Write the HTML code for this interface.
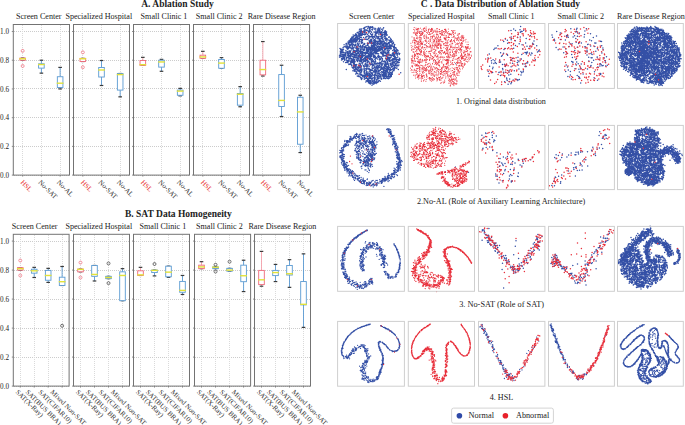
<!DOCTYPE html><html><head><meta charset="utf-8"><style>html,body{margin:0;padding:0;background:#fff;width:685px;height:425px;overflow:hidden}svg{display:block}text{font-family:"Liberation Serif",serif}</style></head><body>
<svg width="685" height="425" viewBox="0 0 685 425">
<rect width="685" height="425" fill="#fff"/>
<text x="141.20" y="7.00" font-size="9.5" font-weight="bold" fill="#222" text-anchor="start" >A. Ablation Study</text>
<text x="125.00" y="217.40" font-size="9.5" font-weight="bold" fill="#222" text-anchor="start" >B. SAT Data Homogeneity</text>
<text x="420.80" y="7.20" font-size="9.5" font-weight="bold" fill="#222" text-anchor="start" >C . Data Distribution of Ablation Study</text>
<text x="15.90" y="19.00" font-size="8.1" fill="#222" text-anchor="start" >Screen Center</text>
<text x="65.40" y="19.00" font-size="8.1" fill="#222" text-anchor="start" >Specialized Hospital</text>
<text x="140.60" y="19.00" font-size="8.1" fill="#222" text-anchor="start" >Small Clinic 1</text>
<text x="195.80" y="19.00" font-size="8.1" fill="#222" text-anchor="start" >Small Clinic 2</text>
<text x="247.70" y="19.00" font-size="8.1" fill="#222" text-anchor="start" >Rare Disease Region</text>
<text x="11.80" y="228.80" font-size="8.1" fill="#222" text-anchor="start" >Screen Center</text>
<text x="65.40" y="228.80" font-size="8.1" fill="#222" text-anchor="start" >Specialized Hospital</text>
<text x="139.50" y="228.80" font-size="8.1" fill="#222" text-anchor="start" >Small Clinic 1</text>
<text x="196.00" y="228.80" font-size="8.1" fill="#222" text-anchor="start" >Small Clinic 2</text>
<text x="248.40" y="228.80" font-size="8.1" fill="#222" text-anchor="start" >Rare Disease Region</text>
<line x1="14" y1="175.50" x2="69.50" y2="175.50" stroke="#cccccc" stroke-width="1" stroke-dasharray="1,1"/>
<line x1="14" y1="146.50" x2="69.50" y2="146.50" stroke="#cccccc" stroke-width="1" stroke-dasharray="1,1"/>
<line x1="14" y1="117.50" x2="69.50" y2="117.50" stroke="#cccccc" stroke-width="1" stroke-dasharray="1,1"/>
<line x1="14" y1="88.50" x2="69.50" y2="88.50" stroke="#cccccc" stroke-width="1" stroke-dasharray="1,1"/>
<line x1="14" y1="60.50" x2="69.50" y2="60.50" stroke="#cccccc" stroke-width="1" stroke-dasharray="1,1"/>
<line x1="14" y1="31.50" x2="69.50" y2="31.50" stroke="#cccccc" stroke-width="1" stroke-dasharray="1,1"/>
<line x1="22.50" y1="25" x2="22.50" y2="175.10" stroke="#dadada" stroke-width="1" stroke-dasharray="1,1"/>
<line x1="41.50" y1="25" x2="41.50" y2="175.10" stroke="#dadada" stroke-width="1" stroke-dasharray="1,1"/>
<line x1="60.50" y1="25" x2="60.50" y2="175.10" stroke="#dadada" stroke-width="1" stroke-dasharray="1,1"/>
<line x1="22.67" y1="58.07" x2="22.67" y2="58.07" stroke="#f4a0aa" stroke-width="0.9"/>
<line x1="22.67" y1="60.22" x2="22.67" y2="60.22" stroke="#f4a0aa" stroke-width="0.9"/>
<line x1="20.87" y1="58.07" x2="24.47" y2="58.07" stroke="#3a3a3a" stroke-width="1.2"/>
<line x1="20.87" y1="60.22" x2="24.47" y2="60.22" stroke="#3a3a3a" stroke-width="1.2"/>
<rect x="19.87" y="58.07" width="5.60" height="2.15" fill="#fff" stroke="#f06878" stroke-width="0.9"/>
<line x1="19.27" y1="58.78" x2="26.07" y2="58.78" stroke="#e2e23a" stroke-width="1.4"/>
<circle cx="22.67" cy="50.89" r="1.5" fill="none" stroke="#f06878" stroke-width="0.7"/>
<circle cx="22.67" cy="65.96" r="1.5" fill="none" stroke="#f06878" stroke-width="0.7"/>
<line x1="41.40" y1="60.22" x2="41.40" y2="63.81" stroke="#5a9ad2" stroke-width="0.9"/>
<line x1="41.40" y1="68.12" x2="41.40" y2="73.14" stroke="#5a9ad2" stroke-width="0.9"/>
<line x1="39.60" y1="60.22" x2="43.20" y2="60.22" stroke="#3a3a3a" stroke-width="1.2"/>
<line x1="39.60" y1="73.14" x2="43.20" y2="73.14" stroke="#3a3a3a" stroke-width="1.2"/>
<rect x="38.60" y="63.81" width="5.60" height="4.31" fill="#fff" stroke="#5a9ad2" stroke-width="0.9"/>
<line x1="38.00" y1="64.53" x2="44.80" y2="64.53" stroke="#e2e23a" stroke-width="1.4"/>
<line x1="60.13" y1="67.40" x2="60.13" y2="76.73" stroke="#5a9ad2" stroke-width="0.9"/>
<line x1="60.13" y1="87.50" x2="60.13" y2="88.94" stroke="#5a9ad2" stroke-width="0.9"/>
<line x1="58.33" y1="67.40" x2="61.93" y2="67.40" stroke="#3a3a3a" stroke-width="1.2"/>
<line x1="58.33" y1="88.94" x2="61.93" y2="88.94" stroke="#3a3a3a" stroke-width="1.2"/>
<rect x="57.33" y="76.73" width="5.60" height="10.77" fill="#fff" stroke="#5a9ad2" stroke-width="0.9"/>
<line x1="56.73" y1="83.20" x2="63.53" y2="83.20" stroke="#e2e23a" stroke-width="1.4"/>
<rect x="13.30" y="24.50" width="56.20" height="150.60" fill="none" stroke="#737373" stroke-width="1"/>
<line x1="11.80" y1="175.10" x2="13.30" y2="175.10" stroke="#737373" stroke-width="0.8"/>
<line x1="11.80" y1="146.38" x2="13.30" y2="146.38" stroke="#737373" stroke-width="0.8"/>
<line x1="11.80" y1="117.66" x2="13.30" y2="117.66" stroke="#737373" stroke-width="0.8"/>
<line x1="11.80" y1="88.94" x2="13.30" y2="88.94" stroke="#737373" stroke-width="0.8"/>
<line x1="11.80" y1="60.22" x2="13.30" y2="60.22" stroke="#737373" stroke-width="0.8"/>
<line x1="11.80" y1="31.50" x2="13.30" y2="31.50" stroke="#737373" stroke-width="0.8"/>
<line x1="22.67" y1="175.10" x2="22.67" y2="176.60" stroke="#737373" stroke-width="0.8"/>
<text transform="translate(20.27,182.70) rotate(45)" font-size="7.0" fill="#e82a2a">HSL</text>
<line x1="41.40" y1="175.10" x2="41.40" y2="176.60" stroke="#737373" stroke-width="0.8"/>
<text transform="translate(38.00,182.70) rotate(45)" font-size="7.0" fill="#333">No-SAT</text>
<line x1="60.13" y1="175.10" x2="60.13" y2="176.60" stroke="#737373" stroke-width="0.8"/>
<text transform="translate(56.53,182.70) rotate(45)" font-size="7.0" fill="#333">No-AL</text>
<text x="9.10" y="177.70" font-size="7.2" fill="#222" text-anchor="end" >0.0</text>
<text x="9.10" y="148.98" font-size="7.2" fill="#222" text-anchor="end" >0.2</text>
<text x="9.10" y="120.26" font-size="7.2" fill="#222" text-anchor="end" >0.4</text>
<text x="9.10" y="91.54" font-size="7.2" fill="#222" text-anchor="end" >0.6</text>
<text x="9.10" y="62.82" font-size="7.2" fill="#222" text-anchor="end" >0.8</text>
<text x="9.10" y="34.10" font-size="7.2" fill="#222" text-anchor="end" >1.0</text>
<line x1="74" y1="175.50" x2="129.50" y2="175.50" stroke="#cccccc" stroke-width="1" stroke-dasharray="1,1"/>
<line x1="74" y1="146.50" x2="129.50" y2="146.50" stroke="#cccccc" stroke-width="1" stroke-dasharray="1,1"/>
<line x1="74" y1="117.50" x2="129.50" y2="117.50" stroke="#cccccc" stroke-width="1" stroke-dasharray="1,1"/>
<line x1="74" y1="88.50" x2="129.50" y2="88.50" stroke="#cccccc" stroke-width="1" stroke-dasharray="1,1"/>
<line x1="74" y1="60.50" x2="129.50" y2="60.50" stroke="#cccccc" stroke-width="1" stroke-dasharray="1,1"/>
<line x1="74" y1="31.50" x2="129.50" y2="31.50" stroke="#cccccc" stroke-width="1" stroke-dasharray="1,1"/>
<line x1="82.50" y1="25" x2="82.50" y2="175.10" stroke="#dadada" stroke-width="1" stroke-dasharray="1,1"/>
<line x1="101.50" y1="25" x2="101.50" y2="175.10" stroke="#dadada" stroke-width="1" stroke-dasharray="1,1"/>
<line x1="120.50" y1="25" x2="120.50" y2="175.10" stroke="#dadada" stroke-width="1" stroke-dasharray="1,1"/>
<line x1="82.83" y1="58.35" x2="82.83" y2="58.35" stroke="#f4a0aa" stroke-width="0.9"/>
<line x1="82.83" y1="61.51" x2="82.83" y2="61.51" stroke="#f4a0aa" stroke-width="0.9"/>
<line x1="81.03" y1="58.35" x2="84.63" y2="58.35" stroke="#3a3a3a" stroke-width="1.2"/>
<line x1="81.03" y1="61.51" x2="84.63" y2="61.51" stroke="#3a3a3a" stroke-width="1.2"/>
<rect x="80.03" y="58.35" width="5.60" height="3.16" fill="#fff" stroke="#f06878" stroke-width="0.9"/>
<line x1="79.43" y1="58.78" x2="86.23" y2="58.78" stroke="#e2e23a" stroke-width="1.4"/>
<circle cx="82.83" cy="52.32" r="1.5" fill="none" stroke="#f06878" stroke-width="0.7"/>
<circle cx="82.83" cy="67.26" r="1.5" fill="none" stroke="#f06878" stroke-width="0.7"/>
<line x1="101.50" y1="60.51" x2="101.50" y2="67.54" stroke="#5a9ad2" stroke-width="0.9"/>
<line x1="101.50" y1="77.02" x2="101.50" y2="85.49" stroke="#5a9ad2" stroke-width="0.9"/>
<line x1="99.70" y1="60.51" x2="103.30" y2="60.51" stroke="#3a3a3a" stroke-width="1.2"/>
<line x1="99.70" y1="85.49" x2="103.30" y2="85.49" stroke="#3a3a3a" stroke-width="1.2"/>
<rect x="98.70" y="67.54" width="5.60" height="9.48" fill="#fff" stroke="#5a9ad2" stroke-width="0.9"/>
<line x1="98.10" y1="69.98" x2="104.90" y2="69.98" stroke="#e2e23a" stroke-width="1.4"/>
<line x1="120.17" y1="73.50" x2="120.17" y2="73.50" stroke="#5a9ad2" stroke-width="0.9"/>
<line x1="120.17" y1="90.09" x2="120.17" y2="96.84" stroke="#5a9ad2" stroke-width="0.9"/>
<line x1="118.37" y1="73.50" x2="121.97" y2="73.50" stroke="#3a3a3a" stroke-width="1.2"/>
<line x1="118.37" y1="96.84" x2="121.97" y2="96.84" stroke="#3a3a3a" stroke-width="1.2"/>
<rect x="117.37" y="73.50" width="5.60" height="16.59" fill="#fff" stroke="#5a9ad2" stroke-width="0.9"/>
<line x1="116.77" y1="74.58" x2="123.57" y2="74.58" stroke="#e2e23a" stroke-width="1.4"/>
<rect x="73.50" y="24.50" width="56.00" height="150.60" fill="none" stroke="#737373" stroke-width="1"/>
<line x1="72.00" y1="175.10" x2="73.50" y2="175.10" stroke="#737373" stroke-width="0.8"/>
<line x1="72.00" y1="146.38" x2="73.50" y2="146.38" stroke="#737373" stroke-width="0.8"/>
<line x1="72.00" y1="117.66" x2="73.50" y2="117.66" stroke="#737373" stroke-width="0.8"/>
<line x1="72.00" y1="88.94" x2="73.50" y2="88.94" stroke="#737373" stroke-width="0.8"/>
<line x1="72.00" y1="60.22" x2="73.50" y2="60.22" stroke="#737373" stroke-width="0.8"/>
<line x1="72.00" y1="31.50" x2="73.50" y2="31.50" stroke="#737373" stroke-width="0.8"/>
<line x1="82.83" y1="175.10" x2="82.83" y2="176.60" stroke="#737373" stroke-width="0.8"/>
<text transform="translate(80.43,182.70) rotate(45)" font-size="7.0" fill="#e82a2a">HSL</text>
<line x1="101.50" y1="175.10" x2="101.50" y2="176.60" stroke="#737373" stroke-width="0.8"/>
<text transform="translate(98.10,182.70) rotate(45)" font-size="7.0" fill="#333">No-SAT</text>
<line x1="120.17" y1="175.10" x2="120.17" y2="176.60" stroke="#737373" stroke-width="0.8"/>
<text transform="translate(116.57,182.70) rotate(45)" font-size="7.0" fill="#333">No-AL</text>
<line x1="134" y1="175.50" x2="189.50" y2="175.50" stroke="#cccccc" stroke-width="1" stroke-dasharray="1,1"/>
<line x1="134" y1="146.50" x2="189.50" y2="146.50" stroke="#cccccc" stroke-width="1" stroke-dasharray="1,1"/>
<line x1="134" y1="117.50" x2="189.50" y2="117.50" stroke="#cccccc" stroke-width="1" stroke-dasharray="1,1"/>
<line x1="134" y1="88.50" x2="189.50" y2="88.50" stroke="#cccccc" stroke-width="1" stroke-dasharray="1,1"/>
<line x1="134" y1="60.50" x2="189.50" y2="60.50" stroke="#cccccc" stroke-width="1" stroke-dasharray="1,1"/>
<line x1="134" y1="31.50" x2="189.50" y2="31.50" stroke="#cccccc" stroke-width="1" stroke-dasharray="1,1"/>
<line x1="142.50" y1="25" x2="142.50" y2="175.10" stroke="#dadada" stroke-width="1" stroke-dasharray="1,1"/>
<line x1="161.50" y1="25" x2="161.50" y2="175.10" stroke="#dadada" stroke-width="1" stroke-dasharray="1,1"/>
<line x1="180.50" y1="25" x2="180.50" y2="175.10" stroke="#dadada" stroke-width="1" stroke-dasharray="1,1"/>
<line x1="142.83" y1="57.35" x2="142.83" y2="60.51" stroke="#f4a0aa" stroke-width="0.9"/>
<line x1="142.83" y1="65.39" x2="142.83" y2="65.39" stroke="#f4a0aa" stroke-width="0.9"/>
<line x1="141.03" y1="57.35" x2="144.63" y2="57.35" stroke="#3a3a3a" stroke-width="1.2"/>
<line x1="141.03" y1="65.39" x2="144.63" y2="65.39" stroke="#3a3a3a" stroke-width="1.2"/>
<rect x="140.03" y="60.51" width="5.60" height="4.88" fill="#fff" stroke="#f06878" stroke-width="0.9"/>
<line x1="139.43" y1="64.67" x2="146.23" y2="64.67" stroke="#e2e23a" stroke-width="1.4"/>
<line x1="161.50" y1="59.36" x2="161.50" y2="60.22" stroke="#5a9ad2" stroke-width="0.9"/>
<line x1="161.50" y1="67.11" x2="161.50" y2="71.28" stroke="#5a9ad2" stroke-width="0.9"/>
<line x1="159.70" y1="59.36" x2="163.30" y2="59.36" stroke="#3a3a3a" stroke-width="1.2"/>
<line x1="159.70" y1="71.28" x2="163.30" y2="71.28" stroke="#3a3a3a" stroke-width="1.2"/>
<rect x="158.70" y="60.22" width="5.60" height="6.89" fill="#fff" stroke="#5a9ad2" stroke-width="0.9"/>
<line x1="158.10" y1="61.94" x2="164.90" y2="61.94" stroke="#e2e23a" stroke-width="1.4"/>
<line x1="180.17" y1="88.37" x2="180.17" y2="90.09" stroke="#5a9ad2" stroke-width="0.9"/>
<line x1="180.17" y1="95.26" x2="180.17" y2="95.83" stroke="#5a9ad2" stroke-width="0.9"/>
<line x1="178.37" y1="88.37" x2="181.97" y2="88.37" stroke="#3a3a3a" stroke-width="1.2"/>
<line x1="178.37" y1="95.83" x2="181.97" y2="95.83" stroke="#3a3a3a" stroke-width="1.2"/>
<rect x="177.37" y="90.09" width="5.60" height="5.17" fill="#fff" stroke="#5a9ad2" stroke-width="0.9"/>
<line x1="176.77" y1="91.09" x2="183.57" y2="91.09" stroke="#e2e23a" stroke-width="1.4"/>
<rect x="133.50" y="24.50" width="56.00" height="150.60" fill="none" stroke="#737373" stroke-width="1"/>
<line x1="132.00" y1="175.10" x2="133.50" y2="175.10" stroke="#737373" stroke-width="0.8"/>
<line x1="132.00" y1="146.38" x2="133.50" y2="146.38" stroke="#737373" stroke-width="0.8"/>
<line x1="132.00" y1="117.66" x2="133.50" y2="117.66" stroke="#737373" stroke-width="0.8"/>
<line x1="132.00" y1="88.94" x2="133.50" y2="88.94" stroke="#737373" stroke-width="0.8"/>
<line x1="132.00" y1="60.22" x2="133.50" y2="60.22" stroke="#737373" stroke-width="0.8"/>
<line x1="132.00" y1="31.50" x2="133.50" y2="31.50" stroke="#737373" stroke-width="0.8"/>
<line x1="142.83" y1="175.10" x2="142.83" y2="176.60" stroke="#737373" stroke-width="0.8"/>
<text transform="translate(140.43,182.70) rotate(45)" font-size="7.0" fill="#e82a2a">HSL</text>
<line x1="161.50" y1="175.10" x2="161.50" y2="176.60" stroke="#737373" stroke-width="0.8"/>
<text transform="translate(158.10,182.70) rotate(45)" font-size="7.0" fill="#333">No-SAT</text>
<line x1="180.17" y1="175.10" x2="180.17" y2="176.60" stroke="#737373" stroke-width="0.8"/>
<text transform="translate(176.57,182.70) rotate(45)" font-size="7.0" fill="#333">No-AL</text>
<line x1="194" y1="175.50" x2="249.50" y2="175.50" stroke="#cccccc" stroke-width="1" stroke-dasharray="1,1"/>
<line x1="194" y1="146.50" x2="249.50" y2="146.50" stroke="#cccccc" stroke-width="1" stroke-dasharray="1,1"/>
<line x1="194" y1="117.50" x2="249.50" y2="117.50" stroke="#cccccc" stroke-width="1" stroke-dasharray="1,1"/>
<line x1="194" y1="88.50" x2="249.50" y2="88.50" stroke="#cccccc" stroke-width="1" stroke-dasharray="1,1"/>
<line x1="194" y1="60.50" x2="249.50" y2="60.50" stroke="#cccccc" stroke-width="1" stroke-dasharray="1,1"/>
<line x1="194" y1="31.50" x2="249.50" y2="31.50" stroke="#cccccc" stroke-width="1" stroke-dasharray="1,1"/>
<line x1="202.50" y1="25" x2="202.50" y2="175.10" stroke="#dadada" stroke-width="1" stroke-dasharray="1,1"/>
<line x1="221.50" y1="25" x2="221.50" y2="175.10" stroke="#dadada" stroke-width="1" stroke-dasharray="1,1"/>
<line x1="240.50" y1="25" x2="240.50" y2="175.10" stroke="#dadada" stroke-width="1" stroke-dasharray="1,1"/>
<line x1="202.83" y1="51.32" x2="202.83" y2="55.19" stroke="#f4a0aa" stroke-width="0.9"/>
<line x1="202.83" y1="58.35" x2="202.83" y2="58.35" stroke="#f4a0aa" stroke-width="0.9"/>
<line x1="201.03" y1="51.32" x2="204.63" y2="51.32" stroke="#3a3a3a" stroke-width="1.2"/>
<line x1="201.03" y1="58.35" x2="204.63" y2="58.35" stroke="#3a3a3a" stroke-width="1.2"/>
<rect x="200.03" y="55.19" width="5.60" height="3.16" fill="#fff" stroke="#f06878" stroke-width="0.9"/>
<line x1="199.43" y1="56.92" x2="206.23" y2="56.92" stroke="#e2e23a" stroke-width="1.4"/>
<line x1="221.50" y1="57.64" x2="221.50" y2="59.50" stroke="#5a9ad2" stroke-width="0.9"/>
<line x1="221.50" y1="68.26" x2="221.50" y2="68.26" stroke="#5a9ad2" stroke-width="0.9"/>
<line x1="219.70" y1="57.64" x2="223.30" y2="57.64" stroke="#3a3a3a" stroke-width="1.2"/>
<line x1="219.70" y1="68.26" x2="223.30" y2="68.26" stroke="#3a3a3a" stroke-width="1.2"/>
<rect x="218.70" y="59.50" width="5.60" height="8.76" fill="#fff" stroke="#5a9ad2" stroke-width="0.9"/>
<line x1="218.10" y1="63.09" x2="224.90" y2="63.09" stroke="#e2e23a" stroke-width="1.4"/>
<line x1="240.17" y1="86.64" x2="240.17" y2="93.54" stroke="#5a9ad2" stroke-width="0.9"/>
<line x1="240.17" y1="105.17" x2="240.17" y2="106.75" stroke="#5a9ad2" stroke-width="0.9"/>
<line x1="238.37" y1="86.64" x2="241.97" y2="86.64" stroke="#3a3a3a" stroke-width="1.2"/>
<line x1="238.37" y1="106.75" x2="241.97" y2="106.75" stroke="#3a3a3a" stroke-width="1.2"/>
<rect x="237.37" y="93.54" width="5.60" height="11.63" fill="#fff" stroke="#5a9ad2" stroke-width="0.9"/>
<line x1="236.77" y1="94.25" x2="243.57" y2="94.25" stroke="#e2e23a" stroke-width="1.4"/>
<rect x="193.50" y="24.50" width="56.00" height="150.60" fill="none" stroke="#737373" stroke-width="1"/>
<line x1="192.00" y1="175.10" x2="193.50" y2="175.10" stroke="#737373" stroke-width="0.8"/>
<line x1="192.00" y1="146.38" x2="193.50" y2="146.38" stroke="#737373" stroke-width="0.8"/>
<line x1="192.00" y1="117.66" x2="193.50" y2="117.66" stroke="#737373" stroke-width="0.8"/>
<line x1="192.00" y1="88.94" x2="193.50" y2="88.94" stroke="#737373" stroke-width="0.8"/>
<line x1="192.00" y1="60.22" x2="193.50" y2="60.22" stroke="#737373" stroke-width="0.8"/>
<line x1="192.00" y1="31.50" x2="193.50" y2="31.50" stroke="#737373" stroke-width="0.8"/>
<line x1="202.83" y1="175.10" x2="202.83" y2="176.60" stroke="#737373" stroke-width="0.8"/>
<text transform="translate(200.43,182.70) rotate(45)" font-size="7.0" fill="#e82a2a">HSL</text>
<line x1="221.50" y1="175.10" x2="221.50" y2="176.60" stroke="#737373" stroke-width="0.8"/>
<text transform="translate(218.10,182.70) rotate(45)" font-size="7.0" fill="#333">No-SAT</text>
<line x1="240.17" y1="175.10" x2="240.17" y2="176.60" stroke="#737373" stroke-width="0.8"/>
<text transform="translate(236.57,182.70) rotate(45)" font-size="7.0" fill="#333">No-AL</text>
<line x1="254" y1="175.50" x2="309.60" y2="175.50" stroke="#cccccc" stroke-width="1" stroke-dasharray="1,1"/>
<line x1="254" y1="146.50" x2="309.60" y2="146.50" stroke="#cccccc" stroke-width="1" stroke-dasharray="1,1"/>
<line x1="254" y1="117.50" x2="309.60" y2="117.50" stroke="#cccccc" stroke-width="1" stroke-dasharray="1,1"/>
<line x1="254" y1="88.50" x2="309.60" y2="88.50" stroke="#cccccc" stroke-width="1" stroke-dasharray="1,1"/>
<line x1="254" y1="60.50" x2="309.60" y2="60.50" stroke="#cccccc" stroke-width="1" stroke-dasharray="1,1"/>
<line x1="254" y1="31.50" x2="309.60" y2="31.50" stroke="#cccccc" stroke-width="1" stroke-dasharray="1,1"/>
<line x1="262.50" y1="25" x2="262.50" y2="175.10" stroke="#dadada" stroke-width="1" stroke-dasharray="1,1"/>
<line x1="281.50" y1="25" x2="281.50" y2="175.10" stroke="#dadada" stroke-width="1" stroke-dasharray="1,1"/>
<line x1="300.50" y1="25" x2="300.50" y2="175.10" stroke="#dadada" stroke-width="1" stroke-dasharray="1,1"/>
<line x1="262.85" y1="41.55" x2="262.85" y2="60.22" stroke="#f4a0aa" stroke-width="0.9"/>
<line x1="262.85" y1="74.87" x2="262.85" y2="76.02" stroke="#f4a0aa" stroke-width="0.9"/>
<line x1="261.05" y1="41.55" x2="264.65" y2="41.55" stroke="#3a3a3a" stroke-width="1.2"/>
<line x1="261.05" y1="76.02" x2="264.65" y2="76.02" stroke="#3a3a3a" stroke-width="1.2"/>
<rect x="260.05" y="60.22" width="5.60" height="14.65" fill="#fff" stroke="#f06878" stroke-width="0.9"/>
<line x1="259.45" y1="69.55" x2="266.25" y2="69.55" stroke="#e2e23a" stroke-width="1.4"/>
<line x1="281.55" y1="65.25" x2="281.55" y2="74.58" stroke="#5a9ad2" stroke-width="0.9"/>
<line x1="281.55" y1="106.46" x2="281.55" y2="116.51" stroke="#5a9ad2" stroke-width="0.9"/>
<line x1="279.75" y1="65.25" x2="283.35" y2="65.25" stroke="#3a3a3a" stroke-width="1.2"/>
<line x1="279.75" y1="116.51" x2="283.35" y2="116.51" stroke="#3a3a3a" stroke-width="1.2"/>
<rect x="278.75" y="74.58" width="5.60" height="31.88" fill="#fff" stroke="#5a9ad2" stroke-width="0.9"/>
<line x1="278.15" y1="100.43" x2="284.95" y2="100.43" stroke="#e2e23a" stroke-width="1.4"/>
<line x1="300.25" y1="95.26" x2="300.25" y2="97.27" stroke="#5a9ad2" stroke-width="0.9"/>
<line x1="300.25" y1="144.23" x2="300.25" y2="152.55" stroke="#5a9ad2" stroke-width="0.9"/>
<line x1="298.45" y1="95.26" x2="302.05" y2="95.26" stroke="#3a3a3a" stroke-width="1.2"/>
<line x1="298.45" y1="152.55" x2="302.05" y2="152.55" stroke="#3a3a3a" stroke-width="1.2"/>
<rect x="297.45" y="97.27" width="5.60" height="46.96" fill="#fff" stroke="#5a9ad2" stroke-width="0.9"/>
<line x1="296.85" y1="111.92" x2="303.65" y2="111.92" stroke="#e2e23a" stroke-width="1.4"/>
<rect x="253.50" y="24.50" width="56.10" height="150.60" fill="none" stroke="#737373" stroke-width="1"/>
<line x1="252.00" y1="175.10" x2="253.50" y2="175.10" stroke="#737373" stroke-width="0.8"/>
<line x1="252.00" y1="146.38" x2="253.50" y2="146.38" stroke="#737373" stroke-width="0.8"/>
<line x1="252.00" y1="117.66" x2="253.50" y2="117.66" stroke="#737373" stroke-width="0.8"/>
<line x1="252.00" y1="88.94" x2="253.50" y2="88.94" stroke="#737373" stroke-width="0.8"/>
<line x1="252.00" y1="60.22" x2="253.50" y2="60.22" stroke="#737373" stroke-width="0.8"/>
<line x1="252.00" y1="31.50" x2="253.50" y2="31.50" stroke="#737373" stroke-width="0.8"/>
<line x1="262.85" y1="175.10" x2="262.85" y2="176.60" stroke="#737373" stroke-width="0.8"/>
<text transform="translate(260.45,182.70) rotate(45)" font-size="7.0" fill="#e82a2a">HSL</text>
<line x1="281.55" y1="175.10" x2="281.55" y2="176.60" stroke="#737373" stroke-width="0.8"/>
<text transform="translate(278.15,182.70) rotate(45)" font-size="7.0" fill="#333">No-SAT</text>
<line x1="300.25" y1="175.10" x2="300.25" y2="176.60" stroke="#737373" stroke-width="0.8"/>
<text transform="translate(296.65,182.70) rotate(45)" font-size="7.0" fill="#333">No-AL</text>
<line x1="14" y1="386.50" x2="69.10" y2="386.50" stroke="#cccccc" stroke-width="1" stroke-dasharray="1,1"/>
<line x1="14" y1="357.50" x2="69.10" y2="357.50" stroke="#cccccc" stroke-width="1" stroke-dasharray="1,1"/>
<line x1="14" y1="328.50" x2="69.10" y2="328.50" stroke="#cccccc" stroke-width="1" stroke-dasharray="1,1"/>
<line x1="14" y1="299.50" x2="69.10" y2="299.50" stroke="#cccccc" stroke-width="1" stroke-dasharray="1,1"/>
<line x1="14" y1="270.50" x2="69.10" y2="270.50" stroke="#cccccc" stroke-width="1" stroke-dasharray="1,1"/>
<line x1="14" y1="241.50" x2="69.10" y2="241.50" stroke="#cccccc" stroke-width="1" stroke-dasharray="1,1"/>
<line x1="20.50" y1="235" x2="20.50" y2="386.10" stroke="#dadada" stroke-width="1" stroke-dasharray="1,1"/>
<line x1="34.50" y1="235" x2="34.50" y2="386.10" stroke="#dadada" stroke-width="1" stroke-dasharray="1,1"/>
<line x1="48.50" y1="235" x2="48.50" y2="386.10" stroke="#dadada" stroke-width="1" stroke-dasharray="1,1"/>
<line x1="62.50" y1="235" x2="62.50" y2="386.10" stroke="#dadada" stroke-width="1" stroke-dasharray="1,1"/>
<line x1="20.27" y1="267.63" x2="20.27" y2="267.63" stroke="#f4a0aa" stroke-width="0.9"/>
<line x1="20.27" y1="270.10" x2="20.27" y2="270.10" stroke="#f4a0aa" stroke-width="0.9"/>
<line x1="18.47" y1="267.63" x2="22.07" y2="267.63" stroke="#3a3a3a" stroke-width="1.2"/>
<line x1="18.47" y1="270.10" x2="22.07" y2="270.10" stroke="#3a3a3a" stroke-width="1.2"/>
<rect x="17.47" y="267.63" width="5.60" height="2.47" fill="#fff" stroke="#f06878" stroke-width="0.9"/>
<line x1="16.87" y1="268.65" x2="23.68" y2="268.65" stroke="#e2e23a" stroke-width="1.4"/>
<circle cx="20.27" cy="260.53" r="1.5" fill="none" stroke="#f06878" stroke-width="0.7"/>
<circle cx="20.27" cy="275.47" r="1.5" fill="none" stroke="#f06878" stroke-width="0.7"/>
<line x1="34.22" y1="267.35" x2="34.22" y2="269.23" stroke="#5a9ad2" stroke-width="0.9"/>
<line x1="34.22" y1="273.14" x2="34.22" y2="277.50" stroke="#5a9ad2" stroke-width="0.9"/>
<line x1="32.42" y1="267.35" x2="36.02" y2="267.35" stroke="#3a3a3a" stroke-width="1.2"/>
<line x1="32.42" y1="277.50" x2="36.02" y2="277.50" stroke="#3a3a3a" stroke-width="1.2"/>
<rect x="31.42" y="269.23" width="5.60" height="3.91" fill="#fff" stroke="#5a9ad2" stroke-width="0.9"/>
<line x1="30.82" y1="270.82" x2="37.62" y2="270.82" stroke="#e2e23a" stroke-width="1.4"/>
<line x1="48.17" y1="268.36" x2="48.17" y2="270.39" stroke="#5a9ad2" stroke-width="0.9"/>
<line x1="48.17" y1="280.25" x2="48.17" y2="282.43" stroke="#5a9ad2" stroke-width="0.9"/>
<line x1="46.38" y1="268.36" x2="49.97" y2="268.36" stroke="#3a3a3a" stroke-width="1.2"/>
<line x1="46.38" y1="282.43" x2="49.97" y2="282.43" stroke="#3a3a3a" stroke-width="1.2"/>
<rect x="45.38" y="270.39" width="5.60" height="9.86" fill="#fff" stroke="#5a9ad2" stroke-width="0.9"/>
<line x1="44.77" y1="275.47" x2="51.57" y2="275.47" stroke="#e2e23a" stroke-width="1.4"/>
<line x1="62.12" y1="266.48" x2="62.12" y2="277.20" stroke="#5a9ad2" stroke-width="0.9"/>
<line x1="62.12" y1="285.47" x2="62.12" y2="285.47" stroke="#5a9ad2" stroke-width="0.9"/>
<line x1="60.33" y1="266.48" x2="63.92" y2="266.48" stroke="#3a3a3a" stroke-width="1.2"/>
<line x1="60.33" y1="285.47" x2="63.92" y2="285.47" stroke="#3a3a3a" stroke-width="1.2"/>
<rect x="59.33" y="277.20" width="5.60" height="8.27" fill="#fff" stroke="#5a9ad2" stroke-width="0.9"/>
<line x1="58.73" y1="281.70" x2="65.52" y2="281.70" stroke="#e2e23a" stroke-width="1.4"/>
<circle cx="62.12" cy="325.78" r="1.5" fill="none" stroke="#3a3a3a" stroke-width="0.7"/>
<rect x="13.30" y="234.30" width="55.80" height="151.80" fill="none" stroke="#737373" stroke-width="1"/>
<line x1="11.80" y1="386.10" x2="13.30" y2="386.10" stroke="#737373" stroke-width="0.8"/>
<line x1="11.80" y1="357.10" x2="13.30" y2="357.10" stroke="#737373" stroke-width="0.8"/>
<line x1="11.80" y1="328.10" x2="13.30" y2="328.10" stroke="#737373" stroke-width="0.8"/>
<line x1="11.80" y1="299.10" x2="13.30" y2="299.10" stroke="#737373" stroke-width="0.8"/>
<line x1="11.80" y1="270.10" x2="13.30" y2="270.10" stroke="#737373" stroke-width="0.8"/>
<line x1="11.80" y1="241.10" x2="13.30" y2="241.10" stroke="#737373" stroke-width="0.8"/>
<line x1="20.27" y1="386.10" x2="20.27" y2="387.60" stroke="#737373" stroke-width="0.8"/>
<text transform="translate(15.27,392.40) rotate(45)" font-size="7.0" fill="#333">SAT(X-Ray)</text>
<line x1="34.22" y1="386.10" x2="34.22" y2="387.60" stroke="#737373" stroke-width="0.8"/>
<text transform="translate(25.32,392.40) rotate(45)" font-size="7.0" fill="#333">SAT(BUS BRA)</text>
<line x1="48.17" y1="386.10" x2="48.17" y2="387.60" stroke="#737373" stroke-width="0.8"/>
<text transform="translate(37.98,392.40) rotate(45)" font-size="7.0" fill="#333">SAT(CIFAR10)</text>
<line x1="62.12" y1="386.10" x2="62.12" y2="387.60" stroke="#737373" stroke-width="0.8"/>
<text transform="translate(50.12,392.40) rotate(45)" font-size="7.0" fill="#333">Mixed Non-SAT</text>
<text x="9.10" y="388.70" font-size="7.2" fill="#222" text-anchor="end" >0.0</text>
<text x="9.10" y="359.70" font-size="7.2" fill="#222" text-anchor="end" >0.2</text>
<text x="9.10" y="330.70" font-size="7.2" fill="#222" text-anchor="end" >0.4</text>
<text x="9.10" y="301.70" font-size="7.2" fill="#222" text-anchor="end" >0.6</text>
<text x="9.10" y="272.70" font-size="7.2" fill="#222" text-anchor="end" >0.8</text>
<text x="9.10" y="243.70" font-size="7.2" fill="#222" text-anchor="end" >1.0</text>
<line x1="74" y1="386.50" x2="129.50" y2="386.50" stroke="#cccccc" stroke-width="1" stroke-dasharray="1,1"/>
<line x1="74" y1="357.50" x2="129.50" y2="357.50" stroke="#cccccc" stroke-width="1" stroke-dasharray="1,1"/>
<line x1="74" y1="328.50" x2="129.50" y2="328.50" stroke="#cccccc" stroke-width="1" stroke-dasharray="1,1"/>
<line x1="74" y1="299.50" x2="129.50" y2="299.50" stroke="#cccccc" stroke-width="1" stroke-dasharray="1,1"/>
<line x1="74" y1="270.50" x2="129.50" y2="270.50" stroke="#cccccc" stroke-width="1" stroke-dasharray="1,1"/>
<line x1="74" y1="241.50" x2="129.50" y2="241.50" stroke="#cccccc" stroke-width="1" stroke-dasharray="1,1"/>
<line x1="80.50" y1="235" x2="80.50" y2="386.10" stroke="#dadada" stroke-width="1" stroke-dasharray="1,1"/>
<line x1="94.50" y1="235" x2="94.50" y2="386.10" stroke="#dadada" stroke-width="1" stroke-dasharray="1,1"/>
<line x1="108.50" y1="235" x2="108.50" y2="386.10" stroke="#dadada" stroke-width="1" stroke-dasharray="1,1"/>
<line x1="122.50" y1="235" x2="122.50" y2="386.10" stroke="#dadada" stroke-width="1" stroke-dasharray="1,1"/>
<line x1="80.50" y1="269.08" x2="80.50" y2="269.08" stroke="#f4a0aa" stroke-width="0.9"/>
<line x1="80.50" y1="271.84" x2="80.50" y2="271.84" stroke="#f4a0aa" stroke-width="0.9"/>
<line x1="78.70" y1="269.08" x2="82.30" y2="269.08" stroke="#3a3a3a" stroke-width="1.2"/>
<line x1="78.70" y1="271.84" x2="82.30" y2="271.84" stroke="#3a3a3a" stroke-width="1.2"/>
<rect x="77.70" y="269.08" width="5.60" height="2.75" fill="#fff" stroke="#f06878" stroke-width="0.9"/>
<line x1="77.10" y1="269.38" x2="83.90" y2="269.38" stroke="#e2e23a" stroke-width="1.4"/>
<circle cx="80.50" cy="262.56" r="1.5" fill="none" stroke="#f06878" stroke-width="0.7"/>
<circle cx="80.50" cy="277.50" r="1.5" fill="none" stroke="#f06878" stroke-width="0.7"/>
<line x1="94.50" y1="265.46" x2="94.50" y2="265.46" stroke="#5a9ad2" stroke-width="0.9"/>
<line x1="94.50" y1="276.33" x2="94.50" y2="280.98" stroke="#5a9ad2" stroke-width="0.9"/>
<line x1="92.70" y1="265.46" x2="96.30" y2="265.46" stroke="#3a3a3a" stroke-width="1.2"/>
<line x1="92.70" y1="280.98" x2="96.30" y2="280.98" stroke="#3a3a3a" stroke-width="1.2"/>
<rect x="91.70" y="265.46" width="5.60" height="10.87" fill="#fff" stroke="#5a9ad2" stroke-width="0.9"/>
<line x1="91.10" y1="274.45" x2="97.90" y2="274.45" stroke="#e2e23a" stroke-width="1.4"/>
<line x1="108.50" y1="276.33" x2="108.50" y2="276.33" stroke="#5a9ad2" stroke-width="0.9"/>
<line x1="108.50" y1="278.65" x2="108.50" y2="278.65" stroke="#5a9ad2" stroke-width="0.9"/>
<line x1="106.70" y1="276.33" x2="110.30" y2="276.33" stroke="#3a3a3a" stroke-width="1.2"/>
<line x1="106.70" y1="278.65" x2="110.30" y2="278.65" stroke="#3a3a3a" stroke-width="1.2"/>
<rect x="105.70" y="276.33" width="5.60" height="2.32" fill="#fff" stroke="#5a9ad2" stroke-width="0.9"/>
<line x1="105.10" y1="277.50" x2="111.90" y2="277.50" stroke="#e2e23a" stroke-width="1.4"/>
<circle cx="108.50" cy="263.43" r="1.5" fill="none" stroke="#3a3a3a" stroke-width="0.7"/>
<circle cx="108.50" cy="283.15" r="1.5" fill="none" stroke="#3a3a3a" stroke-width="0.7"/>
<line x1="122.50" y1="268.65" x2="122.50" y2="271.84" stroke="#5a9ad2" stroke-width="0.9"/>
<line x1="122.50" y1="300.69" x2="122.50" y2="300.69" stroke="#5a9ad2" stroke-width="0.9"/>
<line x1="120.70" y1="268.65" x2="124.30" y2="268.65" stroke="#3a3a3a" stroke-width="1.2"/>
<line x1="120.70" y1="300.69" x2="124.30" y2="300.69" stroke="#3a3a3a" stroke-width="1.2"/>
<rect x="119.70" y="271.84" width="5.60" height="28.86" fill="#fff" stroke="#5a9ad2" stroke-width="0.9"/>
<line x1="119.10" y1="275.47" x2="125.90" y2="275.47" stroke="#e2e23a" stroke-width="1.4"/>
<rect x="73.50" y="234.30" width="56.00" height="151.80" fill="none" stroke="#737373" stroke-width="1"/>
<line x1="72.00" y1="386.10" x2="73.50" y2="386.10" stroke="#737373" stroke-width="0.8"/>
<line x1="72.00" y1="357.10" x2="73.50" y2="357.10" stroke="#737373" stroke-width="0.8"/>
<line x1="72.00" y1="328.10" x2="73.50" y2="328.10" stroke="#737373" stroke-width="0.8"/>
<line x1="72.00" y1="299.10" x2="73.50" y2="299.10" stroke="#737373" stroke-width="0.8"/>
<line x1="72.00" y1="270.10" x2="73.50" y2="270.10" stroke="#737373" stroke-width="0.8"/>
<line x1="72.00" y1="241.10" x2="73.50" y2="241.10" stroke="#737373" stroke-width="0.8"/>
<line x1="80.50" y1="386.10" x2="80.50" y2="387.60" stroke="#737373" stroke-width="0.8"/>
<text transform="translate(75.50,392.40) rotate(45)" font-size="7.0" fill="#333">SAT(X-Ray)</text>
<line x1="94.50" y1="386.10" x2="94.50" y2="387.60" stroke="#737373" stroke-width="0.8"/>
<text transform="translate(85.60,392.40) rotate(45)" font-size="7.0" fill="#333">SAT(BUS BRA)</text>
<line x1="108.50" y1="386.10" x2="108.50" y2="387.60" stroke="#737373" stroke-width="0.8"/>
<text transform="translate(98.30,392.40) rotate(45)" font-size="7.0" fill="#333">SAT(CIFAR10)</text>
<line x1="122.50" y1="386.10" x2="122.50" y2="387.60" stroke="#737373" stroke-width="0.8"/>
<text transform="translate(110.50,392.40) rotate(45)" font-size="7.0" fill="#333">Mixed Non-SAT</text>
<line x1="134" y1="386.50" x2="189.50" y2="386.50" stroke="#cccccc" stroke-width="1" stroke-dasharray="1,1"/>
<line x1="134" y1="357.50" x2="189.50" y2="357.50" stroke="#cccccc" stroke-width="1" stroke-dasharray="1,1"/>
<line x1="134" y1="328.50" x2="189.50" y2="328.50" stroke="#cccccc" stroke-width="1" stroke-dasharray="1,1"/>
<line x1="134" y1="299.50" x2="189.50" y2="299.50" stroke="#cccccc" stroke-width="1" stroke-dasharray="1,1"/>
<line x1="134" y1="270.50" x2="189.50" y2="270.50" stroke="#cccccc" stroke-width="1" stroke-dasharray="1,1"/>
<line x1="134" y1="241.50" x2="189.50" y2="241.50" stroke="#cccccc" stroke-width="1" stroke-dasharray="1,1"/>
<line x1="140.50" y1="235" x2="140.50" y2="386.10" stroke="#dadada" stroke-width="1" stroke-dasharray="1,1"/>
<line x1="154.50" y1="235" x2="154.50" y2="386.10" stroke="#dadada" stroke-width="1" stroke-dasharray="1,1"/>
<line x1="168.50" y1="235" x2="168.50" y2="386.10" stroke="#dadada" stroke-width="1" stroke-dasharray="1,1"/>
<line x1="182.50" y1="235" x2="182.50" y2="386.10" stroke="#dadada" stroke-width="1" stroke-dasharray="1,1"/>
<line x1="140.50" y1="267.35" x2="140.50" y2="270.82" stroke="#f4a0aa" stroke-width="0.9"/>
<line x1="140.50" y1="275.47" x2="140.50" y2="275.47" stroke="#f4a0aa" stroke-width="0.9"/>
<line x1="138.70" y1="267.35" x2="142.30" y2="267.35" stroke="#3a3a3a" stroke-width="1.2"/>
<line x1="138.70" y1="275.47" x2="142.30" y2="275.47" stroke="#3a3a3a" stroke-width="1.2"/>
<rect x="137.70" y="270.82" width="5.60" height="4.64" fill="#fff" stroke="#f06878" stroke-width="0.9"/>
<line x1="137.10" y1="274.88" x2="143.90" y2="274.88" stroke="#e2e23a" stroke-width="1.4"/>
<line x1="154.50" y1="270.10" x2="154.50" y2="270.10" stroke="#5a9ad2" stroke-width="0.9"/>
<line x1="154.50" y1="272.56" x2="154.50" y2="275.90" stroke="#5a9ad2" stroke-width="0.9"/>
<line x1="152.70" y1="270.10" x2="156.30" y2="270.10" stroke="#3a3a3a" stroke-width="1.2"/>
<line x1="152.70" y1="275.90" x2="156.30" y2="275.90" stroke="#3a3a3a" stroke-width="1.2"/>
<rect x="151.70" y="270.10" width="5.60" height="2.46" fill="#fff" stroke="#5a9ad2" stroke-width="0.9"/>
<line x1="151.10" y1="270.39" x2="157.90" y2="270.39" stroke="#e2e23a" stroke-width="1.4"/>
<circle cx="154.50" cy="264.01" r="1.5" fill="none" stroke="#3a3a3a" stroke-width="0.7"/>
<line x1="168.50" y1="266.19" x2="168.50" y2="266.19" stroke="#5a9ad2" stroke-width="0.9"/>
<line x1="168.50" y1="276.77" x2="168.50" y2="277.35" stroke="#5a9ad2" stroke-width="0.9"/>
<line x1="166.70" y1="266.19" x2="170.30" y2="266.19" stroke="#3a3a3a" stroke-width="1.2"/>
<line x1="166.70" y1="277.35" x2="170.30" y2="277.35" stroke="#3a3a3a" stroke-width="1.2"/>
<rect x="165.70" y="266.19" width="5.60" height="10.58" fill="#fff" stroke="#5a9ad2" stroke-width="0.9"/>
<line x1="165.10" y1="272.13" x2="171.90" y2="272.13" stroke="#e2e23a" stroke-width="1.4"/>
<line x1="182.50" y1="275.47" x2="182.50" y2="281.41" stroke="#5a9ad2" stroke-width="0.9"/>
<line x1="182.50" y1="292.28" x2="182.50" y2="294.46" stroke="#5a9ad2" stroke-width="0.9"/>
<line x1="180.70" y1="275.47" x2="184.30" y2="275.47" stroke="#3a3a3a" stroke-width="1.2"/>
<line x1="180.70" y1="294.46" x2="184.30" y2="294.46" stroke="#3a3a3a" stroke-width="1.2"/>
<rect x="179.70" y="281.41" width="5.60" height="10.87" fill="#fff" stroke="#5a9ad2" stroke-width="0.9"/>
<line x1="179.10" y1="290.40" x2="185.90" y2="290.40" stroke="#e2e23a" stroke-width="1.4"/>
<rect x="133.50" y="234.30" width="56.00" height="151.80" fill="none" stroke="#737373" stroke-width="1"/>
<line x1="132.00" y1="386.10" x2="133.50" y2="386.10" stroke="#737373" stroke-width="0.8"/>
<line x1="132.00" y1="357.10" x2="133.50" y2="357.10" stroke="#737373" stroke-width="0.8"/>
<line x1="132.00" y1="328.10" x2="133.50" y2="328.10" stroke="#737373" stroke-width="0.8"/>
<line x1="132.00" y1="299.10" x2="133.50" y2="299.10" stroke="#737373" stroke-width="0.8"/>
<line x1="132.00" y1="270.10" x2="133.50" y2="270.10" stroke="#737373" stroke-width="0.8"/>
<line x1="132.00" y1="241.10" x2="133.50" y2="241.10" stroke="#737373" stroke-width="0.8"/>
<line x1="140.50" y1="386.10" x2="140.50" y2="387.60" stroke="#737373" stroke-width="0.8"/>
<text transform="translate(135.50,392.40) rotate(45)" font-size="7.0" fill="#333">SAT(X-Ray)</text>
<line x1="154.50" y1="386.10" x2="154.50" y2="387.60" stroke="#737373" stroke-width="0.8"/>
<text transform="translate(145.60,392.40) rotate(45)" font-size="7.0" fill="#333">SAT(BUS BRA)</text>
<line x1="168.50" y1="386.10" x2="168.50" y2="387.60" stroke="#737373" stroke-width="0.8"/>
<text transform="translate(158.30,392.40) rotate(45)" font-size="7.0" fill="#333">SAT(CIFAR10)</text>
<line x1="182.50" y1="386.10" x2="182.50" y2="387.60" stroke="#737373" stroke-width="0.8"/>
<text transform="translate(170.50,392.40) rotate(45)" font-size="7.0" fill="#333">Mixed Non-SAT</text>
<line x1="195" y1="386.50" x2="250.60" y2="386.50" stroke="#cccccc" stroke-width="1" stroke-dasharray="1,1"/>
<line x1="195" y1="357.50" x2="250.60" y2="357.50" stroke="#cccccc" stroke-width="1" stroke-dasharray="1,1"/>
<line x1="195" y1="328.50" x2="250.60" y2="328.50" stroke="#cccccc" stroke-width="1" stroke-dasharray="1,1"/>
<line x1="195" y1="299.50" x2="250.60" y2="299.50" stroke="#cccccc" stroke-width="1" stroke-dasharray="1,1"/>
<line x1="195" y1="270.50" x2="250.60" y2="270.50" stroke="#cccccc" stroke-width="1" stroke-dasharray="1,1"/>
<line x1="195" y1="241.50" x2="250.60" y2="241.50" stroke="#cccccc" stroke-width="1" stroke-dasharray="1,1"/>
<line x1="201.50" y1="235" x2="201.50" y2="386.10" stroke="#dadada" stroke-width="1" stroke-dasharray="1,1"/>
<line x1="215.50" y1="235" x2="215.50" y2="386.10" stroke="#dadada" stroke-width="1" stroke-dasharray="1,1"/>
<line x1="229.50" y1="235" x2="229.50" y2="386.10" stroke="#dadada" stroke-width="1" stroke-dasharray="1,1"/>
<line x1="243.50" y1="235" x2="243.50" y2="386.10" stroke="#dadada" stroke-width="1" stroke-dasharray="1,1"/>
<line x1="201.51" y1="261.69" x2="201.51" y2="265.17" stroke="#f4a0aa" stroke-width="0.9"/>
<line x1="201.51" y1="268.65" x2="201.51" y2="268.65" stroke="#f4a0aa" stroke-width="0.9"/>
<line x1="199.71" y1="261.69" x2="203.31" y2="261.69" stroke="#3a3a3a" stroke-width="1.2"/>
<line x1="199.71" y1="268.65" x2="203.31" y2="268.65" stroke="#3a3a3a" stroke-width="1.2"/>
<rect x="198.71" y="265.17" width="5.60" height="3.48" fill="#fff" stroke="#f06878" stroke-width="0.9"/>
<line x1="198.11" y1="266.91" x2="204.91" y2="266.91" stroke="#e2e23a" stroke-width="1.4"/>
<line x1="215.54" y1="266.91" x2="215.54" y2="266.91" stroke="#5a9ad2" stroke-width="0.9"/>
<line x1="215.54" y1="268.65" x2="215.54" y2="268.65" stroke="#5a9ad2" stroke-width="0.9"/>
<line x1="213.74" y1="266.91" x2="217.34" y2="266.91" stroke="#3a3a3a" stroke-width="1.2"/>
<line x1="213.74" y1="268.65" x2="217.34" y2="268.65" stroke="#3a3a3a" stroke-width="1.2"/>
<rect x="212.74" y="266.91" width="5.60" height="1.74" fill="#fff" stroke="#5a9ad2" stroke-width="0.9"/>
<line x1="212.14" y1="267.20" x2="218.94" y2="267.20" stroke="#e2e23a" stroke-width="1.4"/>
<circle cx="215.54" cy="264.74" r="1.5" fill="none" stroke="#3a3a3a" stroke-width="0.7"/>
<circle cx="215.54" cy="271.55" r="1.5" fill="none" stroke="#3a3a3a" stroke-width="0.7"/>
<line x1="229.56" y1="268.36" x2="229.56" y2="268.36" stroke="#5a9ad2" stroke-width="0.9"/>
<line x1="229.56" y1="271.12" x2="229.56" y2="271.12" stroke="#5a9ad2" stroke-width="0.9"/>
<line x1="227.76" y1="268.36" x2="231.36" y2="268.36" stroke="#3a3a3a" stroke-width="1.2"/>
<line x1="227.76" y1="271.12" x2="231.36" y2="271.12" stroke="#3a3a3a" stroke-width="1.2"/>
<rect x="226.76" y="268.36" width="5.60" height="2.75" fill="#fff" stroke="#5a9ad2" stroke-width="0.9"/>
<line x1="226.16" y1="270.10" x2="232.96" y2="270.10" stroke="#e2e23a" stroke-width="1.4"/>
<circle cx="229.56" cy="261.69" r="1.5" fill="none" stroke="#3a3a3a" stroke-width="0.7"/>
<line x1="243.59" y1="260.24" x2="243.59" y2="265.17" stroke="#5a9ad2" stroke-width="0.9"/>
<line x1="243.59" y1="281.70" x2="243.59" y2="291.56" stroke="#5a9ad2" stroke-width="0.9"/>
<line x1="241.79" y1="260.24" x2="245.39" y2="260.24" stroke="#3a3a3a" stroke-width="1.2"/>
<line x1="241.79" y1="291.56" x2="245.39" y2="291.56" stroke="#3a3a3a" stroke-width="1.2"/>
<rect x="240.79" y="265.17" width="5.60" height="16.53" fill="#fff" stroke="#5a9ad2" stroke-width="0.9"/>
<line x1="240.19" y1="275.75" x2="246.99" y2="275.75" stroke="#e2e23a" stroke-width="1.4"/>
<rect x="194.50" y="234.30" width="56.10" height="151.80" fill="none" stroke="#737373" stroke-width="1"/>
<line x1="193.00" y1="386.10" x2="194.50" y2="386.10" stroke="#737373" stroke-width="0.8"/>
<line x1="193.00" y1="357.10" x2="194.50" y2="357.10" stroke="#737373" stroke-width="0.8"/>
<line x1="193.00" y1="328.10" x2="194.50" y2="328.10" stroke="#737373" stroke-width="0.8"/>
<line x1="193.00" y1="299.10" x2="194.50" y2="299.10" stroke="#737373" stroke-width="0.8"/>
<line x1="193.00" y1="270.10" x2="194.50" y2="270.10" stroke="#737373" stroke-width="0.8"/>
<line x1="193.00" y1="241.10" x2="194.50" y2="241.10" stroke="#737373" stroke-width="0.8"/>
<line x1="201.51" y1="386.10" x2="201.51" y2="387.60" stroke="#737373" stroke-width="0.8"/>
<text transform="translate(196.51,392.40) rotate(45)" font-size="7.0" fill="#333">SAT(X-Ray)</text>
<line x1="215.54" y1="386.10" x2="215.54" y2="387.60" stroke="#737373" stroke-width="0.8"/>
<text transform="translate(206.64,392.40) rotate(45)" font-size="7.0" fill="#333">SAT(BUS BRA)</text>
<line x1="229.56" y1="386.10" x2="229.56" y2="387.60" stroke="#737373" stroke-width="0.8"/>
<text transform="translate(219.36,392.40) rotate(45)" font-size="7.0" fill="#333">SAT(CIFAR10)</text>
<line x1="243.59" y1="386.10" x2="243.59" y2="387.60" stroke="#737373" stroke-width="0.8"/>
<text transform="translate(231.59,392.40) rotate(45)" font-size="7.0" fill="#333">Mixed Non-SAT</text>
<line x1="255" y1="386.50" x2="310.50" y2="386.50" stroke="#cccccc" stroke-width="1" stroke-dasharray="1,1"/>
<line x1="255" y1="357.50" x2="310.50" y2="357.50" stroke="#cccccc" stroke-width="1" stroke-dasharray="1,1"/>
<line x1="255" y1="328.50" x2="310.50" y2="328.50" stroke="#cccccc" stroke-width="1" stroke-dasharray="1,1"/>
<line x1="255" y1="299.50" x2="310.50" y2="299.50" stroke="#cccccc" stroke-width="1" stroke-dasharray="1,1"/>
<line x1="255" y1="270.50" x2="310.50" y2="270.50" stroke="#cccccc" stroke-width="1" stroke-dasharray="1,1"/>
<line x1="255" y1="241.50" x2="310.50" y2="241.50" stroke="#cccccc" stroke-width="1" stroke-dasharray="1,1"/>
<line x1="261.50" y1="235" x2="261.50" y2="386.10" stroke="#dadada" stroke-width="1" stroke-dasharray="1,1"/>
<line x1="275.50" y1="235" x2="275.50" y2="386.10" stroke="#dadada" stroke-width="1" stroke-dasharray="1,1"/>
<line x1="289.50" y1="235" x2="289.50" y2="386.10" stroke="#dadada" stroke-width="1" stroke-dasharray="1,1"/>
<line x1="303.50" y1="235" x2="303.50" y2="386.10" stroke="#dadada" stroke-width="1" stroke-dasharray="1,1"/>
<line x1="261.50" y1="251.39" x2="261.50" y2="270.39" stroke="#f4a0aa" stroke-width="0.9"/>
<line x1="261.50" y1="284.60" x2="261.50" y2="286.19" stroke="#f4a0aa" stroke-width="0.9"/>
<line x1="259.70" y1="251.39" x2="263.30" y2="251.39" stroke="#3a3a3a" stroke-width="1.2"/>
<line x1="259.70" y1="286.19" x2="263.30" y2="286.19" stroke="#3a3a3a" stroke-width="1.2"/>
<rect x="258.70" y="270.39" width="5.60" height="14.21" fill="#fff" stroke="#f06878" stroke-width="0.9"/>
<line x1="258.10" y1="279.81" x2="264.90" y2="279.81" stroke="#e2e23a" stroke-width="1.4"/>
<line x1="275.50" y1="264.44" x2="275.50" y2="270.39" stroke="#5a9ad2" stroke-width="0.9"/>
<line x1="275.50" y1="275.61" x2="275.50" y2="281.56" stroke="#5a9ad2" stroke-width="0.9"/>
<line x1="273.70" y1="264.44" x2="277.30" y2="264.44" stroke="#3a3a3a" stroke-width="1.2"/>
<line x1="273.70" y1="281.56" x2="277.30" y2="281.56" stroke="#3a3a3a" stroke-width="1.2"/>
<rect x="272.70" y="270.39" width="5.60" height="5.22" fill="#fff" stroke="#5a9ad2" stroke-width="0.9"/>
<line x1="272.10" y1="272.56" x2="278.90" y2="272.56" stroke="#e2e23a" stroke-width="1.4"/>
<line x1="289.50" y1="259.66" x2="289.50" y2="265.46" stroke="#5a9ad2" stroke-width="0.9"/>
<line x1="289.50" y1="275.03" x2="289.50" y2="287.36" stroke="#5a9ad2" stroke-width="0.9"/>
<line x1="287.70" y1="259.66" x2="291.30" y2="259.66" stroke="#3a3a3a" stroke-width="1.2"/>
<line x1="287.70" y1="287.36" x2="291.30" y2="287.36" stroke="#3a3a3a" stroke-width="1.2"/>
<rect x="286.70" y="265.46" width="5.60" height="9.57" fill="#fff" stroke="#5a9ad2" stroke-width="0.9"/>
<line x1="286.10" y1="273.73" x2="292.90" y2="273.73" stroke="#e2e23a" stroke-width="1.4"/>
<line x1="303.50" y1="253.86" x2="303.50" y2="281.56" stroke="#5a9ad2" stroke-width="0.9"/>
<line x1="303.50" y1="304.90" x2="303.50" y2="327.38" stroke="#5a9ad2" stroke-width="0.9"/>
<line x1="301.70" y1="253.86" x2="305.30" y2="253.86" stroke="#3a3a3a" stroke-width="1.2"/>
<line x1="301.70" y1="327.38" x2="305.30" y2="327.38" stroke="#3a3a3a" stroke-width="1.2"/>
<rect x="300.70" y="281.56" width="5.60" height="23.34" fill="#fff" stroke="#5a9ad2" stroke-width="0.9"/>
<line x1="300.10" y1="304.32" x2="306.90" y2="304.32" stroke="#e2e23a" stroke-width="1.4"/>
<rect x="254.50" y="234.30" width="56.00" height="151.80" fill="none" stroke="#737373" stroke-width="1"/>
<line x1="253.00" y1="386.10" x2="254.50" y2="386.10" stroke="#737373" stroke-width="0.8"/>
<line x1="253.00" y1="357.10" x2="254.50" y2="357.10" stroke="#737373" stroke-width="0.8"/>
<line x1="253.00" y1="328.10" x2="254.50" y2="328.10" stroke="#737373" stroke-width="0.8"/>
<line x1="253.00" y1="299.10" x2="254.50" y2="299.10" stroke="#737373" stroke-width="0.8"/>
<line x1="253.00" y1="270.10" x2="254.50" y2="270.10" stroke="#737373" stroke-width="0.8"/>
<line x1="253.00" y1="241.10" x2="254.50" y2="241.10" stroke="#737373" stroke-width="0.8"/>
<line x1="261.50" y1="386.10" x2="261.50" y2="387.60" stroke="#737373" stroke-width="0.8"/>
<text transform="translate(256.50,392.40) rotate(45)" font-size="7.0" fill="#333">SAT(X-Ray)</text>
<line x1="275.50" y1="386.10" x2="275.50" y2="387.60" stroke="#737373" stroke-width="0.8"/>
<text transform="translate(266.60,392.40) rotate(45)" font-size="7.0" fill="#333">SAT(BUS BRA)</text>
<line x1="289.50" y1="386.10" x2="289.50" y2="387.60" stroke="#737373" stroke-width="0.8"/>
<text transform="translate(279.30,392.40) rotate(45)" font-size="7.0" fill="#333">SAT(CIFAR10)</text>
<line x1="303.50" y1="386.10" x2="303.50" y2="387.60" stroke="#737373" stroke-width="0.8"/>
<text transform="translate(291.50,392.40) rotate(45)" font-size="7.0" fill="#333">Mixed Non-SAT</text>
<text x="348.90" y="19.00" font-size="8.1" fill="#222" text-anchor="start" >Screen Center</text>
<text x="408.00" y="19.00" font-size="8.1" fill="#222" text-anchor="start" >Specialized Hospital</text>
<text x="487.90" y="19.00" font-size="8.1" fill="#222" text-anchor="start" >Small Clinic 1</text>
<text x="557.40" y="19.00" font-size="8.1" fill="#222" text-anchor="start" >Small Clinic 2</text>
<text x="617.00" y="19.00" font-size="8.1" fill="#222" text-anchor="start" >Rare Disease Region</text>
<path d="M392.1 43.5h0M359.0 75.1h0M378.5 48.2h0M381.0 52.1h0M367.7 43.2h0M353.9 60.1h0M384.4 43.2h0M381.6 61.2h0M389.2 43.5h0M373.7 77.7h0M356.3 51.5h0M350.8 40.4h0M376.2 41.7h0M371.2 62.6h0M364.3 50.2h0M360.9 29.2h0M363.0 32.2h0M368.4 55.0h0M371.9 34.8h0M372.5 83.7h0M356.3 48.6h0M372.1 72.7h0M391.9 73.3h0M353.7 56.9h0M353.5 39.9h0M378.1 79.1h0M385.8 55.2h0M384.1 36.4h0M360.6 52.8h0M371.4 27.3h0M359.0 56.6h0M368.7 81.1h0M365.0 55.0h0M349.4 51.7h0M351.9 44.9h0M374.0 52.3h0M355.5 34.3h0M390.2 42.3h0M374.7 67.8h0M382.7 51.8h0M355.9 33.7h0M370.3 36.7h0M388.7 51.8h0M363.3 55.0h0M356.3 36.2h0M392.6 66.3h0M398.9 59.8h0M358.0 39.6h0M384.7 64.5h0M393.9 62.5h0M347.6 57.2h0M381.4 67.4h0M348.8 48.1h0M387.7 70.5h0M369.2 48.9h0M349.0 40.8h0M371.1 53.8h0M341.7 52.3h0M367.5 43.1h0M353.2 61.1h0M390.2 55.8h0M370.0 27.6h0M367.6 44.4h0M396.4 68.2h0M361.9 51.7h0M354.9 41.9h0M368.4 47.2h0M367.3 34.6h0M360.8 31.9h0M364.8 57.5h0M356.1 41.2h0M390.3 76.9h0M372.3 66.3h0M378.6 71.7h0M379.3 44.4h0M378.7 67.7h0M359.0 53.3h0M380.4 81.2h0M360.4 50.8h0M387.9 70.0h0M389.8 40.6h0M349.2 50.7h0M379.9 48.9h0M357.2 46.9h0M342.3 55.0h0M351.9 47.7h0M361.2 42.1h0M355.8 69.0h0M376.6 46.0h0M341.5 60.1h0M345.8 55.2h0M385.2 76.2h0M384.7 38.3h0M373.9 46.4h0M371.0 39.2h0M369.3 73.9h0M399.3 60.6h0M392.4 53.6h0M376.2 63.4h0M363.8 58.6h0M358.7 60.1h0M368.5 35.8h0M379.3 80.5h0M362.7 56.4h0M372.0 81.4h0M369.7 29.1h0M394.8 62.7h0M386.8 39.8h0M342.6 59.4h0M376.0 58.5h0M364.9 61.0h0M367.7 52.2h0M348.3 52.0h0M370.8 48.5h0M384.8 75.7h0M370.1 82.8h0M344.1 46.7h0M346.8 57.3h0M378.2 49.2h0M388.8 40.1h0M376.3 51.7h0M355.4 35.3h0M392.4 72.8h0M373.8 46.5h0M351.5 62.2h0M389.1 36.8h0M388.3 68.6h0M385.1 53.2h0M360.1 69.8h0M355.8 39.0h0M385.5 45.2h0M377.5 66.1h0M368.2 75.1h0M353.8 63.6h0M361.1 34.5h0M381.7 63.0h0M343.5 61.8h0M378.4 43.3h0M385.6 38.7h0M356.9 68.9h0M341.2 50.9h0M339.5 55.3h0M350.7 56.2h0M381.9 72.5h0M364.5 49.4h0M353.0 41.4h0M372.2 70.2h0M380.3 70.6h0M387.2 60.9h0M351.4 43.2h0M354.8 45.5h0M360.7 37.2h0M347.1 48.8h0M384.6 52.6h0M348.0 62.4h0M394.3 51.3h0M387.3 67.1h0M378.6 53.7h0M377.7 41.2h0M377.2 49.5h0M370.3 84.1h0M389.2 57.7h0M352.2 67.2h0M361.5 29.9h0M340.3 51.3h0M388.4 63.9h0M368.1 43.5h0M390.7 46.9h0M356.9 41.2h0M379.9 41.1h0M376.4 71.6h0M387.9 76.6h0M371.3 70.5h0M373.7 42.1h0M371.0 54.8h0M383.0 64.0h0M361.4 54.2h0M379.4 73.5h0M357.6 60.3h0M394.0 58.6h0M395.3 61.6h0M394.6 62.0h0M373.9 41.9h0M389.5 60.0h0M340.0 48.5h0M399.2 54.5h0M379.1 38.8h0M383.2 76.7h0M377.0 68.5h0M367.1 67.0h0M364.2 72.5h0M375.5 43.9h0M382.3 75.8h0M375.5 44.9h0M389.2 42.9h0M391.1 73.1h0M360.3 30.9h0M376.4 66.4h0M385.9 39.5h0M361.6 60.0h0M387.3 35.1h0M372.9 27.6h0M392.1 54.8h0M387.9 51.1h0M372.7 78.1h0M356.4 46.4h0M386.8 67.2h0M380.3 43.4h0M349.4 53.3h0M390.6 63.6h0M356.4 50.9h0M391.1 46.4h0M380.1 38.7h0M354.7 39.2h0M384.1 43.5h0M390.6 57.8h0M374.9 35.0h0M377.3 67.6h0M384.3 50.2h0M389.6 45.2h0M370.3 26.7h0M339.9 57.2h0M389.1 78.2h0M364.0 71.1h0M397.2 55.4h0M372.9 27.3h0M382.9 37.8h0M374.9 57.0h0M392.8 68.8h0M369.9 56.1h0M349.0 59.8h0M387.1 46.6h0M389.9 76.6h0M354.9 50.8h0M397.0 62.8h0M378.7 41.6h0M372.6 80.8h0M371.9 51.7h0M359.0 65.0h0M397.8 57.1h0M367.5 58.3h0M363.7 60.9h0M373.4 56.6h0M393.2 52.4h0M377.6 76.1h0M387.7 68.1h0M374.8 50.0h0M376.3 48.8h0M383.3 43.9h0M363.5 44.3h0M370.4 52.8h0M348.7 60.2h0M391.3 75.8h0M374.9 55.3h0M371.2 56.4h0M372.3 74.9h0M371.6 32.2h0M377.3 63.1h0M377.8 29.0h0M359.0 67.1h0M390.8 60.7h0M370.1 59.6h0M375.0 50.7h0M386.2 32.6h0M386.5 44.9h0M351.2 42.5h0M374.8 47.0h0M374.7 83.3h0M388.4 43.4h0M370.1 83.0h0M383.2 40.1h0M369.4 73.5h0M365.1 30.6h0M380.6 47.0h0M360.6 69.8h0M370.4 39.7h0M383.3 41.2h0M360.0 65.8h0M361.9 56.0h0M348.8 42.7h0M379.6 47.3h0M384.6 68.5h0M358.8 48.8h0M379.0 36.3h0M382.7 41.5h0M392.0 62.3h0M385.2 30.8h0M397.9 51.0h0M384.4 75.0h0M358.7 33.5h0M354.0 40.4h0M348.2 60.3h0M373.6 71.9h0M376.3 52.6h0M346.8 43.5h0M399.7 59.9h0M394.9 63.6h0M379.5 41.3h0M389.6 45.6h0M362.4 75.6h0M370.2 56.1h0M370.9 51.5h0M357.6 52.3h0M360.7 53.3h0M398.3 62.8h0M380.8 62.9h0M397.4 54.3h0M361.1 78.7h0M381.7 53.0h0M374.4 49.8h0M394.6 59.3h0M354.2 60.5h0M375.5 31.0h0M352.8 43.4h0M394.2 62.6h0M360.4 70.7h0M381.1 41.7h0M351.1 59.7h0M363.5 34.3h0M381.8 74.1h0M380.9 49.5h0M375.9 29.1h0M380.5 42.8h0M354.8 59.7h0M374.5 71.3h0M378.1 64.1h0M388.8 77.7h0M378.0 46.8h0M343.1 47.4h0M369.2 48.3h0M367.1 52.4h0M360.8 72.5h0M344.5 54.7h0M379.1 36.6h0M393.3 64.0h0M360.0 55.3h0M368.6 26.6h0M377.1 69.3h0M388.7 51.1h0M373.3 64.9h0M386.0 31.5h0M343.5 55.8h0M378.7 46.1h0M353.6 41.6h0M353.7 60.7h0M392.6 41.1h0M356.2 45.9h0M375.3 52.6h0M380.8 32.3h0M383.5 78.5h0M347.7 55.4h0M395.9 48.0h0M393.4 69.8h0M342.2 56.6h0M381.1 64.7h0M392.6 69.0h0M363.3 49.1h0M376.8 81.8h0M391.1 72.6h0M381.7 44.9h0M390.4 55.6h0M354.2 63.0h0M382.5 49.4h0M380.6 44.8h0M353.5 63.5h0M368.2 68.9h0M395.5 57.4h0M389.6 41.0h0M363.2 75.3h0M349.7 41.3h0M385.7 34.6h0M371.3 40.5h0M352.5 60.1h0M387.9 62.9h0M366.7 47.5h0M364.9 64.2h0M363.6 60.3h0M385.2 48.5h0M368.3 53.1h0M370.6 74.4h0M364.1 28.0h0M386.8 72.1h0M386.3 59.9h0M383.7 55.0h0M361.7 56.9h0M391.9 41.5h0M372.0 48.4h0M375.5 47.5h0M396.0 59.3h0M371.9 50.2h0M387.5 61.6h0M367.4 78.4h0M376.6 36.5h0M388.1 55.1h0M357.5 39.7h0M363.3 28.5h0M384.0 51.4h0M396.7 57.8h0M368.9 77.1h0M391.3 39.5h0M355.4 70.9h0M376.6 53.6h0M347.8 60.8h0M380.7 36.8h0M370.5 58.3h0M349.6 57.9h0M371.5 79.1h0M369.0 72.8h0M354.2 71.0h0M374.4 39.5h0M355.1 61.7h0M396.7 50.7h0M354.8 69.4h0M361.0 34.7h0M369.3 54.6h0M385.7 64.5h0M385.7 33.2h0M376.1 51.2h0M393.3 43.7h0M364.0 72.0h0M364.1 30.5h0M340.6 55.2h0M388.8 50.7h0M359.8 39.5h0M351.6 42.1h0M346.6 58.5h0M394.7 66.0h0M360.7 34.0h0M348.7 60.9h0M382.9 67.4h0M375.0 74.7h0M348.7 56.6h0M384.6 36.4h0M351.7 44.4h0M364.3 48.9h0M373.9 65.6h0M384.9 66.8h0M346.1 43.4h0M378.5 66.7h0M360.9 49.0h0M371.7 56.2h0M364.3 61.1h0M376.5 75.4h0M391.4 45.4h0M374.5 74.3h0M377.8 46.8h0M389.7 58.2h0M341.7 56.2h0M377.7 68.9h0M371.2 62.0h0M382.7 53.4h0M364.7 43.6h0M371.5 52.8h0M384.0 69.0h0M369.0 75.1h0M374.2 56.6h0M384.7 48.1h0M353.0 60.9h0M390.1 72.8h0M377.2 78.8h0M352.9 40.3h0M367.2 60.3h0M366.6 30.0h0M368.2 49.2h0M354.4 64.2h0M378.6 70.2h0M386.6 32.1h0M373.0 74.9h0M376.1 73.7h0M390.0 74.4h0M384.3 76.4h0M385.1 73.0h0M380.4 77.0h0M366.8 68.5h0M385.6 42.9h0M360.1 70.9h0M371.1 64.4h0M364.3 79.2h0M350.5 51.5h0M385.2 71.2h0M353.4 41.4h0M375.2 64.7h0M362.3 34.9h0M358.2 49.9h0M390.7 38.9h0M380.9 42.6h0M379.5 60.1h0M355.1 47.8h0M357.4 48.4h0M351.5 39.4h0M380.2 75.9h0M365.9 33.2h0M369.1 36.9h0M395.9 53.3h0M367.7 45.6h0M362.4 33.2h0M380.1 56.8h0M377.2 65.4h0M374.8 82.3h0M353.0 54.4h0M377.8 38.7h0M359.2 50.9h0M355.0 52.8h0M371.8 60.5h0M364.3 78.1h0M398.0 50.6h0M366.0 56.9h0M379.8 56.8h0M374.4 36.5h0M353.7 47.8h0M377.4 53.4h0M340.4 53.7h0M353.3 42.0h0M396.6 60.9h0M386.0 75.2h0M376.2 37.9h0M384.0 42.3h0M356.2 68.3h0M360.1 57.6h0M377.7 68.3h0M383.8 46.4h0M388.8 74.1h0M388.7 73.3h0M375.1 32.3h0M355.0 51.1h0M353.0 42.8h0M386.4 74.1h0M368.4 38.2h0M371.5 47.1h0M369.1 40.8h0M359.1 53.7h0M347.6 53.5h0M387.1 52.3h0M350.1 57.4h0M356.6 69.5h0M368.4 82.7h0M392.1 45.9h0M391.3 75.2h0M362.6 47.2h0M365.5 63.4h0M384.2 70.6h0M379.9 48.5h0M372.8 45.7h0M372.8 53.9h0M387.4 78.2h0M359.2 63.3h0M374.0 31.9h0M370.6 55.3h0M380.0 38.8h0M366.0 68.8h0M366.0 47.7h0M395.1 57.9h0M371.4 78.8h0M377.7 74.1h0M355.3 42.8h0M368.8 31.6h0M383.4 70.9h0M352.2 60.1h0M383.0 69.2h0M388.6 66.8h0M369.2 82.3h0M364.1 47.3h0M382.4 50.1h0M391.0 69.9h0M373.5 64.3h0M373.4 50.2h0M368.4 56.3h0M361.8 57.4h0M372.2 43.2h0M374.3 81.4h0M366.3 36.6h0M363.9 31.1h0M383.1 63.7h0M350.5 61.2h0M366.2 72.8h0M393.1 62.2h0M364.1 67.2h0M377.0 45.1h0M388.4 74.8h0M359.3 71.7h0M369.8 42.4h0M374.3 79.7h0M357.2 32.5h0M345.9 55.1h0M378.9 43.4h0M366.2 59.3h0M366.7 78.1h0M368.7 32.9h0M381.7 29.2h0M384.5 33.5h0M342.9 55.0h0M368.0 53.2h0M351.2 56.0h0M396.3 53.9h0M388.7 66.3h0M369.1 74.7h0M373.7 50.4h0M368.5 55.8h0M373.3 71.2h0M394.9 47.6h0M349.0 60.6h0M373.5 44.8h0M373.3 38.3h0M371.7 45.2h0M382.9 28.9h0M356.0 35.4h0M355.7 34.7h0M375.9 74.1h0M390.3 40.7h0M380.0 75.8h0M364.6 44.3h0M343.5 56.4h0M384.7 68.7h0M353.6 50.0h0M345.8 56.0h0M380.4 66.9h0M374.9 69.6h0M392.9 64.7h0M361.9 78.0h0M393.0 60.9h0M368.9 46.5h0M375.5 39.9h0M370.4 50.7h0M387.3 57.9h0M352.7 53.3h0M361.8 70.6h0M379.2 65.7h0M356.2 54.1h0M366.1 52.3h0M366.0 37.1h0M366.4 49.5h0M378.5 37.4h0M377.3 44.4h0M375.4 60.3h0M354.7 61.1h0M388.1 75.0h0M343.5 49.3h0M386.6 76.0h0M354.4 71.3h0M362.0 51.8h0M370.3 56.1h0M371.8 46.3h0M361.0 50.8h0M367.1 51.0h0M367.2 76.1h0M397.9 66.1h0M368.9 38.4h0M376.7 36.3h0M372.7 34.1h0M377.1 72.3h0M366.1 75.1h0M362.9 52.6h0M379.4 32.3h0M384.2 41.8h0M366.5 74.9h0M388.9 42.4h0M385.2 40.2h0M382.5 53.2h0M382.1 49.9h0M371.7 56.0h0M384.9 78.4h0M372.2 35.0h0M371.0 73.6h0M378.1 55.2h0M354.1 52.1h0M373.3 61.7h0M380.4 74.8h0M345.9 50.6h0M351.1 54.2h0M371.6 75.9h0M386.1 59.9h0M387.2 44.0h0M381.1 35.0h0M369.5 41.5h0M359.7 31.8h0M370.3 52.6h0M390.5 54.8h0M393.6 49.8h0M368.0 60.8h0M378.3 63.2h0M360.3 33.4h0M387.0 44.0h0M378.5 76.0h0M357.4 32.7h0M366.7 71.7h0M372.4 51.0h0M366.7 81.1h0M348.0 54.2h0M355.4 40.3h0M385.4 31.7h0M369.8 37.3h0M375.4 44.5h0M370.5 40.1h0M377.7 38.2h0M350.5 41.3h0M346.0 53.8h0M365.5 47.6h0M378.9 49.8h0M387.5 54.7h0M388.7 75.6h0M367.3 48.7h0M375.3 56.4h0M349.4 58.6h0M374.3 71.9h0M374.7 45.3h0M346.0 44.9h0M379.8 65.1h0M346.9 62.6h0M381.6 79.3h0M371.4 45.5h0M366.8 73.0h0M345.2 53.0h0M365.2 76.0h0M378.8 56.7h0M390.6 60.9h0M372.4 48.4h0M385.8 63.2h0M396.7 59.5h0M367.7 57.7h0M379.3 74.1h0M370.8 49.7h0M350.8 58.2h0M370.3 82.5h0M364.2 58.6h0M360.3 35.6h0M383.0 61.2h0M374.3 43.1h0M346.7 46.6h0M382.5 72.5h0M347.7 49.3h0M391.8 64.1h0M370.7 72.2h0M379.6 44.3h0M367.9 53.4h0M396.1 63.8h0M390.7 75.4h0M368.7 51.3h0M384.6 31.3h0M343.8 56.7h0M361.8 51.9h0M375.5 58.5h0M357.9 55.8h0M377.6 42.8h0M374.7 37.3h0M341.4 51.9h0M383.6 44.7h0M357.7 69.7h0M373.1 48.8h0M373.2 71.0h0M386.7 39.1h0M366.7 69.3h0M372.4 61.3h0M359.2 46.7h0M384.5 61.1h0M355.2 57.7h0M385.1 67.3h0M358.6 38.3h0M374.8 53.1h0M386.3 70.0h0M387.5 59.5h0M377.7 31.5h0M354.7 57.5h0M378.0 77.5h0M386.7 53.9h0M373.7 82.6h0M386.7 70.5h0M387.1 69.7h0M358.8 58.6h0M395.2 51.7h0M394.1 65.5h0M391.6 69.8h0M370.2 55.7h0M367.0 64.1h0M371.3 56.5h0M358.9 33.5h0M383.9 71.9h0M351.9 58.6h0M350.6 45.8h0M383.3 69.7h0M371.9 59.2h0M365.9 59.8h0M366.1 48.1h0M363.6 52.5h0M357.3 53.9h0M354.4 40.4h0M368.6 49.9h0M347.7 61.3h0M381.1 53.5h0M376.9 31.8h0M384.3 33.8h0M373.9 45.7h0M376.2 33.0h0M378.9 46.5h0M394.5 57.3h0M360.2 49.1h0M368.9 48.7h0M365.8 82.1h0M383.4 52.0h0M373.3 45.9h0M361.1 28.8h0M379.8 47.0h0M378.9 67.0h0M360.2 37.6h0M354.6 35.4h0M371.1 36.6h0M350.1 40.4h0M381.4 31.8h0M364.0 34.0h0M373.5 49.9h0M371.4 70.1h0M382.5 49.5h0M373.5 48.6h0M388.5 57.3h0M381.0 63.5h0M350.2 57.0h0M363.9 55.7h0M387.1 67.2h0M373.1 83.2h0M360.7 68.1h0M344.6 60.3h0M367.9 30.3h0M347.9 47.0h0M376.1 43.2h0M382.9 54.2h0M361.9 62.2h0M360.5 45.3h0M376.2 75.4h0M373.0 47.0h0M341.5 50.7h0M379.7 31.7h0M382.3 46.9h0M368.9 73.1h0M384.5 65.5h0M374.1 77.4h0M396.0 52.6h0M376.0 51.6h0M383.1 34.8h0M385.6 61.7h0M382.1 33.0h0M359.4 54.7h0M382.5 45.1h0M368.1 81.1h0M381.0 48.6h0M377.1 51.7h0M359.4 38.8h0M355.5 67.1h0M352.6 46.6h0M358.6 53.7h0M396.4 65.9h0M342.9 51.8h0M378.6 37.7h0M377.5 59.1h0M370.1 28.9h0M372.0 27.6h0M389.0 72.8h0M390.6 75.3h0M385.5 73.0h0M385.2 39.9h0M358.7 75.9h0M364.9 59.9h0M359.6 33.6h0M390.1 63.5h0M378.5 81.8h0M368.6 79.8h0M375.4 72.8h0M353.6 65.3h0M355.6 41.0h0M362.7 45.5h0M385.0 55.4h0M394.7 54.1h0M377.0 65.6h0M388.8 76.3h0M363.2 31.8h0M371.8 76.5h0M372.4 36.4h0M345.3 46.5h0M366.4 57.0h0M353.0 68.3h0M384.5 69.0h0M396.8 52.7h0M368.4 57.9h0M369.6 30.7h0M360.7 55.7h0M373.8 84.2h0M358.6 70.2h0M352.2 48.3h0M362.6 42.3h0M394.1 46.8h0M393.9 54.8h0M383.1 55.7h0M350.4 40.8h0M375.0 53.5h0M371.1 83.2h0M345.6 53.1h0M351.4 42.7h0M377.0 31.3h0M371.8 58.5h0M386.8 54.2h0M347.3 61.7h0M394.2 59.5h0M379.8 31.0h0M387.5 59.5h0M374.4 39.9h0M361.1 51.3h0M378.3 36.7h0M369.2 68.5h0M359.3 61.2h0M378.1 43.8h0M362.1 40.3h0M380.5 46.4h0M375.5 32.6h0M373.7 80.7h0M342.6 52.4h0M395.1 59.1h0M379.5 74.3h0M389.6 47.1h0M344.6 59.0h0M374.8 37.1h0M367.7 28.3h0M372.7 81.7h0M394.3 56.0h0M356.2 72.1h0M369.5 77.6h0M381.9 63.1h0M371.5 36.7h0M358.3 76.5h0M356.8 73.4h0M385.8 76.5h0M369.8 58.4h0M370.4 82.5h0M377.5 56.7h0M387.0 64.4h0M362.4 54.1h0M377.8 29.5h0M378.3 66.2h0M359.8 76.7h0M362.1 48.7h0M349.1 55.7h0M373.2 46.8h0M381.3 47.6h0M380.4 50.2h0M380.4 46.2h0M375.3 40.4h0M365.7 61.8h0M346.1 47.6h0M378.8 30.4h0M382.7 56.0h0M365.4 34.6h0M374.6 78.7h0M344.1 54.9h0M352.1 37.9h0M354.3 63.8h0M383.3 56.0h0M396.5 49.2h0M380.3 62.5h0M372.2 26.7h0M377.8 68.3h0M382.0 49.2h0M360.1 74.1h0M385.1 66.7h0M367.9 50.4h0M385.9 58.5h0M346.4 57.5h0M389.0 54.4h0M360.3 56.1h0M382.5 47.1h0M357.8 58.4h0M351.0 44.0h0M354.6 62.0h0M385.6 62.3h0M383.1 74.4h0M357.6 53.4h0M362.1 54.1h0M386.1 35.6h0M386.6 60.0h0M382.0 49.6h0M348.6 43.9h0M368.9 54.2h0M370.6 41.3h0M352.9 39.6h0M393.2 70.4h0M377.7 32.7h0M381.2 42.9h0M393.3 43.3h0M390.9 40.2h0M368.7 78.3h0M363.9 55.7h0M391.0 67.0h0M388.3 78.7h0M363.1 52.7h0M381.6 32.7h0M381.0 37.1h0M372.3 29.9h0M359.5 70.0h0M394.0 68.3h0M376.3 72.1h0M343.8 55.1h0M363.5 53.0h0M357.4 37.6h0M388.5 75.9h0M392.5 63.0h0M386.7 56.4h0M385.6 58.3h0M389.2 45.8h0M352.5 46.8h0M385.5 78.6h0M382.8 34.7h0M342.7 59.0h0M388.1 43.0h0M348.7 48.5h0M383.8 55.9h0M357.4 38.1h0M342.4 54.6h0M383.6 66.9h0M379.6 67.4h0M393.6 47.5h0M395.2 64.6h0M369.2 27.9h0M384.9 72.7h0M397.9 61.9h0M379.5 70.7h0M375.3 61.8h0M382.5 68.9h0M353.1 49.9h0M373.2 83.0h0M358.1 57.3h0M364.1 31.6h0M373.4 82.9h0M373.4 47.3h0M363.4 59.9h0M370.9 70.2h0M363.3 69.0h0M344.6 56.7h0M357.4 36.2h0M393.8 59.0h0M370.0 71.1h0M382.4 59.1h0M360.6 58.5h0M361.0 75.6h0M369.9 55.6h0M365.2 56.0h0M352.0 54.4h0M355.6 74.0h0M386.9 53.8h0M352.8 41.8h0M391.4 65.7h0M376.2 83.6h0M397.1 65.2h0M385.2 61.7h0M385.4 53.3h0M356.6 41.2h0M384.8 74.8h0M358.1 68.4h0M383.6 44.3h0M371.7 39.6h0M378.8 56.1h0M378.4 81.0h0M384.9 49.2h0M342.9 57.8h0M360.7 61.7h0M369.3 76.3h0M364.5 65.9h0M370.4 69.5h0M375.9 53.4h0M360.7 65.2h0M386.0 63.4h0M369.7 71.0h0M353.3 36.4h0M380.9 78.7h0M347.2 44.9h0M365.9 64.8h0M394.6 67.3h0M384.6 73.3h0M365.6 53.1h0M399.7 53.6h0M366.4 73.6h0M383.7 74.7h0M372.8 49.2h0M361.5 72.0h0M369.1 59.0h0M368.8 54.1h0M362.5 47.2h0M342.3 58.4h0M394.7 60.1h0M386.2 48.4h0M393.7 56.6h0M394.3 49.0h0M383.7 75.9h0M361.5 46.9h0M387.6 59.0h0M385.9 78.4h0M353.7 40.5h0M367.1 64.2h0M361.9 60.8h0M359.7 41.3h0M384.9 70.7h0M374.5 80.0h0M378.2 49.8h0M377.0 50.2h0M356.5 57.4h0M381.7 35.7h0M385.1 63.7h0M379.0 56.1h0M357.8 49.1h0M357.3 60.2h0M369.1 36.7h0M353.3 40.2h0M359.0 55.3h0M371.0 72.9h0M370.4 47.8h0M367.4 73.8h0M392.2 45.0h0M367.1 73.9h0M354.8 55.9h0M384.1 69.3h0M350.0 64.0h0M372.7 53.2h0M372.1 41.2h0M394.1 45.9h0M366.7 56.1h0M382.2 52.1h0M387.5 62.3h0M381.8 69.3h0M381.7 71.5h0M344.9 59.0h0M384.6 52.0h0M377.1 77.0h0M378.7 75.7h0M380.7 32.3h0M355.8 54.9h0M379.1 32.7h0M368.1 57.8h0M390.6 63.2h0M368.9 56.6h0M367.4 43.5h0M385.9 38.0h0M359.3 56.5h0M374.8 29.2h0M373.9 61.8h0M351.3 53.4h0M381.0 53.3h0M345.6 62.4h0M383.7 51.4h0M382.4 58.4h0M355.0 66.7h0M398.8 60.5h0M386.7 48.3h0M389.0 50.6h0M371.7 35.1h0M388.2 58.3h0M385.9 43.1h0M393.5 65.7h0M363.0 49.7h0M383.3 78.2h0M389.3 50.2h0M354.4 51.0h0M363.3 59.6h0M393.2 61.2h0M358.7 66.7h0M349.4 45.5h0M368.8 73.3h0M359.9 67.6h0M356.1 68.1h0M365.2 29.7h0M352.9 70.8h0M365.2 58.1h0M349.1 61.0h0M378.1 30.9h0M374.8 63.6h0M380.7 33.3h0M368.6 47.5h0M380.8 36.5h0M395.9 47.7h0M361.4 58.5h0M389.7 59.6h0M389.5 61.6h0M341.4 50.5h0M359.2 54.1h0M357.1 69.6h0M381.3 57.9h0M384.5 32.6h0M383.4 47.9h0M366.5 53.6h0M394.4 45.7h0M384.7 67.0h0M396.3 49.3h0M349.0 55.4h0M357.3 76.1h0M356.3 50.5h0M381.2 41.7h0M372.5 79.1h0M366.4 39.3h0M360.9 51.4h0M385.3 56.1h0M376.4 50.5h0M374.9 59.6h0M386.8 40.9h0M371.5 41.2h0M385.2 36.8h0M379.1 39.9h0M399.4 58.3h0M376.9 47.8h0M382.2 38.8h0M351.4 40.6h0M355.1 69.7h0M364.7 68.8h0M373.0 47.7h0M377.3 51.5h0M385.8 52.1h0M362.2 59.8h0M353.2 35.1h0M382.1 75.7h0M393.4 42.5h0M365.5 75.9h0M356.1 64.4h0M356.3 39.8h0M361.4 61.4h0M374.7 43.9h0M364.5 34.7h0M371.3 82.3h0M365.9 57.9h0M372.2 47.3h0M393.2 42.5h0M355.8 44.6h0M382.4 48.2h0M360.5 58.8h0M353.8 51.1h0M376.3 82.8h0M353.1 48.8h0M395.3 51.9h0M381.3 43.3h0M355.6 37.3h0M371.6 61.4h0M377.4 82.6h0M360.5 64.0h0M373.4 36.6h0M363.1 50.8h0M372.5 49.6h0M365.8 60.7h0M380.8 33.2h0M359.4 31.2h0M375.7 49.9h0M380.7 52.4h0M367.3 81.2h0M373.8 44.6h0M365.8 52.3h0M352.4 41.0h0M380.3 50.2h0M370.6 80.5h0M363.7 31.9h0M394.2 68.2h0M365.0 54.9h0M397.0 68.1h0M380.0 30.1h0M366.1 39.4h0M348.9 64.5h0M370.1 65.1h0M357.2 47.2h0M370.3 70.0h0M352.3 54.4h0M353.8 54.7h0M354.6 69.7h0M374.5 57.6h0M384.2 72.3h0M358.5 70.9h0M375.6 70.7h0M381.6 53.3h0M357.6 43.5h0M370.4 48.9h0M366.5 49.7h0M354.1 65.5h0M371.8 46.8h0M393.6 53.3h0M382.2 44.9h0M367.9 50.0h0M387.2 50.3h0M362.0 57.8h0M361.7 69.0h0M350.0 56.7h0M369.1 66.5h0M374.1 67.7h0M361.0 39.6h0M356.7 59.7h0M391.3 57.1h0M387.3 39.1h0M368.2 45.1h0M356.9 37.0h0M345.2 55.8h0M378.6 73.2h0M358.2 52.3h0M363.5 65.7h0M362.7 63.9h0M360.7 61.0h0M352.9 59.5h0M398.5 53.0h0M384.9 45.1h0M365.2 66.1h0M366.1 60.8h0M370.9 69.9h0M346.2 59.9h0M397.6 62.3h0M374.6 78.1h0M352.5 62.2h0M354.8 41.7h0M366.0 48.0h0M382.8 40.9h0M361.4 41.2h0M378.9 34.5h0M395.2 67.5h0M386.5 59.1h0M368.0 74.8h0M391.1 64.6h0M366.5 36.7h0M361.5 56.1h0M372.1 36.9h0M382.3 34.5h0M343.9 52.5h0M376.8 70.7h0M355.3 67.9h0M387.2 46.4h0M379.5 63.6h0M394.6 67.6h0M379.1 78.2h0M383.2 76.6h0M392.7 50.4h0M383.7 61.8h0M356.3 48.8h0M352.2 46.2h0M375.2 42.2h0M381.4 41.3h0M363.6 37.6h0M361.1 30.2h0M356.9 72.9h0M372.5 37.4h0M376.5 64.0h0M375.4 33.8h0M361.6 74.2h0M380.9 68.4h0M352.8 52.1h0M379.1 74.1h0M372.2 35.9h0M390.8 41.5h0M351.8 61.3h0M362.6 46.1h0M360.5 35.5h0M353.5 57.8h0M370.8 42.1h0M372.2 74.1h0M369.7 52.3h0M386.5 46.6h0M386.7 67.8h0M370.5 75.0h0M379.1 36.5h0M363.9 66.8h0M360.6 32.1h0M386.6 38.5h0M371.7 42.7h0M370.8 50.0h0M365.1 74.3h0M356.4 40.4h0M379.2 50.1h0M377.8 68.9h0M366.7 50.6h0M374.8 76.4h0M385.7 58.2h0M359.0 51.5h0M366.5 30.4h0M363.3 52.9h0M395.1 58.3h0M352.6 40.5h0M353.8 51.6h0M343.6 54.2h0M359.9 32.0h0M381.9 48.1h0M368.8 76.1h0M354.9 61.4h0M382.9 39.4h0M377.3 78.4h0M395.7 59.2h0M372.5 73.3h0M361.4 66.0h0M354.6 54.7h0M375.7 72.3h0M375.1 62.8h0M380.8 77.2h0M356.7 60.2h0M379.3 29.1h0M350.9 50.6h0M364.5 66.3h0M361.5 75.0h0M359.5 29.2h0M346.1 52.1h0M389.2 37.3h0M351.6 65.7h0M369.4 58.3h0M361.3 30.3h0M379.1 65.6h0M341.7 51.8h0M375.1 82.5h0M377.1 79.2h0M346.8 47.9h0M396.3 51.4h0M383.6 73.1h0M365.0 39.0h0M375.1 50.0h0M357.0 51.3h0M368.7 26.9h0M370.2 54.4h0M360.2 47.1h0M353.4 57.6h0M394.1 47.1h0M350.3 55.6h0M366.4 33.0h0M391.4 42.3h0M375.2 67.8h0M373.9 63.9h0M394.7 44.6h0M379.3 59.1h0M374.7 63.1h0M351.6 56.1h0M347.1 48.3h0M354.6 46.0h0M392.8 68.9h0M381.3 36.3h0M364.8 70.3h0M370.2 30.8h0M371.1 80.2h0M372.6 38.1h0M371.8 46.9h0M377.3 46.3h0M386.8 73.7h0M382.4 54.6h0M383.2 72.1h0M386.0 65.6h0M376.4 67.2h0M394.4 46.5h0M377.3 32.3h0M369.6 58.1h0M366.8 74.5h0M388.6 48.4h0M347.2 46.4h0M360.4 74.2h0M364.2 30.3h0M376.6 33.8h0M390.5 38.2h0M353.5 40.6h0M360.7 53.6h0M396.0 59.7h0M341.1 52.5h0M346.9 61.0h0M357.5 58.1h0M367.1 68.5h0M360.8 65.2h0M362.3 42.7h0M372.2 63.2h0M379.6 46.7h0M392.9 55.4h0M376.3 41.2h0M371.8 43.8h0M374.8 47.8h0M340.2 55.9h0M382.0 38.1h0M362.7 49.3h0M383.2 53.9h0M364.6 70.0h0M356.6 34.6h0M347.7 48.7h0M373.3 43.4h0M384.5 77.3h0M353.6 55.0h0M388.5 60.0h0M386.5 59.0h0M373.3 55.1h0M370.7 55.9h0M377.9 38.4h0M372.5 78.6h0M382.0 43.6h0M379.0 57.2h0M393.4 70.3h0M390.4 68.7h0M386.1 71.3h0M353.8 53.1h0M390.2 70.8h0M391.2 74.2h0M354.5 70.0h0M396.5 51.9h0M358.4 48.3h0M392.9 64.0h0M365.8 37.4h0M359.6 40.6h0M353.1 68.4h0M377.3 30.9h0M372.3 74.3h0M364.1 50.0h0M349.2 41.8h0M377.9 71.0h0M356.5 54.8h0M388.9 60.4h0M367.6 57.1h0M366.2 68.5h0M377.8 36.9h0M342.8 50.6h0M355.3 51.4h0M375.5 48.8h0M367.6 34.5h0M353.1 50.0h0M375.8 41.7h0M351.0 38.4h0M369.5 80.6h0M344.1 55.3h0M358.7 44.4h0M350.8 62.9h0M368.6 50.0h0M353.6 66.2h0M389.1 47.4h0M365.1 27.3h0M369.9 53.6h0M359.3 33.9h0M372.3 68.8h0M392.2 54.6h0M381.5 34.4h0M373.3 61.9h0M362.8 39.4h0M381.7 65.1h0M374.8 75.2h0M349.9 47.2h0M378.3 33.0h0M380.8 40.3h0M369.5 69.4h0M387.5 71.4h0M387.4 52.4h0M353.4 40.4h0M382.0 46.2h0M382.1 47.9h0M351.7 64.9h0M355.8 55.1h0M379.6 41.9h0M348.0 42.0h0M354.8 56.3h0M379.2 29.8h0M366.6 56.9h0M384.7 49.1h0M365.3 58.3h0M381.3 66.3h0M395.3 56.7h0M380.5 50.0h0M351.1 64.5h0M341.7 51.7h0M361.4 56.8h0M349.4 45.6h0M372.7 46.2h0M357.8 52.0h0M391.4 48.3h0M355.0 41.2h0M371.6 54.7h0M389.8 45.5h0M377.6 76.5h0M360.0 65.0h0M356.6 57.6h0M392.5 60.8h0M348.1 48.1h0M362.1 63.1h0M369.3 32.1h0M358.1 68.1h0M380.6 41.9h0M369.9 78.5h0M346.7 60.2h0M356.4 64.9h0M347.8 54.5h0M375.2 82.6h0M354.9 39.9h0M380.9 68.9h0M389.8 77.8h0M390.1 76.3h0M348.8 53.4h0M357.4 58.2h0M342.7 54.3h0M364.2 71.0h0M389.8 48.6h0M369.5 49.7h0M349.9 58.6h0M353.9 67.8h0M359.6 40.4h0M373.5 43.3h0M361.7 71.0h0M377.4 43.4h0M361.4 37.2h0M355.9 55.0h0M364.2 60.9h0M366.0 45.4h0M348.2 61.4h0M366.3 80.8h0M383.1 68.3h0M389.8 58.3h0M370.8 27.4h0M371.8 41.6h0M371.8 60.5h0M370.9 52.6h0M382.3 35.6h0M371.1 31.8h0M377.2 50.3h0M382.0 68.3h0M352.0 37.1h0M357.1 49.6h0M365.0 31.3h0M351.6 49.0h0M357.4 40.0h0M352.4 48.5h0M383.1 75.5h0M369.9 75.5h0M371.5 76.1h0M371.8 48.9h0M351.0 41.5h0M380.7 41.1h0M389.8 60.4h0M365.1 53.5h0M389.4 73.2h0M389.7 73.8h0M366.2 70.2h0M356.1 56.2h0M365.2 31.7h0M360.6 55.7h0M358.8 34.6h0M364.7 72.0h0M373.0 52.9h0M381.6 38.4h0M359.9 73.4h0M351.9 53.9h0M397.9 61.6h0M379.6 62.2h0M377.1 80.9h0M369.3 62.2h0M370.6 57.3h0M364.5 47.7h0M386.7 53.4h0M358.4 56.2h0M347.6 52.8h0M359.8 34.4h0M389.1 55.1h0M364.7 52.5h0M380.4 62.7h0M349.7 42.5h0M393.6 49.8h0M359.1 43.3h0M368.8 47.7h0M370.9 43.6h0M367.9 26.4h0M356.7 41.6h0M383.2 51.1h0M389.1 69.3h0M361.5 32.7h0M350.7 47.9h0M371.7 64.3h0M377.2 51.4h0M390.2 57.7h0M381.5 79.0h0M393.7 54.7h0M354.6 35.8h0M374.9 28.2h0M385.6 66.0h0M358.8 56.1h0M358.2 56.8h0M387.7 57.0h0M375.8 70.9h0M386.7 77.2h0M357.2 43.0h0M378.3 48.1h0M368.8 68.3h0M367.3 34.2h0M377.6 47.2h0M397.8 65.3h0M374.5 70.1h0M378.8 29.9h0M362.5 59.5h0M361.6 57.0h0M357.6 39.9h0M374.8 45.1h0M397.2 61.5h0M369.3 81.0h0M347.5 51.6h0M343.6 58.3h0M386.2 43.1h0M388.2 52.4h0M386.2 75.1h0M369.0 56.5h0M363.2 62.0h0M387.2 70.4h0M385.1 46.6h0M378.2 50.9h0M359.1 33.4h0M387.3 63.2h0M355.4 37.9h0M389.9 40.8h0M376.1 33.0h0M388.7 37.3h0M351.7 38.0h0M362.0 78.5h0M377.6 37.0h0M374.6 62.1h0M375.8 35.3h0M359.7 71.3h0M362.4 52.0h0M342.7 58.2h0M358.6 34.8h0M361.9 70.1h0M374.3 46.4h0M353.6 36.9h0M387.9 48.6h0M377.6 42.0h0M379.4 67.1h0M350.7 54.5h0M382.1 65.2h0M349.0 54.7h0M373.3 55.6h0M389.4 57.6h0M386.8 56.2h0M382.1 36.6h0M365.4 56.7h0M370.3 49.0h0M366.5 57.4h0M375.7 57.7h0M390.9 48.9h0M368.1 50.7h0M361.8 39.2h0M387.1 47.3h0M371.2 52.6h0M387.5 67.0h0M384.8 68.2h0M392.9 58.5h0M356.7 38.0h0M360.4 49.4h0M383.7 73.4h0M365.1 53.8h0M358.6 38.4h0M385.2 70.6h0M358.3 45.8h0M373.8 65.8h0M359.8 60.8h0M373.9 57.8h0M359.9 63.6h0M389.5 46.5h0M397.2 53.4h0M358.5 33.1h0M370.8 78.3h0M385.5 68.7h0M389.4 59.4h0M387.8 72.3h0M378.4 57.3h0M364.9 77.1h0M348.2 42.8h0M340.5 52.5h0M356.3 39.5h0M360.7 46.1h0M368.3 65.1h0M375.3 77.7h0M382.3 42.2h0M387.0 40.1h0M377.8 73.5h0M382.2 47.1h0M353.1 67.2h0M343.5 55.1h0M366.4 48.1h0M384.6 43.3h0M360.3 45.8h0M367.1 59.6h0M376.2 36.2h0M353.7 51.2h0M375.6 35.3h0M379.3 31.6h0M357.8 32.4h0M353.3 65.2h0M364.9 59.6h0M361.7 35.2h0M353.7 61.3h0M384.9 34.6h0M386.9 63.1h0M373.5 40.2h0M356.0 54.3h0M393.8 70.7h0M357.3 66.9h0M371.9 29.5h0M374.9 71.9h0M364.8 32.8h0M382.6 53.7h0M364.1 61.6h0M369.9 75.8h0M386.1 44.4h0M387.6 61.4h0M349.1 46.5h0M369.5 80.8h0M351.1 48.2h0M389.3 45.3h0M353.6 44.8h0M347.1 52.0h0M384.4 42.5h0M374.8 49.0h0M385.4 74.8h0M354.4 54.7h0M389.0 53.0h0M360.8 32.7h0M371.0 54.2h0M386.3 68.9h0M383.1 67.0h0M367.5 51.7h0M390.8 45.9h0M384.9 52.4h0M395.6 65.3h0M373.1 68.6h0M383.2 32.4h0M381.3 78.3h0M360.2 51.9h0M370.6 33.4h0M351.6 38.3h0M365.7 56.2h0M375.9 70.6h0M372.8 27.7h0M396.1 48.8h0M384.5 34.9h0M399.9 59.1h0M387.5 69.2h0M378.5 75.8h0M353.8 55.0h0M398.9 64.9h0M356.8 64.7h0M374.9 51.6h0M385.1 32.3h0M388.4 72.9h0M372.3 46.0h0M392.6 69.0h0M350.3 53.0h0M371.5 53.6h0M363.3 44.1h0M349.6 55.2h0M354.1 69.8h0M358.3 50.3h0M372.7 65.1h0M356.0 50.7h0M374.1 52.1h0M380.3 28.0h0M367.2 75.2h0M361.3 47.3h0M369.3 63.3h0M386.2 59.7h0M366.3 50.8h0M379.9 58.6h0M353.9 50.5h0M354.1 38.4h0M389.7 58.7h0M362.8 52.9h0M356.6 34.7h0M366.3 26.7h0M388.2 67.6h0M378.3 46.6h0M356.6 58.0h0M366.1 60.6h0M359.5 71.4h0M371.0 60.0h0M371.0 47.0h0M382.2 45.6h0M369.6 29.5h0M359.1 67.4h0M357.4 39.9h0M368.4 79.8h0M350.6 52.7h0M357.6 39.2h0M370.3 83.2h0M386.5 60.3h0M365.1 31.7h0M353.3 57.0h0M389.8 44.7h0M341.4 56.4h0M369.4 36.2h0M341.4 54.0h0M357.3 67.2h0M384.5 67.4h0M380.2 33.2h0M342.5 49.2h0M376.1 40.9h0M369.4 83.3h0M382.8 75.1h0M355.7 53.3h0M359.5 56.2h0M359.4 37.0h0M379.1 51.0h0M393.1 46.6h0M387.6 63.9h0M390.6 64.9h0M356.2 57.7h0M367.0 73.9h0M389.3 69.5h0M367.6 61.0h0M392.5 59.3h0M360.7 57.3h0M361.2 49.2h0M393.5 43.0h0M372.6 64.8h0M367.0 65.4h0M390.5 40.8h0M359.6 60.2h0M388.5 65.2h0M394.4 50.1h0M361.2 61.7h0M384.5 50.1h0M388.0 49.2h0M392.5 64.1h0M343.8 55.0h0M363.2 55.9h0M355.8 65.0h0M360.0 56.6h0M378.8 56.2h0M371.7 47.6h0M396.9 62.4h0M364.3 73.7h0M370.5 77.6h0M369.7 47.5h0M347.8 61.9h0M358.5 48.4h0M359.1 36.3h0M374.0 55.5h0M355.9 68.7h0M395.6 50.4h0M367.5 62.3h0M344.5 55.3h0M391.5 40.9h0M360.5 69.6h0M356.2 39.7h0M361.3 43.3h0M358.9 41.8h0M391.4 60.1h0M392.3 74.2h0M383.4 45.2h0M369.3 56.4h0M341.6 58.4h0M393.4 59.7h0M367.5 55.9h0M375.6 69.0h0M370.4 80.9h0M389.4 59.0h0M370.4 47.5h0M353.0 38.9h0M361.3 30.8h0M369.9 41.0h0M361.7 58.0h0M362.4 40.5h0M354.7 65.8h0M394.8 56.1h0M365.7 78.6h0M385.8 72.1h0M356.0 57.5h0M359.0 34.9h0M353.9 39.1h0M364.8 27.4h0M389.5 71.2h0M387.8 66.9h0M392.1 67.0h0M377.7 29.3h0M366.1 78.0h0M355.4 64.7h0M363.3 65.7h0M367.6 79.6h0M362.4 57.6h0M370.0 63.8h0M351.1 60.2h0M353.2 41.2h0M352.8 56.5h0M358.6 36.0h0M344.1 59.0h0M356.0 66.3h0M360.0 66.7h0M372.6 59.5h0M363.9 55.4h0M368.5 49.6h0M375.7 81.7h0M362.7 55.1h0M365.8 46.6h0M356.6 47.6h0M357.7 68.9h0M372.5 47.4h0M352.9 62.5h0M350.0 41.9h0M367.5 45.5h0M362.2 34.9h0M353.3 52.8h0M362.2 33.9h0M343.9 58.0h0M352.6 37.5h0M348.9 63.9h0M364.9 74.2h0M376.1 49.4h0M367.0 71.8h0M367.5 80.4h0M386.4 33.4h0M374.6 62.3h0M373.1 28.8h0M394.3 47.6h0M373.4 60.7h0M389.6 59.1h0M368.5 79.9h0M372.5 81.6h0M356.8 40.3h0M367.0 56.0h0M359.1 31.3h0M374.8 66.8h0M366.6 76.9h0M390.2 69.9h0M382.0 74.4h0M356.7 53.4h0M381.5 56.9h0M378.5 28.0h0M396.5 60.8h0M357.2 51.1h0M378.2 33.0h0M386.7 55.8h0M380.9 75.9h0M372.0 85.3h0M372.1 67.7h0M374.6 42.7h0M385.9 45.7h0M387.7 44.9h0M361.1 53.0h0M353.8 63.2h0M357.9 73.8h0M365.3 47.5h0M396.8 67.9h0M345.7 54.6h0M390.2 65.0h0M376.8 68.7h0M364.6 71.1h0M386.4 34.0h0M388.3 46.7h0M395.0 51.6h0M367.2 62.5h0M374.7 52.7h0M396.7 63.7h0M364.8 58.7h0M392.4 71.7h0M348.5 58.0h0M354.9 45.0h0M341.5 49.2h0M372.3 81.8h0M387.0 48.2h0M369.5 59.4h0M396.0 48.6h0M390.6 48.0h0M350.6 62.7h0M381.8 64.8h0M364.7 47.0h0M372.6 49.5h0M371.0 34.6h0M339.5 56.9h0M353.8 61.8h0M362.0 63.2h0M362.6 76.4h0M386.0 48.0h0M340.1 56.1h0M379.4 76.7h0M388.2 58.3h0M370.4 76.5h0M366.3 66.5h0M394.6 68.4h0M373.5 57.2h0M361.3 67.1h0M349.8 52.0h0M349.3 58.6h0M374.4 41.6h0M399.2 62.6h0M367.6 56.4h0M368.2 31.5h0M382.4 59.9h0M386.8 66.8h0M365.4 54.2h0M361.9 31.3h0M377.5 46.6h0M353.4 56.9h0M391.8 66.5h0M385.7 49.8h0M377.1 77.5h0M394.7 54.8h0M380.6 59.6h0M362.4 55.4h0M360.5 59.6h0M384.0 61.4h0M374.7 48.1h0M359.4 57.0h0M394.4 69.8h0M364.1 53.0h0M359.1 68.1h0M361.5 79.4h0M391.2 45.1h0M397.8 59.6h0M374.5 80.7h0M349.3 55.3h0M356.6 37.4h0M374.1 49.2h0M372.2 42.8h0M348.4 55.4h0M384.2 74.1h0M349.2 44.0h0M389.4 74.4h0M348.8 44.0h0M361.8 53.8h0M366.0 78.5h0M376.2 80.1h0M359.9 66.2h0M384.0 43.0h0M363.7 76.7h0M371.5 78.3h0M375.7 38.2h0M342.8 57.0h0M393.9 48.2h0M386.6 66.7h0M358.4 36.1h0M368.1 47.6h0M357.5 60.1h0M356.8 56.1h0M387.6 69.1h0M375.6 61.4h0M391.7 55.4h0M357.4 61.4h0M376.5 33.6h0M373.3 53.8h0M362.0 33.3h0M350.3 39.6h0M380.1 72.8h0M364.6 29.0h0M357.1 71.1h0M364.2 75.8h0M367.3 49.8h0M368.7 61.4h0M357.9 58.3h0M367.5 62.6h0M371.5 49.2h0M369.2 71.3h0M386.1 46.2h0M367.4 66.3h0M386.8 70.3h0M379.4 70.9h0M361.6 34.8h0M378.1 75.2h0M389.9 45.5h0M360.4 50.8h0M393.6 68.1h0M376.9 32.5h0M344.6 58.0h0M387.9 52.9h0M385.2 73.8h0M354.3 40.2h0M340.7 49.5h0M386.0 48.1h0M381.3 67.3h0M383.5 53.1h0M350.1 64.2h0M360.7 77.5h0M351.5 62.8h0M389.6 67.4h0M378.9 48.7h0M359.1 36.7h0M375.1 78.7h0M356.0 56.3h0M392.6 55.4h0M385.7 34.7h0M370.4 82.8h0M367.6 73.2h0M380.0 40.0h0M387.8 67.5h0M391.5 45.9h0M373.5 42.6h0M357.5 45.0h0M364.9 75.2h0M356.4 56.0h0M361.3 54.9h0M373.2 48.7h0M353.0 45.1h0M362.1 40.0h0M350.3 44.7h0M374.3 75.4h0M363.9 46.2h0M387.0 72.0h0M367.1 36.4h0M344.1 44.8h0M373.4 43.8h0M369.0 43.3h0M374.6 82.0h0M383.8 73.2h0M386.6 46.8h0M345.2 53.4h0M353.0 48.2h0M375.9 47.9h0M380.3 69.5h0M389.7 61.1h0M374.1 44.8h0M395.1 50.5h0M361.1 47.6h0M355.3 45.4h0M372.5 65.4h0M367.7 39.4h0M381.2 32.7h0M364.9 73.7h0M384.9 63.1h0M352.0 54.8h0M360.4 72.8h0M382.5 30.8h0M381.1 66.7h0M357.0 35.6h0M376.4 46.1h0M376.5 57.7h0M397.3 49.9h0M368.2 81.2h0M385.8 43.8h0M383.8 46.0h0M373.1 43.7h0M353.7 58.9h0M400.7 72.7h0M398.3 69.6h0M391.3 76.6h0M346.3 69.6h0M383.6 27.7h0M377.4 30.8h0" stroke="#3450a6" stroke-width="1.5" stroke-linecap="round" fill="none"/><path d="M362.6 32.0h0M366.5 32.6h0M380.5 34.6h0M364.2 39.3h0M371.5 42.9h0M368.1 43.2h0M357.2 47.1h0M384.4 47.8h0M354.1 51.7h0M394.5 52.8h0M388.2 54.8h0M360.3 56.4h0M386.7 55.9h0M386.4 58.4h0M367.3 59.0h0M369.9 63.7h0M353.8 65.7h0M358.7 65.2h0M360.3 66.5h0M367.3 76.6h0M399.1 74.2h0" stroke="#e8303c" stroke-width="1.5" stroke-linecap="round" fill="none"/>
<rect x="337.60" y="23.50" width="66.80" height="64.90" fill="none" stroke="#cfcfcf" stroke-width="1"/>
<path d="M421.2 31.5h0M424.3 44.7h0M439.8 51.0h0M435.2 61.0h0M447.6 59.5h0M455.4 63.7h0" stroke="#3450a6" stroke-width="1.0" stroke-linecap="round" fill="none"/><path d="M419.3 68.2h0M449.1 53.9h0M423.2 75.5h0M410.9 43.3h0M433.9 35.9h0M414.1 63.8h0M430.5 67.2h0M465.9 61.0h0M469.0 57.1h0M446.6 68.9h0M433.6 79.0h0M416.5 65.3h0M462.3 56.6h0M444.6 57.3h0M441.9 68.3h0M411.7 47.7h0M434.3 75.2h0M434.0 34.8h0M423.3 71.6h0M457.8 47.5h0M424.4 51.0h0M447.0 43.9h0M416.7 58.3h0M442.0 68.1h0M434.5 59.6h0M461.9 39.0h0M437.1 31.2h0M440.5 36.6h0M437.4 34.7h0M453.9 54.8h0M424.4 38.5h0M454.9 68.0h0M434.9 53.2h0M456.7 55.6h0M425.0 56.4h0M412.6 61.9h0M422.6 43.5h0M461.2 55.6h0M458.8 43.7h0M462.1 46.1h0M463.3 66.2h0M460.3 62.7h0M441.1 57.2h0M415.2 70.4h0M418.1 75.8h0M459.5 57.8h0M437.4 47.6h0M456.8 40.5h0M461.6 47.0h0M435.1 62.6h0M419.3 62.1h0M440.6 76.5h0M417.5 61.4h0M431.8 28.4h0M451.4 47.0h0M454.7 62.4h0M432.4 45.9h0M455.1 47.7h0M434.8 51.6h0M425.2 45.1h0M416.5 29.4h0M460.3 60.9h0M454.0 54.1h0M418.7 46.2h0M464.2 60.5h0M469.2 59.5h0M452.3 84.2h0M461.8 58.7h0M440.4 33.6h0M470.5 57.7h0M424.4 56.1h0M450.2 34.2h0M431.8 67.3h0M453.2 32.5h0M437.2 63.5h0M448.2 65.0h0M440.0 37.5h0M432.3 47.8h0M420.1 67.8h0M412.6 41.0h0M444.3 43.4h0M458.0 69.8h0M462.6 43.1h0M448.8 55.4h0M445.5 70.6h0M438.0 54.9h0M454.9 38.1h0M416.5 72.5h0M450.0 41.3h0M418.0 28.5h0M454.7 69.3h0M429.6 77.5h0M414.7 56.9h0M455.2 83.6h0M419.6 33.5h0M450.4 46.4h0M426.5 67.5h0M414.8 54.8h0M435.1 68.2h0M447.9 51.7h0M454.0 36.8h0M440.6 69.6h0M414.5 47.0h0M453.9 78.3h0M448.0 62.9h0M459.6 62.9h0M424.1 68.7h0M452.7 60.5h0M426.4 60.0h0M435.8 72.2h0M462.0 66.0h0M442.2 57.4h0M424.2 70.5h0M440.4 48.7h0M448.8 33.5h0M444.1 38.2h0M431.1 50.1h0M421.0 54.4h0M440.1 52.5h0M443.5 64.9h0M441.0 50.5h0M461.0 37.4h0M443.1 66.8h0M444.8 81.7h0M422.6 34.6h0M432.3 56.7h0M426.6 79.6h0M452.6 51.9h0M443.8 64.4h0M422.4 33.1h0M440.3 59.2h0M431.2 33.7h0M446.0 53.2h0M416.5 38.2h0M417.6 76.2h0M437.1 46.1h0M446.0 72.8h0M436.9 34.5h0M436.9 42.5h0M432.2 73.3h0M430.2 39.1h0M466.0 39.4h0M420.7 43.3h0M438.5 44.1h0M441.1 45.7h0M445.2 32.4h0M450.1 49.1h0M447.4 62.7h0M414.2 27.5h0M418.4 75.7h0M459.4 65.7h0M466.4 57.6h0M437.1 38.6h0M421.9 42.2h0M464.8 56.3h0M449.3 81.4h0M449.7 44.7h0M460.3 56.6h0M429.8 34.4h0M412.5 66.2h0M418.9 41.7h0M430.0 79.4h0M456.3 77.6h0M462.3 57.5h0M411.3 58.7h0M454.2 56.8h0M419.6 63.6h0M431.4 81.2h0M444.7 39.0h0M453.4 72.3h0M441.5 70.8h0M429.9 78.5h0M452.2 81.2h0M450.7 73.4h0M429.8 43.0h0M462.8 41.0h0M439.2 29.4h0M466.9 48.9h0M457.9 38.4h0M432.6 56.7h0M419.9 42.3h0M415.2 76.0h0M428.1 78.2h0M461.7 65.3h0M429.7 70.9h0M465.5 59.4h0M421.6 50.6h0M451.0 47.2h0M466.3 51.6h0M415.6 45.3h0M438.9 39.1h0M436.7 77.4h0M418.4 79.0h0M445.7 38.1h0M414.7 42.6h0M416.5 47.6h0M425.3 31.2h0M461.8 51.9h0M417.7 68.5h0M453.8 47.3h0M439.9 31.7h0M435.3 44.0h0M414.6 31.0h0M411.9 63.1h0M428.3 31.7h0M439.2 77.9h0M428.3 37.8h0M455.0 33.4h0M436.1 39.8h0M467.5 53.3h0M446.1 67.6h0M466.9 51.3h0M458.8 52.7h0M438.7 52.2h0M450.4 80.2h0M430.9 51.2h0M445.7 78.1h0M449.9 34.7h0M434.3 46.0h0M411.7 69.5h0M428.9 29.5h0M449.2 52.7h0M422.4 59.9h0M453.9 56.4h0M437.1 56.7h0M439.3 62.2h0M417.8 42.0h0M413.9 52.3h0M446.4 50.7h0M441.1 45.4h0M432.0 42.8h0M414.6 54.0h0M430.2 45.9h0M411.2 45.7h0M422.0 34.5h0M454.9 47.9h0M461.8 59.3h0M440.9 56.7h0M454.0 71.4h0M426.7 68.2h0M447.5 45.3h0M448.9 76.3h0M437.3 69.0h0M420.0 37.5h0M412.7 67.0h0M414.3 56.4h0M438.1 37.4h0M441.1 50.8h0M414.4 59.2h0M437.0 34.0h0M467.3 51.1h0M444.3 71.2h0M443.4 43.6h0M461.3 58.5h0M443.5 75.3h0M448.7 56.6h0M453.1 49.6h0M435.0 30.2h0M461.0 66.1h0M432.6 63.6h0M450.7 41.5h0M464.6 65.2h0M420.7 59.5h0M411.9 60.0h0M463.1 41.6h0M442.8 60.0h0M420.0 37.0h0M428.4 55.8h0M437.7 45.1h0M432.3 79.9h0M426.1 70.0h0M453.5 76.0h0M443.6 32.0h0M430.3 72.1h0M418.0 65.5h0M417.2 77.7h0M436.3 34.2h0M427.8 46.5h0M454.6 41.5h0M421.9 29.8h0M426.6 45.5h0M452.7 43.6h0M450.4 55.1h0M422.1 69.4h0M432.9 32.2h0M416.5 50.8h0M446.4 63.9h0M429.4 78.9h0M427.9 32.3h0M446.7 73.1h0M452.4 51.0h0M420.6 33.2h0M441.8 35.1h0M447.8 54.1h0M460.9 39.6h0M433.0 69.8h0M427.9 66.6h0M424.5 31.5h0M446.2 68.3h0M422.3 72.9h0M443.3 31.5h0M444.6 33.7h0M418.8 48.3h0M438.8 61.6h0M444.8 31.6h0M426.6 30.4h0M439.3 69.9h0M443.4 83.0h0M458.3 71.9h0M415.6 51.4h0M422.9 71.2h0M430.8 46.4h0M456.5 52.6h0M426.4 46.8h0M437.5 55.8h0M433.1 41.0h0M425.9 81.4h0M456.3 38.8h0M456.8 83.5h0M459.4 68.5h0M417.2 56.7h0M445.1 68.0h0M438.2 75.0h0M432.5 33.3h0M430.7 45.2h0M462.7 63.5h0M448.0 50.5h0M456.7 84.2h0M432.5 69.3h0M465.8 51.4h0M443.1 82.0h0M450.6 40.9h0M424.6 47.6h0M415.3 55.6h0M424.9 65.8h0M412.6 65.9h0M455.8 44.4h0M415.2 61.4h0M444.1 73.4h0M411.5 62.0h0M442.0 33.9h0M443.1 35.4h0M438.9 72.4h0M448.5 80.3h0M445.2 29.1h0M417.5 32.0h0M440.9 77.6h0M443.6 53.0h0M444.5 52.2h0M454.7 80.1h0M412.9 70.2h0M447.0 42.8h0M427.8 56.8h0M464.0 60.3h0M452.2 62.7h0M432.7 74.2h0M467.2 59.4h0M429.4 57.9h0M442.1 34.3h0M415.7 40.5h0M442.5 50.6h0M461.6 53.5h0M445.9 45.4h0M427.1 76.4h0M442.2 42.0h0M422.6 68.0h0M419.3 49.6h0M437.3 56.4h0M421.2 44.1h0M424.4 54.7h0M448.8 59.9h0M442.3 34.3h0M446.6 31.1h0M458.1 62.6h0M450.4 54.7h0M428.4 43.5h0M440.6 57.3h0M427.7 64.2h0M426.4 74.0h0M419.2 74.8h0M429.0 72.8h0M461.2 50.7h0M421.0 43.0h0M416.6 40.9h0M433.4 57.5h0M425.5 49.3h0M461.2 36.7h0M433.0 80.6h0M466.0 56.2h0M421.0 78.1h0M453.7 64.5h0M436.8 37.3h0M432.9 58.5h0M447.8 56.0h0M444.7 52.6h0M441.4 78.7h0M438.1 39.8h0M447.2 52.1h0M431.1 75.1h0M434.4 40.7h0M449.6 37.5h0M420.7 40.6h0M440.8 47.1h0M437.0 41.6h0M415.7 64.2h0M445.9 60.5h0M434.1 41.6h0M417.5 77.3h0M453.3 34.6h0M463.9 37.6h0M450.5 52.7h0M459.7 60.0h0M419.3 59.7h0M414.4 60.9h0M455.4 79.8h0M418.7 53.8h0M420.5 41.5h0M411.1 70.6h0M425.5 40.3h0M464.5 55.4h0M436.2 72.9h0M437.9 63.4h0M418.5 57.4h0M419.4 35.9h0M463.8 47.0h0M438.3 71.6h0M462.6 37.3h0M425.9 53.8h0M431.6 69.1h0M417.7 38.8h0M453.9 79.3h0M441.9 51.1h0M421.4 43.2h0M414.9 40.1h0M458.0 71.8h0M430.6 29.7h0M438.2 40.8h0M417.7 54.1h0M456.9 73.0h0M429.9 59.7h0M442.8 74.8h0M439.0 44.0h0M415.1 75.1h0M458.0 58.7h0M436.5 46.2h0M452.8 30.7h0M458.8 37.7h0M433.4 49.3h0M429.4 51.4h0M460.5 52.0h0M420.1 31.6h0M414.3 40.7h0M429.1 51.7h0M449.0 69.4h0M465.7 58.3h0M435.4 60.8h0M414.7 45.1h0M434.2 31.2h0M460.9 45.5h0M465.8 46.7h0M455.4 51.3h0M426.1 60.7h0M434.2 76.4h0M445.1 39.3h0M445.8 60.5h0M446.2 64.6h0M418.2 61.6h0M430.8 31.2h0M451.0 57.3h0M423.7 67.7h0M436.6 36.1h0M447.9 60.4h0M435.0 69.1h0M447.9 61.0h0M419.0 75.3h0M464.1 64.2h0M445.2 31.1h0M418.8 47.1h0M422.3 60.0h0M418.4 44.0h0M422.4 65.9h0M439.7 53.6h0M465.0 52.1h0M440.1 79.1h0M423.2 41.9h0M453.0 81.7h0M438.1 57.0h0M432.2 70.7h0M431.1 56.0h0M457.2 37.7h0M423.8 80.3h0M423.8 49.2h0M425.4 64.3h0M470.2 52.0h0M438.3 47.6h0M423.9 37.8h0M428.9 71.1h0M465.9 42.0h0M447.2 40.7h0M461.8 56.9h0M454.5 72.0h0M445.9 45.8h0M428.9 47.3h0M457.4 51.0h0M448.2 59.8h0M447.9 49.9h0M424.1 28.3h0M433.9 78.5h0M412.1 58.7h0M446.4 49.2h0M468.0 46.7h0M450.2 68.8h0M446.7 56.6h0M413.8 51.9h0M418.0 62.8h0M456.8 81.8h0M428.3 51.7h0M448.0 42.7h0M437.8 43.4h0M453.8 49.4h0M435.8 31.1h0M458.9 75.4h0M451.2 76.2h0M442.9 72.4h0M424.9 36.9h0M434.4 39.9h0M422.2 61.0h0M450.5 81.8h0M421.4 74.7h0M458.0 48.1h0M426.0 29.7h0M447.6 75.3h0M422.0 32.1h0M428.7 41.2h0M451.0 34.5h0M421.9 33.9h0M424.9 52.4h0M438.2 35.1h0M430.5 54.8h0M446.4 60.7h0M425.2 57.4h0M447.9 60.9h0M463.7 36.0h0M468.0 42.1h0M454.1 40.4h0M469.4 54.7h0M434.7 55.9h0M432.5 30.1h0M452.2 74.5h0M450.7 47.5h0M435.4 55.6h0M441.5 82.8h0M453.8 36.7h0M422.8 55.6h0M446.4 59.6h0M434.3 79.6h0M453.5 40.7h0M444.2 45.6h0M460.0 71.3h0M437.0 64.7h0M444.2 37.4h0M414.9 65.3h0M449.7 49.3h0M434.3 53.2h0M418.6 77.2h0M438.6 45.4h0M434.9 52.0h0M450.2 76.4h0M443.9 53.2h0M449.4 49.3h0M426.0 59.6h0M424.6 59.8h0M421.6 48.8h0M456.7 80.2h0M417.8 59.1h0M440.9 80.4h0M445.8 45.3h0M456.6 53.8h0M458.2 40.6h0M439.7 79.2h0M432.6 37.5h0M454.9 71.3h0M456.6 69.2h0M460.1 47.9h0M461.4 47.2h0M420.8 60.2h0M447.2 41.8h0M421.8 33.8h0M447.7 47.5h0M436.0 50.2h0M447.0 73.6h0M443.8 65.8h0M468.1 54.7h0M425.6 55.5h0M457.3 68.2h0M456.3 64.3h0M453.8 74.5h0M438.7 69.3h0M421.0 41.2h0M461.8 49.7h0M421.9 76.5h0M457.2 39.5h0M420.1 44.8h0M420.1 53.6h0M460.5 40.1h0M427.1 55.8h0M439.0 65.5h0M422.8 78.5h0M445.5 42.4h0M443.0 41.6h0M423.1 73.8h0M415.0 56.0h0M412.8 42.6h0M453.0 81.5h0M449.0 56.5h0M420.0 51.0h0M425.3 70.7h0M420.6 52.0h0M455.2 46.0h0M415.2 43.1h0M428.0 66.2h0M470.3 51.6h0M458.6 49.5h0M422.5 32.3h0M451.3 79.8h0M419.3 50.5h0M434.7 76.1h0M436.6 70.9h0M438.7 41.8h0M413.9 40.6h0M431.9 48.9h0M464.9 54.1h0M441.8 30.5h0M423.7 69.7h0M418.2 68.3h0M456.7 47.5h0M459.3 33.7h0M416.1 32.8h0M447.2 63.8h0M417.0 51.0h0M435.6 45.8h0M453.1 84.2h0M418.5 65.4h0M416.0 28.2h0M423.0 68.1h0M438.7 60.0h0M440.9 31.4h0M438.5 36.4h0M437.8 70.8h0M468.5 44.6h0M426.4 41.2h0M453.4 34.2h0M471.2 55.2h0M457.9 59.0h0M414.5 37.9h0M440.5 47.7h0M418.5 53.4h0M458.9 62.8h0M442.0 63.2h0M418.3 76.6h0M423.5 81.0h0M421.9 43.6h0M463.1 37.3h0M444.1 59.8h0M458.3 57.8h0M417.7 44.2h0M419.0 44.7h0M440.9 39.9h0M441.6 48.7h0M420.9 52.2h0M462.6 68.8h0M417.3 58.4h0M462.9 58.6h0M456.8 65.3h0M446.3 60.2h0M422.1 77.7h0M441.4 68.8h0M447.4 74.2h0M460.2 69.2h0M445.5 66.6h0M430.0 57.4h0M457.2 69.1h0M422.0 33.5h0M465.7 54.8h0M443.3 65.0h0M450.5 85.0h0M430.8 37.8h0M460.7 48.4h0M424.9 47.5h0M461.3 65.5h0M461.3 64.4h0M417.3 43.6h0M424.1 30.5h0M451.3 82.4h0M432.3 29.3h0M420.5 46.0h0M447.5 71.3h0M449.4 78.9h0M446.6 47.7h0M419.8 78.1h0M445.1 35.3h0M433.2 39.5h0M446.8 68.2h0M461.5 40.3h0M460.5 60.8h0M436.6 40.0h0M447.2 57.1h0M445.0 59.6h0M446.2 63.8h0M458.8 66.1h0M443.2 57.9h0M429.9 63.3h0M417.2 68.9h0M435.2 44.3h0M432.1 58.3h0M466.7 49.1h0M457.7 73.8h0M451.0 75.4h0M414.4 58.4h0M466.9 47.8h0M461.1 63.5h0M444.4 38.5h0M439.6 40.6h0M437.0 68.2h0M439.1 44.9h0M422.5 76.3h0M461.6 42.5h0M431.0 78.4h0M457.9 60.9h0M445.8 39.7h0M447.8 37.3h0M428.6 29.6h0M447.0 53.6h0M453.7 79.5h0M417.8 29.3h0M429.1 28.8h0M455.0 53.3h0M440.7 39.3h0M415.2 41.2h0M443.3 71.7h0M453.0 64.7h0M453.4 53.7h0M466.0 46.9h0M417.0 64.9h0M432.0 75.2h0M451.5 30.6h0M464.1 52.3h0M452.6 43.7h0M427.9 56.2h0M434.6 47.2h0M415.7 61.1h0M412.0 36.9h0M418.5 62.4h0M433.8 73.9h0M450.8 34.5h0M452.4 56.2h0M438.9 39.7h0M426.6 51.4h0M411.8 50.3h0M415.6 34.5h0M436.9 80.9h0M451.8 78.3h0M456.0 78.6h0M416.8 34.1h0M438.2 62.4h0M433.4 32.2h0M463.1 67.5h0M415.4 48.0h0M438.1 44.7h0M464.6 63.2h0M454.2 82.8h0M421.5 35.4h0M413.0 51.9h0M467.0 57.1h0M425.8 65.6h0M459.4 72.0h0M414.7 58.3h0M421.0 71.1h0M439.7 33.2h0M426.3 56.9h0M446.6 35.7h0M460.5 44.2h0M415.4 78.1h0M419.1 31.3h0M421.3 47.4h0M420.9 55.0h0M415.4 66.0h0M441.7 67.8h0M438.7 65.1h0M428.1 37.8h0M446.7 49.9h0M441.8 41.5h0M428.1 38.6h0M462.6 43.9h0M429.0 41.1h0M456.2 67.7h0M431.6 29.4h0M432.4 59.0h0M421.0 62.2h0M431.3 31.6h0M456.1 51.4h0M414.9 29.8h0M431.5 28.6h0M451.9 46.1h0M417.5 53.5h0M455.0 42.5h0M453.3 83.4h0M447.4 53.3h0M418.0 32.1h0M436.2 32.1h0M449.0 57.7h0M420.4 62.0h0M465.5 54.6h0M431.1 36.6h0M459.0 65.6h0M420.0 73.4h0M446.2 66.7h0M419.4 33.0h0M439.5 31.5h0M455.8 51.0h0M417.0 44.4h0M422.6 76.4h0M433.3 31.0h0M426.5 70.3h0M431.0 55.4h0M430.7 58.0h0M446.6 71.5h0M435.1 38.7h0M430.6 68.8h0M429.6 66.4h0M461.5 57.6h0M459.8 65.3h0M416.5 70.3h0M448.3 31.6h0M419.4 67.7h0M452.2 41.9h0M440.9 47.3h0M447.1 59.8h0M418.6 66.1h0M429.8 66.0h0M461.3 57.8h0M421.2 44.0h0M424.1 75.6h0M412.8 55.3h0M439.8 66.8h0M435.2 54.8h0M417.9 30.3h0M460.1 48.9h0M446.7 63.6h0M454.0 73.6h0M452.7 62.9h0M422.0 44.6h0M471.1 51.8h0M466.8 47.5h0M443.9 35.1h0M455.4 38.0h0M438.9 51.6h0M451.6 39.5h0M464.4 59.2h0M450.4 41.1h0M442.1 69.9h0M423.4 36.1h0M466.1 49.2h0M446.8 53.2h0M433.8 41.2h0M416.5 64.9h0M457.3 58.6h0M464.0 50.9h0M454.0 47.8h0M430.2 69.7h0M446.5 45.7h0M458.2 43.8h0M439.5 77.5h0M434.9 64.4h0M445.9 43.1h0M448.9 60.4h0M436.4 62.1h0M419.1 46.3h0M448.5 37.1h0M439.2 57.3h0M467.7 50.5h0M437.1 64.0h0M423.3 51.6h0M461.6 43.6h0M440.1 40.0h0M427.0 47.8h0M449.4 34.8h0M412.1 72.5h0M463.9 58.8h0M420.5 41.5h0M445.7 39.9h0M454.2 72.2h0M447.4 67.4h0M447.2 33.7h0M433.5 66.8h0M469.1 54.8h0M410.4 68.2h0M445.5 54.0h0M416.5 53.2h0M431.0 31.0h0M414.1 33.0h0M418.0 47.7h0M461.8 58.1h0M430.4 64.8h0M469.5 49.0h0M457.3 35.4h0M463.7 40.6h0M429.6 59.6h0M455.6 52.7h0M444.3 71.6h0M419.4 62.6h0M458.9 37.3h0M423.8 76.0h0M431.9 79.4h0M426.8 37.0h0M436.5 64.8h0M426.2 36.3h0M417.7 54.6h0M435.2 60.4h0M430.7 40.3h0M459.5 33.9h0M413.7 38.0h0M418.8 43.2h0M445.3 38.4h0M433.4 60.2h0M432.2 79.0h0M468.8 48.3h0M448.7 35.0h0M435.9 37.4h0M418.0 29.1h0M436.3 53.7h0M417.2 36.0h0M445.5 48.7h0M447.5 60.8h0M457.6 43.2h0M465.0 54.3h0M417.3 71.4h0M420.0 31.6h0M417.0 41.9h0M439.0 52.4h0M446.7 37.8h0M421.6 51.3h0M452.8 54.7h0M419.2 70.7h0M438.3 69.6h0M440.6 83.2h0M417.0 73.7h0M430.1 34.6h0M441.1 54.7h0M448.3 62.9h0M426.3 35.0h0M419.8 62.2h0M431.5 51.0h0M432.7 29.0h0M424.1 72.5h0M469.0 53.4h0M458.4 58.1h0M440.2 33.9h0M412.8 49.1h0M418.4 75.3h0M417.2 64.4h0M415.0 47.7h0M462.6 64.0h0M416.8 38.4h0M414.2 32.9h0M452.3 56.2h0M418.7 60.1h0M445.7 71.3h0M441.9 34.1h0M431.6 30.3h0M437.0 45.7h0M413.1 61.3h0M448.3 29.1h0M438.7 62.1h0M419.6 54.3h0M458.9 40.9h0M467.7 55.1h0M426.2 38.2h0M414.6 55.8h0M427.5 59.6h0M451.5 35.0h0M421.3 51.7h0M444.5 29.5h0M441.5 62.0h0M443.0 52.4h0M424.4 77.2h0M421.3 81.4h0M422.0 43.2h0M430.0 51.5h0M457.7 63.3h0M455.1 59.2h0M432.1 50.0h0M427.1 64.5h0M447.2 43.1h0M434.2 49.0h0M460.4 49.5h0M433.1 52.4h0M422.4 72.3h0M433.6 60.3h0M450.8 41.9h0M449.0 71.5h0M469.0 54.4h0M442.6 67.2h0M415.7 55.1h0M433.8 53.7h0M433.3 61.9h0M414.7 69.3h0M419.7 61.0h0M428.6 67.4h0M426.1 40.0h0M461.8 43.1h0M428.9 73.1h0M450.2 51.8h0M411.7 49.8h0M432.4 77.4h0M424.4 54.1h0M448.6 39.8h0M436.4 44.0h0M467.6 47.5h0M434.5 36.8h0M460.7 45.4h0M432.5 69.0h0M452.4 31.9h0M435.4 63.1h0M431.7 66.2h0M429.1 53.3h0M444.7 69.9h0M445.5 30.1h0M439.5 29.6h0M454.9 54.2h0M419.8 67.1h0M463.6 53.1h0M422.0 62.0h0M430.1 46.5h0M417.7 31.8h0M467.5 62.0h0M427.8 46.3h0M454.7 69.5h0M451.4 40.2h0M418.2 49.3h0M440.5 37.6h0M455.0 55.4h0M420.3 39.2h0M417.1 29.5h0M439.1 43.2h0M461.0 55.6h0M465.0 40.2h0M453.8 84.2h0M426.0 68.7h0M468.9 55.7h0M422.6 46.6h0M437.0 75.7h0M453.0 31.7h0M459.2 73.0h0M431.7 59.1h0M468.1 47.8h0M416.1 65.1h0M462.2 35.4h0M429.2 73.3h0M412.8 46.3h0M416.9 29.9h0M421.6 52.1h0M461.9 47.0h0M440.3 44.1h0M441.1 73.3h0M420.4 34.6h0M452.7 72.8h0M416.7 41.8h0M424.5 60.1h0M453.8 37.1h0M420.5 35.5h0M452.5 79.9h0M418.9 61.7h0M423.7 29.6h0M413.1 60.6h0M452.2 67.9h0M426.4 56.5h0M416.7 68.6h0M414.0 39.7h0M446.0 39.8h0M424.7 67.6h0M417.4 66.0h0M418.1 41.4h0M436.5 57.0h0M425.6 68.7h0M452.9 60.1h0M436.5 28.8h0M456.5 73.9h0M445.0 38.5h0M413.7 49.2h0M450.0 80.6h0M429.2 73.8h0M433.5 75.1h0M417.1 37.5h0M429.3 32.5h0M413.0 57.7h0M448.3 70.0h0M441.6 71.4h0M439.1 51.9h0M426.1 71.2h0M461.4 63.1h0M450.3 85.9h0M450.9 61.0h0M440.1 73.7h0M424.9 55.1h0M448.3 61.8h0M451.1 70.9h0M439.7 79.7h0M430.2 78.3h0M463.3 56.7h0M431.0 47.5h0M428.6 30.6h0M424.9 79.7h0M432.5 45.8h0M423.5 33.0h0M426.4 43.2h0M458.9 46.9h0M435.0 49.5h0M464.8 51.1h0M444.4 82.6h0M428.7 71.0h0M429.5 47.0h0M426.4 77.0h0M447.1 57.7h0M417.4 74.0h0M451.4 40.8h0M421.5 76.6h0M419.1 32.5h0M465.5 64.0h0M420.4 28.2h0M433.3 36.1h0M432.4 36.2h0M431.0 78.1h0M421.6 75.3h0M448.9 75.0h0M420.6 59.1h0M425.8 69.6h0M463.5 38.3h0M461.6 49.9h0M416.7 49.6h0M434.8 67.3h0M466.1 48.3h0M470.4 48.0h0M454.6 75.2h0M431.6 71.6h0M439.4 41.8h0M444.7 80.2h0M462.7 66.3h0M448.1 46.8h0M435.4 63.4h0M438.6 73.9h0M429.9 44.8h0M450.4 62.2h0M458.7 34.1h0M416.5 65.8h0M417.0 53.4h0M419.2 40.3h0M413.7 29.4h0M443.8 47.7h0M416.8 33.6h0M466.8 61.5h0M435.3 38.4h0M442.5 78.0h0M422.2 76.3h0M426.0 28.4h0M441.0 44.3h0M456.6 62.7h0M432.4 36.6h0M430.2 80.6h0M411.7 60.3h0M420.0 75.5h0M457.9 39.2h0M445.8 29.8h0M420.4 49.4h0M436.0 42.1h0M415.5 33.3h0M436.3 67.5h0M426.1 74.3h0M452.1 37.4h0M453.2 58.5h0M462.5 58.1h0M446.5 68.7h0M470.2 58.2h0M426.4 37.8h0M457.4 44.3h0M417.7 47.6h0M416.1 71.1h0M456.5 43.9h0M467.2 48.4h0M451.8 80.2h0M450.9 77.5h0M441.8 68.8h0M422.5 47.9h0M456.3 67.4h0M459.4 39.0h0M446.2 68.2h0M438.0 79.1h0M446.1 31.4h0M428.9 71.0h0M426.9 55.8h0M429.7 33.1h0M447.8 76.1h0M468.8 58.3h0M428.7 34.5h0M437.7 68.9h0M462.7 46.2h0M436.3 47.3h0M444.9 51.9h0M456.0 75.0h0M413.5 75.2h0M454.6 74.4h0M415.1 72.3h0M438.1 40.2h0M453.7 57.0h0M421.8 78.0h0M454.7 83.2h0M455.2 84.1h0M458.1 70.7h0M464.6 64.8h0M457.8 63.2h0M443.8 67.2h0M418.9 28.9h0M419.8 54.3h0M429.6 60.5h0M430.8 45.7h0M457.1 81.0h0M438.9 64.1h0M412.4 56.7h0M442.0 31.3h0M425.4 62.3h0M436.9 74.3h0M447.8 68.0h0M442.4 32.7h0M419.8 39.3h0M430.4 41.4h0M459.9 50.5h0M440.8 71.3h0M450.8 45.1h0M425.1 70.4h0M425.0 40.7h0M443.0 77.2h0M433.4 45.8h0M465.6 47.4h0M437.1 45.8h0M412.4 60.5h0M443.8 44.5h0M468.8 61.0h0M434.5 40.7h0M444.9 66.5h0M467.1 44.5h0M445.7 30.2h0M441.8 74.2h0M457.3 67.5h0M414.8 39.0h0M431.7 73.3h0M420.2 37.8h0M454.1 35.8h0M430.7 31.3h0M422.3 32.8h0M450.2 85.8h0M437.3 32.1h0M449.0 65.8h0M440.4 73.4h0M452.0 55.7h0M426.1 27.0h0M446.1 36.9h0M458.4 36.1h0M435.5 61.0h0M416.3 74.7h0M441.3 53.4h0M418.8 48.3h0M446.1 32.6h0M430.1 39.6h0M418.9 76.4h0M436.4 78.8h0M421.2 37.8h0M454.1 55.3h0M435.4 50.6h0M445.0 29.5h0M422.7 44.6h0M429.4 77.6h0M438.5 48.3h0M433.9 43.0h0M440.4 45.6h0M448.8 54.7h0M427.1 42.2h0M462.3 58.1h0M436.5 62.8h0M426.8 75.1h0M413.3 63.1h0M447.4 48.5h0M449.8 33.5h0M414.7 42.7h0M459.7 42.8h0M447.3 66.4h0M411.9 56.2h0M433.8 57.2h0M453.8 82.2h0M433.9 42.0h0M413.7 72.2h0M439.4 65.4h0M451.4 75.6h0M429.9 34.1h0M417.8 49.1h0M457.9 60.9h0M414.3 70.2h0M445.9 76.8h0M437.1 48.7h0M421.3 80.0h0M457.0 38.7h0M451.0 50.0h0M417.8 46.9h0M452.9 60.1h0M426.8 69.8h0M439.9 62.0h0M449.7 57.7h0M440.3 74.6h0M463.3 58.2h0M457.3 62.0h0M458.8 57.4h0M419.4 71.6h0M448.5 37.2h0M452.1 79.3h0M438.2 31.8h0M435.8 74.9h0M438.4 77.3h0M424.6 28.2h0M422.9 47.4h0M463.3 56.3h0M447.9 62.9h0M437.3 79.0h0M442.0 35.0h0M457.9 34.2h0M419.4 66.1h0M471.5 56.1h0M450.1 76.6h0M438.3 41.5h0M448.6 68.0h0M425.1 60.8h0M437.1 31.1h0M454.4 40.0h0M425.8 59.9h0M447.8 49.4h0M452.0 64.2h0M438.0 62.2h0M447.0 62.1h0M436.4 41.4h0M431.4 29.2h0M461.0 43.6h0M425.2 44.4h0M432.7 44.2h0M426.6 32.4h0M461.5 44.9h0M448.2 77.9h0M430.3 70.6h0M422.3 68.8h0M461.2 61.7h0M434.5 71.7h0M456.2 59.3h0M435.3 31.9h0M436.1 56.4h0M463.5 38.9h0M437.1 59.6h0M418.7 48.8h0M449.8 33.9h0M426.2 58.4h0M424.3 28.2h0M411.8 60.0h0M411.4 66.1h0M461.9 54.9h0M440.5 52.8h0M424.1 54.6h0M458.0 70.1h0M415.9 54.3h0M415.7 35.0h0M430.9 36.4h0M418.9 42.4h0M437.6 28.7h0M428.0 56.6h0M452.1 33.5h0M421.8 68.2h0M458.3 70.3h0M417.6 33.5h0M431.0 73.9h0M416.3 46.6h0M456.5 51.0h0M423.5 53.8h0M440.2 46.1h0M461.6 54.4h0M440.3 33.6h0M449.9 75.8h0M459.9 48.9h0M445.1 73.9h0M447.9 72.4h0M462.1 37.7h0M452.5 70.5h0M459.1 67.1h0M457.1 62.6h0M462.3 36.7h0M434.6 44.9h0M452.5 47.8h0M448.4 37.3h0M437.7 38.2h0M449.6 79.7h0M426.4 62.3h0M426.4 75.6h0M453.8 30.6h0M462.3 56.1h0M439.5 60.5h0M438.0 58.4h0M414.8 43.2h0M423.1 60.8h0M438.3 44.4h0M413.3 32.8h0M447.6 32.7h0M456.3 49.2h0M448.2 45.6h0M461.2 55.2h0M444.6 52.1h0M441.9 61.9h0M441.7 72.7h0M453.6 68.7h0M461.8 35.8h0M467.9 46.4h0M416.2 32.3h0M419.6 69.3h0M423.7 52.7h0M461.0 40.5h0M423.1 66.2h0M424.0 31.0h0M420.8 65.2h0M465.4 46.8h0M454.3 51.6h0M424.8 35.1h0M437.4 80.0h0M424.7 69.0h0M459.0 49.6h0M439.4 80.2h0M448.8 83.2h0M440.0 39.3h0M421.3 65.5h0M427.6 33.3h0M421.0 52.8h0M418.1 56.2h0M431.0 48.1h0M456.9 49.5h0M414.5 54.3h0M461.9 38.5h0M423.3 28.6h0M454.9 30.7h0M455.0 56.2h0M428.5 63.7h0M414.1 49.3h0M421.6 39.0h0M470.3 58.0h0M435.4 45.6h0M451.2 43.8h0M452.7 52.5h0M445.4 54.0h0M451.3 83.7h0M453.2 32.6h0M455.3 32.9h0M451.9 63.8h0M455.6 76.2h0M463.9 52.5h0M450.4 64.7h0M432.1 38.6h0M427.8 69.9h0M442.9 56.8h0M442.6 30.4h0M442.0 50.7h0M419.0 37.8h0M434.1 72.1h0M435.9 68.6h0M440.9 41.3h0M425.7 41.4h0M450.0 83.2h0M448.2 57.8h0M441.6 32.7h0M460.2 49.6h0M440.6 71.5h0M418.2 28.4h0M416.4 35.6h0M420.1 51.2h0M445.0 75.1h0M453.9 85.6h0M444.6 52.1h0M458.8 45.9h0M439.2 43.8h0M437.5 78.5h0M430.5 53.6h0M415.3 40.4h0M457.5 75.3h0M451.9 79.7h0M428.4 56.6h0M419.9 69.4h0M424.2 53.1h0M443.5 71.5h0M424.3 35.9h0M432.5 63.9h0" stroke="#e8303c" stroke-width="1.0" stroke-linecap="round" fill="none"/>
<rect x="408.30" y="23.50" width="66.20" height="64.90" fill="none" stroke="#cfcfcf" stroke-width="1"/>
<path d="M517.3 62.6h0M525.0 52.4h0M513.2 80.0h0M507.6 55.2h0M521.1 31.4h0M488.5 58.6h0M499.6 62.3h0M508.1 84.2h0M492.6 72.5h0M530.8 55.0h0M527.2 52.8h0M496.2 48.0h0M523.7 30.3h0M521.4 59.0h0M506.8 79.1h0M526.7 62.9h0M518.9 61.7h0M520.3 37.0h0M498.9 72.5h0M500.6 52.8h0M510.8 60.6h0M526.2 38.4h0M525.6 42.9h0M522.6 49.0h0M493.0 67.2h0M504.0 49.6h0M535.3 59.8h0M511.1 66.8h0M527.0 46.2h0M513.7 29.1h0M512.5 63.2h0M488.6 76.3h0M532.6 43.2h0M529.5 52.9h0M494.9 48.3h0M502.2 55.6h0M522.1 31.5h0M500.5 62.1h0M496.3 63.4h0M522.1 44.8h0M489.6 66.3h0M506.6 64.8h0M516.2 79.2h0M539.4 50.1h0M521.6 72.7h0M517.6 37.6h0M523.0 71.9h0M521.8 54.6h0M489.3 53.9h0M493.9 63.5h0M505.3 66.5h0M499.2 72.3h0M510.8 74.2h0M512.5 58.4h0M525.1 66.5h0M505.3 72.3h0M494.8 60.7h0M526.2 66.6h0M526.1 52.5h0M509.1 70.8h0M500.5 75.5h0M509.3 81.8h0M521.0 75.0h0M523.4 71.0h0M527.3 52.0h0M527.7 62.8h0M505.2 48.6h0M503.6 53.2h0M517.8 80.6h0M519.3 79.6h0M531.7 53.1h0M520.3 32.2h0M518.9 69.0h0M515.5 45.5h0M492.6 68.8h0M522.9 64.0h0M536.7 45.8h0M518.2 34.6h0M504.5 64.3h0M511.5 82.4h0M511.2 37.0h0M525.0 64.0h0M530.4 35.6h0M502.5 64.5h0M506.6 77.9h0M538.6 50.9h0M517.9 60.5h0M511.3 38.8h0M510.9 83.8h0M520.9 71.4h0M519.2 43.7h0M537.5 52.0h0M529.8 46.8h0M515.5 30.5h0M505.4 39.0h0M518.1 65.2h0M507.7 43.2h0M502.9 69.7h0M534.0 40.9h0M511.5 59.9h0M501.5 56.2h0M509.6 78.9h0M493.1 59.8h0M511.2 39.8h0M508.9 72.1h0M499.6 60.2h0M508.8 75.0h0M502.6 68.4h0M532.0 53.5h0M507.2 54.6h0M514.3 70.8h0M507.2 80.5h0M488.2 71.5h0M511.0 30.6h0M495.3 62.4h0M503.4 72.3h0M493.9 49.6h0M518.0 57.3h0M520.6 26.5h0M488.0 58.1h0M504.6 81.7h0M491.4 60.8h0M507.4 40.2h0M521.5 31.4h0M517.7 79.7h0M497.9 45.7h0M513.7 48.3h0M503.7 41.5h0M533.6 44.2h0M520.0 29.8h0M491.6 63.1h0M515.3 40.7h0M526.4 54.1h0" stroke="#3450a6" stroke-width="1.5" stroke-linecap="round" fill="none"/><path d="M512.4 49.1h0M507.6 70.4h0M523.2 69.1h0M501.9 75.1h0M518.0 32.6h0M490.7 58.0h0M513.0 80.7h0M523.5 60.7h0M504.6 76.7h0M530.1 45.7h0M511.3 45.7h0M508.6 47.7h0M523.3 35.8h0M496.3 81.9h0M517.9 34.6h0M528.8 48.5h0M535.1 55.4h0M515.1 36.1h0M529.8 39.3h0M511.0 59.4h0M511.3 81.6h0M534.7 58.1h0M525.8 31.5h0M514.0 64.0h0M513.1 57.9h0M506.0 72.4h0M505.8 70.0h0M506.5 64.0h0M513.3 38.3h0M530.5 30.7h0M520.1 39.3h0M503.6 73.2h0M502.9 40.3h0M504.8 75.8h0M509.9 37.4h0M495.7 59.1h0M522.2 33.8h0M485.6 58.9h0M503.6 75.3h0M496.0 71.8h0M516.2 79.8h0M525.4 49.2h0M514.6 80.9h0M517.5 37.2h0M518.6 74.6h0M488.6 58.4h0M511.6 33.8h0M487.4 70.1h0M524.5 46.9h0M487.9 59.8h0M503.0 54.2h0M516.6 71.0h0M509.1 81.6h0M501.6 84.5h0M515.8 66.0h0M534.6 37.9h0M512.0 70.1h0M525.9 30.6h0M529.8 36.2h0M513.3 52.1h0M507.5 73.2h0M523.4 45.1h0M498.1 74.6h0M490.6 71.3h0M513.7 43.6h0M499.9 49.0h0M500.7 40.1h0M518.4 34.0h0M529.9 48.7h0M531.2 47.1h0M511.8 48.5h0M520.4 41.1h0M489.2 73.4h0M531.6 33.7h0M508.8 42.4h0M511.5 42.4h0M517.5 64.2h0M528.3 55.7h0M489.1 70.1h0M520.2 58.9h0M497.6 79.4h0M531.8 36.8h0M528.3 34.8h0M511.4 38.6h0M523.3 33.9h0M527.6 61.6h0M540.0 51.5h0M536.8 49.8h0M508.7 30.7h0M505.2 82.4h0M514.1 65.4h0M507.6 48.8h0M534.7 33.5h0M513.4 44.8h0M505.4 38.4h0M539.7 54.7h0M523.0 49.1h0M498.2 48.8h0M522.6 63.7h0M533.5 31.9h0M514.1 58.6h0M525.3 29.0h0M523.7 29.1h0M511.4 71.2h0M532.6 44.3h0M487.6 61.1h0M512.9 60.9h0M504.7 48.4h0M517.9 53.2h0M491.3 72.8h0M520.1 41.6h0M525.2 28.9h0M511.0 60.2h0M516.9 70.0h0M529.4 39.6h0M530.6 32.8h0M490.5 80.0h0M532.0 45.9h0M532.8 60.0h0M514.7 61.3h0M510.3 57.4h0M510.2 69.8h0M533.9 60.7h0M520.1 60.5h0M508.1 65.7h0M513.6 36.6h0M512.3 65.9h0M531.8 62.0h0M505.1 65.1h0M504.2 59.8h0M510.2 63.0h0M514.7 40.4h0M529.6 65.0h0M517.3 46.6h0M510.2 48.9h0M499.1 67.1h0M499.7 60.1h0M525.5 63.4h0M508.9 72.2h0M511.0 57.8h0M533.4 34.0h0M534.4 65.2h0M506.1 65.5h0M491.8 71.7h0M523.1 53.2h0M534.7 47.9h0M535.1 60.7h0M537.0 39.6h0M501.0 71.4h0M487.6 55.0h0M516.1 57.7h0M535.2 33.4h0M494.7 83.6h0M499.2 62.1h0M538.1 57.2h0M487.6 62.1h0M501.4 48.5h0M529.4 54.0h0M515.1 78.9h0M501.0 72.6h0M506.5 54.0h0M534.3 36.6h0M509.7 42.8h0M501.6 81.9h0M523.4 69.6h0M525.7 65.9h0M504.9 65.9h0M481.1 66.5h0M481.4 68.3h0M481.9 69.6h0M482.7 64.9h0" stroke="#e8303c" stroke-width="1.5" stroke-linecap="round" fill="none"/>
<rect x="478.50" y="23.50" width="66.40" height="64.90" fill="none" stroke="#cfcfcf" stroke-width="1"/>
<path d="M600.2 74.4h0M576.5 29.3h0M560.4 39.4h0M574.7 50.5h0M577.0 28.2h0M601.9 52.9h0M577.2 75.5h0M590.5 33.7h0M563.1 46.9h0M578.9 69.3h0M576.3 65.1h0M572.9 62.8h0M567.5 67.1h0M566.5 53.0h0M579.6 52.6h0M568.3 37.3h0M587.0 51.8h0M552.5 37.3h0M570.8 28.7h0M606.5 56.8h0M593.6 60.3h0M563.7 52.8h0M573.1 37.0h0M587.1 51.7h0M571.4 79.1h0M604.3 58.0h0M565.4 40.1h0M591.8 62.5h0M580.6 68.1h0M566.8 36.6h0M560.3 32.9h0M595.8 51.3h0M602.9 47.9h0M581.2 64.1h0M584.5 34.5h0M578.2 63.8h0M578.7 43.4h0M578.7 76.6h0M571.7 61.5h0M592.1 54.4h0M579.8 78.5h0M575.9 31.9h0M591.0 53.4h0M565.9 49.1h0M570.4 71.5h0M554.6 40.7h0M567.7 35.5h0M589.7 40.1h0M579.3 71.9h0M597.8 67.0h0M594.8 46.6h0M584.9 46.8h0M587.5 69.1h0M579.5 77.4h0M580.7 82.9h0M566.2 64.9h0M593.3 37.6h0M575.8 38.6h0M583.1 74.0h0M588.7 57.2h0M599.9 66.1h0M594.8 43.0h0M597.2 57.1h0M558.2 49.8h0M587.0 50.2h0M585.5 47.0h0M569.1 46.6h0M567.4 34.9h0M605.6 66.1h0M596.5 35.9h0M565.7 71.5h0M590.7 46.0h0M571.7 54.4h0M600.7 73.4h0M577.4 36.2h0M605.4 60.7h0M586.4 28.8h0M575.8 59.6h0M581.1 68.7h0M588.8 60.9h0M552.0 35.1h0M601.7 45.7h0M588.1 44.2h0M602.0 65.7h0M572.1 43.7h0M568.3 69.9h0M575.0 68.8h0M603.1 65.5h0M601.5 41.5h0M600.3 63.8h0M597.4 48.7h0M587.7 44.4h0M570.1 43.7h0M595.9 43.0h0M576.2 42.3h0M607.3 65.2h0M592.1 57.8h0M591.0 65.4h0M597.2 57.3h0M590.7 66.3h0M579.4 33.0h0M594.1 77.8h0M556.7 31.6h0M594.5 71.8h0M591.1 57.8h0M603.1 49.8h0M577.3 47.3h0M600.7 74.3h0M577.6 33.0h0M601.1 64.6h0M572.9 62.1h0M556.1 47.5h0M599.1 59.5h0M587.0 55.1h0M576.5 31.3h0M584.2 37.0h0M554.4 39.3h0M591.5 40.8h0M605.3 62.2h0M576.7 62.0h0M584.9 30.9h0M566.6 35.8h0M600.5 41.2h0M597.5 80.3h0M574.6 35.8h0M572.4 57.5h0M570.3 75.1h0M567.9 76.6h0M581.4 43.1h0" stroke="#3450a6" stroke-width="1.5" stroke-linecap="round" fill="none"/><path d="M585.3 51.2h0M582.6 47.0h0M602.8 62.0h0M591.6 52.2h0M588.6 28.7h0M573.0 79.8h0M580.8 73.7h0M585.2 48.0h0M576.0 41.4h0M561.6 33.3h0M590.5 73.9h0M573.1 51.8h0M571.8 45.3h0M587.0 48.5h0M566.4 56.7h0M586.9 29.9h0M579.2 36.5h0M578.2 51.9h0M594.9 78.5h0M590.7 80.2h0M588.1 66.0h0M565.0 31.8h0M588.7 77.1h0M566.6 52.2h0M593.1 68.0h0M570.9 44.3h0M564.8 69.9h0M582.9 72.4h0M584.7 77.3h0M560.5 34.6h0M586.9 47.6h0M600.3 46.1h0M585.8 83.1h0M574.4 29.2h0M561.0 49.3h0M598.8 79.1h0M585.0 50.8h0M575.1 31.6h0M569.2 42.2h0M583.9 27.6h0M589.1 53.8h0M564.7 47.0h0M593.8 46.0h0M561.2 39.4h0M576.5 58.6h0M559.3 48.9h0M579.8 46.1h0M599.2 73.5h0M589.0 61.4h0M563.8 43.5h0M569.6 77.1h0M578.9 78.2h0M572.0 66.2h0M574.6 54.2h0M579.6 65.7h0M574.4 70.6h0M575.9 68.7h0M564.8 36.2h0M587.6 66.0h0M584.0 69.7h0M561.6 36.5h0M600.0 58.0h0M597.0 75.7h0M589.3 67.6h0M579.4 42.6h0M584.3 62.8h0M577.8 47.3h0M575.1 48.6h0M580.3 67.0h0M599.6 63.9h0M571.6 76.4h0M599.1 40.9h0M576.8 56.7h0M605.7 62.8h0M593.6 80.0h0M567.6 35.1h0M594.4 74.1h0M603.1 50.1h0M571.1 32.2h0M565.8 48.5h0M597.6 47.2h0M555.7 43.0h0M599.2 75.3h0M568.0 66.0h0M604.7 60.5h0M568.7 46.8h0M584.4 64.2h0M599.0 59.6h0M581.6 80.4h0M589.5 73.2h0M588.9 76.8h0M603.9 76.8h0M566.8 37.4h0M574.3 47.0h0M586.5 77.2h0M559.8 34.9h0M599.8 55.4h0M580.8 69.1h0M580.5 29.1h0M577.5 32.0h0M608.6 64.2h0M553.6 39.7h0M565.3 29.4h0M604.4 54.0h0M586.3 78.0h0M582.3 61.6h0M573.0 64.6h0M575.3 79.5h0M606.1 66.7h0M571.9 46.0h0M564.5 57.2h0M586.9 51.9h0M573.6 33.8h0M553.3 40.3h0M577.5 39.8h0M585.5 68.2h0M603.2 59.1h0M604.6 54.7h0M590.8 67.3h0M559.8 43.1h0M588.2 82.2h0M565.6 62.4h0M565.8 51.5h0M602.2 75.9h0M581.0 35.7h0M566.0 54.6h0M598.3 67.4h0M579.1 33.7h0M597.6 64.3h0M609.3 59.3h0M594.4 80.4h0M577.6 53.5h0M575.6 52.7h0M572.7 77.5h0M598.4 50.0h0M575.6 64.1h0M566.0 44.1h0M567.5 53.5h0M597.5 69.7h0M601.6 51.7h0M577.9 56.1h0M603.3 57.8h0M587.9 33.2h0M599.9 60.0h0M579.7 41.7h0M559.4 43.6h0M586.2 73.9h0M593.9 54.0h0M558.6 37.8h0M590.1 44.7h0M590.4 49.8h0M595.4 70.0h0M582.6 69.8h0M603.2 73.2h0M586.1 41.8h0M587.8 79.8h0M596.0 59.4h0M578.0 50.9h0M578.7 42.4h0M574.2 52.0h0M596.8 75.6h0M597.8 59.1h0M600.4 47.3h0M571.5 51.5h0M574.8 57.0h0M564.8 66.3h0M593.7 51.8h0M566.2 30.7h0M579.9 52.0h0M596.9 67.7h0M585.5 53.3h0" stroke="#e8303c" stroke-width="1.5" stroke-linecap="round" fill="none"/>
<rect x="548.50" y="23.50" width="65.90" height="64.90" fill="none" stroke="#cfcfcf" stroke-width="1"/>
<path d="M650.2 64.3h0M650.2 43.1h0M637.4 30.2h0M672.8 49.1h0M676.0 54.3h0M627.1 41.5h0M667.5 37.0h0M626.9 52.1h0M638.4 79.3h0M673.7 65.8h0M632.8 41.3h0M632.1 35.1h0M634.8 36.1h0M634.2 69.5h0M653.3 76.3h0M662.0 61.2h0M663.6 83.3h0M624.2 57.1h0M642.4 66.0h0M645.8 72.3h0M664.0 48.6h0M621.0 62.1h0M661.0 54.8h0M638.2 67.0h0M639.9 66.6h0M672.8 49.0h0M636.0 37.0h0M639.8 75.8h0M662.4 61.5h0M647.7 27.8h0M657.3 52.1h0M620.2 54.0h0M677.2 69.7h0M657.1 80.7h0M674.2 73.1h0M659.2 37.5h0M659.2 70.4h0M672.6 47.7h0M653.1 71.8h0M667.8 38.2h0M627.0 35.5h0M671.8 66.9h0M632.9 58.9h0M639.7 47.8h0M678.3 57.3h0M652.2 56.2h0M677.7 57.9h0M653.9 55.3h0M654.3 50.6h0M636.7 55.1h0M642.4 63.9h0M627.2 57.2h0M651.5 53.0h0M659.3 57.0h0M674.1 47.0h0M670.6 51.1h0M661.7 80.0h0M653.0 56.8h0M632.2 36.8h0M647.5 72.3h0M651.0 51.9h0M662.8 77.0h0M665.0 51.0h0M662.1 76.6h0M657.7 56.2h0M665.4 71.6h0M662.2 70.9h0M663.3 31.8h0M658.9 65.2h0M653.3 49.7h0M657.2 70.8h0M642.6 34.3h0M657.9 71.7h0M629.9 55.2h0M657.7 30.0h0M637.8 27.9h0M655.9 33.0h0M650.8 34.6h0M669.1 57.9h0M665.7 41.9h0M667.2 63.9h0M660.6 59.3h0M632.5 45.5h0M669.1 62.8h0M645.9 41.3h0M659.1 85.5h0M647.1 49.4h0M653.9 54.6h0M633.3 65.9h0M663.8 67.9h0M664.6 59.2h0M675.6 51.9h0M634.4 48.6h0M644.2 50.5h0M620.1 56.7h0M653.3 73.1h0M665.6 80.0h0M631.8 71.4h0M644.9 46.4h0M649.6 57.1h0M668.3 51.7h0M624.2 45.7h0M667.8 37.7h0M656.2 40.6h0M650.9 40.4h0M667.7 49.2h0M660.7 40.8h0M629.0 36.6h0M671.1 55.2h0M671.9 75.2h0M662.5 32.7h0M669.2 38.8h0M624.2 50.4h0M671.1 65.1h0M668.0 38.5h0M642.4 59.1h0M665.3 45.8h0M661.4 69.0h0M671.2 61.8h0M629.0 34.3h0M674.7 51.8h0M666.0 75.3h0M643.9 28.5h0M641.2 65.4h0M642.0 57.1h0M679.6 55.6h0M658.5 38.7h0M654.0 69.2h0M643.2 55.4h0M670.6 63.0h0M643.0 61.3h0M653.8 37.0h0M654.2 46.1h0M661.6 35.1h0M647.5 50.1h0M663.4 71.0h0M643.1 51.6h0M650.3 58.3h0M664.4 61.1h0M656.5 31.6h0M635.8 29.8h0M659.1 78.2h0M627.3 58.3h0M643.7 47.6h0M640.4 55.1h0M632.6 65.3h0M665.2 44.3h0M662.6 33.1h0M659.4 73.9h0M673.7 62.0h0M625.0 43.0h0M637.4 60.4h0M649.1 37.0h0M641.8 64.4h0M649.1 28.3h0M654.8 78.3h0M637.3 74.3h0M654.6 58.1h0M657.5 58.6h0M630.8 42.8h0M650.0 71.3h0M648.0 70.5h0M643.4 44.4h0M643.0 46.5h0M622.0 50.2h0M643.1 73.2h0M642.8 30.5h0M642.4 35.6h0M640.7 50.2h0M644.2 40.9h0M655.7 29.5h0M636.2 69.0h0M660.9 81.7h0M660.7 82.3h0M657.6 32.5h0M622.9 50.1h0M636.0 36.7h0M644.3 48.5h0M622.3 55.4h0M629.6 53.0h0M643.1 60.1h0M637.1 74.8h0M627.7 57.2h0M631.2 39.7h0M642.6 40.9h0M651.8 62.8h0M640.4 79.8h0M663.5 66.7h0M628.4 63.3h0M633.9 41.9h0M640.9 70.0h0M654.0 50.4h0M670.9 74.2h0M655.8 81.8h0M661.1 50.8h0M637.5 69.6h0M636.0 48.9h0M630.9 32.9h0M653.8 34.8h0M674.6 45.2h0M652.2 73.0h0M644.7 72.6h0M677.5 49.8h0M659.0 75.1h0M641.9 42.8h0M625.4 45.9h0M664.8 58.4h0M642.0 52.1h0M641.1 72.4h0M637.0 66.2h0M658.0 77.9h0M661.4 52.7h0M650.5 28.2h0M656.3 61.4h0M664.5 42.8h0M645.9 79.2h0M668.6 56.8h0M637.6 64.9h0M667.8 57.0h0M668.1 36.0h0M625.7 38.5h0M659.4 80.6h0M633.2 62.8h0M640.0 44.9h0M662.3 54.4h0M676.8 62.9h0M664.3 48.7h0M627.3 64.4h0M642.8 53.5h0M640.9 69.0h0M636.7 79.3h0M661.7 53.2h0M664.8 62.1h0M645.3 34.3h0M646.0 45.5h0M657.1 59.7h0M624.2 49.0h0M647.7 48.2h0M662.7 61.9h0M669.4 62.3h0M622.8 54.6h0M633.0 49.1h0M657.7 71.7h0M664.9 72.8h0M651.0 43.5h0M654.0 53.4h0M678.0 58.2h0M645.7 28.7h0M665.0 69.3h0M659.7 76.6h0M625.8 43.3h0M638.8 54.1h0M643.7 43.8h0M641.4 52.1h0M647.4 53.7h0M649.2 39.5h0M655.2 83.8h0M641.4 43.8h0M635.3 41.9h0M671.9 51.5h0M669.8 47.4h0M669.0 64.9h0M620.9 62.8h0M655.0 26.4h0M661.4 84.2h0M667.4 51.9h0M647.5 52.9h0M660.6 59.2h0M654.1 81.5h0M653.5 77.0h0M647.8 29.0h0M659.6 81.2h0M644.4 73.2h0M628.9 46.8h0M643.8 59.8h0M656.0 54.9h0M656.1 42.5h0M674.6 53.6h0M654.1 59.5h0M637.4 76.4h0M634.3 27.9h0M638.2 42.3h0M636.2 44.5h0M656.8 57.7h0M654.4 49.2h0M660.1 30.9h0M671.6 72.7h0M651.1 37.6h0M649.9 37.7h0M648.4 31.6h0M679.5 60.2h0M619.9 54.9h0M651.7 83.0h0M669.3 67.0h0M635.0 61.0h0M635.5 59.0h0M630.7 41.1h0M632.6 40.8h0M643.7 33.5h0M620.3 56.2h0M641.3 82.2h0M677.3 53.7h0M626.2 57.4h0M666.5 57.6h0M676.4 56.9h0M648.2 61.4h0M630.3 70.1h0M632.0 73.6h0M648.7 37.6h0M656.4 48.7h0M639.8 47.0h0M644.5 58.6h0M637.2 36.3h0M619.7 56.9h0M646.9 31.3h0M648.7 51.2h0M650.6 47.4h0M672.3 73.6h0M661.2 72.1h0M668.8 36.6h0M620.3 57.9h0M658.0 79.6h0M673.3 46.1h0M673.0 70.2h0M653.8 81.3h0M630.4 63.0h0M676.3 43.5h0M639.1 43.1h0M631.9 61.5h0M642.4 57.3h0M645.1 51.5h0M659.3 81.4h0M628.7 60.3h0M664.2 44.4h0M623.7 41.9h0M626.3 51.2h0M643.8 63.9h0M649.3 28.2h0M648.5 63.3h0M649.4 51.8h0M635.2 72.3h0M641.4 52.6h0M657.3 52.2h0M648.1 54.0h0M644.2 65.4h0M631.4 71.4h0M641.3 68.5h0M666.0 41.7h0M643.3 60.1h0M665.2 61.9h0M654.4 58.7h0M667.0 44.0h0M630.8 62.7h0M623.9 43.3h0M670.1 49.8h0M630.0 43.8h0M635.2 37.5h0M669.9 78.3h0M662.8 46.2h0M647.3 45.7h0M634.5 64.7h0M639.2 53.2h0M664.0 38.5h0M633.7 49.4h0M653.0 61.1h0M656.6 77.4h0M639.1 55.2h0M641.4 48.6h0M644.0 49.7h0M652.4 56.4h0M638.1 37.0h0M645.7 57.6h0M625.2 41.1h0M651.7 44.3h0M656.2 61.7h0M651.9 46.1h0M628.7 38.8h0M639.5 41.6h0M658.7 62.7h0M654.3 48.7h0M635.3 42.6h0M657.8 48.4h0M622.6 56.3h0M638.4 34.6h0M647.3 75.3h0M667.5 69.5h0M671.5 61.9h0M632.2 64.7h0M653.0 49.6h0M657.2 38.3h0M673.1 61.8h0M662.7 81.6h0M664.2 78.3h0M656.4 78.9h0M660.2 83.6h0M632.8 51.2h0M635.5 47.8h0M670.8 38.3h0M658.5 30.2h0M644.8 45.9h0M661.2 83.6h0M652.9 77.2h0M633.8 28.9h0M660.7 85.1h0M634.8 62.0h0M658.1 66.6h0M643.0 80.7h0M649.2 47.8h0M643.9 31.1h0M645.7 45.3h0M674.0 55.4h0M675.1 71.1h0M632.5 52.8h0M677.6 47.5h0M634.0 65.3h0M677.0 64.1h0M622.8 57.1h0M634.7 59.6h0M664.6 71.9h0M668.1 61.0h0M643.9 65.3h0M641.6 65.3h0M645.6 43.0h0M658.4 74.2h0M668.9 62.2h0M642.3 80.0h0M645.8 36.0h0M659.7 36.0h0M645.9 53.8h0M668.0 45.1h0M624.1 41.5h0M659.9 51.0h0M647.7 41.6h0M627.1 38.2h0M627.2 38.2h0M675.7 55.1h0M634.2 63.4h0M645.6 53.7h0M647.3 66.2h0M631.4 44.1h0M637.6 54.0h0M668.8 40.6h0M656.8 82.7h0M673.1 56.9h0M638.5 51.0h0M644.0 59.4h0M649.6 49.2h0M666.9 59.4h0M664.2 61.9h0M630.5 60.8h0M649.0 71.4h0M677.6 57.9h0M641.7 31.8h0M627.1 54.1h0M647.9 61.0h0M657.4 47.3h0M632.6 69.4h0M634.5 39.4h0M640.7 65.9h0M671.2 74.7h0M664.5 75.5h0M659.7 30.1h0M661.3 59.0h0M644.0 41.7h0M640.3 30.8h0M660.7 79.2h0M646.9 27.0h0M672.3 62.7h0M671.4 63.3h0M643.7 42.6h0M631.7 58.0h0M641.5 42.3h0M666.7 75.9h0M651.6 42.5h0M623.9 66.5h0M637.7 63.4h0M664.8 57.7h0M669.5 55.9h0M663.0 69.0h0M654.4 51.0h0M636.4 79.9h0M657.7 63.0h0M634.0 40.0h0M648.5 52.8h0M638.5 75.1h0M621.7 62.3h0M662.0 39.1h0M651.5 31.1h0M645.9 62.6h0M651.0 30.7h0M635.7 75.7h0M653.1 56.4h0M662.3 40.8h0M628.6 45.4h0M659.6 74.2h0M640.8 29.3h0M637.3 63.4h0M624.4 54.2h0M670.1 69.4h0M644.3 35.5h0M646.1 34.0h0M670.2 60.2h0M635.8 62.1h0M634.7 76.2h0M654.8 41.4h0M638.9 48.8h0M658.8 76.8h0M652.3 56.5h0M660.5 59.3h0M628.7 51.3h0M651.0 36.1h0M657.3 54.5h0M648.3 68.3h0M657.4 58.3h0M642.3 50.9h0M680.7 55.8h0M663.7 62.1h0M661.4 60.2h0M660.5 36.6h0M674.6 52.4h0M625.7 58.6h0M667.2 63.6h0M654.7 42.3h0M655.7 42.1h0M646.3 68.4h0M635.1 78.0h0M640.0 55.4h0M672.8 60.8h0M676.4 56.0h0M632.5 66.5h0M667.7 41.0h0M659.6 80.1h0M636.0 44.0h0M664.5 35.7h0M634.9 34.6h0M660.2 29.3h0M634.0 71.8h0M634.5 32.4h0M658.4 69.6h0M669.4 51.0h0M641.8 28.4h0M669.5 43.4h0M670.3 76.4h0M624.0 49.1h0M661.9 29.3h0M631.2 70.3h0M652.5 42.0h0M641.5 61.3h0M650.4 70.9h0M656.4 67.0h0M642.8 49.6h0M630.6 51.0h0M639.4 69.4h0M676.2 50.9h0M641.9 46.0h0M646.4 44.6h0M639.8 40.8h0M638.6 69.2h0M649.1 42.7h0M674.2 58.3h0M644.0 66.0h0M631.5 55.9h0M657.2 67.7h0M647.1 42.3h0M672.1 56.2h0M630.3 56.7h0M636.1 38.0h0M659.1 67.7h0M646.5 53.1h0M666.3 62.8h0M622.7 50.2h0M634.5 30.4h0M662.5 38.9h0M630.4 45.5h0M654.2 30.7h0M668.3 71.2h0M647.0 51.9h0M655.3 83.5h0M656.3 82.5h0M665.6 36.0h0M636.5 63.6h0M630.0 31.8h0M650.3 65.0h0M667.0 63.7h0M646.3 43.7h0M640.9 81.0h0M647.4 27.7h0M658.5 32.2h0M630.0 37.0h0M673.0 73.6h0M679.4 63.4h0M620.2 53.1h0M667.1 46.7h0M635.4 55.0h0M660.9 79.9h0M653.9 57.8h0M652.1 56.4h0M633.4 38.9h0M657.0 71.5h0M659.1 69.8h0M662.2 75.1h0M666.4 70.7h0M625.1 64.2h0M631.4 52.8h0M664.5 32.6h0M657.9 61.8h0M633.3 67.8h0M637.3 57.7h0M651.9 33.2h0M653.5 64.8h0M641.0 38.4h0M631.3 38.8h0M645.4 74.6h0M647.2 42.3h0M629.7 45.1h0M641.0 52.0h0M659.4 40.5h0M650.8 77.3h0M665.8 58.5h0M644.1 77.3h0M639.2 29.7h0M636.7 32.9h0M626.2 48.5h0M636.8 71.5h0M639.2 72.7h0M666.9 69.3h0M661.9 68.6h0M658.5 79.3h0M663.9 32.7h0M658.5 52.2h0M667.7 46.0h0M638.6 71.8h0M657.3 33.8h0M672.8 43.8h0M634.8 33.3h0M672.2 71.1h0M669.9 44.0h0M676.7 63.8h0M625.4 47.2h0M659.7 63.7h0M648.5 74.2h0M668.3 43.0h0M643.6 43.2h0M661.6 54.6h0M636.6 45.1h0M640.8 55.0h0M628.1 38.6h0M671.0 43.6h0M665.9 72.1h0M633.4 67.8h0M676.9 52.0h0M639.4 45.8h0M668.6 64.6h0M652.4 69.2h0M661.4 76.3h0M670.2 36.9h0M633.2 75.4h0M663.2 58.6h0M645.2 40.0h0M639.1 61.6h0M671.0 55.5h0M629.7 40.2h0M643.6 75.9h0M665.1 46.6h0M640.3 70.4h0M629.5 60.6h0M667.0 77.1h0M650.4 50.9h0M661.9 61.8h0M633.7 61.2h0M672.5 58.8h0M647.0 45.2h0M655.0 82.1h0M665.2 61.0h0M631.8 30.9h0M636.1 37.1h0M667.8 58.2h0M660.8 55.1h0M673.1 55.7h0M659.1 37.2h0M637.5 59.1h0M658.5 71.9h0M659.5 37.2h0M627.4 63.3h0M657.1 71.1h0M624.4 52.8h0M634.6 64.5h0M646.7 62.5h0M641.3 58.2h0M649.0 55.2h0M654.8 59.5h0M626.2 45.0h0M644.8 34.3h0M626.2 53.0h0M677.5 55.6h0M653.3 51.1h0M645.8 54.1h0M635.5 44.1h0M657.6 28.5h0M663.7 71.4h0M662.0 61.4h0M639.8 46.2h0M658.8 33.2h0M655.5 78.1h0M666.2 53.2h0M671.0 41.4h0M653.9 51.9h0M638.4 42.6h0M664.0 44.6h0M661.2 41.7h0M670.4 41.4h0M674.2 53.6h0M645.6 50.4h0M659.8 42.3h0M663.5 72.9h0M665.0 34.7h0M668.6 36.7h0M626.7 40.8h0M642.3 81.6h0M647.5 33.7h0M659.1 29.8h0M649.4 40.9h0M619.6 52.8h0M641.0 40.8h0M661.7 68.9h0M644.8 81.1h0M640.6 68.3h0M659.5 78.2h0M627.0 57.0h0M662.6 66.8h0M619.5 58.4h0M672.4 51.2h0M661.6 33.6h0M630.5 66.0h0M637.1 43.6h0M652.2 35.3h0M631.3 62.8h0M649.7 70.8h0M663.2 73.2h0M654.2 32.4h0M624.4 49.4h0M677.8 60.1h0M642.4 56.4h0M678.0 63.2h0M622.8 57.8h0M627.4 37.6h0M676.0 61.0h0M672.4 52.5h0M628.3 42.6h0M670.3 41.7h0M653.9 66.3h0M660.7 37.9h0M631.2 47.9h0M657.7 36.3h0M664.7 65.6h0M636.2 58.7h0M631.8 33.3h0M651.8 28.9h0M634.0 75.5h0M655.7 37.8h0M670.9 64.2h0M639.7 40.0h0M631.5 68.1h0M654.0 54.9h0M647.5 36.0h0M648.4 70.8h0M671.2 53.3h0M658.5 77.3h0M645.2 37.3h0M651.0 36.3h0M637.4 40.3h0M663.4 40.8h0M650.6 33.5h0M653.8 31.6h0M637.8 46.6h0M671.6 56.7h0M631.9 35.3h0M661.1 83.7h0M653.9 63.9h0M670.2 68.8h0M666.8 63.8h0M634.4 64.3h0M642.1 68.6h0M631.8 72.8h0M631.8 66.4h0M650.4 48.0h0M674.2 48.9h0M664.6 35.7h0M643.4 58.5h0M641.1 73.2h0M670.3 48.0h0M648.2 57.9h0M649.1 52.5h0M662.3 31.4h0M649.4 51.6h0M658.7 82.9h0M656.7 57.2h0M675.9 54.0h0M650.8 28.6h0M650.2 57.0h0M649.2 81.8h0M653.8 51.1h0M659.1 63.0h0M619.6 53.7h0M671.2 39.2h0M657.7 75.3h0M633.5 57.6h0M645.9 65.6h0M638.8 54.2h0M634.2 69.9h0M638.2 51.2h0M635.6 34.9h0M668.3 72.8h0M666.1 61.8h0M632.6 54.3h0M639.0 60.3h0M644.0 55.9h0M674.7 59.0h0M632.8 65.6h0M679.2 58.8h0M667.1 68.4h0M664.4 58.4h0M649.3 64.1h0M657.8 61.9h0M656.7 45.7h0M645.9 55.6h0M669.4 68.3h0M649.3 31.6h0M635.5 34.4h0M628.4 41.7h0M661.6 41.2h0M658.6 40.6h0M639.8 36.7h0M627.3 37.9h0M631.9 58.5h0M633.9 59.5h0M649.5 55.7h0M642.5 41.2h0M656.4 59.6h0M653.6 67.3h0M665.5 53.4h0M633.5 37.7h0M668.6 78.4h0M670.4 77.5h0M671.1 37.8h0M654.1 64.2h0M659.7 35.7h0M621.6 66.4h0M639.9 61.8h0M665.3 41.0h0M655.3 57.8h0M657.9 30.8h0M649.2 61.9h0M650.8 54.3h0M639.8 62.5h0M626.3 55.7h0M654.4 68.1h0M622.4 54.3h0M663.4 39.1h0M645.1 31.4h0M642.3 30.2h0M625.8 47.7h0M649.7 61.5h0M665.9 40.9h0M653.2 41.9h0M634.2 38.6h0M635.9 73.6h0M628.6 50.3h0M653.8 43.3h0M679.2 53.1h0M623.1 58.9h0M661.1 80.5h0M647.6 59.2h0M639.9 52.2h0M657.0 29.8h0M668.1 71.7h0M667.4 39.3h0M661.4 68.1h0M666.4 37.5h0M647.6 55.7h0M646.4 68.5h0M665.1 40.7h0M633.6 64.6h0M644.4 54.8h0M635.0 40.8h0M677.4 49.1h0M635.2 70.8h0M667.5 73.1h0M625.2 48.0h0M652.7 60.5h0M678.5 64.7h0M643.7 40.6h0M626.9 41.2h0M671.6 52.2h0M675.9 56.2h0M671.6 65.2h0M631.5 42.4h0M646.7 66.0h0M641.3 55.3h0M650.2 48.1h0M671.2 50.7h0M629.4 58.9h0M637.0 62.8h0M668.3 73.3h0M635.1 64.7h0M623.8 46.1h0M635.2 34.8h0M630.4 38.1h0M656.4 68.1h0M670.7 41.7h0M642.7 66.7h0M627.6 42.3h0M659.7 56.8h0M628.2 45.8h0M640.1 28.8h0M647.1 51.7h0M654.2 85.0h0M653.8 73.5h0M664.1 72.8h0M654.3 53.2h0M646.9 72.0h0M632.7 69.6h0M628.5 44.6h0M636.5 32.9h0M674.8 46.4h0M636.9 36.6h0M655.4 53.1h0M638.3 46.0h0M663.3 82.3h0M667.5 46.9h0M650.8 78.7h0M649.2 67.1h0M665.2 38.2h0M639.1 57.9h0M652.6 57.2h0M667.1 68.0h0M641.2 70.9h0M648.9 37.3h0M632.0 33.2h0M628.0 37.5h0M662.8 32.3h0M666.6 71.2h0M621.6 50.8h0M626.4 66.6h0M639.1 31.2h0M675.7 66.5h0M652.5 52.7h0M631.0 59.0h0M665.1 50.3h0M631.9 38.0h0M641.0 52.8h0M667.7 40.8h0M634.1 63.5h0M657.5 62.8h0M628.6 53.4h0M649.2 58.7h0M636.8 26.7h0M666.1 52.4h0M636.7 53.1h0M655.8 62.8h0M655.4 81.4h0M631.9 46.2h0M637.2 38.2h0M646.0 72.1h0M660.2 81.2h0M659.2 82.1h0M662.8 72.4h0M643.9 70.5h0M625.2 51.0h0M642.6 40.0h0M662.0 62.9h0M638.1 62.7h0M635.0 65.3h0M661.5 59.2h0M650.1 60.3h0M633.5 42.9h0M660.8 65.6h0M663.9 74.7h0M661.2 55.8h0M647.2 34.3h0M623.5 65.8h0M660.9 69.0h0M673.7 73.2h0M628.6 51.5h0M644.3 72.4h0M629.3 58.5h0M630.3 36.0h0M649.6 57.0h0M634.9 47.8h0M642.6 52.5h0M626.9 39.6h0M646.1 46.9h0M656.3 80.2h0M629.3 61.4h0M627.5 58.3h0M647.5 53.6h0M641.8 55.7h0M640.4 34.6h0M627.5 59.1h0M639.1 68.8h0M639.5 72.3h0M638.1 40.9h0M657.2 72.0h0M649.6 80.0h0M667.4 52.4h0M639.8 64.1h0M666.7 44.3h0M658.4 30.2h0M661.8 72.0h0M659.4 80.6h0M650.9 71.6h0M635.3 32.9h0M678.2 61.4h0M631.6 38.7h0M638.5 76.9h0M632.4 34.5h0M626.0 67.7h0M646.0 46.6h0M647.7 41.6h0M659.0 80.1h0M633.3 32.8h0M641.2 49.6h0M644.1 52.8h0M660.5 76.3h0M631.9 50.0h0M663.2 55.0h0M653.5 79.3h0M655.0 43.8h0M651.9 39.1h0M636.5 34.1h0M667.7 51.3h0M627.3 56.1h0M642.0 43.0h0M662.7 34.0h0M635.2 56.3h0M624.4 44.5h0M668.2 42.4h0M673.1 74.1h0M638.5 75.6h0M655.3 63.0h0M648.9 37.5h0M671.5 49.8h0M656.7 46.7h0M660.5 61.5h0M661.0 53.4h0M668.6 62.2h0M663.2 61.2h0M646.9 66.8h0M674.3 50.7h0M665.5 76.9h0M655.7 38.1h0M624.1 49.6h0M627.7 71.6h0M634.8 70.2h0M621.8 57.8h0M637.9 38.5h0M643.9 38.7h0M647.7 71.3h0M655.2 57.1h0M653.0 62.3h0M665.3 49.7h0M656.6 81.9h0M644.9 67.3h0M631.0 46.8h0M638.9 64.4h0M646.4 69.2h0M637.6 63.1h0M656.6 75.4h0M650.6 33.8h0M646.7 28.2h0M653.7 30.0h0M637.7 57.9h0M641.3 53.2h0M635.4 54.6h0M624.7 50.7h0M660.4 78.2h0M649.1 68.4h0M660.4 80.8h0M664.2 63.3h0M626.4 40.8h0M666.7 43.9h0M636.5 72.4h0M626.2 53.1h0M637.8 56.9h0M639.2 28.2h0M639.8 64.1h0M655.4 36.7h0M626.8 43.9h0M662.5 33.8h0M664.2 41.6h0M640.1 65.9h0M655.6 49.3h0M641.4 72.8h0M662.1 76.8h0M643.3 45.7h0M623.7 58.6h0M632.0 68.1h0M650.6 64.9h0M646.4 55.5h0M624.7 47.8h0M666.0 46.3h0M662.2 85.6h0M669.2 41.7h0M668.9 69.1h0M648.0 76.3h0M661.5 56.4h0M626.8 56.6h0M657.4 42.0h0M627.7 35.7h0M624.3 53.8h0M632.8 64.8h0M649.2 39.4h0M640.5 64.7h0M637.9 59.7h0M650.5 38.5h0M657.5 31.0h0M645.6 79.0h0M667.4 48.8h0M677.9 56.2h0M645.0 48.1h0M649.0 45.9h0M658.8 53.6h0M627.1 58.8h0M638.9 49.1h0M649.9 62.4h0M651.6 81.4h0M634.8 66.0h0M651.3 36.8h0M640.5 46.5h0M656.9 32.5h0M642.7 66.5h0M644.2 58.3h0M650.0 50.2h0M624.4 52.8h0M656.4 56.2h0M673.6 53.6h0M643.4 65.9h0M631.7 37.3h0M657.7 64.1h0M635.2 71.0h0M646.8 27.8h0M633.7 51.1h0M639.0 55.2h0M672.1 52.5h0M631.6 40.4h0M645.5 60.7h0M652.5 69.1h0M638.3 33.8h0M649.3 58.0h0M637.2 27.5h0M668.2 54.0h0M643.2 65.2h0M658.2 67.2h0M640.2 45.0h0M639.4 43.9h0M674.6 67.9h0M656.1 77.9h0M678.8 51.9h0M643.4 72.4h0M673.7 63.4h0M637.7 34.9h0M657.7 30.5h0M631.7 49.3h0M673.1 53.0h0M676.6 55.3h0M639.0 43.9h0M654.4 64.5h0M667.9 62.3h0M648.1 36.0h0M667.0 77.7h0M649.4 61.0h0M629.0 42.1h0M632.0 29.7h0M627.2 56.2h0M633.8 42.3h0M667.5 45.8h0M633.5 31.3h0M634.0 45.9h0M655.2 27.2h0M653.3 62.8h0M635.2 31.2h0M636.8 46.9h0M659.5 57.3h0M674.2 61.7h0M620.6 57.9h0M653.9 81.5h0M654.3 68.6h0M640.3 66.2h0M661.2 78.0h0M647.5 37.2h0M660.1 61.8h0M667.0 76.6h0M631.6 53.8h0M626.3 43.8h0M647.3 52.4h0M672.0 54.9h0M651.6 52.2h0M627.1 67.1h0M652.1 48.7h0M635.8 61.9h0M633.6 37.2h0M674.4 55.3h0M664.8 40.1h0M641.3 47.8h0M643.3 32.8h0M642.6 62.8h0M625.4 60.4h0M653.2 31.7h0M624.9 66.6h0M647.6 71.5h0M662.9 34.6h0M640.4 47.7h0M628.0 38.6h0M663.1 59.5h0M637.8 79.3h0M622.8 51.4h0M669.1 40.8h0M644.6 73.9h0M668.5 77.5h0M633.9 58.8h0M675.6 47.7h0M656.8 79.9h0M677.3 51.9h0M646.8 42.0h0M652.5 61.4h0M632.2 50.5h0M632.8 60.9h0M672.2 59.7h0M664.7 43.7h0M651.3 72.0h0M643.2 48.8h0M646.5 50.0h0M628.0 52.8h0M642.4 40.8h0M630.8 39.0h0M657.9 56.7h0M626.2 40.4h0M673.6 58.6h0M639.5 51.0h0M643.0 41.8h0M635.4 48.4h0M645.7 75.4h0M655.5 83.5h0M653.0 32.4h0M628.7 71.9h0M642.4 61.3h0M639.6 52.3h0M665.3 40.4h0M644.6 62.0h0M672.8 55.4h0M649.7 62.5h0M643.3 70.2h0M623.4 61.3h0M667.5 73.3h0M672.1 76.0h0M663.2 50.1h0M669.9 55.1h0M620.3 56.5h0M650.7 53.4h0M664.0 64.1h0M632.2 40.8h0M671.2 50.3h0M628.6 49.8h0M628.0 39.8h0M655.7 74.8h0M653.3 56.1h0M651.1 27.3h0M622.1 62.0h0M633.2 58.4h0M643.9 35.6h0M643.6 72.8h0M645.1 33.7h0M655.6 52.9h0M635.7 41.6h0M649.6 55.6h0M627.8 40.6h0M670.1 43.2h0M653.8 42.2h0M654.1 66.9h0M645.1 36.9h0M642.0 75.4h0M653.4 44.0h0M669.8 71.9h0M641.1 50.7h0M641.8 80.3h0M628.6 42.3h0M641.3 49.2h0M637.6 72.0h0M644.3 78.7h0M652.7 52.2h0M655.8 82.5h0M637.6 63.6h0M630.9 57.6h0M662.3 34.8h0M641.2 51.3h0M624.5 49.6h0M621.2 51.0h0M645.2 55.7h0M643.6 58.7h0M669.1 52.3h0M647.4 45.0h0M651.8 32.8h0M648.4 63.3h0M627.5 36.8h0M621.9 52.7h0M654.4 50.6h0M661.3 38.4h0M666.8 50.6h0M625.8 42.7h0M677.2 66.6h0M644.5 71.4h0M637.3 29.1h0M634.2 68.3h0M634.9 38.9h0M626.3 55.9h0M634.8 50.1h0M679.9 53.0h0M627.2 41.0h0M644.1 74.8h0M642.4 63.8h0M652.3 46.1h0M671.4 66.7h0M653.1 59.5h0M674.2 54.3h0M671.5 40.1h0M677.3 62.2h0M654.9 56.8h0M669.5 73.3h0M677.1 69.4h0M644.2 28.6h0M642.2 46.8h0M621.4 46.4h0M638.2 51.7h0M660.9 57.5h0M644.9 35.2h0M646.4 77.2h0M673.4 60.6h0M656.5 81.7h0M627.7 49.1h0M666.4 49.2h0M670.4 63.2h0M650.3 56.2h0M646.7 57.0h0M633.0 33.2h0M647.8 67.3h0M646.4 71.6h0M621.2 57.8h0M651.3 52.5h0M640.3 35.6h0M676.6 46.2h0M678.4 67.1h0M664.4 33.9h0M642.0 58.6h0M674.2 53.5h0M647.3 81.2h0M636.6 30.9h0M655.0 47.9h0M643.7 38.8h0M648.0 62.5h0M640.7 55.5h0M629.0 38.0h0M677.4 66.8h0M634.5 58.7h0M643.0 78.7h0M664.5 41.4h0M652.6 66.6h0M661.7 82.8h0M656.1 37.5h0M655.6 29.8h0M626.9 40.4h0M643.9 52.0h0M634.1 32.1h0M674.4 46.4h0M660.3 39.6h0M669.1 61.1h0M644.6 70.6h0M653.9 65.8h0M674.1 46.2h0M655.7 39.4h0M662.5 54.7h0M628.7 38.4h0M665.4 66.4h0M644.1 77.8h0M648.5 65.3h0M626.4 56.5h0M653.4 46.4h0M636.8 64.3h0M643.9 46.2h0M676.8 51.3h0M625.0 46.3h0M644.6 51.7h0M665.3 38.8h0M630.6 70.8h0M671.2 70.8h0M671.4 72.0h0M652.2 31.3h0M646.3 36.7h0M654.8 66.3h0M643.5 40.1h0M644.5 63.9h0M656.2 34.4h0M669.0 41.0h0M674.3 44.8h0M665.1 61.5h0M664.5 79.1h0M661.8 48.8h0M633.9 49.5h0M676.2 54.3h0M651.6 70.1h0M665.7 50.0h0M641.0 71.2h0M658.6 77.4h0M656.8 48.9h0M661.3 84.0h0M644.8 63.7h0M675.8 62.9h0M678.2 48.1h0M647.8 60.0h0M640.7 70.9h0M626.4 59.8h0M639.6 49.7h0M659.6 50.5h0M654.3 68.0h0M636.4 77.2h0M657.9 62.3h0M672.1 50.3h0M624.6 61.7h0M645.7 42.7h0M657.4 73.7h0M646.2 30.2h0M641.1 68.7h0M641.2 51.6h0M640.3 43.3h0M648.2 33.5h0M673.8 68.6h0M656.0 28.0h0M662.3 30.8h0M623.4 46.7h0M644.5 46.2h0M659.9 73.4h0M665.3 60.3h0M644.9 33.9h0M643.2 52.4h0M643.9 32.1h0M660.3 73.5h0M673.3 61.7h0M656.2 84.2h0M648.1 38.0h0M624.1 55.6h0M627.0 55.9h0M629.2 70.7h0M674.0 71.4h0M628.2 49.1h0M633.7 75.6h0M651.3 69.2h0M630.6 44.3h0M644.5 64.2h0M673.3 42.4h0M652.8 66.6h0M644.8 72.2h0M645.2 61.0h0M651.8 34.1h0M642.8 29.3h0M652.2 62.9h0M661.3 61.8h0M628.8 50.9h0M661.3 55.8h0M654.1 60.2h0M634.1 61.7h0M621.8 43.0h0M656.8 77.3h0M661.6 35.4h0M665.9 75.6h0M653.8 65.9h0M636.5 74.0h0M640.4 75.1h0M656.4 65.3h0M673.3 61.6h0M644.5 44.2h0M633.7 48.2h0M639.1 70.4h0M659.4 37.5h0M639.4 68.6h0M646.3 47.5h0M636.1 41.7h0M663.6 40.7h0M654.4 65.2h0M668.1 49.9h0M635.8 32.6h0M655.0 48.9h0M642.9 56.5h0M625.7 64.0h0M678.0 66.5h0M639.7 37.5h0M676.4 66.7h0M675.4 41.6h0M659.7 36.2h0M630.3 34.3h0M660.0 74.5h0M667.1 34.9h0M670.2 38.4h0M647.6 48.1h0M670.8 64.1h0M655.5 67.6h0M669.0 45.9h0M650.6 80.1h0M676.9 61.9h0M667.7 73.8h0M658.4 74.5h0M651.5 55.4h0M649.8 54.1h0M645.0 47.7h0M632.0 47.5h0M643.6 59.9h0M646.1 75.6h0M640.2 79.7h0M639.1 69.9h0M625.8 52.2h0M653.8 41.0h0M618.3 52.2h0M651.2 35.8h0M666.8 38.7h0M650.2 42.7h0M638.1 42.1h0M673.6 68.7h0M634.0 43.1h0M621.2 57.3h0M658.5 42.9h0M664.6 61.2h0M644.1 55.0h0M667.7 49.9h0M647.6 58.9h0M633.3 32.2h0M639.0 36.9h0M646.7 65.0h0M641.7 68.2h0M644.0 54.0h0M642.3 60.4h0M645.0 40.3h0M647.2 39.2h0M643.4 47.2h0M635.7 39.5h0M630.8 70.7h0M637.8 56.7h0M641.6 27.6h0M674.1 65.1h0M635.8 68.7h0M630.8 49.2h0M643.0 46.5h0M666.1 42.8h0M659.2 31.4h0M624.0 49.7h0M623.5 69.2h0M672.5 72.9h0M641.6 81.8h0M631.4 60.5h0M662.9 69.3h0M642.6 65.9h0M643.1 27.8h0M642.4 66.5h0M671.2 61.2h0M658.7 78.5h0M631.9 66.5h0M657.7 76.3h0M621.4 57.8h0M657.5 80.4h0M658.5 38.2h0M666.5 57.4h0M647.4 74.7h0M661.6 67.2h0M645.3 58.6h0M645.5 29.3h0M649.3 47.7h0M635.0 73.3h0M657.9 33.6h0M678.8 50.5h0M626.6 40.0h0M665.4 58.2h0M641.8 51.7h0M660.2 73.3h0M643.5 61.0h0M645.5 56.8h0M657.7 81.0h0M637.7 31.2h0M658.4 54.8h0M663.1 63.7h0M629.9 38.1h0M680.1 58.4h0M646.1 53.7h0M645.1 55.1h0M639.8 55.4h0M623.8 54.3h0M650.2 55.7h0M636.1 36.0h0M673.0 60.2h0M647.0 38.0h0M664.8 51.0h0M663.3 60.1h0M655.5 67.5h0M640.1 64.8h0M630.5 33.9h0M651.0 77.8h0M661.5 57.3h0M660.3 42.5h0M664.7 51.4h0M679.2 47.9h0M641.0 70.6h0M660.0 50.8h0M648.5 61.0h0M630.0 49.6h0M658.3 57.3h0M623.1 46.0h0M649.5 34.3h0M672.0 64.2h0M647.6 56.1h0M638.5 41.5h0M636.4 66.3h0M634.6 34.9h0M663.9 38.0h0M632.2 37.7h0M630.1 59.1h0M635.8 63.8h0M675.0 68.8h0M631.4 53.3h0M651.0 36.8h0M633.8 60.5h0M672.2 44.6h0M651.0 42.7h0M645.3 43.9h0M644.5 44.1h0M651.3 59.5h0M629.9 45.9h0M631.3 31.3h0M653.0 61.6h0M674.6 72.6h0M657.4 39.0h0M657.3 62.0h0M663.7 41.7h0M655.0 66.7h0M653.3 28.4h0M636.2 31.2h0M652.9 31.7h0M641.5 67.1h0M645.0 68.5h0M628.5 45.3h0M623.0 63.0h0M631.2 64.0h0M661.5 37.4h0M643.2 32.9h0M677.7 48.0h0M652.1 73.4h0M658.0 42.1h0M657.8 33.8h0M662.4 70.4h0M664.6 44.3h0M634.5 47.8h0M655.2 44.8h0M642.1 56.8h0M622.9 64.0h0M620.9 56.9h0M646.9 35.1h0M640.0 41.7h0M622.8 53.5h0M629.8 35.3h0M657.3 59.2h0M659.8 65.1h0M645.9 35.3h0M632.2 62.2h0M639.6 28.2h0M667.0 33.3h0M662.7 73.1h0M624.9 52.6h0M625.5 40.8h0M642.0 35.1h0M658.3 51.1h0M638.0 38.9h0M638.2 62.4h0M661.9 70.4h0M657.4 50.7h0M639.4 72.8h0M675.5 58.2h0M645.2 32.3h0M625.5 62.5h0M638.9 77.6h0M656.5 63.2h0M645.0 52.6h0M646.6 58.4h0M662.2 33.3h0M673.5 56.2h0M646.1 70.4h0M643.8 75.6h0M652.9 47.8h0M624.5 46.1h0M642.6 43.6h0M624.3 45.7h0M648.9 53.7h0M677.2 67.9h0M634.5 52.3h0M631.6 35.3h0M657.0 58.5h0M636.1 31.4h0M663.3 77.2h0M644.9 61.3h0M644.0 78.4h0M647.7 30.9h0M658.6 60.4h0M667.5 54.4h0M651.6 66.4h0M655.5 51.2h0M655.5 70.1h0M644.5 58.0h0M647.5 31.2h0M636.6 74.5h0M623.2 45.7h0M659.7 80.1h0M636.7 36.1h0M659.2 62.8h0M648.3 70.6h0M650.1 59.3h0M642.9 67.4h0M635.7 32.8h0M632.0 43.9h0M635.3 61.8h0M644.6 77.2h0M666.0 78.0h0M631.3 39.3h0M643.3 44.5h0M657.4 80.9h0M646.9 36.2h0M677.3 45.9h0M655.6 42.6h0M630.4 65.9h0M664.2 52.5h0M657.9 59.9h0M665.1 63.1h0M676.0 55.4h0M660.1 83.8h0M634.9 75.6h0M674.8 62.0h0M658.0 67.2h0M630.4 47.4h0M641.4 51.4h0M651.1 54.5h0M674.8 67.9h0M663.7 40.7h0M646.9 55.9h0M637.1 55.5h0M651.7 76.1h0M625.6 62.6h0M656.3 42.6h0M675.6 70.6h0M669.5 52.1h0M636.3 37.0h0M637.9 62.1h0M676.1 66.4h0M624.7 67.8h0M665.4 72.8h0M667.3 70.6h0M661.5 57.7h0M637.0 40.5h0M635.0 34.8h0M646.1 45.2h0M664.2 43.0h0M639.1 72.3h0M631.8 63.3h0M653.7 45.8h0M639.5 60.7h0M630.1 43.1h0M653.8 58.6h0M647.1 55.0h0M665.8 45.3h0M638.5 41.6h0M634.9 32.7h0M653.5 53.5h0M640.1 66.4h0M633.4 59.4h0M651.7 66.1h0M622.6 57.4h0M635.7 64.2h0M650.6 54.5h0M648.6 51.1h0M660.5 83.5h0M641.8 72.4h0M642.2 61.7h0M652.3 56.7h0M627.6 51.5h0M640.1 39.1h0M662.0 41.9h0M656.6 74.5h0M659.4 32.2h0M678.4 59.7h0M642.7 30.6h0M655.5 73.3h0M665.3 76.3h0M673.0 60.7h0M628.6 35.9h0M640.4 45.0h0M642.0 52.5h0M647.9 76.5h0M656.6 28.2h0M678.8 65.6h0M630.7 61.9h0M671.4 60.1h0M669.3 60.2h0M640.2 61.6h0M627.3 43.4h0M624.4 64.6h0M665.2 36.5h0M660.5 44.1h0M657.5 49.9h0M637.8 31.3h0M647.0 57.6h0M636.7 68.4h0M660.0 70.8h0M628.9 35.9h0M645.5 33.3h0M625.5 53.5h0M655.8 67.8h0M666.5 37.8h0M667.7 68.1h0M633.2 43.6h0M635.2 62.3h0M652.1 77.9h0M668.2 54.4h0M650.1 52.5h0M628.4 69.4h0M623.8 63.7h0M658.8 85.1h0M662.8 50.5h0M656.1 29.2h0M624.6 43.9h0M644.1 52.8h0M635.2 78.1h0M663.2 52.2h0M661.8 80.6h0M645.3 31.5h0M626.4 46.2h0M625.4 54.2h0M674.0 64.3h0M653.7 76.2h0M669.1 60.1h0M635.0 33.7h0M658.7 84.9h0M657.7 44.6h0M631.7 42.0h0M628.7 33.9h0M647.4 62.4h0M673.5 51.2h0M651.5 58.3h0M622.4 52.1h0M633.1 65.3h0M640.5 46.8h0M640.8 53.4h0M656.6 58.0h0M640.8 65.3h0M671.9 44.2h0M632.6 65.2h0M637.3 77.9h0M632.9 48.7h0M663.5 47.8h0M657.6 70.2h0M638.5 54.7h0M668.3 61.5h0M650.0 73.8h0M637.5 34.1h0M654.1 40.5h0M655.6 42.2h0M650.7 76.0h0M630.5 54.8h0M654.2 62.0h0M640.8 60.2h0M670.3 36.3h0M665.7 70.8h0M622.4 60.0h0M642.0 79.5h0M636.6 74.8h0M654.6 72.1h0M634.4 72.4h0M656.0 29.1h0M670.4 41.7h0M661.3 64.8h0M635.7 37.7h0M635.1 32.7h0M672.7 66.6h0M656.3 47.5h0M630.4 46.2h0M634.7 50.1h0M625.2 37.7h0M642.2 42.3h0M641.5 79.8h0M653.4 83.3h0M628.8 63.4h0M652.1 80.6h0M661.2 50.0h0M640.3 50.7h0M630.9 48.1h0M667.8 40.8h0M655.7 39.8h0M666.4 35.9h0M657.5 78.2h0M639.4 67.6h0M649.1 41.9h0M637.2 27.5h0M645.0 35.1h0M660.0 80.8h0M637.4 44.0h0M664.0 55.0h0M644.2 30.7h0M660.1 79.3h0M658.9 55.9h0M681.1 58.8h0M664.5 58.3h0M657.4 36.2h0M643.6 58.9h0M642.8 32.8h0M629.4 37.4h0M653.7 42.8h0M668.9 41.5h0M670.3 57.6h0M622.1 62.1h0M631.0 65.8h0M668.5 51.9h0M669.6 35.7h0M635.9 70.2h0M621.3 58.7h0M654.0 42.9h0M662.9 37.6h0M637.4 76.4h0M672.4 52.8h0M630.5 55.1h0M647.8 63.8h0M635.9 66.5h0M646.3 52.2h0M633.6 36.4h0M668.4 59.1h0M648.5 36.1h0M660.2 77.3h0M668.8 74.7h0M674.1 70.0h0M658.7 79.3h0M621.5 48.9h0M639.1 39.7h0M655.9 78.7h0M631.8 47.5h0M659.3 72.2h0M646.1 55.4h0M642.5 75.4h0M629.0 65.4h0M662.7 66.2h0M662.0 82.6h0M664.3 44.1h0M663.0 68.5h0M644.8 68.4h0M634.4 60.4h0M656.4 29.4h0M658.1 67.9h0M637.8 45.9h0M671.6 42.5h0M674.4 43.2h0M651.9 35.8h0M666.5 68.7h0M643.8 40.0h0M673.1 56.9h0M659.6 73.8h0M648.6 40.6h0M662.7 69.8h0M656.2 52.3h0M670.0 51.0h0M647.4 53.6h0M644.8 65.8h0M621.6 51.0h0M640.0 78.1h0M646.5 29.8h0M638.8 63.1h0M629.6 56.2h0M651.9 68.9h0M671.9 71.3h0M637.6 49.6h0M663.3 64.9h0M656.4 42.8h0M639.6 75.7h0M666.3 33.8h0M643.9 41.9h0M668.4 40.8h0M638.8 62.2h0M627.9 62.0h0M642.7 42.1h0M668.1 49.3h0M658.2 71.6h0M647.6 37.6h0M645.1 66.4h0M676.5 53.2h0M644.6 70.9h0M638.8 38.3h0M679.1 50.3h0M629.7 40.5h0M659.3 34.8h0M643.2 68.5h0M644.9 31.8h0M659.1 39.8h0M663.5 30.2h0M651.1 81.5h0M659.4 34.3h0M658.6 61.9h0M639.0 39.1h0M667.5 40.7h0M660.7 81.0h0M673.6 56.9h0M676.3 55.8h0M669.4 61.0h0M625.8 41.4h0M628.4 54.7h0M672.8 45.5h0M656.0 66.2h0M657.3 38.5h0M652.2 33.7h0M655.3 40.9h0M629.3 62.9h0M671.1 48.0h0M658.4 44.0h0M671.7 58.6h0M637.2 33.7h0M663.8 72.4h0M647.9 43.0h0M651.3 54.7h0M655.7 43.4h0M664.5 63.9h0M652.4 33.0h0M654.5 57.5h0M638.7 70.8h0M644.8 68.8h0M623.6 64.0h0M664.8 34.9h0M666.7 53.8h0M665.9 67.9h0M627.2 46.4h0M621.4 63.4h0M635.7 51.6h0M621.9 62.6h0M648.5 63.8h0M631.6 47.0h0M636.3 59.0h0M669.2 40.0h0M636.4 34.1h0M666.8 59.7h0M643.1 44.0h0M648.9 39.8h0M632.0 33.0h0M639.0 41.8h0M641.5 46.2h0M651.0 50.4h0M632.5 62.5h0M637.9 71.9h0M672.2 47.3h0M674.1 63.5h0M666.6 47.6h0M665.0 38.4h0M641.4 62.5h0M631.1 37.5h0M652.7 32.7h0M657.0 60.1h0M663.3 32.1h0M667.9 66.2h0M638.7 70.8h0M635.2 42.4h0M662.2 33.7h0M655.5 35.3h0M636.7 76.5h0M641.0 76.3h0M674.1 69.7h0M640.0 69.7h0M630.9 51.8h0M661.3 58.0h0M626.7 38.0h0M625.6 56.2h0M634.6 45.7h0M658.8 67.7h0M673.3 67.8h0M650.1 46.8h0M658.3 29.6h0M645.6 35.7h0M642.7 56.2h0M654.6 63.2h0M622.9 59.0h0M638.9 71.9h0M647.0 83.0h0M661.3 65.4h0M634.6 58.4h0M672.9 67.7h0M662.1 66.5h0M640.1 75.3h0M633.9 65.6h0M667.0 57.5h0M664.9 37.4h0M647.4 72.3h0M634.1 66.9h0M673.0 41.0h0M655.7 42.1h0M644.3 36.3h0M648.2 37.7h0M655.1 73.9h0M649.9 42.4h0M647.9 30.3h0M657.0 80.2h0M671.0 51.1h0M630.1 58.5h0M673.5 42.4h0M645.3 75.1h0M665.5 71.2h0M667.9 44.4h0M637.6 46.4h0M665.1 72.4h0M627.8 60.0h0M667.5 51.3h0M632.8 29.5h0M653.3 58.4h0M635.1 76.4h0M621.9 64.2h0M642.8 41.4h0M633.6 67.5h0M631.7 38.0h0M637.6 50.4h0M675.6 53.2h0M642.1 71.4h0M650.7 82.5h0M664.1 40.2h0M651.6 68.9h0M646.8 52.4h0M672.3 60.0h0M669.0 72.2h0M648.3 61.9h0M654.1 57.4h0M634.0 35.4h0M656.5 46.3h0M663.3 62.4h0M657.9 64.8h0M678.6 58.3h0M663.0 32.1h0M667.5 75.5h0M647.0 67.4h0M669.9 51.7h0M669.7 54.3h0M652.9 70.5h0M631.3 64.5h0M673.3 43.3h0M630.3 54.5h0M648.2 68.9h0M639.6 37.7h0M679.6 54.8h0M649.6 82.1h0M655.1 61.6h0M668.5 57.0h0M661.9 53.2h0M644.0 37.5h0M660.6 30.4h0M648.5 69.5h0M643.7 73.9h0M643.6 76.0h0M642.6 48.2h0M652.7 61.4h0M674.3 73.1h0M631.0 42.6h0M654.6 78.8h0M644.8 46.9h0M668.4 75.5h0M644.0 51.7h0M647.8 46.3h0M668.8 61.2h0M624.1 54.9h0M664.1 73.8h0M660.0 45.6h0M638.7 69.2h0M643.3 52.8h0M671.5 74.0h0M642.3 70.0h0M640.7 49.5h0M625.8 48.2h0M631.1 60.5h0M649.3 51.1h0M643.5 79.6h0M647.7 81.1h0M637.2 43.3h0M643.9 77.8h0M648.2 53.8h0M655.4 76.1h0M664.7 33.5h0M643.7 42.2h0M677.9 64.3h0M644.9 72.5h0M637.3 55.9h0M630.8 73.9h0M653.0 65.3h0M654.7 71.2h0M622.7 49.2h0M658.0 49.7h0M669.1 61.6h0M659.9 32.7h0M658.3 68.7h0M677.7 48.6h0M641.1 41.3h0M631.9 68.8h0M662.2 38.8h0M630.8 44.1h0M622.6 52.5h0M632.7 56.5h0M648.5 34.6h0M644.7 59.5h0M655.6 69.1h0M650.5 77.8h0M652.9 53.9h0M662.0 71.2h0M651.8 56.6h0M664.2 79.2h0M647.0 71.8h0M630.0 62.0h0M648.1 57.2h0M657.8 39.5h0M673.4 68.0h0M647.0 60.6h0M646.0 31.6h0M641.9 66.7h0M675.7 61.3h0M642.1 35.2h0M649.2 83.1h0M631.4 34.3h0M675.5 62.8h0M650.5 44.5h0M643.0 63.4h0M651.5 68.1h0M626.9 44.9h0M667.5 68.9h0M657.9 37.2h0M626.6 64.7h0M674.5 53.2h0M646.3 57.2h0M645.8 61.9h0M647.3 52.2h0M630.5 64.0h0M646.2 32.5h0M661.9 62.5h0M658.0 78.8h0M660.3 33.5h0M649.6 66.6h0M668.2 34.6h0M626.3 51.4h0M658.8 81.6h0M655.4 53.7h0M669.7 43.1h0M654.4 34.0h0M633.1 62.9h0M666.8 54.2h0M644.7 41.5h0M667.4 66.5h0M671.7 45.7h0M646.1 30.0h0M652.4 63.7h0M673.4 47.2h0M677.4 52.3h0M662.8 31.6h0M670.3 44.5h0M635.8 71.6h0M653.4 36.1h0M671.3 50.0h0M655.6 68.5h0M649.3 55.3h0M637.5 59.8h0M659.0 52.5h0M648.3 68.6h0M644.5 69.4h0M634.5 34.3h0M655.2 30.4h0M642.0 42.1h0M643.3 55.6h0M631.7 41.1h0M677.0 55.0h0M629.7 44.6h0M638.4 67.9h0M639.2 68.5h0M663.9 78.1h0M671.6 47.4h0M648.7 38.7h0M655.2 52.1h0M658.9 33.0h0M671.5 50.1h0M663.7 62.6h0M653.4 50.8h0M645.6 79.0h0M641.4 58.9h0M660.1 81.0h0M679.2 49.5h0M677.8 53.9h0M631.9 29.7h0M675.7 49.5h0M625.7 70.6h0M654.2 40.0h0M648.2 62.0h0M666.2 72.5h0M644.7 52.9h0M652.3 40.2h0M650.1 38.6h0M659.1 60.8h0M622.4 51.9h0M671.1 60.4h0M670.1 55.3h0M628.6 42.2h0M647.8 75.4h0M667.6 43.7h0M639.5 45.0h0M631.8 54.4h0M650.0 52.4h0M643.2 78.6h0M671.1 70.6h0M646.5 61.1h0M630.9 41.7h0M627.7 58.3h0M652.2 70.5h0M655.7 74.5h0M661.5 75.8h0M632.4 74.2h0M670.1 69.8h0M671.8 42.0h0M654.1 41.0h0M650.6 28.2h0M645.7 62.8h0M668.1 67.2h0M620.9 56.8h0M656.1 60.9h0M665.4 69.9h0M643.0 68.0h0M650.6 29.3h0M665.0 75.3h0M636.8 41.7h0M626.0 57.9h0M650.2 51.5h0M658.0 28.8h0M646.1 37.2h0M640.8 66.7h0M647.2 63.1h0M662.1 52.3h0M635.8 65.4h0M646.6 80.3h0M648.1 31.3h0M648.9 51.4h0M635.0 53.5h0M637.0 44.3h0M671.6 43.5h0M660.0 57.0h0M633.4 43.4h0M660.8 55.8h0M670.4 54.5h0M650.5 51.6h0M672.2 64.7h0M661.6 70.7h0M659.2 31.8h0M636.4 65.5h0M643.6 49.4h0M648.6 62.3h0M657.3 47.4h0M637.2 63.9h0M626.7 63.0h0M629.9 60.5h0M653.9 51.3h0M646.2 66.8h0M640.6 49.0h0M661.5 37.5h0M677.0 69.7h0M638.3 37.7h0M631.3 49.7h0M646.9 47.5h0M626.5 44.4h0M658.3 75.9h0M674.4 43.0h0M674.6 69.4h0M666.7 75.5h0M661.4 83.3h0M629.7 44.5h0M643.2 44.4h0M652.3 62.4h0M668.6 37.8h0M653.5 39.1h0M630.7 52.4h0M674.3 41.8h0M651.3 59.5h0M660.0 60.9h0M656.3 59.2h0M666.1 69.2h0M668.0 59.5h0M630.6 48.7h0M636.5 70.6h0M647.8 70.5h0M635.4 65.3h0M672.1 46.9h0M639.7 71.3h0M663.8 55.6h0M623.8 53.5h0M650.9 33.6h0M638.0 60.6h0M658.7 78.8h0M668.9 61.6h0M644.8 55.0h0M654.5 71.7h0M665.7 74.6h0M661.0 55.3h0M666.3 76.3h0M665.9 49.4h0M638.3 47.9h0M633.2 32.0h0M674.0 62.2h0M654.0 39.4h0M665.6 53.3h0M639.6 61.7h0M638.1 63.8h0M630.8 58.8h0M647.1 48.4h0M635.8 73.9h0M643.1 46.1h0M674.0 53.0h0M635.5 40.3h0M630.7 67.8h0M669.5 59.3h0M635.8 76.4h0M676.2 68.7h0M626.6 49.5h0M652.5 31.9h0M622.5 57.8h0M631.7 43.8h0M667.9 53.4h0M650.3 53.7h0M632.8 53.5h0M653.9 74.0h0M641.0 54.6h0M659.1 50.9h0M642.0 33.6h0M631.5 41.7h0M658.4 52.4h0M657.1 27.9h0M673.0 68.1h0M661.2 69.0h0M640.3 58.8h0M644.4 56.0h0M640.2 78.4h0M654.1 75.3h0M653.0 49.9h0M676.9 66.5h0M646.4 31.6h0M656.1 50.1h0M638.6 55.5h0M642.2 68.5h0M667.4 45.3h0M655.0 43.3h0M633.0 43.1h0M657.6 45.0h0M649.8 48.1h0M643.7 52.0h0M640.6 41.5h0M652.1 31.5h0M629.2 44.6h0M632.5 36.5h0M650.4 41.7h0M640.8 42.2h0M650.7 26.4h0M663.4 34.4h0M633.0 57.2h0M631.0 34.2h0M649.3 74.0h0M635.7 65.0h0M642.3 29.9h0M660.9 34.6h0M636.7 67.9h0M666.6 54.2h0M669.1 42.8h0M673.6 56.9h0M658.0 72.0h0M638.6 37.5h0M656.8 79.6h0M630.8 67.8h0M651.5 60.7h0M663.2 30.7h0M635.9 45.7h0M650.9 50.5h0M649.8 47.8h0M658.8 69.9h0M661.5 75.5h0M637.6 60.6h0M674.1 54.9h0M626.4 63.6h0M637.5 64.9h0M622.9 66.1h0M631.5 67.1h0M644.9 60.4h0M662.1 79.6h0M650.1 65.9h0M638.5 36.8h0M644.6 46.2h0M658.7 55.3h0M645.4 76.1h0M659.1 40.1h0M654.5 52.1h0M637.7 50.6h0M641.1 50.7h0M638.4 34.9h0M640.2 80.5h0M631.6 66.1h0M646.6 67.3h0M641.2 31.4h0M635.6 71.8h0M643.8 80.7h0M640.8 62.2h0M630.8 63.5h0M648.7 57.4h0M660.8 77.7h0M668.2 66.0h0M639.6 74.7h0M655.5 77.1h0M659.7 33.3h0M646.5 41.5h0M643.3 62.2h0M653.6 68.7h0M651.4 32.8h0M657.1 37.1h0M628.4 37.3h0M635.1 46.5h0M641.9 48.3h0M626.8 54.3h0M624.9 66.7h0M636.4 47.7h0M668.1 71.6h0M679.5 56.4h0M637.9 64.2h0M657.0 40.0h0M643.8 39.3h0M672.1 55.8h0M643.3 50.8h0M626.4 39.9h0M672.5 58.6h0M658.3 51.5h0M656.8 27.4h0M639.4 52.9h0M626.7 69.0h0M666.2 78.2h0M649.3 31.1h0M647.5 35.9h0M669.4 70.8h0M648.2 62.3h0M642.6 61.8h0M623.5 50.5h0M651.2 48.6h0M675.0 64.1h0M670.5 65.6h0M646.5 37.6h0M656.0 55.5h0M672.4 66.9h0M664.0 36.6h0M625.0 68.3h0M659.9 72.4h0M641.7 49.0h0M631.7 38.9h0M676.5 47.9h0M630.2 50.9h0M649.8 77.9h0M637.8 33.7h0M658.3 74.1h0M628.2 45.2h0M643.4 44.3h0M671.3 66.9h0M658.4 82.3h0M662.5 32.3h0M632.0 68.5h0M658.8 31.5h0M656.3 46.5h0M677.9 59.7h0M651.4 64.4h0M659.3 75.3h0M656.0 54.0h0M670.2 38.1h0M653.5 52.2h0M660.8 81.1h0M645.2 28.3h0M621.1 57.0h0M670.6 50.2h0M648.1 76.3h0M651.2 49.4h0M633.8 53.5h0M638.0 46.5h0M636.7 78.1h0M654.1 75.2h0M667.3 70.0h0M679.5 53.9h0M641.7 59.2h0M659.0 53.3h0M650.2 66.2h0M639.4 44.0h0M640.0 74.7h0M641.1 55.8h0M657.4 77.6h0M637.3 70.6h0M664.5 54.1h0M647.3 68.3h0M659.1 31.0h0M639.7 57.3h0M632.8 60.1h0M624.7 65.4h0M643.2 65.2h0M628.4 49.7h0M650.9 37.3h0M654.4 37.6h0M668.8 48.1h0M661.1 32.4h0M634.5 50.7h0M678.1 49.4h0M639.3 45.9h0M643.3 40.5h0M662.1 69.3h0M628.3 44.9h0M635.5 45.2h0M661.0 50.8h0M632.8 42.7h0M670.1 55.9h0M655.0 64.1h0M636.3 32.1h0M634.5 48.4h0M669.3 36.1h0M644.6 61.2h0M653.4 47.1h0M644.5 42.2h0M633.7 63.9h0M643.9 57.8h0M662.9 32.4h0M639.0 66.3h0M656.0 53.7h0M659.5 44.5h0M678.0 49.0h0M630.1 45.7h0M643.9 55.2h0M669.6 37.8h0M666.8 54.3h0M645.1 80.7h0M664.9 59.5h0M665.1 56.8h0M663.7 66.8h0M671.2 70.9h0M641.6 58.9h0M642.5 42.5h0M678.1 56.3h0M637.7 51.4h0M638.3 28.4h0M629.9 62.4h0M671.6 76.2h0M666.2 56.9h0M625.4 53.4h0M671.6 74.9h0M665.2 34.0h0M646.9 33.3h0M633.1 33.2h0M663.6 74.9h0M674.4 70.4h0M663.3 56.7h0M648.6 28.6h0M651.5 56.8h0M658.1 52.6h0M641.1 49.0h0M637.8 78.0h0M640.0 69.9h0M659.7 71.5h0M671.2 65.2h0M674.9 49.5h0M660.8 79.4h0M652.8 42.3h0M652.0 62.0h0M637.1 55.7h0M627.6 60.3h0M673.1 49.8h0M630.6 44.2h0M656.9 76.9h0M630.9 54.1h0M657.6 55.8h0M647.4 47.0h0M665.0 63.5h0M654.0 57.4h0M668.7 67.4h0M635.4 37.2h0M669.3 64.3h0M631.7 34.9h0M653.8 47.0h0M669.7 41.0h0M625.2 64.2h0M644.5 46.8h0M632.3 65.4h0M640.2 77.1h0M643.5 57.6h0M642.7 70.8h0M662.9 34.7h0M625.0 54.6h0M657.9 58.9h0M668.1 41.1h0M669.4 45.2h0M651.8 48.5h0M636.4 73.2h0M626.6 63.8h0M655.5 76.1h0M670.6 38.0h0M653.5 45.7h0M648.9 47.5h0M662.2 83.5h0M621.2 55.3h0M664.3 78.3h0M663.6 76.0h0M659.0 71.1h0M668.3 40.4h0M650.9 47.8h0M642.4 73.8h0M631.9 34.1h0M637.1 51.4h0M672.5 62.4h0M649.7 45.7h0M635.4 40.7h0M621.1 62.6h0M675.7 65.3h0M635.3 49.5h0M656.8 69.1h0M649.8 77.4h0M678.8 65.4h0M639.6 54.6h0M661.5 71.4h0M669.8 42.2h0M656.7 43.5h0M647.3 63.6h0M649.0 40.2h0M633.2 73.8h0M631.3 64.6h0M638.5 56.7h0M631.1 56.4h0M647.5 47.0h0M627.8 35.3h0M671.7 52.2h0M659.9 78.8h0M664.1 42.3h0M645.0 47.0h0M667.0 61.0h0M641.2 69.3h0M624.8 55.8h0M660.7 61.2h0M642.7 82.2h0M629.6 52.8h0M642.7 35.8h0M667.6 53.4h0M646.4 58.6h0M653.8 42.2h0M630.1 41.1h0M656.7 58.6h0M661.0 30.3h0M636.9 34.8h0M659.4 78.2h0M646.3 73.3h0M643.8 48.3h0M628.8 39.5h0M678.6 50.9h0M679.3 54.9h0M629.2 60.1h0M654.3 30.3h0M643.4 68.5h0M679.6 66.4h0M635.4 44.2h0M651.5 48.0h0M641.3 66.1h0M679.2 51.0h0M661.8 63.0h0M637.3 73.7h0M662.1 80.9h0M672.5 50.9h0M664.6 51.2h0M660.5 78.6h0M667.8 66.2h0M657.0 59.5h0M659.4 38.8h0M644.4 33.7h0M660.0 82.8h0M664.8 81.2h0M635.3 50.1h0M655.0 77.4h0M661.3 34.6h0M648.1 83.4h0M637.2 56.1h0M671.8 51.1h0M654.3 61.2h0M642.5 63.2h0M637.9 37.8h0M642.7 73.5h0M650.2 59.2h0M661.4 55.4h0M651.7 57.5h0M663.2 55.8h0M669.3 59.7h0M673.8 52.0h0M634.2 41.4h0M630.3 56.3h0M643.3 59.8h0M650.7 37.4h0M623.6 43.4h0M641.1 60.2h0M652.5 61.5h0M629.7 34.6h0M634.8 36.2h0M623.7 46.1h0M649.1 28.5h0M631.3 30.6h0M648.2 49.4h0M655.4 61.4h0M671.5 59.5h0M667.5 74.2h0M666.4 64.2h0M645.3 47.1h0M626.3 45.6h0M671.0 73.7h0M637.0 39.0h0M620.9 55.1h0M656.8 72.8h0M638.0 59.9h0M653.5 76.7h0M638.6 75.3h0M618.6 57.1h0M645.6 40.4h0M632.2 29.4h0M625.0 61.3h0M661.5 81.3h0M649.9 37.4h0M638.5 52.3h0M644.7 39.1h0M657.5 81.3h0M661.9 65.9h0M623.5 47.9h0M623.9 48.3h0M636.3 73.3h0M672.9 46.2h0M662.2 74.8h0M644.6 54.1h0M633.4 58.5h0M659.0 76.6h0M642.0 28.2h0M631.3 56.2h0M629.4 43.3h0M649.7 37.8h0M668.4 68.4h0M665.4 63.8h0M649.1 33.4h0M640.0 36.1h0M638.9 34.1h0M662.3 73.3h0M679.8 56.8h0M640.1 67.2h0M628.1 38.9h0M672.8 50.3h0M639.4 38.2h0M674.6 43.4h0M641.5 29.9h0M671.8 37.8h0M630.1 36.8h0M642.8 48.7h0M661.9 56.5h0M659.4 70.3h0M653.5 52.7h0M676.5 62.4h0M624.6 63.7h0M650.3 30.9h0M655.3 34.5h0M658.8 54.6h0M665.5 72.3h0M670.6 67.3h0M674.7 50.1h0M650.6 41.8h0M639.3 27.6h0M658.0 55.0h0M668.9 58.5h0M639.9 53.7h0M668.9 56.3h0M658.1 48.1h0M642.4 37.3h0M651.5 51.2h0M641.6 43.2h0M672.8 64.0h0M630.3 49.9h0M668.2 57.3h0M650.9 52.5h0M665.5 46.6h0M641.0 27.7h0M669.5 60.2h0M647.1 37.9h0M650.9 30.6h0M627.6 51.1h0M661.7 78.7h0M666.5 45.0h0M675.4 56.9h0M653.9 81.6h0M665.0 43.1h0M667.5 50.9h0M630.2 66.7h0M659.9 78.4h0M651.0 67.6h0M637.9 54.7h0M648.4 78.5h0M644.1 80.1h0M658.7 69.1h0M660.4 78.0h0M649.5 57.5h0M624.2 45.6h0M661.6 34.3h0M657.4 52.6h0M644.9 61.2h0M640.7 31.0h0M661.5 52.5h0M643.6 44.2h0M668.3 77.8h0M668.5 59.8h0M652.4 40.8h0M629.5 38.4h0M660.9 66.8h0M648.4 54.5h0M645.7 79.0h0M630.3 54.8h0M642.3 45.6h0M653.8 53.0h0M668.1 45.6h0M649.3 57.9h0M663.6 42.9h0M625.4 59.9h0M664.2 46.1h0M674.1 45.9h0M636.3 52.1h0M626.3 69.7h0M660.3 36.8h0M657.1 27.9h0M664.4 53.4h0M670.7 48.1h0M669.4 58.3h0M676.6 70.9h0M641.6 69.1h0M644.0 32.1h0M621.3 56.4h0M640.9 74.6h0M630.1 62.5h0M634.8 37.9h0M654.5 41.4h0M640.1 64.5h0M655.3 47.1h0M678.0 49.2h0M665.0 60.1h0M679.9 61.8h0M644.5 49.6h0M652.0 75.8h0M676.0 58.6h0M638.0 53.2h0M636.2 72.8h0M667.7 73.0h0M641.4 75.3h0M642.6 29.1h0M651.0 68.2h0M650.7 78.0h0M669.9 66.1h0M643.1 30.3h0M669.5 47.4h0M637.7 31.9h0M663.8 71.7h0M639.4 63.8h0M645.4 33.7h0M633.3 67.1h0M660.4 36.0h0M646.9 50.7h0M661.3 74.9h0M654.2 32.4h0M643.2 55.8h0M642.5 58.4h0M651.2 64.7h0M643.1 39.3h0M673.0 43.7h0M656.5 32.7h0M671.0 36.3h0M621.6 53.6h0M672.7 69.0h0M659.7 78.3h0M655.5 29.7h0M657.3 31.0h0M659.2 50.1h0M672.5 70.6h0M666.7 55.8h0M634.6 55.4h0M651.8 53.3h0M643.2 35.0h0M622.2 46.2h0M675.0 70.7h0M652.4 53.1h0M664.9 66.6h0M679.2 52.1h0M650.9 58.9h0M650.6 54.8h0M647.1 57.4h0M653.8 48.5h0M648.9 29.1h0M630.5 49.7h0M655.4 60.4h0M669.0 47.6h0M653.0 76.9h0M659.5 72.9h0M643.3 41.6h0M672.1 56.6h0M638.0 51.3h0M638.1 43.1h0M665.6 68.1h0M666.5 49.9h0M662.3 48.1h0M663.6 77.3h0M637.3 43.4h0M667.3 59.5h0M668.0 70.5h0M636.8 52.4h0M657.5 77.9h0M669.9 69.6h0M642.4 55.7h0M632.4 73.7h0M630.4 37.6h0M625.2 52.7h0M657.5 66.6h0M623.9 68.9h0M655.1 44.1h0M646.9 55.1h0M634.8 64.9h0M666.3 71.3h0M639.5 41.5h0M632.7 33.8h0M670.7 50.3h0M638.2 71.8h0M672.2 57.7h0M645.0 27.8h0M661.5 77.7h0M635.4 32.8h0M663.0 81.0h0M671.0 48.7h0M649.9 78.9h0M659.8 43.1h0M656.3 46.7h0M637.0 37.9h0M641.1 52.9h0M654.9 80.2h0M653.8 60.0h0M660.4 45.9h0M637.0 63.6h0M666.0 46.4h0M644.0 65.0h0M651.5 34.0h0M658.8 38.7h0M643.7 55.1h0M635.3 68.9h0M633.1 33.9h0M644.8 54.5h0M656.6 58.5h0M639.7 43.9h0M638.1 49.5h0M631.4 35.5h0M640.2 67.6h0M644.3 44.5h0M642.0 50.5h0M654.4 63.3h0M622.3 48.3h0M646.3 51.2h0M629.7 38.5h0M650.3 58.3h0M634.0 46.2h0M667.8 60.7h0M645.2 54.0h0M658.2 63.3h0M667.5 36.7h0M650.2 53.9h0M646.7 56.3h0M637.9 31.9h0M638.4 57.7h0M666.7 57.0h0M640.8 75.5h0M642.3 69.4h0M642.1 48.6h0M633.4 43.6h0M636.3 62.0h0M671.0 74.1h0M665.1 69.4h0M646.0 48.2h0M644.1 33.4h0M675.4 53.6h0M664.2 35.8h0M662.7 53.2h0M661.5 71.7h0M664.4 72.0h0M674.7 41.7h0M672.7 60.3h0M675.4 59.8h0M660.9 43.2h0M632.8 70.7h0M648.3 56.4h0M658.0 40.2h0M633.4 35.1h0M623.2 55.7h0M640.2 48.7h0M651.7 39.7h0M665.2 39.5h0M670.6 56.0h0M635.2 74.3h0M664.7 40.9h0M662.5 75.1h0M671.2 66.3h0M644.4 57.6h0M662.2 83.6h0M637.8 37.9h0M654.9 35.6h0M645.2 54.6h0M645.1 50.6h0M659.6 73.1h0M638.6 44.3h0M630.6 65.3h0M651.0 51.4h0M664.1 43.9h0M651.4 45.7h0M658.0 66.5h0M667.9 73.1h0M626.0 45.5h0M655.3 60.3h0M666.4 37.1h0M671.9 71.0h0M661.9 30.0h0M626.3 52.8h0M636.6 74.3h0M655.8 41.3h0M672.5 71.6h0M675.4 60.5h0M646.1 29.4h0M656.2 27.9h0M672.1 64.6h0M667.1 44.7h0M671.5 61.5h0M664.7 41.4h0M650.2 72.4h0M671.5 73.8h0M631.3 41.6h0M655.6 48.1h0M661.8 83.0h0M647.4 70.7h0M665.1 58.4h0M673.1 70.4h0M670.7 48.5h0M654.3 53.6h0M634.9 27.2h0M665.6 53.8h0M652.3 37.8h0M663.7 76.5h0M651.4 32.4h0M633.7 64.3h0M626.7 68.0h0M645.2 35.1h0M664.7 55.3h0M635.8 44.0h0M644.3 67.6h0M637.3 42.4h0M622.2 57.8h0M646.6 61.8h0M662.0 76.4h0M661.7 35.6h0M663.4 32.0h0M654.2 62.6h0M623.8 59.5h0M662.7 37.9h0M664.5 44.4h0M648.8 34.2h0M659.0 37.9h0M645.1 43.1h0M653.9 41.0h0M623.6 60.8h0M668.6 70.0h0M643.1 66.5h0M625.8 54.9h0M652.2 55.5h0M657.9 77.1h0M652.4 60.5h0M629.5 60.9h0M640.0 61.0h0M662.7 38.6h0M670.4 50.2h0M657.8 42.1h0M649.5 78.4h0M635.9 64.8h0M638.7 57.3h0M635.2 73.3h0M648.9 39.1h0M649.2 28.9h0M650.7 80.2h0M658.4 40.3h0M639.6 49.1h0M663.4 31.8h0M660.9 69.0h0M649.4 46.4h0M651.3 65.7h0M675.9 70.3h0M663.8 76.7h0M639.2 64.8h0M656.2 49.3h0M629.1 65.8h0M633.9 38.2h0M634.9 71.9h0M621.9 59.0h0M632.4 40.5h0M652.6 51.7h0M643.1 49.3h0M655.6 60.0h0M632.2 62.4h0M625.5 58.6h0M644.7 41.0h0M659.9 55.2h0M635.2 68.9h0M642.2 64.9h0M637.6 64.7h0M649.0 70.1h0M666.1 74.3h0M629.2 64.9h0M630.7 72.8h0M658.2 37.6h0M660.0 80.5h0M632.6 45.1h0M622.7 51.3h0M645.8 66.4h0M667.7 47.6h0M651.1 54.3h0M649.0 57.9h0M659.6 83.6h0M658.1 81.6h0M620.9 65.4h0M669.8 64.1h0M647.4 46.8h0M639.4 54.5h0M649.4 63.4h0M663.3 67.7h0M655.3 43.1h0M643.3 56.5h0M645.8 59.1h0M628.7 68.3h0M642.4 42.2h0M651.5 37.6h0M641.4 33.3h0M633.2 62.6h0M671.2 74.2h0M651.2 59.2h0M634.0 70.0h0M647.5 59.4h0M662.5 49.5h0M645.5 57.0h0M635.6 29.0h0M671.9 63.0h0M661.2 45.9h0M656.3 64.9h0M668.4 46.3h0M650.4 42.2h0M657.4 81.9h0M638.1 62.4h0M648.9 56.3h0M656.3 55.3h0M648.7 42.5h0M650.5 67.8h0M622.1 45.1h0M660.7 41.8h0M633.5 36.8h0M650.8 47.7h0M654.3 52.6h0M630.2 46.9h0M658.4 66.3h0M651.2 27.7h0M639.1 40.6h0M663.1 44.5h0M667.7 74.3h0M656.7 74.9h0M625.3 67.3h0M637.5 63.6h0M621.8 59.8h0M660.8 79.4h0M634.4 64.3h0M639.2 56.7h0M638.2 33.3h0M650.5 48.1h0M663.1 38.6h0M625.8 46.5h0M645.0 50.8h0M662.5 41.7h0M654.5 66.8h0M631.4 66.4h0M657.7 63.6h0M644.6 65.8h0M647.8 66.3h0M671.4 68.5h0M633.3 45.2h0M665.7 74.0h0M629.1 59.6h0M649.0 47.7h0M656.7 31.6h0M621.1 47.9h0M637.0 52.1h0M654.5 34.4h0M664.3 47.4h0M666.0 73.9h0M638.6 30.4h0M653.1 75.2h0M639.7 61.3h0M638.8 54.1h0M625.2 63.8h0M648.9 30.4h0M642.6 59.2h0M644.4 45.3h0M657.2 34.0h0M658.1 30.6h0M626.5 62.2h0M657.8 42.2h0M638.1 71.0h0M633.8 54.8h0M633.7 68.9h0M637.9 46.6h0M651.6 53.5h0M640.6 33.8h0M676.3 68.4h0M639.1 40.8h0M640.2 59.0h0M658.2 63.7h0M677.5 57.3h0M644.1 71.6h0M652.1 83.0h0M641.9 61.0h0M629.9 69.5h0M677.6 50.1h0M646.1 77.8h0M644.7 38.0h0M674.2 63.5h0M647.5 65.3h0M638.9 68.2h0M645.0 63.9h0M670.6 55.1h0M648.3 61.7h0M675.5 61.6h0M658.1 31.4h0M664.5 69.0h0M634.8 67.9h0M649.2 35.7h0M661.7 81.0h0M665.7 58.9h0M639.8 63.0h0M667.3 70.3h0M638.7 59.4h0M639.0 69.0h0M643.7 73.0h0M677.5 65.9h0M664.5 39.2h0M649.5 40.1h0M653.8 44.4h0M662.2 61.5h0M647.8 38.3h0M654.3 64.9h0M629.5 50.1h0M635.7 34.6h0M637.7 29.5h0M637.5 77.6h0M670.9 62.1h0M661.0 41.7h0M676.2 64.2h0M664.0 77.5h0M656.3 38.0h0M644.7 73.2h0M642.2 45.1h0M653.6 51.3h0M642.3 35.9h0M660.0 33.6h0M658.5 28.3h0M662.7 36.3h0M672.9 57.0h0M628.7 47.2h0M636.1 42.6h0M646.7 62.1h0M625.3 43.0h0M622.3 61.7h0M646.9 60.5h0M676.6 49.9h0M625.9 41.9h0M638.2 33.8h0M644.0 37.1h0M645.4 45.0h0M665.6 53.7h0M655.8 45.7h0M638.4 57.6h0M653.1 47.6h0M647.3 33.8h0M636.7 65.7h0M667.0 52.9h0M662.4 53.2h0M654.8 78.3h0M675.0 72.6h0M620.8 57.0h0M667.1 67.3h0M662.4 67.8h0M625.0 57.8h0M632.2 31.3h0M663.1 63.4h0M651.9 82.7h0M655.2 75.3h0M627.2 42.9h0M652.9 81.3h0M661.2 63.6h0M652.5 49.5h0M635.8 67.8h0M655.8 75.5h0M653.3 62.9h0M641.4 55.8h0M642.7 62.3h0M672.9 54.9h0M677.1 59.4h0M651.3 31.1h0M653.9 41.9h0M650.8 41.9h0M668.7 33.5h0M622.3 53.2h0M640.6 28.7h0M644.0 38.3h0M661.4 73.7h0M662.4 65.5h0M644.8 30.0h0M644.3 46.5h0M625.5 55.3h0M648.3 64.8h0M660.2 74.5h0M657.4 69.4h0M659.8 46.0h0M628.9 52.8h0M654.1 68.6h0M631.7 58.2h0M631.7 38.8h0M646.8 48.7h0M671.4 55.6h0M655.3 79.8h0M632.4 63.1h0M654.5 62.6h0M630.4 42.3h0M665.0 47.4h0M645.7 58.7h0M628.8 39.0h0M640.5 63.2h0M650.5 52.8h0M666.8 78.8h0M637.9 53.3h0M676.7 51.9h0M643.6 45.7h0M663.9 41.2h0M653.6 74.2h0M666.3 43.6h0M672.2 70.0h0M643.3 30.4h0M673.5 66.4h0M631.5 69.0h0M639.0 50.4h0M662.2 73.8h0M652.6 67.2h0M668.8 73.0h0M643.0 66.4h0M672.4 64.5h0M643.3 68.8h0M663.0 82.4h0M628.6 44.2h0M641.3 44.3h0M629.9 37.2h0M631.4 56.1h0M669.2 53.3h0M665.1 33.6h0M623.8 66.3h0M638.4 76.3h0M630.9 64.8h0M634.5 77.5h0M642.4 69.6h0M677.5 56.3h0M656.2 50.2h0M636.1 30.4h0M653.0 81.7h0M647.8 43.1h0M626.4 69.7h0M639.3 79.1h0M667.0 50.2h0M619.8 60.3h0M661.1 75.7h0M679.8 55.8h0M665.6 75.8h0M627.8 42.2h0M650.9 52.8h0M639.8 54.4h0M656.5 32.1h0M646.8 61.5h0M622.3 54.8h0M641.2 66.1h0M632.7 60.3h0M666.2 77.7h0M641.5 44.2h0M669.3 57.0h0M632.7 73.7h0M646.3 59.0h0M640.3 28.5h0M669.2 56.3h0M662.3 31.8h0M673.5 64.1h0M651.7 53.4h0M641.9 66.0h0M631.0 33.4h0M635.8 53.7h0M662.9 69.7h0M658.3 29.2h0M670.1 39.1h0M664.6 52.8h0M661.2 32.8h0M674.1 46.4h0M643.7 82.7h0M643.4 40.2h0M669.2 55.9h0M632.9 33.3h0M657.7 46.5h0M666.5 39.2h0M654.7 40.1h0M633.4 70.1h0M667.3 51.5h0M673.9 41.5h0M650.4 48.3h0M645.3 74.5h0M633.6 30.7h0M660.4 45.0h0M642.7 80.4h0M647.4 63.7h0M642.2 29.7h0M637.5 61.0h0M651.0 34.5h0M647.7 56.9h0M621.7 52.7h0M624.5 62.3h0M629.1 45.5h0M660.7 61.9h0M653.3 53.8h0M649.4 31.4h0M637.0 28.0h0M665.9 66.5h0M629.5 67.8h0M652.2 81.4h0M643.4 57.1h0M670.7 59.2h0M679.6 59.2h0M643.7 71.7h0M635.2 61.5h0M667.3 48.7h0M667.2 73.4h0M655.2 50.5h0M637.9 33.7h0M671.5 66.0h0M657.2 81.1h0M643.7 53.6h0M631.7 74.3h0M620.7 57.2h0M656.7 32.6h0M672.8 43.8h0M647.7 50.3h0M672.8 71.1h0M656.5 38.5h0M649.5 72.4h0M675.8 62.4h0M644.6 63.3h0M675.0 53.3h0M647.1 81.4h0M640.1 49.6h0M625.5 40.9h0M645.2 51.1h0M666.4 52.9h0M668.6 64.1h0M661.9 76.5h0M647.9 60.6h0M670.3 67.9h0M650.0 81.6h0M648.9 43.4h0M651.3 34.0h0M643.4 39.3h0M678.7 57.7h0M632.5 45.0h0M658.6 84.7h0M678.8 60.9h0M674.0 52.3h0M642.3 75.1h0M654.9 68.7h0M661.4 57.9h0M670.7 46.7h0M655.2 45.2h0M650.0 27.8h0M675.6 62.4h0M678.2 61.3h0M653.8 68.1h0M652.9 42.0h0M642.9 54.0h0M675.8 70.7h0M661.3 41.4h0M653.6 51.2h0M679.1 60.1h0M661.4 79.4h0M657.2 54.4h0M648.6 71.0h0M661.2 61.4h0M660.1 60.5h0M652.3 28.2h0M647.3 31.4h0M638.0 54.5h0M636.6 78.0h0M671.2 67.0h0M644.2 30.4h0M642.3 55.9h0M673.8 46.4h0M676.6 54.6h0M680.7 54.6h0M648.1 55.6h0M635.3 33.0h0M667.5 68.2h0M677.0 53.5h0M669.3 66.5h0M652.5 35.4h0M640.0 29.0h0M654.7 70.2h0M656.3 64.9h0M654.4 45.3h0M643.3 68.7h0M650.8 64.1h0M646.7 72.7h0M654.5 28.9h0M650.2 37.8h0M670.1 49.6h0M621.4 55.2h0M641.5 42.4h0M653.3 73.7h0M619.9 57.3h0M625.7 41.8h0M636.9 31.5h0M655.3 82.4h0M658.4 39.7h0M673.9 61.6h0M639.2 56.5h0M647.5 75.3h0M652.6 53.3h0M637.0 49.7h0M622.2 46.9h0M645.4 53.1h0M662.6 47.0h0M680.0 65.8h0M641.8 60.7h0M631.7 64.4h0M641.4 47.7h0M655.4 54.5h0M668.4 69.7h0M635.4 43.1h0M656.9 81.2h0M646.6 49.8h0M646.6 63.5h0M663.3 50.3h0M656.8 40.4h0M645.9 28.8h0M665.7 59.9h0M640.2 58.6h0M623.2 55.8h0M665.4 44.5h0M635.7 31.4h0M641.4 67.2h0M664.3 68.2h0M633.5 71.5h0M662.8 69.7h0M650.9 54.1h0M621.6 55.0h0M632.7 76.8h0M641.9 53.9h0M660.7 51.5h0M623.5 67.0h0M660.5 49.6h0M672.8 63.6h0M644.1 60.3h0M673.3 66.0h0M623.5 53.4h0M671.6 44.6h0M675.6 45.6h0M649.6 77.6h0M628.8 59.9h0M627.8 53.1h0M666.1 79.6h0M667.3 75.7h0M668.1 41.2h0M656.5 53.3h0M647.1 58.5h0M648.0 74.9h0M650.9 44.7h0M668.1 77.3h0M624.3 42.9h0M661.6 71.6h0M649.0 46.5h0M671.5 59.4h0M657.8 31.3h0M666.6 33.9h0M668.1 40.8h0M639.7 35.3h0M620.9 60.4h0M660.0 52.8h0M630.7 58.6h0M667.6 67.2h0M652.3 76.5h0M669.2 75.4h0M665.8 72.2h0M636.8 72.0h0M656.8 47.6h0M636.5 64.9h0M672.6 73.2h0M659.4 77.3h0M667.0 35.8h0M655.9 61.1h0M633.8 77.6h0M642.4 67.2h0M670.2 40.5h0M659.8 83.5h0M654.9 74.5h0M657.4 49.5h0M673.4 62.2h0M636.7 58.2h0M659.4 59.4h0M647.5 58.1h0M650.3 55.4h0M650.2 65.1h0M667.4 42.8h0M655.4 31.2h0M635.4 46.8h0M636.0 55.4h0M658.1 47.0h0M645.6 40.2h0M655.8 38.5h0M671.6 70.1h0M642.9 43.6h0M668.9 51.7h0M659.9 47.5h0M632.6 73.4h0M669.7 60.2h0M635.4 45.5h0M677.0 52.4h0M641.5 63.7h0M636.0 45.3h0M672.8 69.6h0M662.0 47.8h0M650.1 48.0h0M639.8 66.9h0M643.3 45.9h0M656.4 72.6h0M665.7 61.7h0M642.1 30.6h0M652.7 54.3h0M665.1 36.7h0M659.7 67.6h0M630.3 75.4h0M636.1 65.4h0M621.9 55.6h0M641.1 30.4h0M673.5 60.4h0M646.2 30.0h0" stroke="#3450a6" stroke-width="1.5" stroke-linecap="round" fill="none"/><path d="M648.8 41.3h0M648.8 44.0h0M639.5 51.4h0M655.5 74.2h0M658.6 79.7h0" stroke="#e8303c" stroke-width="1.5" stroke-linecap="round" fill="none"/>
<rect x="617.50" y="23.50" width="65.80" height="64.90" fill="none" stroke="#cfcfcf" stroke-width="1"/>
<path d="M370.8 182.5h0M398.0 167.8h0M352.0 173.6h0M388.6 178.0h0M371.6 185.1h0M350.1 136.3h0M391.7 136.4h0M396.6 148.5h0M352.9 138.2h0M344.2 145.3h0M392.6 139.5h0M358.5 136.1h0M341.9 154.8h0M388.1 175.4h0M391.1 174.4h0M343.6 160.3h0M365.4 180.6h0M390.8 176.8h0M399.0 154.3h0M365.1 180.8h0M347.9 141.2h0M346.6 142.0h0M388.4 129.9h0M376.8 183.6h0M345.3 166.4h0M356.5 136.1h0M363.7 182.5h0M347.0 165.4h0M386.9 178.6h0M396.0 149.2h0M339.9 150.4h0M348.4 141.5h0M350.2 141.7h0M341.2 151.3h0M392.2 138.8h0M400.5 161.6h0M397.5 151.0h0M374.5 185.2h0M364.5 184.0h0M353.8 137.4h0M394.9 171.9h0M390.0 132.0h0M383.2 179.8h0M362.9 179.3h0M354.5 180.4h0M343.4 162.8h0M359.3 181.4h0M399.4 154.1h0M342.0 161.9h0M372.1 185.6h0M389.2 130.7h0M339.6 152.8h0M398.9 157.8h0M349.2 168.9h0M344.7 141.5h0M392.9 141.8h0M390.8 131.2h0M400.2 158.1h0M341.7 157.6h0M366.8 182.3h0M399.9 166.4h0M343.0 153.9h0M388.2 129.6h0M343.9 162.6h0M345.0 166.0h0M394.8 174.4h0M373.2 184.1h0M400.0 162.7h0M398.8 155.9h0M356.1 136.3h0M398.9 170.1h0M389.3 180.6h0M397.0 149.1h0M366.7 184.3h0M345.5 146.3h0M357.3 176.4h0M341.7 160.0h0M344.0 163.3h0M397.8 168.6h0M397.5 154.7h0M373.3 186.9h0M387.4 176.7h0M393.7 138.1h0M393.6 170.6h0M395.1 168.9h0M370.5 183.4h0M343.1 154.5h0M343.3 160.6h0M397.2 157.5h0M381.5 181.9h0M385.6 178.8h0M394.3 170.5h0M392.6 135.9h0M383.1 181.2h0M346.9 145.5h0M398.5 158.0h0M344.8 146.8h0M354.1 177.1h0M398.4 154.8h0M349.9 138.7h0M354.3 173.2h0M343.3 160.8h0M375.0 182.2h0M396.7 161.6h0M341.7 147.8h0M384.8 178.2h0M353.1 137.9h0M376.3 183.0h0M390.3 133.6h0M394.1 140.3h0M399.8 164.9h0M401.4 165.2h0M391.0 132.1h0M347.9 141.5h0M359.5 175.6h0M344.1 160.7h0M375.3 184.9h0M373.7 183.7h0M342.9 155.1h0M397.3 148.6h0M353.4 138.6h0M394.6 143.0h0M398.1 155.3h0M345.3 144.0h0M393.8 143.1h0M397.3 171.1h0M393.9 172.9h0M389.0 128.6h0M366.6 183.8h0M343.8 161.5h0M352.2 175.4h0M344.5 168.2h0M344.5 161.5h0M390.3 134.4h0M362.5 180.7h0M382.4 178.7h0M387.6 176.5h0M384.9 180.1h0M400.7 161.1h0M395.5 145.3h0M340.9 152.4h0M342.4 157.9h0M399.2 156.3h0M381.9 180.7h0M398.2 155.7h0M392.0 135.4h0M341.5 152.3h0M364.4 181.9h0M356.5 175.7h0M361.2 179.3h0M396.9 151.7h0M351.0 176.0h0M363.1 180.7h0M389.4 132.2h0M346.5 167.6h0M389.0 129.6h0M386.4 179.6h0M344.9 170.4h0M397.5 175.6h0M347.4 169.5h0M379.8 181.8h0M372.6 184.4h0M345.6 166.8h0M371.4 181.1h0M398.2 165.7h0M398.2 157.8h0M391.4 133.7h0M397.8 158.0h0M362.1 181.1h0M349.9 142.2h0M351.9 175.3h0M366.2 185.6h0M391.3 136.4h0M399.5 168.1h0M390.3 133.0h0M394.9 173.0h0M343.6 149.1h0M401.6 160.4h0M352.7 176.6h0M399.9 157.7h0M344.4 145.1h0M355.4 177.5h0M346.2 162.3h0M390.8 133.2h0M394.5 141.9h0M396.7 157.7h0M391.3 178.7h0M394.6 171.4h0M343.7 150.8h0M339.9 156.5h0M342.5 155.3h0M369.1 181.8h0M377.2 184.9h0M392.3 174.1h0M341.8 158.6h0M341.9 150.7h0M344.3 156.5h0M385.6 179.9h0M353.8 174.0h0M357.2 179.0h0M400.2 164.4h0M399.2 160.2h0M344.8 163.5h0M350.9 138.0h0M341.7 155.5h0M359.4 178.2h0M372.0 185.6h0M392.5 136.6h0M391.4 176.9h0M365.2 181.2h0M348.6 140.9h0M342.5 161.1h0M371.1 182.2h0M397.5 157.7h0M396.6 164.1h0M355.4 137.2h0M354.0 177.7h0M366.6 182.8h0M392.1 135.5h0M342.7 147.6h0M346.4 144.3h0M340.0 157.4h0M373.1 180.4h0M356.1 134.6h0M350.7 170.1h0M373.9 183.9h0M383.8 179.4h0M389.7 132.8h0M342.4 153.7h0M341.4 158.9h0M345.1 163.8h0M343.7 147.5h0M397.7 146.2h0M398.0 147.4h0M394.3 139.8h0M367.1 179.5h0M393.5 173.4h0M351.2 139.1h0M387.4 177.3h0M399.2 154.8h0M398.9 158.8h0M367.5 185.4h0M354.6 135.9h0M386.2 180.2h0M391.1 133.7h0M391.9 174.2h0M353.4 138.3h0M398.8 154.0h0M395.9 144.8h0M353.7 138.2h0M353.2 138.2h0M350.1 138.2h0M361.4 183.2h0M344.5 165.8h0M391.9 175.5h0M347.2 169.7h0M340.2 155.6h0M361.0 182.0h0M346.8 171.1h0M390.1 177.0h0M382.2 182.5h0M350.1 140.8h0M394.7 147.0h0M341.4 162.8h0M399.9 163.0h0M388.4 132.3h0M395.1 148.3h0M395.0 173.2h0M394.0 135.4h0M396.4 152.9h0M341.9 164.1h0M393.4 174.0h0M400.6 167.7h0M341.4 155.7h0M346.9 168.5h0M382.4 179.7h0M350.7 172.3h0M398.0 151.2h0M398.6 166.1h0M348.5 170.2h0M385.5 179.0h0M343.8 160.7h0M393.0 135.6h0M398.3 164.3h0M374.3 185.6h0M344.6 169.8h0M363.2 178.2h0M346.4 145.8h0M382.9 180.6h0M373.7 183.8h0M392.1 135.4h0M396.8 152.6h0M394.0 143.7h0M397.5 157.5h0M350.3 139.3h0M341.8 147.8h0M386.7 129.5h0M388.3 177.8h0M398.7 163.1h0M388.9 178.3h0M348.6 144.3h0M394.3 174.4h0M400.4 170.0h0M354.9 175.5h0M351.2 171.3h0M344.9 140.4h0M364.3 182.5h0M349.0 141.6h0M376.0 180.4h0M400.7 162.4h0M363.5 179.9h0M347.5 141.7h0M342.4 161.4h0M397.4 156.6h0M340.1 152.6h0M393.9 172.6h0M399.4 156.0h0M398.2 152.4h0M344.7 146.5h0M378.9 183.2h0M388.4 177.6h0M397.3 148.1h0M381.7 181.5h0M342.3 154.2h0M344.3 163.5h0M395.3 146.1h0M391.7 175.6h0M341.6 156.1h0M398.5 168.0h0M356.6 136.2h0M345.4 144.0h0M394.6 141.8h0M393.7 138.2h0M376.6 185.7h0M396.4 150.3h0M340.7 156.8h0M360.5 181.6h0M354.0 136.1h0M397.6 163.7h0M395.8 169.8h0M352.2 140.3h0M396.7 167.3h0M389.2 129.7h0M384.3 179.5h0M399.6 159.4h0M361.0 179.6h0M370.2 183.7h0M396.5 172.4h0M354.4 136.0h0M346.6 140.7h0M342.8 155.2h0M352.1 172.5h0M346.0 144.5h0M399.1 157.3h0M401.1 165.0h0M394.1 168.1h0M353.9 136.8h0M345.8 163.8h0M355.4 138.1h0M350.2 169.6h0M388.3 173.3h0M380.7 181.1h0M397.5 158.4h0M398.0 171.0h0M347.5 166.2h0M349.7 171.9h0M399.4 162.6h0M349.3 173.3h0M383.6 178.6h0M343.9 163.3h0M357.1 176.4h0M394.8 143.6h0M390.8 137.0h0M388.2 131.0h0M351.4 139.2h0M346.7 165.3h0M342.4 154.7h0M349.6 139.5h0M388.6 178.2h0M340.2 152.6h0M353.4 171.7h0M364.3 183.7h0M398.1 159.4h0M352.2 138.7h0M345.8 167.9h0M388.1 181.5h0M396.2 147.2h0M355.4 177.3h0M389.9 133.3h0M383.1 179.8h0M348.8 172.0h0M394.8 143.2h0M362.6 183.5h0M394.3 142.8h0M346.4 169.3h0M358.7 180.6h0M393.0 174.5h0M341.5 148.4h0M354.0 137.4h0M351.0 172.2h0M398.0 156.0h0M402.1 161.5h0M343.4 145.8h0M399.6 159.1h0M364.2 183.9h0M340.4 157.8h0M399.3 161.6h0M382.3 182.2h0M391.9 173.5h0M361.2 179.6h0M396.6 163.8h0M354.3 137.0h0M354.1 137.4h0M389.8 132.5h0M345.1 146.1h0M346.6 145.2h0M347.3 171.2h0M388.9 175.4h0M398.1 171.2h0M385.8 178.7h0M388.2 130.4h0M349.8 175.1h0M342.7 150.6h0M351.4 139.6h0M354.7 175.3h0M372.7 184.1h0M369.4 184.5h0M393.2 136.3h0M349.7 138.7h0M396.4 145.4h0M344.4 154.6h0M342.9 150.9h0M342.8 160.5h0M346.9 144.3h0M350.8 138.7h0M355.5 177.1h0M340.9 150.6h0M346.1 164.6h0M358.3 176.1h0M396.9 170.2h0M352.6 177.2h0M394.6 137.8h0M381.4 182.3h0M367.6 183.0h0M398.1 167.0h0M394.6 170.5h0M390.6 131.4h0M366.4 183.2h0M343.8 164.3h0M346.2 169.5h0M349.1 169.1h0M352.8 138.6h0M390.7 133.4h0M344.2 144.1h0M383.9 186.4h0M357.4 179.5h0M393.3 138.2h0M370.8 185.9h0M348.1 169.6h0M393.2 173.2h0M346.1 167.2h0M369.2 184.6h0M397.3 151.9h0M356.3 175.5h0M347.1 142.7h0M379.7 179.7h0M356.5 135.6h0M346.4 144.7h0M352.8 176.0h0M368.9 183.0h0M397.5 157.3h0M347.9 142.7h0M400.6 167.7h0M381.0 180.9h0M342.4 157.8h0M381.6 180.7h0M387.6 178.5h0M353.7 179.1h0M343.1 154.2h0M346.2 164.4h0M399.9 164.3h0M387.8 128.9h0M346.7 142.8h0M390.4 132.9h0M399.5 161.6h0M394.4 170.8h0M342.7 159.4h0M347.3 168.5h0M398.4 155.1h0M342.9 156.5h0M377.1 183.5h0M372.6 180.7h0M348.9 168.8h0M381.3 183.4h0M397.8 169.9h0M349.4 171.1h0M351.0 136.9h0M360.0 181.9h0M341.7 151.1h0M343.2 150.3h0M388.2 179.0h0M358.4 179.1h0M393.9 177.5h0M385.2 180.7h0M343.7 158.4h0M395.4 144.5h0M352.4 170.6h0M398.6 169.8h0M385.0 176.7h0M368.3 185.0h0M350.7 138.7h0M396.8 174.7h0M391.0 133.3h0M344.3 165.0h0M397.6 149.2h0M351.2 139.0h0M398.4 158.2h0M388.7 174.9h0M343.5 146.4h0M347.8 170.7h0M400.3 159.8h0M390.3 178.2h0M398.8 165.2h0M352.5 139.1h0M395.9 146.6h0M348.2 145.5h0M397.7 154.8h0M350.3 169.8h0M357.8 175.6h0M351.0 171.8h0M363.7 183.1h0M385.0 176.5h0M348.6 165.3h0M368.7 183.4h0M396.6 155.0h0M348.0 169.3h0M366.9 184.6h0M349.3 141.0h0M347.5 170.5h0M373.8 185.1h0M388.1 177.7h0M394.4 172.9h0M341.9 152.8h0M396.0 147.6h0M343.0 149.5h0M393.2 139.4h0M344.0 146.7h0M377.7 182.3h0M391.5 178.4h0M342.5 150.2h0M388.7 177.5h0M341.6 159.6h0M395.2 141.5h0M397.6 171.3h0M358.6 178.2h0M388.6 176.9h0M346.4 166.3h0M356.4 135.4h0M347.1 172.8h0M388.6 129.2h0M340.5 152.1h0M395.8 169.9h0M390.9 131.0h0M397.6 154.4h0M394.4 141.8h0M367.3 182.7h0M396.5 144.0h0M342.4 152.1h0M398.0 153.2h0M392.6 139.7h0M363.4 181.6h0M344.3 167.9h0M343.3 163.1h0M347.5 140.6h0M355.3 178.7h0M398.3 162.2h0M369.7 182.7h0M343.7 165.4h0M357.7 137.3h0M344.9 164.3h0M384.8 181.6h0M375.0 181.7h0M345.7 145.5h0M388.9 175.2h0M347.7 140.6h0M385.7 177.8h0M346.9 168.8h0M392.8 176.9h0M388.1 130.3h0M400.0 165.6h0M341.6 157.7h0M400.5 161.7h0M355.5 174.1h0M351.9 139.1h0M383.1 178.5h0M389.7 175.6h0M352.7 138.7h0M395.3 151.7h0M397.8 154.1h0M355.8 178.3h0M361.1 177.5h0M397.8 164.9h0M376.4 183.7h0M348.9 173.4h0M367.4 179.0h0M398.9 167.2h0M349.7 139.3h0M400.0 165.5h0M394.6 143.6h0M347.3 169.4h0M353.5 177.2h0M382.2 179.6h0M398.8 168.9h0M390.9 132.4h0M395.8 142.9h0M340.9 156.2h0M395.7 172.0h0M364.3 180.7h0M360.3 180.5h0M349.9 173.1h0M396.5 155.4h0M342.0 155.0h0M351.2 173.6h0M399.3 159.7h0M345.9 166.6h0M393.2 143.5h0M352.0 174.6h0M343.5 156.5h0M394.5 144.0h0M357.7 178.1h0M342.9 161.3h0M389.1 129.3h0M349.2 172.6h0M357.2 134.2h0M390.5 129.6h0M350.7 139.5h0M354.2 136.6h0M343.8 166.1h0M346.4 141.8h0M358.7 136.5h0M349.5 174.3h0M394.3 171.6h0M351.7 139.7h0M384.4 180.4h0M398.3 163.9h0M394.5 143.8h0M389.0 130.0h0M347.2 162.7h0M391.0 134.7h0M394.7 139.5h0M363.9 182.0h0M377.0 184.4h0M351.1 173.6h0M342.4 153.7h0M357.5 179.9h0M391.1 178.8h0M377.2 180.5h0M354.0 136.2h0M368.5 184.6h0M399.0 162.3h0M341.4 159.2h0M355.5 178.5h0M395.3 148.9h0M356.7 133.5h0M391.7 176.4h0M348.8 175.9h0M361.4 182.0h0M344.5 162.1h0M390.8 133.0h0M344.7 167.4h0M375.7 184.8h0M397.5 166.3h0M340.8 156.3h0M387.4 176.5h0M384.2 178.9h0M346.4 141.8h0M342.8 157.7h0M344.9 164.9h0M400.6 163.8h0M381.9 183.1h0M400.1 160.4h0M393.3 142.6h0M397.2 157.0h0M341.1 151.9h0M394.3 139.8h0M390.6 133.2h0M350.9 139.8h0M387.4 128.8h0M343.7 167.1h0M393.6 140.9h0M349.3 171.6h0M355.2 134.4h0M392.1 176.3h0M359.4 177.6h0M398.5 154.7h0M399.0 160.1h0M397.6 153.3h0M343.6 154.4h0M394.5 176.2h0M359.8 181.0h0M380.4 181.5h0M360.5 182.2h0M343.5 163.9h0M391.1 132.0h0M345.6 144.9h0M352.2 171.4h0M344.5 161.2h0M392.6 144.7h0M387.8 179.9h0M342.2 160.6h0M341.8 149.9h0M358.3 178.7h0M398.8 161.8h0M394.5 146.4h0M350.7 170.5h0M342.9 160.3h0M386.2 178.8h0M342.8 165.2h0M346.6 141.4h0M345.4 167.0h0M375.1 145.3h0M370.7 142.4h0M363.0 143.6h0M359.2 160.0h0M368.8 136.3h0M374.4 144.0h0M367.0 149.9h0M368.4 157.4h0M360.2 135.0h0M359.4 151.4h0M363.8 148.0h0M359.7 143.5h0M369.5 159.6h0M366.3 143.1h0M369.8 155.4h0M372.7 160.3h0M368.4 138.9h0M370.7 149.9h0M367.5 157.4h0M372.1 151.4h0M372.5 140.4h0M376.9 144.4h0M368.8 164.2h0M366.4 148.6h0M368.2 163.1h0M371.7 157.7h0M373.6 144.1h0M363.0 138.8h0M358.6 137.5h0M369.7 151.6h0M361.9 133.9h0M367.9 160.6h0M372.5 158.1h0M356.9 152.7h0M355.4 148.7h0M375.3 139.0h0M361.5 148.2h0M362.0 150.7h0M368.1 154.9h0M359.1 153.7h0M360.9 162.3h0M359.6 141.2h0M356.6 140.8h0M373.5 138.6h0M372.4 149.5h0M370.7 163.2h0M357.9 151.4h0M366.7 159.9h0M370.7 167.0h0M374.7 158.0h0M370.0 153.2h0M354.7 150.6h0M358.8 157.4h0M371.8 143.6h0M365.1 142.4h0M367.9 141.8h0M355.4 150.9h0M372.9 144.0h0M375.1 147.4h0M372.4 146.2h0M363.0 161.4h0M363.3 140.8h0M368.8 160.7h0M365.1 138.2h0M368.0 155.4h0M367.2 164.8h0M373.3 154.1h0M371.9 149.7h0M358.8 157.1h0M372.4 158.1h0M371.7 155.7h0M358.7 150.3h0M359.8 143.1h0M358.4 146.3h0M363.3 139.8h0M371.6 160.3h0M370.5 165.6h0M375.8 153.3h0M363.4 146.8h0M364.2 141.7h0M366.8 146.0h0M367.0 163.5h0M359.4 145.9h0M372.8 159.7h0M360.8 144.9h0M358.0 146.8h0M365.2 143.2h0M366.4 146.3h0M363.1 145.2h0M365.6 145.3h0M372.1 141.6h0M367.4 161.7h0M367.5 161.2h0M371.9 147.7h0M367.0 162.7h0M364.4 141.6h0M369.4 158.9h0M360.3 154.6h0M365.2 157.4h0M364.0 160.9h0M370.2 164.7h0M370.7 141.3h0M371.4 144.3h0M356.6 152.5h0M369.7 143.6h0M370.5 156.8h0M369.0 169.7h0M357.2 155.1h0M369.4 140.5h0M372.5 166.3h0M362.4 137.7h0M360.4 162.9h0M371.4 159.2h0M354.9 145.2h0M368.6 152.1h0M360.0 149.1h0M368.3 165.7h0M359.6 136.9h0M368.0 145.0h0M370.0 137.7h0M355.9 143.5h0M367.3 171.3h0M373.8 153.1h0M372.1 145.0h0M355.2 150.1h0M369.9 166.2h0M369.7 144.3h0M364.4 144.5h0M360.1 162.4h0M359.3 159.0h0M360.7 159.5h0M368.4 159.4h0M356.6 136.3h0M375.1 151.1h0M362.6 133.3h0M365.0 169.9h0M371.4 142.7h0M358.3 141.4h0M368.3 165.0h0M366.4 156.4h0M373.7 142.2h0M374.7 154.3h0M360.0 162.6h0M372.5 154.2h0M359.6 149.3h0M357.5 137.0h0M364.2 154.2h0M364.2 137.2h0M371.8 142.4h0M359.0 151.7h0M371.9 152.6h0M358.5 159.2h0M357.8 157.7h0M373.0 147.4h0M368.0 147.0h0M363.6 163.2h0M370.6 149.3h0M372.8 135.9h0M367.9 155.5h0M367.5 147.1h0M367.6 145.3h0M369.0 163.7h0M360.5 152.8h0M370.5 143.0h0M359.6 140.8h0M370.9 156.6h0M356.5 152.2h0M367.2 162.5h0M364.8 138.1h0M372.3 140.3h0M363.1 145.5h0M367.3 165.6h0M374.6 140.5h0M371.9 157.9h0M370.5 166.8h0M371.6 158.4h0M375.9 145.7h0M371.8 142.8h0M360.0 134.1h0M356.2 154.3h0M372.5 139.7h0M373.5 142.8h0M372.4 159.5h0M373.9 137.7h0M364.2 160.0h0M365.5 141.4h0M369.1 155.9h0M356.8 145.6h0M362.9 156.5h0M358.4 141.8h0M359.0 142.6h0M360.1 160.3h0M365.0 149.8h0M356.4 147.3h0M363.3 151.9h0M366.0 138.8h0M363.0 139.3h0M372.0 142.5h0M359.8 138.8h0M369.9 161.0h0M365.0 165.8h0M363.1 143.2h0M361.4 147.3h0M373.4 152.8h0M366.4 148.4h0M357.3 151.9h0M372.6 150.1h0M372.1 136.7h0M363.8 159.5h0M370.5 159.4h0M372.1 160.9h0M359.1 134.9h0M356.9 157.0h0M361.1 155.8h0M357.2 148.9h0M362.3 135.3h0M372.9 155.4h0M373.2 157.3h0M375.6 146.3h0M372.9 141.3h0M365.7 163.1h0M367.4 146.7h0M362.4 145.4h0M365.9 161.4h0M363.6 144.0h0M376.9 141.8h0M367.9 149.8h0M366.4 142.7h0M363.6 161.4h0M366.1 141.7h0M374.5 155.2h0M369.8 151.4h0M367.8 157.6h0M372.4 158.4h0M361.6 160.5h0M359.8 145.2h0M358.3 156.6h0M369.2 159.0h0M368.9 146.4h0M362.4 142.9h0M373.4 143.6h0M367.6 161.1h0M368.5 142.3h0M368.7 152.3h0M372.5 150.4h0M373.9 144.0h0M356.3 138.6h0M369.7 142.7h0M367.6 157.0h0M372.8 152.2h0M371.3 145.2h0M368.4 153.9h0M374.4 149.9h0M358.2 151.1h0M372.8 148.9h0M356.4 141.7h0M376.3 153.4h0M361.5 144.3h0M366.0 135.1h0M366.0 141.1h0M373.5 148.7h0M364.2 141.0h0M365.1 158.2h0M362.5 146.8h0M374.5 146.9h0M361.5 136.9h0M374.5 149.1h0M364.4 158.0h0M364.4 165.1h0M372.5 142.3h0M357.0 142.6h0M371.9 156.7h0M373.0 137.1h0M372.2 151.0h0M358.4 141.9h0M358.8 155.3h0M367.5 159.0h0M367.4 136.7h0M358.6 157.9h0M371.7 155.8h0M376.1 147.9h0M374.1 154.0h0M364.3 135.4h0M366.5 165.4h0M365.6 165.2h0M374.3 159.6h0M373.6 143.6h0M358.7 155.5h0M369.4 170.5h0M369.9 155.4h0M368.3 162.4h0M366.2 156.1h0M370.1 155.0h0M356.5 142.5h0M357.9 158.3h0M366.1 165.4h0M371.4 154.8h0M359.6 140.8h0M356.3 146.8h0M359.3 146.4h0M357.9 153.4h0M375.4 145.8h0M360.6 144.0h0M375.3 154.5h0M367.1 155.7h0M367.0 162.2h0M364.2 154.0h0M370.9 159.2h0M356.6 158.1h0M370.4 143.4h0M368.1 139.0h0M374.0 145.3h0M374.6 151.4h0M367.9 166.9h0M358.2 154.5h0M365.2 162.0h0M359.5 146.5h0M356.5 151.2h0M363.5 141.3h0M370.6 155.0h0M366.3 157.3h0M372.6 156.3h0M366.5 152.8h0M368.1 158.1h0M365.5 162.2h0M359.7 140.9h0M365.2 161.4h0M369.6 160.3h0M359.0 138.1h0M367.7 157.8h0M372.0 164.5h0M369.9 141.5h0M361.2 144.4h0M360.7 140.4h0M357.1 141.6h0M361.9 166.0h0M358.8 139.8h0M364.8 162.8h0M370.7 157.3h0M372.8 135.9h0M369.0 154.2h0M369.9 143.4h0M357.8 141.9h0M362.7 153.7h0M358.9 147.8h0M372.8 145.6h0M368.8 172.6h0M367.5 136.9h0M361.4 142.9h0M370.2 142.1h0M373.2 141.3h0M365.8 166.3h0M374.7 144.4h0M374.1 148.0h0M370.7 153.1h0M359.2 159.3h0M372.0 145.1h0M358.9 157.6h0M356.7 156.9h0M367.1 140.5h0M368.1 153.5h0M373.5 146.6h0M366.0 144.2h0M368.2 154.7h0M359.9 146.7h0M361.8 168.6h0M368.6 160.4h0M369.3 160.7h0M359.1 141.3h0M356.5 143.8h0M357.6 145.7h0M368.5 149.0h0M368.8 160.4h0M368.3 168.4h0M367.7 161.4h0M360.9 161.1h0M374.5 158.2h0M366.3 155.8h0M363.9 139.2h0M375.0 149.0h0M358.1 148.5h0M369.2 158.7h0M359.4 151.1h0M373.1 157.4h0M374.7 147.5h0M369.0 149.9h0M362.7 138.7h0M364.7 140.4h0M367.7 138.8h0M368.5 157.6h0M371.9 154.8h0M368.9 138.3h0M359.3 136.3h0M371.4 141.9h0M365.6 146.0h0M355.2 150.5h0M360.9 142.6h0M366.8 149.2h0M364.7 139.1h0M361.1 166.7h0M371.1 164.9h0M361.2 143.8h0M370.8 155.4h0M357.8 144.8h0M360.6 141.0h0M372.2 141.1h0M361.4 143.2h0M372.0 146.8h0M371.2 153.9h0M372.8 153.9h0M362.8 139.4h0M370.2 156.6h0M363.2 135.4h0M370.6 154.2h0M365.7 164.4h0M372.5 149.5h0M370.2 139.3h0M364.9 157.8h0M370.6 154.1h0M370.8 148.9h0M373.0 150.4h0M364.4 162.2h0M364.1 137.7h0M370.7 138.5h0M366.5 161.0h0M364.0 141.4h0M361.5 139.0h0M367.7 151.4h0M372.0 156.1h0M362.9 163.7h0M373.5 141.6h0M369.7 135.9h0M365.1 160.2h0M373.7 159.0h0M367.2 158.8h0M365.2 154.4h0M366.0 169.9h0M367.2 165.5h0M366.8 140.7h0M360.4 157.2h0M364.4 140.1h0M355.5 144.9h0M358.4 142.6h0M366.7 159.2h0M363.1 146.2h0M374.3 145.2h0M363.0 164.5h0M358.5 146.2h0M369.4 141.5h0M372.3 144.9h0" stroke="#3450a6" stroke-width="1.35" stroke-linecap="round" fill="none"/><path d="M389.2 135.9h0M396.2 149.8h0M350.4 156.1h0M349.6 161.5h0M352.0 163.8h0M352.8 173.1h0M360.5 182.1h0M369.8 185.2h0M376.0 184.0h0M372.5 135.9h0M362.8 140.5h0M366.7 149.8h0M360.5 156.1h0M372.2 159.2h0M363.6 162.3h0M371.4 161.5h0M374.5 147.5h0" stroke="#e8303c" stroke-width="1.35" stroke-linecap="round" fill="none"/>
<rect x="337.60" y="125.40" width="66.80" height="64.20" fill="none" stroke="#cfcfcf" stroke-width="1"/>
<path d="M449.9 133.5h0M445.3 171.6h0M468.6 172.4h0M455.4 166.9h0" stroke="#3450a6" stroke-width="1.15" stroke-linecap="round" fill="none"/><path d="M430.9 142.6h0M440.7 138.5h0M433.7 132.5h0M448.6 143.9h0M432.8 131.9h0M432.6 141.7h0M434.0 134.1h0M431.6 143.5h0M442.2 145.6h0M429.2 137.9h0M448.1 141.9h0M447.4 137.6h0M444.1 140.3h0M452.9 139.8h0M447.1 140.9h0M446.5 144.3h0M443.3 150.2h0M454.8 137.7h0M438.2 134.0h0M430.2 134.5h0M444.7 131.5h0M446.1 136.9h0M440.5 128.5h0M438.6 136.0h0M439.2 146.9h0M435.7 127.4h0M451.2 143.8h0M448.8 145.6h0M437.0 140.5h0M437.3 136.4h0M434.4 132.5h0M448.6 137.9h0M452.5 144.7h0M427.3 135.3h0M443.0 146.5h0M448.6 137.7h0M438.2 143.4h0M435.0 133.6h0M449.7 137.4h0M455.9 139.2h0M441.7 133.0h0M444.5 145.2h0M454.2 140.5h0M433.6 135.5h0M433.1 128.5h0M435.7 133.6h0M454.1 134.4h0M443.0 147.6h0M438.6 129.2h0M458.3 137.2h0M429.8 135.0h0M433.6 132.4h0M432.6 141.4h0M449.1 134.5h0M444.9 146.0h0M432.4 138.2h0M442.0 130.2h0M453.5 138.9h0M431.2 131.2h0M456.1 139.2h0M433.4 144.3h0M442.4 129.6h0M451.7 143.3h0M455.4 137.8h0M451.8 139.4h0M452.0 140.2h0M444.7 136.4h0M447.3 140.0h0M445.0 131.9h0M451.0 134.6h0M452.3 143.0h0M432.3 143.3h0M439.0 134.1h0M456.8 142.3h0M428.7 136.0h0M453.6 141.0h0M436.9 141.8h0M427.0 137.1h0M435.9 137.4h0M428.1 139.2h0M449.7 143.7h0M440.8 139.1h0M434.8 130.0h0M433.5 143.1h0M450.7 143.9h0M452.9 138.3h0M431.2 143.7h0M435.2 137.1h0M447.9 137.7h0M427.2 138.9h0M437.8 137.9h0M435.6 138.4h0M433.5 138.9h0M436.6 145.3h0M441.6 141.5h0M436.9 138.4h0M435.4 129.6h0M444.5 142.3h0M445.3 145.8h0M453.4 140.5h0M441.1 132.3h0M450.4 139.9h0M445.2 141.7h0M447.9 140.6h0M441.2 140.2h0M454.3 137.6h0M442.8 138.5h0M445.5 144.1h0M453.2 143.5h0M431.9 132.0h0M433.5 129.9h0M454.0 141.0h0M453.3 143.9h0M439.0 128.1h0M446.1 139.5h0M435.2 128.9h0M433.1 137.5h0M437.4 143.5h0M446.3 135.8h0M443.9 130.5h0M450.4 133.2h0M452.6 137.3h0M439.9 138.8h0M446.9 136.9h0M451.7 140.0h0M438.6 142.2h0M441.5 142.6h0M456.1 137.6h0M441.2 143.7h0M432.2 144.0h0M435.7 130.0h0M439.2 146.4h0M445.8 139.0h0M431.3 138.9h0M459.9 139.0h0M433.5 138.6h0M446.1 134.3h0M444.7 134.5h0M432.0 141.5h0M435.9 131.7h0M428.6 137.3h0M432.8 133.3h0M447.1 142.2h0M441.9 133.6h0M438.6 145.1h0M433.4 133.4h0M457.2 140.0h0M440.4 131.3h0M435.0 132.1h0M456.3 139.2h0M451.6 133.3h0M449.1 139.1h0M444.9 141.0h0M426.5 137.8h0M447.1 146.6h0M432.6 134.3h0M440.6 132.8h0M445.4 132.4h0M442.3 136.1h0M447.1 146.4h0M452.9 143.4h0M441.9 145.5h0M450.6 137.6h0M441.5 140.3h0M431.6 134.4h0M437.1 146.0h0M449.9 134.1h0M441.1 135.6h0M438.9 139.9h0M435.1 145.2h0M442.4 131.0h0M429.6 132.2h0M432.7 138.8h0M451.8 141.7h0M447.7 137.5h0M441.1 138.2h0M455.9 141.0h0M449.4 139.6h0M433.1 130.6h0M439.2 138.9h0M439.2 142.3h0M439.8 132.4h0M431.9 141.9h0M443.4 134.1h0M436.4 139.1h0M435.5 135.3h0M443.8 138.8h0M441.4 144.0h0M444.3 133.8h0M439.9 137.5h0M433.3 139.4h0M458.6 139.4h0M439.9 146.5h0M445.9 133.8h0M451.9 139.0h0M432.6 132.5h0M432.1 138.0h0M434.4 135.5h0M450.6 139.3h0M445.7 138.3h0M437.7 133.6h0M444.6 134.8h0M448.8 135.2h0M449.3 135.6h0M448.9 140.2h0M441.8 147.6h0M448.0 146.3h0M441.7 147.6h0M441.8 133.9h0M440.0 143.2h0M441.0 136.3h0M437.4 140.8h0M455.9 142.2h0M438.1 143.3h0M443.1 134.2h0M439.2 143.1h0M429.1 133.9h0M435.2 131.5h0M436.9 131.1h0M434.7 133.7h0M435.7 144.2h0M443.0 138.9h0M445.2 146.1h0M448.6 143.3h0M439.4 138.3h0M440.8 130.2h0M434.8 133.4h0M437.7 135.5h0M432.2 139.4h0M436.4 136.2h0M445.2 144.4h0M427.5 137.5h0M439.5 131.2h0M444.5 144.1h0M449.9 131.7h0M441.0 136.7h0M451.8 137.7h0M439.6 135.4h0M432.0 143.0h0M442.4 138.7h0M446.0 140.9h0M436.7 136.2h0M438.2 146.4h0M442.0 133.8h0M431.2 135.3h0M444.4 134.2h0M433.1 130.6h0M445.3 142.3h0M438.5 141.2h0M437.4 138.4h0M451.4 138.5h0M445.6 136.1h0M429.5 139.6h0M429.4 139.5h0M446.0 135.9h0M450.1 137.0h0M432.4 144.3h0M441.8 136.6h0M444.4 143.9h0M441.9 142.2h0M446.8 144.3h0M441.3 139.0h0M441.4 138.9h0M455.3 138.3h0M447.9 142.2h0M441.5 132.4h0M442.6 140.2h0M436.6 136.6h0M443.5 131.5h0M432.9 134.4h0M456.1 139.6h0M439.5 146.0h0M437.5 144.5h0M428.8 137.0h0M435.0 144.5h0M448.9 140.6h0M433.4 130.8h0M429.2 136.3h0M434.6 142.9h0M451.4 136.4h0M440.1 144.6h0M446.0 143.8h0M449.7 133.4h0M445.0 138.7h0M447.0 141.8h0M451.8 136.2h0M445.2 136.2h0M435.7 145.4h0M428.5 136.6h0M432.7 133.2h0M428.0 141.9h0M440.6 134.2h0M447.8 137.0h0M442.7 130.3h0M429.2 135.4h0M432.2 140.8h0M433.9 142.5h0M440.7 131.3h0M443.1 141.1h0M442.6 136.4h0M422.6 156.3h0M428.3 148.5h0M432.3 161.7h0M415.9 159.0h0M438.4 164.6h0M437.4 154.1h0M437.5 155.1h0M413.8 154.6h0M413.7 151.5h0M430.3 153.2h0M432.3 153.8h0M432.5 163.4h0M414.9 154.9h0M440.8 160.7h0M417.2 147.3h0M427.1 153.9h0M421.1 149.1h0M439.9 161.0h0M429.8 160.6h0M438.4 152.9h0M426.8 157.8h0M423.1 146.7h0M430.6 145.3h0M432.4 153.1h0M430.2 164.8h0M425.0 149.8h0M415.1 145.1h0M428.9 158.0h0M430.6 155.6h0M433.8 160.8h0M434.4 148.4h0M437.9 154.9h0M427.4 164.2h0M427.8 166.5h0M416.5 147.2h0M414.9 159.6h0M422.7 148.4h0M437.1 147.7h0M419.1 145.2h0M420.2 146.3h0M437.5 165.9h0M429.8 155.4h0M421.4 164.1h0M417.5 159.5h0M434.3 147.0h0M437.2 154.8h0M437.5 155.6h0M423.9 149.2h0M421.8 150.2h0M412.4 148.9h0M445.5 148.7h0M434.7 145.1h0M419.0 154.5h0M429.2 153.4h0M414.4 146.8h0M445.0 157.7h0M413.3 156.8h0M429.2 163.7h0M443.1 149.4h0M432.7 153.6h0M436.5 165.2h0M436.3 160.9h0M439.1 155.4h0M415.8 152.6h0M427.3 165.4h0M420.9 158.1h0M435.7 151.3h0M435.0 159.9h0M421.1 160.7h0M413.4 150.1h0M437.0 148.1h0M434.3 145.8h0M429.3 163.3h0M435.8 157.7h0M433.5 148.2h0M424.4 165.5h0M440.8 166.0h0M424.8 150.6h0M438.7 165.1h0M434.2 156.6h0M423.6 145.2h0M439.2 156.4h0M437.2 149.1h0M422.4 156.6h0M417.1 151.3h0M433.5 156.4h0M422.9 154.7h0M444.2 158.8h0M441.3 160.3h0M433.2 146.1h0M413.3 154.9h0M428.2 148.7h0M442.1 156.0h0M441.0 164.7h0M413.6 155.1h0M421.3 165.5h0M418.0 163.3h0M440.5 151.2h0M428.6 148.2h0M426.3 151.3h0M442.7 158.8h0M437.5 146.2h0M414.3 155.3h0M438.7 150.0h0M432.8 163.5h0M445.5 161.0h0M424.2 146.4h0M430.2 144.5h0M440.4 151.1h0M432.2 157.3h0M424.3 152.8h0M440.7 165.4h0M420.6 146.3h0M417.0 156.5h0M429.0 167.0h0M425.7 167.4h0M419.5 151.2h0M428.7 156.8h0M432.9 161.7h0M425.4 150.9h0M432.6 152.3h0M414.8 150.3h0M430.2 152.9h0M423.7 151.9h0M418.8 162.4h0M429.6 147.9h0M436.1 151.5h0M433.6 163.5h0M439.2 156.8h0M423.8 166.5h0M432.2 165.6h0M414.1 154.6h0M422.3 146.6h0M437.4 148.9h0M436.0 157.0h0M428.6 148.5h0M412.8 156.4h0M436.9 150.2h0M427.2 158.0h0M426.9 154.8h0M437.7 150.4h0M417.1 148.0h0M431.1 148.6h0M442.6 156.7h0M438.4 150.1h0M419.4 145.2h0M436.2 147.2h0M416.0 157.9h0M427.5 166.2h0M424.9 144.5h0M426.8 160.8h0M442.1 154.0h0M443.6 156.1h0M443.4 152.8h0M439.9 149.6h0M426.5 161.8h0M422.3 156.5h0M416.5 153.2h0M422.2 149.7h0M445.5 153.2h0M418.1 154.3h0M413.6 160.4h0M444.4 152.5h0M441.8 163.5h0M420.0 150.2h0M420.3 148.4h0M433.0 145.0h0M430.0 155.5h0M414.5 157.5h0M430.2 162.5h0M420.8 145.9h0M439.7 159.9h0M419.9 145.0h0M426.9 143.3h0M432.4 160.9h0M438.8 148.3h0M436.5 147.0h0M437.7 146.2h0M438.7 148.6h0M428.2 165.5h0M422.5 145.0h0M426.1 157.3h0M429.9 152.1h0M430.3 147.6h0M419.2 146.6h0M428.9 155.6h0M430.9 164.4h0M421.5 157.9h0M441.6 161.2h0M423.1 144.5h0M422.7 148.1h0M439.1 160.9h0M438.3 164.0h0M416.8 159.7h0M436.9 160.4h0M410.8 152.7h0M428.4 165.9h0M421.7 163.3h0M434.9 145.6h0M421.3 143.3h0M419.4 148.1h0M427.3 143.6h0M438.9 150.7h0M419.9 151.3h0M422.7 150.0h0M425.1 155.8h0M428.8 143.6h0M439.0 154.8h0M436.7 147.3h0M436.5 157.3h0M424.5 142.6h0M423.4 152.9h0M436.0 166.3h0M430.0 165.3h0M426.3 164.3h0M411.2 152.1h0M433.1 148.9h0M426.9 160.2h0M436.3 165.1h0M424.4 165.2h0M416.8 148.6h0M426.5 147.2h0M417.4 143.7h0M441.0 164.0h0M428.6 158.2h0M423.1 156.1h0M432.3 163.2h0M421.8 154.3h0M436.0 167.0h0M421.8 147.8h0M427.3 149.9h0M425.0 154.1h0M421.3 160.2h0M411.3 156.7h0M429.3 143.6h0M428.8 148.4h0M425.4 156.1h0M419.7 153.4h0M415.3 151.2h0M410.6 156.5h0M423.7 143.3h0M433.4 159.6h0M416.2 154.7h0M435.7 160.3h0M435.3 167.5h0M416.3 147.8h0M422.2 154.7h0M438.5 148.7h0M424.2 159.3h0M416.6 144.0h0M433.5 145.9h0M439.7 149.6h0M430.5 150.2h0M420.3 151.2h0M424.0 143.1h0M430.8 163.8h0M427.9 156.3h0M424.4 149.9h0M426.1 163.5h0M441.4 166.4h0M429.7 151.5h0M418.9 149.7h0M417.5 158.8h0M416.6 153.4h0M433.3 168.1h0M444.8 165.3h0M429.0 163.4h0M427.5 162.8h0M446.5 157.6h0M425.3 146.5h0M430.8 146.9h0M443.3 157.6h0M429.9 143.1h0M430.8 154.7h0M428.1 166.1h0M420.3 160.5h0M426.1 162.0h0M423.4 157.3h0M419.3 153.0h0M443.8 152.2h0M428.4 161.8h0M431.4 145.7h0M418.7 159.2h0M439.2 155.2h0M437.9 153.2h0M436.2 158.0h0M424.2 146.7h0M429.6 153.0h0M412.7 153.1h0M421.5 159.4h0M426.6 151.2h0M423.8 163.8h0M440.5 158.3h0M435.8 166.9h0M435.4 162.9h0M420.9 157.6h0M411.4 152.3h0M414.9 153.3h0M447.2 157.5h0M413.8 148.1h0M436.3 154.1h0M433.4 162.2h0M443.4 150.2h0M435.3 153.9h0M413.1 151.7h0M428.5 154.2h0M429.8 145.9h0M432.8 146.5h0M428.8 164.1h0M420.2 160.1h0M420.0 142.7h0M426.1 158.3h0M444.5 150.2h0M415.3 152.4h0M432.2 147.4h0M420.8 157.0h0M430.9 161.8h0M412.4 157.1h0M415.7 146.3h0M425.1 164.0h0M418.1 155.5h0M423.6 145.0h0M427.5 152.4h0M433.5 156.3h0M441.8 155.5h0M432.3 161.9h0M439.2 150.7h0M436.2 167.2h0M422.5 146.9h0M423.8 164.5h0M431.9 150.6h0M423.5 145.6h0M439.7 160.7h0M443.3 155.9h0M413.9 158.4h0M434.9 160.5h0M428.8 167.1h0M445.1 153.6h0M444.6 163.2h0M424.1 144.4h0M414.8 156.3h0M438.1 146.9h0M420.0 164.2h0M427.9 145.3h0M431.4 159.0h0M435.6 158.2h0M426.5 156.7h0M438.1 162.7h0M416.6 151.8h0M429.9 145.6h0M435.2 159.7h0M441.8 160.1h0M428.3 142.6h0M420.3 143.9h0M426.9 158.6h0M426.2 154.3h0M420.9 163.2h0M422.0 163.7h0M441.1 156.4h0M417.5 155.0h0M413.1 149.4h0M445.4 157.7h0M425.2 146.4h0M442.4 153.5h0M433.2 160.9h0M431.1 167.3h0M414.9 154.8h0M416.6 159.6h0M415.6 155.5h0M435.3 161.3h0M428.3 165.6h0M423.9 145.7h0M413.6 153.7h0M420.6 148.6h0M424.1 154.2h0M436.5 155.6h0M435.0 164.1h0M434.6 160.7h0M411.5 147.2h0M427.8 143.7h0M430.1 166.7h0M441.8 152.8h0M433.6 163.6h0M434.4 146.9h0M420.0 153.8h0M429.9 146.8h0M442.1 152.5h0M433.4 161.1h0M436.1 165.7h0M419.3 146.3h0M439.8 166.5h0M419.7 157.6h0M421.8 164.5h0M434.9 167.2h0M424.7 147.7h0M439.3 164.8h0M431.3 161.0h0M441.6 149.3h0M414.3 154.0h0M414.4 160.3h0M428.6 166.2h0M433.3 144.4h0M424.4 166.3h0M411.4 154.9h0M416.9 146.5h0M427.1 149.0h0M437.4 163.5h0M441.2 152.1h0M429.2 156.5h0M446.2 157.8h0M425.0 150.4h0M430.8 166.9h0M427.9 148.5h0M425.3 149.5h0M431.8 157.3h0M416.0 148.3h0M443.0 155.0h0M426.2 151.9h0M442.4 162.8h0M430.1 144.4h0M423.9 153.2h0M431.9 163.1h0M438.0 155.2h0M425.9 150.5h0M430.9 147.5h0M432.7 153.0h0M430.4 154.2h0M428.5 162.0h0M443.8 150.0h0M423.7 153.9h0M455.5 173.1h0M460.8 170.2h0M455.0 170.1h0M458.8 181.4h0M455.1 178.7h0M460.8 169.3h0M465.7 176.7h0M459.7 170.2h0M464.9 175.0h0M466.2 173.7h0M460.6 178.2h0M460.2 177.2h0M454.7 167.6h0M452.1 169.4h0M458.9 173.8h0M455.7 180.8h0M456.6 177.8h0M455.3 180.0h0M452.9 170.8h0M462.9 170.4h0M459.0 184.1h0M463.5 174.0h0M464.1 175.3h0M465.6 178.2h0M461.1 181.8h0M461.2 173.4h0M458.2 183.2h0M461.6 177.9h0M454.6 171.4h0M465.5 171.5h0M466.3 173.8h0M452.9 172.6h0M467.8 171.4h0M464.5 177.3h0M460.8 167.0h0M459.7 184.6h0M460.4 179.0h0M467.1 171.0h0M454.2 175.8h0M462.7 178.5h0M462.5 176.8h0M461.2 169.4h0M458.2 176.8h0M452.5 171.3h0M456.9 180.5h0M461.7 174.5h0M459.6 178.2h0M457.4 180.5h0M459.1 173.3h0M461.5 181.0h0M466.8 179.9h0M467.3 172.3h0M460.0 175.4h0M464.8 181.0h0M461.4 178.4h0M464.6 174.0h0M458.9 183.1h0M457.5 178.3h0M462.4 177.0h0M464.7 170.6h0M466.0 179.2h0M456.1 181.1h0M462.7 183.4h0M456.4 168.8h0M458.5 181.7h0M453.1 178.5h0M454.8 181.2h0M458.1 171.3h0M456.2 175.0h0M456.3 179.1h0M459.9 168.4h0M462.7 171.7h0M463.6 175.9h0M461.5 170.1h0M452.3 173.9h0M462.9 179.1h0M455.7 174.4h0M457.4 169.2h0M452.5 173.9h0M458.6 170.1h0M467.0 179.1h0M457.9 182.5h0M461.0 172.5h0M466.1 181.4h0M466.7 178.9h0M454.9 172.0h0M463.7 171.7h0M456.2 171.7h0M452.7 179.0h0M460.2 178.3h0M466.4 176.4h0M463.3 181.3h0M462.2 174.5h0M460.0 166.8h0M453.2 173.0h0M459.8 180.9h0M465.1 171.9h0M454.8 169.1h0M455.2 173.2h0M458.6 185.3h0M460.9 181.2h0M466.4 176.0h0M455.7 167.9h0M462.8 176.6h0M456.8 183.1h0M457.8 178.9h0M453.2 178.1h0M459.5 179.6h0M466.0 174.3h0M460.6 182.6h0M460.0 169.1h0M459.4 176.1h0M454.6 179.9h0M454.2 170.3h0M465.8 175.1h0M456.4 172.3h0M460.4 175.2h0M464.5 175.3h0M452.0 169.4h0M464.4 177.7h0M461.8 180.7h0M460.2 174.2h0M465.0 180.0h0M464.1 182.3h0M463.4 171.0h0M462.1 173.5h0M460.2 177.1h0M454.8 170.5h0M457.5 182.9h0M464.2 181.3h0M464.3 179.1h0M461.7 181.1h0M455.1 173.2h0M460.1 174.4h0M463.9 169.2h0M459.0 185.8h0M463.8 172.8h0M462.0 182.6h0M462.5 182.4h0M462.2 180.1h0M456.4 174.1h0M464.4 170.6h0M466.8 171.8h0M452.0 169.2h0M463.4 181.8h0M458.9 171.6h0M451.4 170.4h0M452.5 179.5h0M453.3 169.0h0M456.3 176.3h0M463.5 176.5h0M457.8 180.5h0M462.6 179.9h0M465.1 175.3h0M458.0 174.6h0M464.6 173.9h0M458.7 179.7h0M460.4 176.2h0M454.0 169.5h0M467.1 171.3h0M462.7 178.2h0M460.0 184.4h0M463.7 178.0h0M462.3 180.5h0M461.1 177.6h0M456.6 181.6h0M466.2 171.3h0M460.3 176.1h0M458.4 181.9h0M464.5 170.7h0M459.6 170.5h0M452.6 176.8h0M461.9 170.9h0M452.2 175.0h0M461.9 183.5h0M460.5 173.1h0M460.0 181.0h0M462.5 181.6h0M460.0 180.5h0M454.9 174.8h0M453.2 171.2h0M457.4 175.3h0M453.0 174.9h0M461.4 182.4h0M462.1 180.8h0M462.4 175.8h0M464.1 180.3h0M456.3 178.9h0M463.4 170.7h0M466.3 172.9h0M456.9 182.3h0M457.8 173.1h0M456.6 168.8h0M459.2 173.9h0M465.3 174.0h0M457.9 170.7h0M452.0 175.9h0M455.6 169.8h0M461.3 169.6h0M460.9 181.6h0M454.2 179.4h0M461.0 182.1h0M455.2 180.5h0M460.6 176.0h0M457.1 183.8h0M452.3 170.2h0M460.2 178.7h0M465.1 180.3h0M457.4 177.9h0M460.4 177.3h0M456.3 177.7h0M458.3 183.3h0M457.0 182.6h0M462.5 169.8h0M464.6 174.0h0M459.4 180.7h0M454.7 172.0h0M455.6 172.7h0M459.1 184.7h0M455.2 172.8h0M449.0 170.4h0M445.5 174.5h0M445.6 172.0h0M442.6 172.4h0M448.4 172.0h0M438.6 174.2h0M448.3 171.2h0M441.8 171.8h0M441.1 174.2h0M442.8 173.2h0M437.9 173.2h0M442.7 171.7h0M441.6 172.7h0M439.3 173.0h0M449.1 171.2h0M440.8 172.1h0M448.2 171.1h0M439.4 172.5h0M449.9 172.2h0M444.5 172.6h0M447.8 172.6h0M450.5 170.3h0M448.3 171.4h0M448.3 172.2h0M447.7 170.4h0M442.0 171.5h0M449.6 172.3h0M438.7 173.0h0M439.1 172.5h0M441.0 172.0h0M439.8 173.7h0M436.7 174.0h0M439.5 173.6h0M442.1 172.8h0M451.1 171.7h0M451.5 171.3h0M449.9 173.0h0M445.3 171.8h0M450.6 170.5h0M440.9 173.2h0M441.8 173.2h0M444.6 171.8h0M449.3 171.4h0M449.3 171.3h0M448.5 171.2h0M445.5 172.5h0M439.1 173.4h0M439.5 172.9h0M442.7 174.3h0M437.7 174.1h0M448.0 183.4h0M457.4 186.4h0M446.9 184.2h0M443.2 176.7h0M453.1 185.8h0M454.5 185.4h0M442.7 177.4h0M455.0 186.4h0M447.3 181.8h0M458.2 185.8h0M458.9 185.0h0M442.9 181.4h0M449.1 185.3h0M449.0 185.3h0M444.3 179.0h0M448.7 185.4h0M448.8 184.9h0M441.8 176.8h0M445.3 179.7h0M448.6 185.6h0M447.4 183.1h0M441.8 178.4h0M447.3 184.0h0M446.9 181.5h0M451.0 187.0h0M457.6 185.1h0M445.7 182.1h0M445.3 178.3h0M444.5 180.0h0M448.2 185.5h0M442.0 177.5h0M448.5 182.2h0M455.8 186.1h0M443.4 177.8h0M452.8 187.3h0M447.9 184.5h0M453.8 185.0h0M449.8 184.8h0M446.8 184.3h0M453.5 186.2h0M454.6 185.4h0M445.1 182.4h0M448.0 185.2h0M446.3 181.2h0M443.8 180.4h0M441.3 177.9h0M446.7 182.7h0M444.1 179.5h0M444.9 180.8h0M445.6 181.1h0M451.9 184.0h0M453.2 185.9h0M447.0 183.6h0M447.1 183.4h0M444.6 180.3h0M445.4 183.1h0M453.9 185.4h0M444.3 180.5h0M445.7 182.0h0M444.0 176.9h0M449.9 185.9h0M455.5 184.6h0M448.7 184.1h0M446.2 183.8h0M447.6 182.6h0M450.0 184.6h0M445.2 181.0h0M449.5 184.2h0M451.2 186.2h0M449.2 185.3h0M442.5 177.0h0M444.8 182.8h0M457.5 185.4h0M441.9 177.4h0M457.1 186.3h0M445.6 183.3h0M447.8 185.9h0M442.2 176.3h0M444.5 181.2h0M444.0 179.7h0M462.2 165.0h0M463.9 164.5h0M467.2 163.1h0M461.6 166.9h0M467.9 162.7h0M460.2 165.5h0M466.0 164.2h0M462.7 165.7h0M463.5 166.6h0M463.6 166.2h0M463.0 164.4h0M468.7 161.1h0M468.2 162.4h0M467.7 162.8h0M463.2 164.6h0M462.8 166.1h0M463.8 164.0h0M467.0 163.1h0M465.3 165.2h0M469.5 161.5h0M460.9 166.5h0M469.2 162.7h0M462.1 166.0h0M468.8 161.2h0M465.7 163.7h0M463.7 166.0h0M465.4 162.7h0M464.9 164.5h0M469.5 161.4h0M461.3 166.9h0" stroke="#e8303c" stroke-width="1.15" stroke-linecap="round" fill="none"/>
<rect x="408.30" y="125.40" width="66.20" height="64.20" fill="none" stroke="#cfcfcf" stroke-width="1"/>
<path d="M492.7 150.4h0M486.0 133.6h0M484.6 144.0h0M494.8 140.6h0M482.8 148.9h0M494.0 140.1h0M492.3 137.6h0M491.8 132.4h0M489.6 139.4h0M496.3 136.1h0M481.5 139.6h0M483.0 148.3h0M485.6 133.0h0M493.7 141.8h0M486.2 147.5h0M481.9 135.2h0M489.7 147.0h0M484.0 137.2h0M492.3 135.2h0M486.6 143.2h0M486.0 143.0h0M488.4 142.3h0M503.6 173.4h0M512.2 164.6h0M518.2 176.6h0M502.7 164.3h0M512.3 181.0h0M510.4 169.6h0M501.7 162.9h0M502.3 180.8h0M507.4 156.5h0M497.6 179.6h0M509.4 179.0h0M495.6 174.1h0M497.2 176.3h0M496.9 152.7h0M503.4 156.9h0M505.8 158.1h0M514.0 169.6h0M518.2 159.2h0M512.7 161.5h0M518.3 159.9h0M522.7 160.8h0M510.6 164.3h0M509.8 152.3h0M511.9 175.6h0M521.9 165.9h0M499.0 183.1h0M499.4 166.2h0M495.8 176.0h0M499.8 169.6h0M504.8 170.8h0M500.0 158.5h0M517.7 176.3h0M505.2 169.4h0M499.7 162.1h0M503.1 165.4h0M505.0 163.6h0M510.5 174.4h0M520.1 165.0h0M511.3 182.1h0M515.0 163.1h0M511.4 181.0h0M509.5 176.1h0M518.4 173.1h0M523.3 163.2h0M524.4 159.5h0M530.7 159.7h0" stroke="#3450a6" stroke-width="1.5" stroke-linecap="round" fill="none"/><path d="M490.0 143.2h0M485.6 136.5h0M486.7 136.7h0M482.9 138.3h0M486.4 144.7h0M487.7 149.0h0M485.1 144.1h0M487.8 133.3h0M488.9 142.3h0M483.2 142.3h0M486.0 140.3h0M492.8 149.5h0M481.4 141.2h0M489.1 132.6h0M492.8 131.5h0M492.2 146.4h0M481.3 139.8h0M484.7 143.1h0M482.2 150.1h0M484.5 143.5h0M493.9 133.2h0M485.6 153.0h0M492.1 147.6h0M508.2 154.1h0M508.3 171.8h0M522.4 159.6h0M508.3 162.7h0M498.7 158.5h0M497.0 156.1h0M510.8 157.2h0M500.6 174.1h0M508.0 153.8h0M522.8 161.5h0M506.8 187.4h0M507.6 152.2h0M497.9 167.3h0M500.4 154.0h0M502.5 174.8h0M512.0 163.1h0M501.3 169.7h0M512.7 158.0h0M500.0 165.7h0M516.2 154.0h0M499.9 169.6h0M521.8 166.9h0M500.7 170.8h0M513.7 173.5h0M507.6 158.4h0M497.0 174.9h0M508.3 160.9h0M503.3 180.4h0M512.0 154.9h0M499.5 177.6h0M506.7 159.4h0M497.5 164.4h0M513.7 170.6h0M499.4 171.8h0M508.0 186.1h0M498.8 161.9h0M506.5 188.0h0M514.8 181.1h0M511.3 158.9h0M496.1 162.3h0M497.3 170.9h0M506.0 166.4h0M508.5 180.7h0M497.1 179.6h0M512.3 180.9h0M507.6 185.1h0M514.2 167.9h0M497.4 169.9h0M502.9 182.1h0M518.9 160.5h0M500.1 179.9h0M532.2 158.1h0M528.2 160.8h0M533.0 156.9h0M534.3 154.4h0M538.9 152.8h0M525.5 160.9h0M537.7 150.7h0M530.0 159.5h0M526.2 158.4h0M539.1 151.7h0M525.5 158.6h0M533.4 161.4h0M524.1 159.0h0M532.3 156.9h0" stroke="#e8303c" stroke-width="1.5" stroke-linecap="round" fill="none"/>
<rect x="478.50" y="125.40" width="66.40" height="64.20" fill="none" stroke="#cfcfcf" stroke-width="1"/>
<path d="M606.3 135.2h0M555.3 177.0h0M581.0 164.4h0M605.1 134.6h0M560.5 183.2h0M555.7 177.6h0M582.1 165.9h0M582.1 169.9h0M591.6 150.3h0M580.3 163.3h0M599.4 147.9h0M553.7 181.3h0M554.5 185.7h0M591.8 150.7h0M576.3 167.0h0M577.3 170.4h0M604.9 135.8h0M599.7 131.7h0M597.1 149.0h0M551.8 185.5h0M574.6 163.7h0M573.6 167.8h0M602.4 138.3h0M601.5 144.4h0M603.3 136.3h0M602.7 148.4h0M573.9 169.4h0M585.8 159.7h0M568.5 170.9h0M575.4 176.0h0M587.5 151.8h0M583.9 159.8h0M599.1 135.4h0M606.2 138.2h0M580.2 163.1h0M592.8 147.2h0M561.7 175.1h0M579.5 170.3h0M575.4 167.3h0M558.6 176.3h0M560.7 181.7h0M587.7 166.0h0M603.4 137.9h0M595.1 153.7h0M554.1 181.2h0M595.5 155.4h0M556.1 158.7h0M568.6 155.1h0M578.5 154.0h0M575.9 154.8h0M554.7 157.4h0M575.0 154.8h0M558.4 155.4h0M580.7 152.2h0M566.9 156.9h0M560.2 159.9h0M562.4 153.9h0M580.6 152.1h0M561.7 157.4h0M582.5 151.7h0M578.2 152.1h0M571.2 153.0h0M576.0 152.3h0M578.1 152.6h0M556.1 154.8h0" stroke="#3450a6" stroke-width="1.5" stroke-linecap="round" fill="none"/><path d="M603.4 136.5h0M607.8 138.7h0M555.8 169.6h0M591.2 155.7h0M554.3 181.6h0M557.9 181.5h0M567.1 170.8h0M604.5 139.3h0M549.4 185.7h0M585.8 157.3h0M609.0 137.3h0M607.6 129.0h0M554.4 178.3h0M556.9 180.2h0M603.5 130.5h0M552.5 183.5h0M584.3 161.9h0M571.3 171.2h0M564.1 172.2h0M602.9 137.3h0M552.6 187.1h0M568.4 168.8h0M595.4 152.1h0M600.9 133.6h0M576.3 168.6h0M554.4 179.9h0M609.7 143.6h0M593.7 154.4h0M569.9 173.2h0M563.8 176.0h0M555.6 181.8h0M557.5 179.6h0M572.9 163.0h0M565.7 168.0h0M582.6 161.1h0M593.7 154.2h0M593.2 149.1h0M597.0 147.3h0M584.6 158.8h0M561.5 177.6h0M609.2 129.8h0M568.1 173.6h0M555.3 182.9h0M592.3 151.1h0M604.8 129.7h0M598.2 143.8h0M598.0 145.0h0M565.5 179.1h0M597.2 149.3h0M567.0 167.9h0M557.3 172.7h0M569.9 176.3h0M562.3 178.4h0M580.0 165.3h0M580.8 148.5h0M556.7 158.3h0M571.1 155.3h0M558.1 160.7h0M559.6 152.4h0M557.3 161.7h0M581.9 150.9h0M580.8 150.6h0M562.1 155.2h0" stroke="#e8303c" stroke-width="1.5" stroke-linecap="round" fill="none"/>
<rect x="548.50" y="125.40" width="65.90" height="64.20" fill="none" stroke="#cfcfcf" stroke-width="1"/>
<path d="M637.8 142.2h0M640.1 144.3h0M648.2 132.7h0M649.7 128.3h0M657.9 141.3h0M647.9 129.7h0M639.4 147.0h0M645.5 140.5h0M657.0 132.1h0M652.9 143.9h0M637.6 137.6h0M644.2 135.8h0M645.9 138.0h0M638.9 140.7h0M637.8 132.6h0M643.1 141.1h0M654.1 134.7h0M645.8 149.4h0M657.0 138.8h0M654.6 138.0h0M640.5 134.1h0M637.7 133.6h0M653.7 140.1h0M648.5 143.8h0M657.0 144.5h0M645.7 139.9h0M648.2 133.4h0M653.2 149.0h0M650.6 146.2h0M645.1 148.7h0M650.7 130.0h0M647.4 132.7h0M643.8 143.2h0M653.1 145.6h0M636.3 145.6h0M640.7 143.2h0M644.9 133.9h0M647.7 139.6h0M649.8 136.8h0M641.3 142.9h0M654.0 137.3h0M650.3 137.2h0M645.5 132.7h0M641.1 142.0h0M645.4 133.2h0M651.5 149.5h0M648.1 142.6h0M649.9 143.1h0M652.6 144.4h0M645.2 139.4h0M642.0 134.6h0M648.1 130.9h0M655.2 139.0h0M652.1 132.9h0M652.7 133.0h0M641.5 147.3h0M639.2 141.5h0M657.9 138.3h0M641.0 131.7h0M659.7 143.3h0M634.9 140.5h0M635.0 134.8h0M644.2 129.0h0M648.4 129.2h0M649.1 131.0h0M636.0 141.2h0M653.9 144.7h0M655.0 140.4h0M655.1 135.7h0M642.2 141.3h0M635.6 138.4h0M634.6 137.5h0M657.7 140.1h0M654.6 139.8h0M643.0 139.0h0M653.6 139.7h0M655.1 147.2h0M652.9 147.3h0M642.4 140.3h0M652.0 130.6h0M658.3 132.0h0M655.1 143.5h0M636.7 137.3h0M655.7 135.6h0M646.4 140.6h0M659.3 138.5h0M636.3 133.2h0M654.1 143.8h0M644.8 135.9h0M649.7 138.0h0M649.5 144.2h0M649.2 139.2h0M639.1 131.0h0M645.8 129.6h0M646.4 138.4h0M650.7 142.0h0M644.3 131.6h0M657.0 147.7h0M651.1 130.1h0M652.2 134.5h0M647.5 144.5h0M642.6 142.3h0M653.6 137.8h0M652.4 141.0h0M650.4 142.2h0M653.1 141.9h0M641.1 145.2h0M645.2 131.8h0M637.1 139.6h0M642.8 135.0h0M637.9 129.7h0M639.5 129.8h0M645.1 145.6h0M648.4 130.3h0M635.4 131.3h0M648.5 142.3h0M641.6 149.0h0M636.0 137.7h0M649.7 131.3h0M653.4 139.9h0M650.5 143.0h0M636.1 134.2h0M655.4 144.8h0M636.5 142.4h0M642.9 147.3h0M650.0 137.7h0M639.1 139.1h0M645.8 131.9h0M656.7 134.4h0M651.2 136.5h0M642.8 132.8h0M651.6 139.6h0M651.1 142.9h0M658.0 132.9h0M644.5 150.0h0M650.5 134.8h0M650.6 142.6h0M658.6 145.7h0M653.7 138.7h0M645.3 142.7h0M644.6 130.4h0M647.1 144.8h0M636.8 139.6h0M651.9 137.4h0M636.7 133.8h0M650.1 132.9h0M638.3 134.8h0M650.5 147.1h0M638.5 135.3h0M654.4 130.8h0M656.2 146.1h0M639.7 133.0h0M656.6 143.6h0M641.1 134.8h0M646.4 142.4h0M658.4 148.5h0M647.4 148.6h0M637.2 145.2h0M641.5 129.7h0M648.6 135.0h0M646.0 144.8h0M655.8 133.1h0M638.1 137.1h0M644.1 140.1h0M639.1 133.3h0M654.9 142.4h0M651.2 133.6h0M647.0 143.0h0M642.0 142.3h0M653.2 132.5h0M648.1 134.5h0M651.5 141.9h0M647.3 142.9h0M639.3 137.6h0M651.6 132.4h0M642.9 129.6h0M659.2 140.8h0M650.3 147.7h0M643.7 135.1h0M652.1 149.4h0M643.1 146.6h0M638.4 139.6h0M657.1 137.3h0M638.9 135.5h0M638.5 139.9h0M644.1 150.0h0M639.6 139.2h0M642.1 130.7h0M648.3 145.3h0M653.3 134.3h0M647.3 133.7h0M641.6 130.3h0M656.7 143.5h0M646.2 142.3h0M652.2 133.4h0M655.4 135.2h0M653.6 137.5h0M643.7 144.4h0M646.4 149.3h0M652.4 147.5h0M642.7 133.8h0M638.2 139.4h0M651.6 139.1h0M647.0 147.2h0M657.3 135.9h0M647.2 137.3h0M639.5 130.9h0M649.8 139.8h0M636.3 142.7h0M658.7 142.3h0M646.5 136.6h0M647.6 142.2h0M648.2 141.7h0M652.3 147.5h0M653.6 133.8h0M650.4 131.3h0M655.1 135.9h0M652.6 144.2h0M646.6 145.9h0M650.8 147.6h0M638.7 131.0h0M651.5 149.5h0M647.1 132.9h0M651.4 143.9h0M652.3 131.3h0M642.9 147.3h0M644.9 149.6h0M640.2 147.2h0M643.5 139.3h0M647.3 141.3h0M651.2 134.5h0M650.2 139.8h0M650.4 137.3h0M647.5 136.8h0M658.0 139.2h0M645.9 133.1h0M647.1 142.8h0M653.8 136.2h0M644.2 143.1h0M648.1 148.1h0M646.8 141.3h0M657.6 144.0h0M647.2 149.8h0M647.8 145.6h0M644.3 141.6h0M635.3 142.1h0M637.7 145.6h0M635.4 130.3h0M635.1 141.8h0M647.8 142.0h0M655.7 146.4h0M651.2 134.4h0M651.9 141.3h0M636.1 131.9h0M652.2 132.9h0M640.2 142.7h0M651.9 138.2h0M655.1 134.3h0M642.4 136.6h0M656.9 135.2h0M649.5 136.1h0M651.0 146.3h0M637.2 136.4h0M650.5 138.0h0M649.7 130.5h0M645.1 134.2h0M643.0 140.9h0M646.6 129.5h0M653.3 137.6h0M641.7 140.7h0M649.3 141.1h0M658.7 138.0h0M655.7 134.5h0M651.9 143.2h0M636.3 138.6h0M648.4 140.9h0M639.1 144.5h0M645.3 140.6h0M655.1 132.8h0M638.8 131.1h0M642.5 143.1h0M645.6 127.5h0M644.2 146.2h0M641.6 132.5h0M650.0 145.3h0M651.0 136.1h0M638.1 142.1h0M639.1 134.2h0M638.4 132.5h0M651.9 143.6h0M653.8 147.2h0M637.3 139.6h0M634.4 139.1h0M652.4 137.2h0M645.2 136.8h0M656.3 140.9h0M649.7 130.1h0M652.9 136.0h0M647.7 136.5h0M648.1 137.1h0M636.3 138.5h0M654.7 145.6h0M647.3 133.2h0M640.9 147.0h0M641.0 145.1h0M650.6 147.4h0M642.2 142.1h0M649.7 146.0h0M640.0 135.2h0M638.3 133.7h0M654.2 133.5h0M650.7 148.2h0M650.4 145.2h0M646.2 145.7h0M657.4 146.6h0M643.3 129.5h0M635.8 134.2h0M642.9 129.7h0M645.2 148.5h0M650.9 144.5h0M648.9 129.7h0M646.9 146.6h0M655.4 140.9h0M637.6 138.8h0M642.4 139.1h0M653.1 131.2h0M646.9 130.9h0M658.4 134.1h0M651.3 148.2h0M656.7 132.9h0M648.6 150.0h0M638.5 131.1h0M636.2 130.6h0M657.0 145.8h0M652.7 129.7h0M648.3 146.6h0M635.1 145.1h0M639.0 135.8h0M639.0 141.7h0M642.9 131.1h0M642.9 149.5h0M655.1 147.2h0M644.6 129.9h0M639.9 134.8h0M652.0 148.8h0M649.7 141.5h0M654.3 130.4h0M643.1 148.0h0M656.3 140.2h0M649.5 130.7h0M658.6 141.6h0M648.6 148.5h0M645.4 138.9h0M657.3 140.9h0M651.4 131.3h0M650.1 129.1h0M640.0 142.2h0M660.2 139.5h0M656.1 146.1h0M655.7 138.2h0M655.5 146.9h0M639.0 136.6h0M647.9 131.3h0M645.0 146.6h0M653.2 144.6h0M640.7 134.4h0M641.5 128.6h0M652.1 129.2h0M648.9 140.9h0M653.3 130.3h0M639.5 140.6h0M644.3 143.3h0M641.9 138.6h0M647.0 134.0h0M640.6 132.0h0M640.1 130.5h0M658.9 140.5h0M643.4 143.4h0M636.7 130.7h0M647.0 143.4h0M657.8 139.7h0M640.5 130.5h0M635.2 139.8h0M649.4 131.9h0M640.4 135.0h0M651.2 131.8h0M648.6 142.3h0M652.9 140.7h0M641.5 132.0h0M647.3 141.7h0M640.4 135.5h0M654.2 131.8h0M651.2 134.0h0M654.5 134.5h0M655.8 140.4h0M645.1 128.6h0M637.1 133.0h0M644.8 141.1h0M641.2 145.8h0M649.0 134.3h0M636.8 136.3h0M655.0 146.6h0M642.5 133.9h0M639.4 138.7h0M646.3 130.2h0M646.5 128.9h0M633.9 143.8h0M650.7 136.6h0M653.0 133.8h0M660.8 142.9h0M637.0 131.6h0M646.8 147.1h0M641.1 145.9h0M636.5 140.6h0M644.0 148.7h0M654.1 134.7h0M650.3 137.7h0M648.2 137.0h0M658.9 140.5h0M637.7 138.7h0M647.0 128.7h0M639.9 142.0h0M649.9 127.4h0M651.5 134.9h0M636.4 142.6h0M636.6 141.3h0M636.7 138.8h0M636.9 132.2h0M656.2 144.2h0M650.9 146.2h0M652.6 133.3h0M638.7 133.7h0M655.5 145.5h0M658.3 139.5h0M642.4 130.5h0M650.8 134.2h0M651.4 135.4h0M646.7 145.2h0M642.4 135.4h0M644.8 134.0h0M654.8 148.0h0M654.0 142.3h0M658.7 139.9h0M643.4 129.5h0M641.9 135.0h0M647.6 141.4h0M646.9 141.6h0M645.6 147.0h0M649.0 146.1h0M648.1 139.0h0M648.1 143.3h0M655.0 138.8h0M648.5 142.3h0M644.1 144.7h0M649.5 142.4h0M645.8 129.0h0M636.7 132.4h0M656.8 133.3h0M637.1 131.5h0M651.1 139.2h0M652.2 145.8h0M636.9 137.7h0M642.6 134.6h0M645.6 133.1h0M644.4 132.3h0M655.6 147.9h0M652.7 135.3h0M648.7 141.4h0M640.9 143.7h0M651.6 148.7h0M653.5 131.8h0M650.9 142.3h0M645.7 145.5h0M653.4 147.6h0M649.3 145.2h0M635.8 131.6h0M654.3 143.1h0M645.7 146.0h0M643.5 146.1h0M658.1 142.5h0M645.7 145.2h0M637.1 141.3h0M640.1 139.8h0M649.8 138.7h0M646.9 127.1h0M645.0 141.2h0M650.1 145.8h0M636.5 135.2h0M637.9 140.8h0M642.4 138.4h0M654.0 137.1h0M635.4 142.5h0M652.8 140.1h0M648.6 135.0h0M654.5 136.3h0M658.7 142.7h0M653.7 146.0h0M654.7 137.1h0M651.4 133.4h0M649.4 137.5h0M657.7 144.5h0M639.4 138.8h0M651.4 137.4h0M647.9 141.7h0M650.7 133.1h0M658.5 142.7h0M650.3 133.5h0M642.0 138.4h0M654.9 131.1h0M646.5 145.5h0M649.7 131.8h0M637.7 131.1h0M654.6 131.9h0M640.1 146.6h0M652.3 147.8h0M637.7 138.8h0M643.3 128.9h0M653.6 144.9h0M648.2 141.8h0M642.3 139.2h0M658.3 157.0h0M639.6 170.8h0M658.1 164.9h0M658.8 168.5h0M641.9 146.6h0M636.5 157.8h0M646.7 175.0h0M642.4 156.6h0M627.5 161.1h0M629.2 158.5h0M634.2 149.2h0M643.4 162.9h0M656.4 151.5h0M629.1 158.0h0M634.1 152.9h0M647.0 181.8h0M661.6 167.1h0M657.2 156.4h0M627.8 161.4h0M637.6 160.7h0M623.1 163.0h0M656.3 157.0h0M647.8 171.1h0M637.4 180.2h0M644.8 178.1h0M635.0 173.9h0M650.8 162.9h0M655.8 179.7h0M657.0 162.7h0M644.8 145.8h0M658.1 172.0h0M646.5 158.4h0M649.3 169.1h0M632.7 160.2h0M635.5 151.8h0M627.5 156.2h0M657.1 169.0h0M631.3 154.6h0M634.1 169.7h0M645.2 160.1h0M630.9 151.2h0M651.2 156.5h0M657.6 170.7h0M653.1 153.7h0M635.8 177.9h0M640.3 142.6h0M651.6 167.0h0M625.4 160.2h0M647.5 175.8h0M643.2 154.6h0M655.0 171.1h0M622.9 153.7h0M645.7 181.1h0M655.7 156.3h0M622.2 152.2h0M640.5 179.0h0M654.7 159.6h0M660.0 152.7h0M630.1 147.3h0M642.8 174.5h0M638.3 152.1h0M659.8 174.5h0M637.1 149.1h0M662.0 170.4h0M628.6 162.9h0M636.3 176.9h0M629.6 161.9h0M633.1 160.2h0M651.8 160.8h0M629.7 158.2h0M632.8 172.2h0M644.4 168.1h0M634.8 153.9h0M636.8 158.3h0M659.7 153.7h0M631.8 143.5h0M657.9 163.4h0M654.0 182.1h0M644.3 164.2h0M658.8 153.6h0M645.6 173.8h0M648.9 147.0h0M625.7 159.2h0M657.1 173.0h0M624.5 155.8h0M643.8 179.5h0M654.1 159.0h0M634.1 170.3h0M633.5 145.0h0M643.5 153.9h0M632.0 147.5h0M641.4 166.9h0M654.8 157.6h0M660.8 164.8h0M632.9 159.6h0M635.1 170.0h0M642.5 174.0h0M624.2 148.7h0M656.2 153.2h0M632.9 164.3h0M659.2 160.5h0M630.2 155.3h0M635.8 157.1h0M644.2 162.5h0M636.0 144.4h0M649.0 172.7h0M655.3 168.8h0M655.0 160.7h0M649.2 183.1h0M650.1 169.3h0M649.7 176.5h0M651.3 149.4h0M657.7 180.7h0M632.2 146.8h0M627.4 155.5h0M634.7 165.4h0M655.4 177.1h0M628.9 164.0h0M629.8 168.0h0M647.3 178.0h0M651.3 151.1h0M639.1 146.0h0M655.3 183.4h0M641.3 147.9h0M661.7 155.9h0M651.7 177.3h0M632.7 152.7h0M659.1 162.9h0M650.8 160.7h0M654.6 165.0h0M633.4 153.1h0M637.8 167.1h0M639.3 143.9h0M659.7 174.0h0M624.6 153.5h0M657.7 162.0h0M641.3 143.2h0M658.8 170.2h0M654.7 175.9h0M635.8 161.4h0M648.6 170.0h0M630.8 154.5h0M635.4 145.2h0M631.8 158.8h0M648.0 156.5h0M628.0 149.7h0M633.8 147.5h0M650.2 153.4h0M631.4 147.6h0M643.7 173.9h0M637.7 169.1h0M652.3 178.8h0M638.3 179.4h0M632.5 154.0h0M627.4 164.0h0M650.6 152.2h0M628.8 144.6h0M636.1 157.7h0M646.8 148.3h0M639.8 164.2h0M635.7 159.6h0M634.2 173.2h0M661.3 158.0h0M642.8 182.4h0M638.0 148.7h0M635.4 174.1h0M641.8 161.7h0M631.6 150.7h0M651.8 175.8h0M641.8 159.0h0M635.7 172.9h0M642.0 165.7h0M638.7 165.9h0M656.5 176.7h0M642.2 153.8h0M651.5 154.7h0M651.3 164.4h0M655.4 152.4h0M653.8 166.5h0M624.1 160.5h0M650.3 164.2h0M643.7 166.3h0M653.3 184.2h0M663.4 164.4h0M629.5 144.1h0M654.5 179.5h0M642.7 146.9h0M650.7 173.9h0M648.2 181.1h0M661.9 169.8h0M634.2 144.8h0M659.6 180.3h0M643.4 176.0h0M633.0 144.9h0M648.9 165.7h0M641.4 155.2h0M639.3 164.4h0M654.7 155.4h0M657.5 168.9h0M652.5 154.0h0M657.4 158.6h0M632.4 153.9h0M663.1 178.0h0M628.3 150.5h0M635.2 159.7h0M649.9 159.9h0M649.7 167.0h0M631.6 144.6h0M653.5 181.0h0M658.0 172.2h0M653.8 183.5h0M631.5 169.1h0M628.3 157.0h0M654.3 184.8h0M644.1 176.1h0M638.3 180.3h0M625.7 149.7h0M659.9 181.9h0M649.4 183.4h0M631.8 154.8h0M653.3 159.9h0M634.7 153.2h0M659.7 169.5h0M635.5 161.0h0M646.6 166.0h0M644.4 161.4h0M645.8 165.9h0M629.3 160.7h0M645.6 168.5h0M654.0 158.7h0M638.7 173.0h0M659.0 168.1h0M648.5 157.9h0M649.2 180.2h0M647.0 164.7h0M640.1 165.6h0M652.0 177.6h0M661.3 170.4h0M656.2 169.0h0M661.4 162.8h0M639.2 171.4h0M637.6 151.4h0M643.0 144.3h0M629.0 159.3h0M658.3 150.8h0M641.2 179.0h0M628.0 151.1h0M650.6 149.3h0M636.9 153.0h0M661.8 159.4h0M622.0 152.8h0M642.2 180.0h0M649.6 175.7h0M652.5 183.6h0M628.3 166.8h0M626.9 152.8h0M629.5 143.2h0M648.0 148.3h0M632.9 143.3h0M637.5 179.3h0M660.6 159.7h0M632.6 161.8h0M644.0 174.1h0M634.2 173.8h0M655.8 154.1h0M635.2 152.9h0M650.3 153.1h0M631.5 158.2h0M628.4 161.8h0M645.4 177.4h0M649.5 157.5h0M659.2 178.7h0M623.4 149.5h0M647.3 157.8h0M632.1 149.0h0M637.6 178.7h0M633.2 147.7h0M635.6 177.5h0M646.2 165.9h0M635.1 151.0h0M655.3 155.0h0M642.8 173.9h0M655.1 157.1h0M655.0 177.5h0M624.1 154.7h0M636.4 155.1h0M658.1 163.4h0M631.2 151.3h0M649.5 169.5h0M661.1 163.4h0M648.9 156.4h0M643.4 160.5h0M655.7 171.6h0M645.4 175.5h0M633.5 157.2h0M642.4 176.3h0M658.0 153.2h0M639.3 172.7h0M638.5 146.0h0M643.7 144.0h0M637.5 181.6h0M621.5 149.3h0M633.6 145.1h0M643.9 164.5h0M632.0 156.7h0M633.7 145.8h0M625.1 147.2h0M636.2 166.6h0M642.8 147.3h0M643.3 175.5h0M655.3 165.0h0M626.2 153.1h0M642.6 153.9h0M620.8 154.7h0M654.2 173.8h0M626.0 154.0h0M659.3 177.9h0M654.6 175.3h0M654.1 161.3h0M637.7 178.4h0M655.3 171.0h0M644.9 157.7h0M634.1 173.5h0M638.2 167.8h0M652.7 170.8h0M658.9 163.0h0M635.0 143.4h0M651.1 184.8h0M659.7 168.8h0M635.0 143.7h0M645.9 161.4h0M650.6 153.5h0M639.8 171.1h0M631.2 167.3h0M639.3 155.5h0M652.7 172.3h0M625.0 154.7h0M647.0 183.0h0M639.5 175.0h0M640.3 164.3h0M644.1 150.5h0M636.3 154.5h0M644.2 179.5h0M629.7 166.2h0M640.1 179.6h0M657.3 163.7h0M660.1 173.2h0M638.3 155.0h0M651.7 179.5h0M635.2 149.8h0M632.9 168.4h0M659.5 174.2h0M647.7 185.8h0M625.7 165.3h0M639.0 145.4h0M635.5 156.2h0M656.4 156.5h0M653.0 152.0h0M647.1 169.7h0M649.7 161.5h0M637.6 162.0h0M641.1 164.4h0M626.8 150.0h0M659.4 152.6h0M642.5 178.8h0M662.4 172.5h0M635.1 149.5h0M652.2 167.6h0M639.3 180.3h0M658.4 153.2h0M654.3 176.7h0M658.3 171.6h0M632.8 170.5h0M643.4 154.1h0M633.7 172.1h0M638.0 144.2h0M648.5 153.0h0M648.7 181.9h0M622.9 155.6h0M646.2 175.1h0M631.4 169.1h0M635.6 157.8h0M635.6 165.2h0M633.9 145.5h0M624.3 162.4h0M651.5 153.2h0M640.8 155.7h0M662.1 173.6h0M636.7 147.3h0M640.3 166.7h0M658.0 170.8h0M633.9 145.8h0M656.3 182.9h0M645.5 155.2h0M628.9 165.1h0M654.8 171.6h0M646.9 170.3h0M649.7 174.8h0M631.0 149.9h0M625.3 147.3h0M646.9 164.0h0M628.3 152.0h0M647.9 162.5h0M632.1 160.5h0M634.5 161.2h0M649.7 152.7h0M651.7 181.4h0M645.8 176.0h0M634.9 175.7h0M644.7 164.8h0M657.2 169.6h0M633.9 154.5h0M663.4 177.4h0M636.0 165.8h0M639.2 143.7h0M626.5 164.8h0M639.7 162.9h0M629.4 165.7h0M663.2 173.9h0M656.5 180.8h0M629.0 164.3h0M634.6 172.4h0M630.7 147.1h0M641.0 169.6h0M648.5 185.1h0M627.2 161.3h0M638.3 165.4h0M641.1 160.2h0M651.2 156.2h0M637.4 179.0h0M631.8 150.4h0M638.6 149.6h0M625.8 160.7h0M639.3 167.1h0M638.2 145.8h0M642.7 149.1h0M647.0 176.7h0M655.4 175.0h0M645.3 147.7h0M627.0 165.9h0M635.8 145.0h0M638.3 156.6h0M659.5 178.5h0M635.7 153.4h0M642.6 179.5h0M638.7 166.4h0M639.6 175.0h0M626.6 149.7h0M648.6 148.8h0M657.9 151.8h0M652.7 182.5h0M660.2 160.8h0M628.6 157.4h0M640.9 167.4h0M647.9 175.9h0M638.5 177.9h0M636.3 166.7h0M638.8 145.4h0M653.6 163.1h0M652.0 170.9h0M650.1 157.9h0M659.8 158.3h0M646.1 169.3h0M630.8 149.3h0M630.9 148.8h0M658.4 178.9h0M660.6 172.3h0M646.3 156.3h0M645.5 181.4h0M641.4 169.2h0M661.5 178.4h0M625.9 157.4h0M627.3 156.7h0M627.0 163.5h0M653.2 149.2h0M638.0 163.6h0M658.1 172.5h0M643.4 149.6h0M646.8 180.4h0M642.5 162.2h0M640.2 165.0h0M628.2 162.6h0M644.5 159.5h0M639.7 148.0h0M644.6 162.9h0M624.6 151.3h0M644.9 149.7h0M639.6 159.1h0M653.4 174.9h0M654.2 177.6h0M648.8 180.5h0M631.5 163.9h0M647.1 179.4h0M643.6 164.9h0M623.1 149.8h0M656.9 179.6h0M637.4 147.3h0M655.7 162.7h0M643.7 154.7h0M640.0 155.3h0M639.3 177.1h0M632.5 171.4h0M654.7 150.2h0M644.8 161.4h0M637.9 163.6h0M647.2 152.0h0M629.6 152.8h0M650.0 155.5h0M660.0 174.4h0M641.0 177.0h0M647.4 150.8h0M644.4 146.4h0M619.9 154.3h0M624.4 156.9h0M649.2 176.9h0M628.3 155.9h0M642.2 147.0h0M635.9 144.0h0M661.9 168.3h0M640.8 160.6h0M646.4 154.2h0M656.6 181.6h0M658.9 159.1h0M658.9 170.4h0M654.7 161.3h0M623.5 154.1h0M661.5 157.7h0M652.2 172.1h0M635.5 171.2h0M622.5 157.8h0M633.1 166.8h0M650.6 181.4h0M652.0 149.1h0M649.8 163.7h0M654.7 180.1h0M655.9 173.1h0M657.0 154.9h0M639.3 164.2h0M657.5 180.9h0M660.1 157.1h0M655.2 167.3h0M642.8 157.6h0M658.2 174.7h0M646.4 169.8h0M651.2 154.6h0M658.3 171.5h0M648.1 174.1h0M638.9 165.6h0M645.4 170.6h0M655.9 171.4h0M655.1 154.5h0M626.6 159.2h0M633.5 173.6h0M657.0 159.5h0M654.6 177.1h0M653.7 160.3h0M651.0 181.4h0M636.5 156.9h0M642.6 174.0h0M663.2 171.9h0M640.4 162.1h0M626.4 162.9h0M657.1 150.3h0M631.6 160.2h0M632.4 154.3h0M648.6 175.7h0M648.6 179.5h0M642.2 165.8h0M622.5 158.3h0M657.2 181.1h0M663.5 174.0h0M649.3 157.3h0M626.4 165.4h0M632.4 152.1h0M627.8 161.8h0M640.4 158.3h0M629.5 156.7h0M652.8 153.3h0M649.3 175.4h0M638.5 175.7h0M655.6 179.4h0M662.1 168.3h0M659.9 165.0h0M642.7 144.3h0M645.8 149.0h0M643.5 168.5h0M657.8 176.1h0M638.3 153.6h0M637.0 173.6h0M637.2 154.8h0M649.7 154.5h0M644.4 154.4h0M640.1 143.9h0M632.0 146.8h0M636.1 156.9h0M635.2 173.3h0M634.1 148.8h0M648.5 158.3h0M641.4 172.8h0M644.0 144.0h0M637.8 176.8h0M636.7 162.8h0M646.9 169.9h0M642.6 178.7h0M660.5 159.1h0M656.9 171.3h0M637.7 159.3h0M647.1 181.3h0M656.7 165.5h0M630.0 160.7h0M633.0 155.3h0M641.0 152.3h0M654.0 158.7h0M644.8 162.1h0M630.3 145.8h0M663.7 171.2h0M641.2 177.9h0M652.0 150.1h0M651.6 154.6h0M640.4 161.8h0M658.3 154.5h0M650.3 154.1h0M648.1 168.9h0M646.7 172.5h0M637.1 144.1h0M621.7 154.2h0M625.7 161.8h0M663.0 165.0h0M653.2 177.4h0M646.8 165.4h0M646.6 160.6h0M642.7 152.8h0M620.7 151.1h0M633.8 151.7h0M654.4 160.4h0M632.9 143.7h0M650.4 160.2h0M637.5 163.0h0M650.7 168.8h0M635.3 154.8h0M647.4 162.9h0M640.3 174.9h0M652.0 150.0h0M645.3 175.9h0M643.7 169.6h0M658.5 158.2h0M634.5 159.7h0M648.5 182.9h0M640.1 154.6h0M643.0 170.8h0M632.6 144.0h0M644.1 154.4h0M650.8 149.9h0M637.8 178.4h0M648.4 157.8h0M649.9 158.8h0M650.7 179.7h0M639.7 143.9h0M645.1 165.4h0M623.3 151.4h0M640.3 144.7h0M632.1 168.2h0M637.5 158.5h0M654.8 172.5h0M655.8 168.4h0M642.1 162.7h0M633.9 168.3h0M635.6 148.9h0M654.1 149.9h0M654.1 153.4h0M655.7 164.9h0M639.6 158.5h0M634.8 177.9h0M661.8 156.5h0M653.8 185.0h0M658.3 159.0h0M646.1 179.6h0M660.5 168.7h0M636.1 158.1h0M635.7 174.8h0M636.8 177.4h0M632.2 163.6h0M626.2 149.2h0M651.2 153.9h0M646.7 173.4h0M630.7 153.0h0M624.4 150.1h0M633.6 145.9h0M646.9 155.1h0M659.0 178.5h0M662.2 169.3h0M623.0 155.5h0M628.1 147.8h0M641.6 169.9h0M640.3 164.9h0M633.3 166.3h0M637.8 148.5h0M625.4 152.2h0M636.1 156.3h0M643.9 175.4h0M638.4 145.0h0M647.6 154.5h0M641.7 175.3h0M652.6 180.0h0M648.7 172.4h0M662.6 164.9h0M631.6 168.1h0M632.1 158.0h0M637.1 161.2h0M653.6 162.3h0M659.8 160.1h0M653.0 172.2h0M628.5 154.5h0M658.7 163.0h0M653.2 150.2h0M658.3 181.0h0M634.1 147.7h0M642.3 152.5h0M644.1 166.6h0M641.4 150.5h0M648.6 165.1h0M638.6 144.4h0M631.0 159.0h0M630.2 154.0h0M647.1 161.2h0M645.8 160.5h0M636.9 144.4h0M636.4 173.7h0M657.5 169.9h0M643.0 150.7h0M627.6 156.7h0M650.6 153.6h0M649.2 180.7h0M648.7 181.7h0M660.4 162.2h0M642.9 175.4h0M637.3 161.6h0M644.5 166.1h0M636.1 144.7h0M644.2 173.8h0M649.7 151.2h0M649.4 168.3h0M649.1 163.0h0M634.1 175.0h0M641.7 145.7h0M650.5 158.5h0M647.4 180.5h0M650.7 170.6h0M633.1 161.3h0M627.3 151.5h0M638.7 164.0h0M650.4 162.2h0M640.8 145.8h0M646.1 147.3h0M659.6 174.5h0M650.7 149.6h0M652.8 179.7h0M630.7 145.9h0M652.6 176.9h0M630.6 152.2h0M655.5 174.9h0M631.6 151.8h0M646.2 149.0h0M649.6 170.9h0M655.3 166.3h0M641.2 182.6h0M627.4 149.3h0M646.0 159.2h0M622.9 159.2h0M627.2 154.9h0M634.9 155.7h0M627.9 164.2h0M647.6 152.3h0M645.3 166.8h0M649.0 163.2h0M639.3 144.2h0M638.0 152.3h0M629.3 157.0h0M650.2 150.7h0M645.4 172.5h0M648.5 183.5h0M643.4 165.9h0M660.2 171.2h0M630.4 143.5h0M629.5 165.9h0M649.0 158.5h0M639.3 160.2h0M637.1 161.9h0M648.2 148.9h0M645.4 155.3h0M638.7 156.1h0M644.8 153.9h0M660.7 167.0h0M650.2 183.2h0M625.5 160.9h0M630.3 164.2h0M641.0 155.0h0M625.0 154.9h0M654.8 181.2h0M659.9 161.7h0M640.9 173.6h0M641.6 153.3h0M662.0 163.9h0M637.2 174.7h0M639.3 176.7h0M655.5 167.8h0M658.0 173.3h0M645.0 158.0h0M654.3 176.7h0M650.0 160.6h0M641.2 167.8h0M650.4 170.4h0M649.9 164.1h0M630.6 170.4h0M649.4 157.9h0M629.1 155.5h0M650.5 165.6h0M646.7 178.4h0M639.7 143.9h0M640.3 158.5h0M655.9 171.0h0M652.4 176.9h0M622.5 157.7h0M646.1 146.5h0M651.8 175.6h0M635.0 174.2h0M632.7 167.3h0M648.3 151.1h0M657.6 177.5h0M659.9 170.4h0M647.9 172.7h0M638.3 175.1h0M652.4 159.9h0M632.9 151.2h0M651.4 156.4h0M648.0 168.4h0M649.5 167.1h0M657.6 171.7h0M634.8 163.6h0M630.1 154.2h0M630.9 155.6h0M646.6 152.3h0M654.0 158.6h0M636.3 177.4h0M653.9 165.9h0M640.3 160.7h0M645.4 155.5h0M657.7 180.4h0M629.5 148.4h0M641.1 143.2h0M633.0 166.2h0M621.3 151.8h0M654.9 150.8h0M654.2 173.9h0M648.0 144.4h0M640.1 150.3h0M622.5 153.8h0M628.8 161.8h0M632.6 144.5h0M637.8 147.0h0M641.8 161.9h0M639.5 160.3h0M654.4 178.5h0M636.2 142.4h0M637.1 166.6h0M634.2 149.1h0M649.9 156.2h0M636.7 144.0h0M645.0 161.7h0M644.9 158.8h0M635.8 167.0h0M657.9 158.6h0M650.5 150.1h0M635.8 177.0h0M659.9 181.4h0M654.2 161.5h0M660.1 174.4h0M641.9 162.3h0M640.2 168.7h0M657.3 156.5h0M658.6 161.5h0M643.7 161.4h0M635.7 171.1h0M627.2 147.0h0M624.9 152.1h0M639.0 180.1h0M644.3 159.9h0M661.7 178.9h0M639.1 173.4h0M643.0 168.6h0M635.2 156.5h0M655.0 166.9h0M626.8 150.8h0M635.2 164.9h0M634.7 173.2h0M656.0 177.6h0M661.2 168.8h0M660.6 165.0h0M649.7 158.8h0M638.1 171.7h0M630.3 147.1h0M639.1 159.3h0M649.9 155.2h0M660.2 154.1h0M650.9 154.3h0M626.4 148.1h0M653.8 166.1h0M639.4 159.6h0M647.2 172.9h0M644.5 178.6h0M651.8 163.8h0M629.1 166.5h0M626.9 144.3h0M640.0 171.0h0M643.5 153.5h0M648.9 160.8h0M644.0 152.3h0M646.0 173.6h0M643.7 170.9h0M650.3 177.3h0M623.3 145.5h0M660.4 166.5h0M657.0 166.0h0M644.9 183.9h0M658.8 176.8h0M644.0 179.2h0M662.8 174.4h0M636.9 150.3h0M656.7 156.5h0M646.5 158.5h0M660.1 169.4h0M623.2 160.5h0M634.1 167.5h0M629.9 165.1h0M625.8 146.2h0M649.7 156.4h0M646.1 170.4h0M650.8 182.8h0M657.8 155.2h0M630.0 159.0h0M640.3 169.9h0M660.3 154.5h0M639.2 157.3h0M642.5 158.8h0M638.6 157.8h0M631.6 166.1h0M650.4 160.8h0M644.0 160.3h0M631.2 160.4h0M636.7 178.3h0M650.1 181.2h0M650.6 154.0h0M663.0 176.1h0M649.6 184.9h0M632.4 166.4h0M633.3 147.8h0M635.4 173.8h0M644.0 154.8h0M659.4 166.6h0M627.8 144.7h0M627.7 151.4h0M660.1 155.7h0M653.1 181.8h0M651.4 169.7h0M645.8 183.2h0M658.2 155.5h0M631.8 143.3h0M634.1 156.4h0M662.2 166.0h0M655.9 176.1h0M638.4 162.7h0M641.5 151.7h0M650.6 178.9h0M659.2 167.0h0M631.8 166.3h0M644.3 173.0h0M648.2 156.4h0M636.1 166.0h0M638.0 179.1h0M633.3 154.3h0M656.4 163.3h0M645.6 174.0h0M635.1 173.8h0M657.8 158.9h0M632.1 163.6h0M640.0 162.2h0M655.0 163.6h0M651.8 179.5h0M645.5 168.3h0M643.3 173.4h0M637.8 159.2h0M661.7 168.8h0M636.5 170.8h0M658.2 170.4h0M653.1 167.4h0M656.4 165.6h0M647.5 180.4h0M652.8 155.1h0M635.3 169.9h0M640.6 166.4h0M640.2 163.9h0M631.0 159.7h0M645.1 162.7h0M651.3 175.2h0M649.5 180.8h0M629.5 150.9h0M652.4 182.9h0M648.2 183.5h0M633.0 163.9h0M652.2 165.1h0M629.6 158.6h0M645.4 154.1h0M632.1 147.9h0M629.4 162.5h0M650.0 155.3h0M657.3 174.5h0M631.4 169.2h0M630.1 158.3h0M651.4 174.2h0M646.7 163.5h0M638.6 171.2h0M630.6 156.5h0M626.4 149.3h0M631.3 162.3h0M649.8 154.9h0M639.9 172.4h0M629.0 164.3h0M644.0 156.5h0M628.3 162.1h0M642.3 154.2h0M626.9 146.1h0M643.7 162.7h0M629.8 156.0h0M653.4 174.1h0M653.0 178.9h0M626.8 152.5h0M656.6 183.2h0M658.7 178.4h0M645.8 165.9h0M634.6 170.2h0M662.2 165.0h0M630.3 160.7h0M647.1 174.7h0M638.3 143.2h0M637.9 149.7h0M657.4 176.4h0M652.5 170.5h0M621.5 155.8h0M650.0 175.7h0M642.0 151.1h0M645.0 173.7h0M655.9 156.8h0M649.0 169.5h0M632.7 145.8h0M655.8 171.0h0M650.7 147.6h0M648.9 183.6h0M653.5 156.0h0M632.1 169.1h0M645.9 152.7h0M653.5 171.5h0M628.8 164.1h0M638.1 170.8h0M634.2 165.3h0M632.7 153.3h0M634.5 165.7h0M658.1 161.0h0M650.3 153.4h0M660.7 166.5h0M646.4 184.1h0M637.7 143.1h0M636.2 179.6h0M638.7 146.9h0M631.1 145.0h0M645.1 145.9h0M657.7 156.6h0M651.8 157.9h0M656.1 164.7h0M632.7 152.0h0M633.1 169.0h0M657.4 174.5h0M648.9 184.2h0M634.4 168.6h0M658.8 174.0h0M631.2 149.4h0M642.0 153.7h0M626.2 147.9h0M636.9 147.6h0M657.0 159.5h0M638.9 170.5h0M651.1 160.9h0M622.5 151.8h0M632.2 160.7h0M660.0 180.9h0M639.4 155.7h0M623.1 153.4h0M634.4 165.2h0M646.7 148.0h0M643.5 150.2h0M630.9 166.5h0M650.2 158.0h0M641.2 175.7h0M653.2 152.3h0M651.6 181.4h0M634.9 148.4h0M622.2 153.3h0M639.9 179.2h0M626.7 158.6h0M643.5 174.0h0M651.6 184.3h0M644.8 146.7h0M650.5 168.5h0M639.0 180.4h0M657.0 154.7h0M626.2 158.7h0M661.8 169.2h0M642.5 170.0h0M647.9 175.9h0M656.8 179.9h0M626.0 146.5h0M634.6 158.8h0M649.7 153.6h0M648.9 182.7h0M643.2 146.9h0M656.7 150.1h0M662.6 167.4h0M637.0 170.3h0M624.7 150.1h0M649.9 171.8h0M633.6 152.6h0M646.0 154.1h0M637.1 172.4h0M655.3 157.6h0M627.3 150.3h0M647.2 184.3h0M661.3 163.1h0M643.0 149.3h0M644.2 182.0h0M657.3 168.5h0M662.4 168.1h0M628.4 143.5h0M658.7 165.4h0M644.3 170.3h0M652.1 165.4h0M643.2 170.9h0M641.7 173.9h0M656.0 151.1h0M651.9 163.8h0M641.0 170.5h0M637.5 157.9h0M629.2 161.3h0M629.9 165.7h0M658.7 165.8h0M655.6 156.0h0M655.1 180.3h0M660.9 156.8h0M633.9 166.0h0M636.0 149.1h0M633.7 151.1h0M629.5 144.1h0M652.3 171.6h0M654.6 154.0h0M627.8 155.7h0M661.2 169.0h0M664.7 171.4h0M628.3 155.1h0M633.7 165.9h0M641.1 177.3h0M623.2 153.2h0M640.5 146.4h0M630.9 161.2h0M652.6 151.1h0M639.9 169.7h0M653.9 173.0h0M658.0 168.0h0M651.1 165.3h0M628.8 165.5h0M656.7 170.8h0M636.5 164.3h0M658.3 173.1h0M630.5 150.8h0M643.6 152.5h0M655.2 173.8h0M655.0 156.9h0M630.0 148.9h0M641.7 174.0h0M651.9 153.7h0M652.7 150.3h0M641.2 165.8h0M647.6 180.9h0M637.6 172.3h0M649.3 184.0h0M651.3 151.3h0M629.5 155.6h0M635.3 159.6h0M651.6 157.1h0M643.9 162.3h0M637.3 146.7h0M636.7 171.1h0M630.5 144.4h0M649.3 178.6h0M638.9 180.7h0M630.6 152.6h0M626.6 151.4h0M642.9 149.2h0M650.8 182.3h0M653.0 153.6h0M627.8 150.0h0M627.1 150.9h0M644.8 173.3h0M626.2 154.2h0M632.4 149.8h0M646.3 156.9h0M635.3 159.9h0M655.8 182.6h0M656.7 181.3h0M656.9 155.8h0M652.4 172.7h0M660.8 170.6h0M645.7 168.2h0M653.4 183.7h0M644.1 146.7h0M647.3 154.0h0M634.4 174.6h0M626.2 155.4h0M639.4 154.3h0M645.9 183.8h0M635.3 169.0h0M643.1 165.0h0M658.0 156.3h0M662.0 176.9h0M653.8 164.4h0M647.7 174.6h0M625.4 151.2h0M636.7 150.8h0M655.3 153.0h0M661.6 164.8h0M655.8 151.6h0M650.9 176.3h0M629.5 154.1h0M663.9 173.0h0M643.2 157.6h0M635.7 172.0h0M635.9 149.6h0M649.1 146.7h0M623.5 150.2h0M653.8 150.6h0M631.9 155.4h0M644.3 163.2h0M655.1 169.5h0M628.5 151.2h0M653.6 178.0h0M638.9 166.0h0M664.9 165.4h0M636.5 171.3h0M641.7 180.6h0M649.1 162.9h0M625.9 157.8h0M634.6 144.1h0M638.1 164.2h0M635.0 172.9h0M635.9 165.4h0M640.8 179.3h0M638.4 175.7h0M633.8 153.8h0M633.8 155.2h0M644.1 168.2h0M641.2 165.5h0M657.9 182.7h0M641.9 181.7h0M624.1 160.3h0M634.4 146.2h0M638.3 161.8h0M623.3 149.8h0M639.0 165.8h0M628.4 167.5h0M626.5 162.1h0M658.5 172.6h0M650.7 161.0h0M644.9 162.5h0M646.0 160.2h0M624.5 162.4h0M641.3 153.5h0M642.6 149.1h0M631.1 167.1h0M648.3 174.5h0M658.7 151.0h0M652.7 180.7h0M644.4 176.5h0M624.4 152.2h0M640.7 172.5h0M635.6 156.0h0M645.1 174.4h0M659.2 174.7h0M640.5 167.4h0M652.6 174.4h0M657.3 157.8h0M641.2 145.2h0M651.9 163.5h0M635.6 154.7h0M641.8 158.0h0M639.6 168.5h0M647.8 183.9h0M653.6 157.6h0M648.2 174.2h0M624.2 154.7h0M652.8 169.3h0M641.1 145.7h0M660.6 165.0h0M635.0 159.0h0M644.9 181.4h0M643.5 170.3h0M657.6 173.9h0M635.9 155.3h0M656.8 182.8h0M646.0 152.9h0M632.4 161.3h0M639.9 165.2h0M643.9 148.6h0M652.9 186.1h0M651.2 155.0h0M629.3 151.2h0M625.6 150.1h0M645.3 168.0h0M631.1 166.2h0M657.6 169.8h0M648.7 157.2h0M632.1 169.2h0M635.9 154.1h0M631.7 152.3h0M635.4 166.5h0M632.8 169.7h0M642.9 176.4h0M631.5 148.0h0M654.4 166.0h0M662.0 166.9h0M629.8 154.8h0M623.9 158.6h0M644.3 161.7h0M631.3 149.4h0M657.2 159.7h0M631.9 144.6h0M657.3 169.3h0M639.5 179.7h0M641.3 181.1h0M648.7 180.9h0M627.4 163.7h0M658.3 169.9h0M631.8 166.8h0M625.7 163.6h0M654.0 165.0h0M622.8 160.1h0M657.7 158.4h0M638.2 168.2h0M661.7 176.7h0M652.3 157.8h0M624.2 148.8h0M659.0 170.6h0M630.8 147.9h0M645.8 163.5h0M635.6 163.4h0M649.2 163.9h0M644.5 181.9h0M636.9 169.9h0M625.3 149.3h0M657.1 167.4h0M638.9 167.5h0M630.5 148.0h0M636.2 164.9h0M641.1 157.6h0M631.1 155.4h0M646.3 168.8h0M641.8 148.5h0M644.8 178.4h0M655.0 150.4h0M653.9 168.7h0M652.4 167.3h0M640.7 151.0h0M632.2 148.1h0M650.1 170.8h0M653.6 176.5h0M650.0 179.7h0M657.6 182.1h0M641.3 173.0h0M658.8 161.2h0M631.6 155.4h0M652.9 165.7h0M639.6 147.1h0M651.6 180.1h0M652.0 149.6h0M643.7 176.5h0M650.4 169.0h0M646.7 175.7h0M659.9 166.4h0M653.3 173.9h0M661.2 161.6h0M634.9 164.6h0M626.2 160.2h0M654.8 184.6h0M634.2 168.5h0M662.5 168.5h0M648.6 185.3h0M660.3 173.9h0M650.4 151.3h0M639.8 163.5h0M637.2 174.7h0M644.3 162.0h0M637.4 154.0h0M650.7 158.5h0M640.2 163.6h0M626.7 150.9h0M630.1 167.4h0M640.2 146.9h0M625.3 152.3h0M625.7 160.7h0M646.4 147.5h0M636.1 158.2h0M651.8 175.7h0M632.9 143.8h0M636.7 148.1h0M638.3 149.6h0M646.9 182.5h0M636.4 146.4h0M641.8 170.0h0M628.1 168.4h0M649.1 149.7h0M630.5 149.8h0M634.9 162.5h0M629.5 163.2h0M642.5 160.2h0M663.3 168.9h0M647.0 177.3h0M661.9 166.0h0M622.5 147.8h0M638.3 147.5h0M640.9 165.2h0M641.7 162.8h0M647.2 158.7h0M635.1 148.3h0M650.9 151.3h0M629.0 145.5h0M623.9 156.3h0M650.0 162.9h0M648.1 167.7h0M641.0 152.0h0M656.8 174.1h0M649.3 156.5h0M625.6 152.3h0M661.7 161.1h0M641.2 162.2h0M654.2 154.7h0M658.6 177.3h0M639.6 147.4h0M630.6 167.8h0M630.1 149.4h0M660.2 164.1h0M644.3 175.3h0M628.3 161.1h0M654.9 178.3h0M660.1 167.3h0M640.6 165.8h0M642.9 166.6h0M658.5 158.4h0M653.5 166.6h0M653.2 164.2h0M647.6 147.7h0M637.1 144.3h0M629.8 166.8h0M650.2 182.4h0M646.9 172.1h0M651.4 159.6h0M649.1 159.5h0M652.4 156.3h0M655.2 151.6h0M646.1 172.6h0M646.1 158.1h0M637.1 174.1h0M653.6 149.2h0M652.6 167.4h0M642.9 150.0h0M637.8 165.8h0M640.4 170.0h0M637.4 179.7h0M661.9 166.2h0M636.9 151.8h0M648.8 165.4h0M641.6 156.5h0M660.2 161.0h0M639.8 177.5h0M633.6 164.5h0M633.4 155.4h0M642.3 149.3h0M637.3 167.8h0M640.8 172.6h0M660.5 168.2h0M654.1 160.7h0M628.1 159.8h0M632.8 148.7h0M649.2 174.9h0M635.9 164.8h0M644.2 159.8h0M635.2 153.1h0M628.0 154.7h0M637.8 162.1h0M651.4 161.1h0M654.0 179.5h0M643.3 177.7h0M648.6 166.3h0M636.9 145.9h0M648.3 175.8h0M645.3 149.0h0M646.3 165.4h0M649.7 160.6h0M656.0 155.2h0M622.5 151.6h0M632.8 158.4h0M636.2 166.2h0M634.7 171.6h0M645.6 146.7h0M652.8 166.9h0M644.2 150.1h0M661.6 165.3h0M642.4 162.6h0M660.6 172.8h0M624.2 157.9h0M629.6 166.9h0M638.8 146.1h0M660.4 156.3h0M650.2 150.1h0M646.9 163.2h0M646.8 168.9h0M638.0 164.1h0M639.8 167.3h0M647.5 172.2h0M655.1 149.3h0M662.3 178.9h0M642.0 171.4h0M643.4 151.6h0M658.0 167.7h0M636.2 154.6h0M637.5 169.7h0M657.2 157.7h0M649.5 156.5h0M646.6 149.1h0M646.3 159.7h0M657.5 171.2h0M645.6 170.8h0M650.5 174.2h0M629.3 152.4h0M655.6 153.8h0M660.0 181.3h0M643.6 177.8h0M631.7 161.0h0M627.3 143.1h0M660.7 158.9h0M638.5 166.5h0M631.4 157.9h0M640.5 144.0h0M651.6 150.1h0M644.3 147.5h0M659.3 166.5h0M643.2 180.2h0M643.7 157.8h0M626.9 155.1h0M639.1 167.5h0M628.6 156.0h0M641.2 166.8h0M647.3 180.0h0M660.1 169.3h0M632.5 150.3h0M649.2 172.0h0M657.4 177.8h0M630.0 147.0h0M646.8 162.9h0M656.7 166.2h0M638.6 165.7h0M626.4 162.6h0M649.4 178.3h0M628.5 157.3h0M652.1 184.4h0M637.7 175.6h0M623.6 161.0h0M645.3 175.6h0M638.9 157.2h0M634.4 156.6h0M662.5 179.7h0M644.2 161.8h0M662.2 170.9h0M634.7 161.1h0M658.3 166.7h0M643.5 184.2h0M647.8 169.7h0M630.6 162.7h0M649.7 152.7h0M650.3 152.7h0M645.2 156.5h0M652.5 151.1h0M654.6 165.6h0M663.1 170.9h0M653.1 152.4h0M656.3 178.7h0M629.8 144.1h0M642.1 170.8h0M650.0 152.6h0M658.7 160.3h0M625.9 165.0h0M648.2 181.9h0M651.9 172.0h0M646.6 169.8h0M644.1 153.1h0M637.6 146.9h0M630.0 142.1h0M628.9 154.1h0M640.2 163.7h0M642.0 150.2h0M656.6 167.9h0M638.0 177.4h0M640.5 171.6h0M639.7 170.0h0M650.7 151.7h0M648.6 180.9h0M648.3 154.2h0M634.9 144.5h0M650.7 170.9h0M623.0 151.5h0M646.8 183.7h0M637.1 155.1h0M660.0 158.2h0M654.8 167.3h0M650.8 158.0h0M647.1 181.3h0M629.1 151.3h0M662.8 159.7h0M620.1 151.3h0M644.1 152.4h0M655.6 175.1h0M654.5 169.5h0M641.7 145.7h0M632.5 168.3h0M646.3 176.6h0M622.5 158.9h0M643.8 159.3h0M660.6 178.6h0M655.0 167.6h0M658.1 160.3h0M642.4 164.1h0M634.0 172.3h0M643.2 161.9h0M660.0 152.4h0M656.5 177.4h0M654.0 156.1h0M654.4 181.6h0M640.4 169.8h0M625.5 154.5h0M653.8 151.0h0M626.0 164.5h0M640.5 146.8h0M648.9 150.3h0M661.4 164.0h0M645.5 153.0h0M646.9 171.4h0M639.1 171.2h0M664.0 170.4h0M642.8 181.8h0M656.5 163.8h0M648.0 175.0h0M650.7 154.5h0M627.9 166.0h0M626.0 161.1h0M642.7 156.2h0M656.2 155.9h0M645.0 170.5h0M651.3 182.6h0M652.3 168.3h0M660.4 160.4h0M652.5 148.6h0M631.9 165.2h0M644.0 166.7h0M650.0 171.2h0M641.8 153.0h0M648.9 147.4h0M658.6 180.6h0M630.8 155.9h0M635.1 157.0h0M660.2 162.1h0M655.5 180.3h0M644.2 172.8h0M643.1 167.8h0M648.6 168.2h0M641.6 167.7h0M657.5 182.9h0M660.0 169.9h0M638.5 149.4h0M624.7 155.3h0M639.7 145.8h0M639.6 146.8h0M629.0 147.1h0M643.7 145.3h0M657.0 177.9h0M628.7 165.6h0M658.1 152.6h0M645.5 145.2h0M655.0 164.0h0M636.4 165.2h0M651.0 183.4h0M633.3 159.9h0M642.4 163.2h0M642.7 149.3h0M630.4 163.5h0M648.7 163.3h0M632.4 144.5h0M636.3 146.7h0M644.8 182.8h0M640.4 180.1h0M638.6 158.0h0M629.1 164.6h0M620.8 154.7h0M653.7 167.7h0M644.2 165.6h0M632.6 152.8h0M648.0 151.2h0M650.0 175.6h0M633.1 164.2h0M646.9 171.4h0M640.1 173.1h0M642.3 160.9h0M650.1 169.1h0M654.5 175.3h0M640.0 168.4h0M650.9 157.3h0M625.8 150.0h0M625.9 153.2h0M647.4 165.6h0M630.4 159.5h0M658.0 170.6h0M661.5 167.8h0M637.4 159.9h0M652.2 181.4h0M651.8 163.4h0M654.4 175.8h0M622.5 148.4h0M651.7 156.7h0M650.8 181.7h0M656.0 157.6h0M645.5 157.8h0M631.4 149.0h0M644.0 148.0h0M631.7 149.1h0M645.9 153.3h0M640.7 169.5h0M654.9 160.1h0M624.8 161.8h0M630.1 149.1h0M645.8 179.8h0M654.0 150.2h0M662.6 174.1h0M625.3 151.8h0M634.7 168.9h0M636.7 153.3h0M633.6 155.5h0M647.3 162.4h0M649.7 149.8h0M661.4 173.3h0M636.7 167.8h0M663.8 175.6h0M637.3 172.7h0M649.5 157.8h0M645.0 182.8h0M633.1 167.6h0M637.7 148.9h0M645.3 149.4h0M639.7 174.9h0M633.2 153.4h0M649.9 183.8h0M626.8 151.6h0M636.9 153.5h0M654.9 182.9h0M646.6 182.3h0M637.5 180.5h0M636.4 152.6h0M635.7 178.1h0M652.8 182.1h0M622.9 156.8h0M658.2 155.6h0M653.5 180.6h0M652.6 177.4h0M649.2 166.4h0M651.2 184.7h0M629.3 153.0h0M651.0 168.3h0M661.1 167.1h0M651.9 150.4h0M629.0 167.6h0M632.6 160.5h0M645.8 149.3h0M647.0 175.4h0M650.4 177.8h0M646.2 151.8h0M655.3 181.9h0M629.5 166.4h0M668.9 151.3h0M673.1 144.7h0M672.0 148.6h0M678.1 157.3h0M667.0 149.9h0M664.5 147.2h0M676.0 154.5h0M665.6 150.8h0M675.3 153.5h0M675.9 158.8h0M676.2 157.1h0M673.0 153.2h0M680.4 159.1h0M663.9 151.4h0M676.0 159.4h0M660.4 150.4h0M676.1 160.8h0M668.3 150.5h0M676.1 155.3h0M674.6 154.7h0M677.6 163.2h0M667.5 149.9h0M663.2 153.9h0M672.8 152.3h0M674.8 161.0h0M671.3 154.5h0M669.7 147.2h0M664.4 153.7h0M670.7 148.3h0M667.8 148.4h0M664.5 148.5h0M663.0 150.6h0M676.2 154.5h0M669.1 152.1h0M675.1 154.0h0M679.7 151.1h0M660.4 153.5h0M660.5 157.4h0M667.3 149.7h0M674.0 159.6h0M670.0 151.2h0M676.2 154.6h0M664.7 152.6h0M677.6 151.4h0M667.8 152.9h0M674.1 156.8h0M672.1 149.2h0M675.8 163.4h0M679.2 158.9h0M671.0 150.4h0M679.4 156.8h0M679.3 157.3h0M679.5 158.8h0M677.7 153.4h0M669.1 147.5h0M673.5 154.8h0M661.6 150.7h0M678.0 159.9h0M679.6 161.4h0M674.7 154.8h0M680.1 153.6h0M668.5 151.2h0M672.6 156.6h0M675.6 158.2h0M672.9 151.9h0M659.2 152.1h0M668.1 151.4h0M663.1 157.1h0M671.9 149.9h0M668.0 148.9h0M664.9 152.5h0M662.3 153.4h0M671.8 149.8h0M678.8 163.0h0M672.3 153.9h0M666.6 152.1h0M668.7 147.3h0M678.7 160.3h0M659.7 153.7h0M672.9 151.7h0M666.8 151.0h0M676.8 162.3h0M675.5 161.0h0M662.0 153.0h0M680.1 158.7h0M665.3 148.0h0M662.2 156.6h0M672.6 151.2h0M667.0 146.1h0M674.0 154.0h0M675.3 154.0h0M674.1 152.5h0M677.7 160.0h0M665.2 150.0h0M676.2 155.8h0M677.4 158.2h0M676.8 159.4h0M673.5 154.0h0M680.2 162.0h0M659.9 156.7h0M666.2 149.5h0M674.1 148.9h0M669.8 150.3h0M670.0 151.8h0M677.2 160.0h0M664.1 151.5h0M662.9 153.1h0M663.5 152.7h0M673.9 149.8h0M663.9 148.4h0M662.0 151.9h0M678.2 160.1h0M674.6 156.4h0M674.8 160.5h0M670.0 160.3h0M663.1 149.5h0M660.3 149.9h0M669.9 147.1h0M670.3 153.5h0M660.3 156.8h0M659.9 151.1h0M673.3 151.8h0M663.1 151.7h0M666.7 152.7h0M670.4 153.2h0M678.6 159.0h0M682.3 155.5h0M673.4 149.5h0M660.7 153.8h0M673.8 150.2h0M678.9 161.4h0M666.9 152.8h0M679.4 160.0h0M664.5 154.4h0M660.4 152.2h0M671.6 147.8h0M666.8 149.6h0M668.7 151.0h0M677.1 160.6h0M661.3 153.0h0M677.5 156.1h0M671.2 151.9h0M678.2 160.4h0M667.8 151.4h0M659.9 155.3h0M673.0 155.8h0M670.0 148.2h0M675.3 157.4h0M675.8 160.4h0M663.2 144.4h0M672.8 148.9h0M658.1 153.4h0M672.9 149.8h0M673.8 159.0h0M677.9 160.6h0M677.0 156.1h0M662.0 152.8h0M674.0 149.7h0M678.1 161.2h0M663.5 156.3h0M664.6 151.4h0M675.4 148.4h0M668.0 152.1h0M675.7 151.7h0M660.6 152.6h0M657.3 151.4h0M670.7 152.3h0M677.6 158.6h0M665.2 152.5h0M667.3 149.7h0M671.2 154.0h0M659.5 152.7h0M660.1 154.5h0M668.9 149.0h0M666.6 147.1h0M662.0 155.5h0M673.4 156.9h0M664.6 147.6h0M671.3 146.1h0M679.4 153.5h0M669.8 151.4h0M665.0 151.0h0M674.9 153.0h0M672.4 154.0h0M670.5 147.0h0M678.0 161.6h0M677.0 161.2h0M662.5 154.0h0M667.5 146.3h0M668.9 151.2h0M671.6 149.4h0M668.7 154.6h0M667.4 151.0h0M677.9 155.2h0M668.6 152.4h0M681.9 154.3h0M675.0 151.1h0M662.3 156.3h0M673.7 152.0h0M673.6 147.3h0M663.5 150.8h0M660.0 152.3h0M668.6 151.5h0M679.2 161.3h0M666.2 149.9h0M664.7 153.1h0M672.1 158.0h0M671.6 148.7h0M676.0 158.7h0M678.1 152.8h0M664.7 149.4h0M673.7 156.9h0M678.7 156.3h0M674.0 152.6h0M670.4 153.3h0M676.9 161.8h0M665.4 156.0h0M679.2 161.0h0M679.2 159.3h0M671.7 151.1h0M676.9 149.1h0M672.1 146.5h0M676.4 158.1h0M672.2 152.2h0M676.0 158.2h0M670.4 151.4h0M669.2 151.7h0M672.9 151.6h0M678.6 154.6h0M677.5 158.6h0M671.0 151.7h0M676.1 160.8h0M661.7 152.8h0M664.8 150.4h0M663.2 154.7h0M676.6 154.7h0M666.8 147.8h0M675.5 154.8h0M658.6 150.7h0M664.1 149.9h0M669.1 149.7h0M663.8 152.9h0M663.3 149.4h0M669.1 149.2h0M664.4 150.2h0M663.8 152.8h0M662.0 150.5h0M660.2 150.8h0M678.6 158.6h0M662.4 153.4h0M662.3 155.0h0M680.0 160.9h0M676.6 152.9h0M667.1 153.4h0M666.2 152.1h0M673.7 157.2h0M674.8 155.7h0M679.3 157.8h0M661.0 151.0h0M660.9 149.5h0M663.7 151.0h0M675.5 154.0h0M671.6 152.0h0M660.4 149.2h0M672.2 155.5h0M665.0 149.7h0M679.2 158.6h0M660.7 146.0h0M665.3 150.7h0M676.1 159.4h0M658.6 153.1h0M667.1 150.7h0M668.8 153.9h0M679.0 160.9h0M673.2 154.4h0M666.7 149.5h0M675.4 153.1h0M680.7 158.2h0M676.6 154.3h0M677.8 154.6h0M674.8 159.7h0M661.9 151.1h0M665.7 153.4h0M680.2 158.0h0M671.1 147.7h0M665.0 150.4h0M665.4 149.7h0M672.6 155.6h0M664.9 150.4h0M676.1 161.3h0M675.1 154.9h0M676.8 159.5h0M660.7 152.6h0M677.6 156.8h0M678.0 156.9h0M676.5 152.4h0M661.5 155.8h0M666.1 149.4h0M677.5 162.4h0M666.0 147.4h0M625.8 170.7h0M628.6 175.4h0M630.9 170.4h0M627.4 172.5h0M626.9 171.0h0M628.4 171.3h0M627.1 168.5h0M626.4 172.2h0M627.2 169.6h0M629.3 170.9h0M631.0 172.7h0M631.3 169.6h0M625.6 171.7h0M627.3 168.4h0M630.0 172.2h0M628.5 169.8h0M631.1 168.6h0M628.9 170.4h0M631.7 173.0h0M626.7 174.4h0M631.3 173.4h0M630.2 169.8h0M627.7 170.7h0M626.2 172.9h0M628.6 168.6h0M627.2 168.7h0M631.3 170.5h0M630.2 173.7h0M629.5 172.8h0M627.6 173.5h0M626.8 170.3h0M631.4 171.4h0M629.8 168.7h0M627.8 167.7h0M626.2 169.4h0M631.0 171.4h0M625.2 172.9h0M632.1 173.0h0M625.2 173.0h0M627.7 168.3h0M625.8 169.4h0M630.1 173.6h0M626.8 169.9h0M626.2 170.8h0M627.2 170.1h0M632.2 171.6h0M626.5 171.8h0M627.8 173.0h0M631.1 171.3h0M630.7 173.5h0M629.9 171.5h0M629.4 174.3h0M630.9 174.2h0M625.1 171.8h0M626.0 172.8h0M630.2 168.1h0M629.3 175.2h0M627.7 174.5h0M628.3 172.1h0M627.1 170.5h0M626.2 170.4h0M629.8 174.3h0M627.6 169.2h0M626.1 171.5h0M627.7 174.5h0M625.2 171.3h0M630.2 172.9h0M629.1 172.1h0M628.2 169.6h0M628.6 173.2h0M631.4 171.0h0M630.3 173.3h0M628.3 168.7h0M629.3 169.7h0M626.3 171.3h0M631.2 170.2h0M630.3 171.5h0M628.4 169.4h0M629.1 171.1h0M628.4 169.1h0M628.4 173.7h0M627.7 171.5h0M630.9 173.4h0M631.3 172.3h0M626.9 169.9h0M628.7 169.6h0M630.6 172.0h0M625.1 170.3h0M627.7 173.0h0M625.5 173.4h0" stroke="#3450a6" stroke-width="1.5" stroke-linecap="round" fill="none"/><path d="M646.5 134.6h0M634.9 142.1h0M643.4 148.3h0M655.0 162.3h0M651.9 179.3h0" stroke="#e8303c" stroke-width="1.5" stroke-linecap="round" fill="none"/>
<rect x="617.50" y="125.40" width="65.80" height="64.20" fill="none" stroke="#cfcfcf" stroke-width="1"/>
<path d="M347.0 275.8h0M352.5 239.6h0M346.1 250.4h0M353.6 238.9h0M361.9 233.0h0M361.4 233.3h0M353.0 280.4h0M366.4 230.2h0M349.8 243.9h0M346.9 276.6h0M359.9 234.7h0M351.5 285.0h0M342.2 267.7h0M348.6 244.5h0M372.4 282.3h0M345.5 251.1h0M347.4 248.4h0M345.2 252.0h0M354.3 239.1h0M342.0 266.5h0M341.8 263.6h0M363.1 232.7h0M350.0 244.2h0M347.5 247.6h0M343.5 272.1h0M356.1 282.0h0M348.4 279.9h0M357.7 285.2h0M360.2 234.7h0M340.6 260.8h0M360.4 286.3h0M350.7 242.0h0M346.4 250.1h0M344.7 250.6h0M361.9 286.1h0M342.3 260.9h0M344.2 272.8h0M342.9 263.8h0M360.3 285.2h0M352.4 240.3h0M349.3 283.0h0M366.9 286.1h0M344.1 274.4h0M346.3 247.6h0M360.7 233.8h0M343.2 268.4h0M369.7 284.4h0M341.9 266.0h0M351.2 241.5h0M344.9 269.0h0M344.5 252.5h0M349.2 281.0h0M343.0 265.6h0M369.9 281.3h0M345.7 271.9h0M363.8 232.1h0M359.5 288.2h0M342.8 259.6h0M345.5 278.3h0M349.6 279.5h0M344.6 254.8h0M362.6 233.1h0M369.0 283.3h0M357.3 286.0h0M344.4 274.6h0M345.0 251.3h0M355.1 238.3h0M349.0 244.3h0M342.2 261.0h0M360.4 287.1h0M359.0 235.0h0M356.6 283.8h0M345.6 275.1h0M360.2 284.8h0M372.0 281.8h0M369.2 281.1h0M345.2 277.4h0M351.6 284.5h0M342.6 263.5h0M360.8 233.7h0M359.9 234.3h0M365.5 286.2h0M343.9 262.6h0M344.7 253.2h0M356.4 238.0h0M352.3 283.4h0M353.3 240.0h0M357.5 237.1h0M344.8 254.7h0M344.0 254.4h0M355.2 237.7h0M348.1 279.5h0M356.6 237.0h0M352.5 280.9h0M347.9 244.5h0M362.3 284.7h0M364.8 281.6h0M366.8 230.4h0M350.4 281.6h0M347.3 278.7h0M358.3 236.1h0M343.8 267.5h0M345.6 249.5h0M366.8 230.7h0M343.8 260.0h0M341.2 264.9h0M372.7 282.4h0M364.3 232.0h0M359.5 287.5h0M366.4 285.8h0M370.0 279.8h0M361.2 233.6h0M352.9 283.1h0M372.3 281.2h0M343.7 257.2h0M346.9 278.2h0M348.6 246.2h0M347.6 281.5h0M344.8 252.9h0M368.4 283.6h0M346.9 247.8h0M343.9 258.8h0M362.2 288.1h0M365.0 231.4h0M366.3 283.8h0M342.4 263.0h0M355.0 238.5h0M342.6 267.9h0M348.4 278.3h0M356.8 284.5h0M363.5 285.2h0M349.3 242.9h0M343.8 257.1h0M353.0 280.8h0M357.6 285.6h0M356.1 282.1h0M367.9 283.9h0M364.7 286.3h0M351.0 241.1h0M363.5 232.1h0M341.5 263.8h0M371.2 281.9h0M354.7 284.5h0M344.1 266.0h0M371.6 283.2h0M342.4 255.2h0M350.5 281.4h0M366.3 230.8h0M353.1 240.0h0M343.4 269.2h0M358.3 235.2h0M357.3 287.3h0M357.4 283.4h0M371.4 283.0h0M353.4 285.3h0M346.5 276.9h0M344.8 250.3h0M361.4 233.4h0M353.5 239.3h0M345.1 250.4h0M364.9 284.5h0M351.0 242.3h0M355.7 284.4h0M358.0 284.6h0M345.3 253.1h0M344.6 275.8h0M370.9 279.7h0M342.5 259.6h0M357.6 236.4h0M371.2 279.8h0M362.4 233.3h0M366.5 285.5h0M360.2 282.3h0M352.4 240.9h0M364.3 284.4h0M370.4 281.5h0M342.7 272.1h0M341.7 265.0h0M358.4 286.4h0M358.5 236.0h0M367.8 284.9h0M342.7 266.7h0M365.3 231.3h0M342.7 254.6h0M353.4 239.3h0M358.9 235.4h0M369.7 279.4h0M346.1 273.8h0M346.1 277.9h0M347.2 275.2h0M355.1 237.9h0M355.6 284.6h0M366.0 230.4h0M356.2 237.4h0M350.5 242.4h0M354.4 238.9h0M362.3 233.0h0M341.7 262.9h0M364.1 282.9h0M344.8 273.6h0M359.5 286.3h0M365.9 283.6h0M342.9 255.8h0M346.8 274.4h0M342.4 268.8h0M350.7 241.8h0M352.7 241.1h0M361.5 233.3h0M363.1 288.2h0M343.3 266.6h0M352.0 280.6h0M342.6 257.9h0M346.0 273.7h0M345.4 276.3h0M346.2 248.1h0M341.6 263.7h0M354.6 238.4h0M347.6 279.8h0M342.5 259.2h0M343.0 260.6h0M342.0 257.1h0M371.8 279.9h0M357.1 236.4h0M342.4 260.1h0M365.0 231.4h0M344.8 269.5h0M341.5 268.6h0M372.6 283.9h0M349.8 243.5h0M354.2 286.4h0M366.0 287.1h0M349.8 279.6h0M354.7 282.5h0M350.0 243.5h0M362.6 284.4h0M348.2 283.4h0M367.2 230.0h0M344.6 251.8h0M371.3 281.3h0M361.4 288.3h0M346.4 247.2h0M358.2 235.5h0M372.0 278.5h0M351.4 241.9h0M365.5 283.5h0M359.2 287.4h0M369.3 281.6h0M356.9 284.0h0M361.3 233.5h0M344.2 274.8h0M358.1 285.9h0M350.8 242.2h0M362.4 232.9h0M364.3 231.5h0M348.6 279.1h0M365.9 283.2h0M343.1 253.7h0M355.2 284.5h0M343.9 252.3h0M343.6 263.4h0M343.8 252.2h0M342.4 260.3h0M365.9 283.0h0M369.0 282.2h0M368.6 280.8h0M344.1 264.2h0M360.9 234.0h0M345.4 251.1h0M351.2 242.0h0M344.1 251.0h0M364.2 231.8h0M362.1 233.7h0M357.2 236.3h0M349.5 277.2h0M343.9 252.8h0M344.6 250.9h0M365.6 281.6h0M347.7 276.6h0M370.0 281.7h0M342.7 259.9h0M348.8 280.3h0M342.3 259.6h0M354.5 238.8h0M343.5 274.4h0M360.8 234.5h0M342.9 260.9h0M363.4 288.6h0M371.1 281.4h0M351.8 285.1h0M342.8 256.4h0M345.7 276.5h0M357.1 236.4h0M367.4 230.6h0M342.2 255.4h0M347.0 247.4h0M357.5 235.5h0M344.8 260.3h0M351.6 241.3h0M344.3 251.9h0M343.9 254.3h0M365.0 285.2h0M359.2 234.5h0M350.5 242.8h0M348.5 280.2h0M343.4 273.6h0M366.0 283.0h0M342.0 259.4h0M346.3 249.2h0M355.0 284.5h0M344.7 248.7h0M344.6 277.4h0M356.1 236.8h0M349.6 281.7h0M355.8 287.7h0M366.4 286.0h0M341.8 269.0h0M351.3 242.0h0M358.7 235.1h0M345.3 269.4h0M345.5 276.3h0M358.3 285.1h0M370.9 282.0h0M344.8 256.2h0M349.5 244.3h0M342.7 259.8h0M370.8 278.5h0M349.9 243.5h0M357.3 289.3h0M344.1 267.6h0M348.0 280.1h0M345.3 251.3h0M369.2 281.6h0M349.1 279.8h0M343.3 256.8h0M364.1 284.7h0M367.3 230.4h0M360.2 286.3h0M350.2 243.6h0M346.5 275.8h0M347.5 278.8h0M358.9 234.6h0M359.5 286.1h0M343.1 264.4h0M353.5 282.7h0M361.8 287.1h0M364.6 287.6h0M362.3 232.8h0M366.6 230.5h0M351.0 284.2h0M357.1 287.0h0M343.1 252.4h0M346.9 247.1h0M352.3 240.1h0M345.7 271.2h0M349.4 278.7h0M371.2 283.3h0M348.6 247.6h0M369.3 282.9h0M346.1 248.7h0M352.9 239.7h0M347.5 247.5h0M356.0 237.0h0M366.1 284.4h0M345.3 248.9h0M342.7 255.2h0M361.2 233.6h0M344.9 271.3h0M345.9 277.0h0M364.3 232.2h0M354.2 238.0h0M344.5 254.2h0M352.5 281.3h0M347.3 279.3h0M341.8 264.7h0M361.0 285.5h0M344.1 272.8h0M342.7 257.9h0M343.8 252.6h0M345.3 258.8h0M362.6 232.5h0M360.1 261.7h0M381.2 252.3h0M381.5 252.4h0M379.7 251.7h0M362.8 270.4h0M362.7 268.3h0M363.6 254.8h0M383.4 258.9h0M383.0 249.7h0M364.3 249.3h0M376.6 245.3h0M384.7 258.2h0M369.7 242.8h0M383.4 263.7h0M373.1 242.7h0M369.1 242.9h0M383.4 264.3h0M361.6 266.3h0M363.6 249.7h0M363.6 265.5h0M377.5 244.2h0M379.5 255.0h0M365.8 247.5h0M380.2 253.9h0M360.3 263.3h0M379.3 246.8h0M360.6 249.5h0M364.2 265.2h0M363.4 255.8h0M378.1 248.8h0M361.3 269.3h0M373.4 243.8h0M381.0 249.1h0M361.4 263.9h0M361.2 253.6h0M363.4 250.7h0M379.2 259.4h0M381.3 256.7h0M383.6 261.5h0M376.6 244.7h0M383.0 260.3h0M370.0 244.0h0M383.6 258.7h0M361.8 262.6h0M382.9 260.2h0M381.8 253.6h0M373.7 248.3h0M382.6 263.6h0M360.2 265.4h0M362.2 262.4h0M365.6 241.6h0M382.4 257.8h0M372.5 243.9h0M363.2 261.5h0M362.1 252.5h0M380.9 264.9h0M368.6 249.1h0M368.7 244.1h0M383.4 261.9h0M383.1 263.5h0M384.6 257.3h0M363.1 257.6h0M384.3 267.1h0M363.5 257.3h0M359.7 260.5h0M363.0 260.5h0M364.0 270.7h0M381.6 248.7h0M378.4 248.2h0M380.7 249.9h0M384.5 255.5h0M361.2 259.4h0M377.0 249.1h0M361.1 267.4h0M362.3 261.4h0M370.0 246.9h0M384.7 261.7h0M371.8 247.2h0M363.3 269.7h0M362.2 254.1h0M385.6 256.1h0M377.3 248.7h0M366.7 251.5h0M360.3 266.7h0M361.3 261.4h0M370.2 245.8h0M368.0 248.4h0M381.1 254.7h0M380.2 246.8h0M360.7 263.5h0M382.1 258.2h0M366.0 257.0h0M376.6 242.6h0M379.6 254.6h0M363.6 247.6h0M379.7 247.8h0M367.7 246.9h0M371.5 245.6h0M383.7 262.9h0M382.8 259.0h0M376.5 254.3h0M384.5 267.3h0M361.5 262.0h0M361.3 267.0h0M375.6 249.0h0M360.8 268.4h0M384.1 265.3h0M363.7 259.2h0M362.6 264.2h0M361.5 266.1h0M386.8 263.4h0M371.9 247.8h0M379.4 248.0h0M370.0 242.5h0M377.0 256.2h0M363.0 269.7h0M382.5 255.8h0M368.7 247.6h0M379.9 250.3h0M362.7 253.9h0M362.4 266.1h0M379.3 250.0h0M377.8 245.1h0M372.4 243.1h0M387.6 265.0h0M384.6 258.9h0M361.8 259.3h0M372.0 248.0h0M367.9 244.8h0M365.4 251.6h0M362.5 270.1h0M371.2 245.5h0M360.0 265.6h0M360.4 255.6h0M365.2 242.9h0M361.7 249.8h0M380.6 248.4h0M363.2 269.0h0M377.4 248.8h0M361.1 256.4h0M364.3 258.7h0M384.8 265.8h0M363.4 267.0h0M361.7 266.0h0M362.9 254.3h0M361.5 255.4h0M384.9 262.9h0M366.6 248.0h0M366.2 248.5h0M381.0 250.1h0M363.2 264.2h0M383.7 259.3h0M362.5 258.9h0M384.3 265.6h0M366.2 251.0h0M370.0 244.7h0M372.4 245.7h0M382.4 252.1h0M360.2 258.5h0M384.5 255.8h0M370.8 245.4h0M367.8 247.1h0M365.1 250.0h0M383.3 258.4h0M366.3 245.3h0M381.2 256.1h0M363.1 250.9h0M362.6 268.7h0M385.2 256.4h0M381.0 249.4h0M364.4 269.8h0M366.4 252.2h0M370.1 248.1h0M376.9 247.7h0M361.6 267.6h0M362.1 256.8h0M377.8 245.7h0M383.2 258.7h0M377.4 243.3h0M376.1 244.3h0M382.9 256.2h0M367.3 245.0h0M374.8 246.4h0M373.1 243.2h0M367.5 249.2h0M362.3 265.3h0M379.8 251.0h0M377.6 248.6h0M381.5 250.0h0M362.7 266.4h0M364.1 250.6h0M380.9 255.4h0M377.0 244.3h0M381.7 264.2h0M381.2 250.4h0M363.2 269.2h0M362.0 254.1h0M374.7 243.5h0M383.7 257.5h0M386.3 263.0h0M362.0 262.3h0M382.1 254.6h0M362.3 260.7h0M363.6 252.3h0M362.3 270.9h0M384.5 260.0h0M372.5 242.6h0M364.0 248.0h0M384.8 265.6h0M382.7 258.5h0M384.2 264.7h0M382.6 261.4h0M379.5 247.1h0M376.7 248.0h0M363.1 254.0h0M385.6 258.8h0M377.0 247.3h0M360.9 262.6h0M362.7 252.8h0M384.8 255.1h0M360.9 257.5h0M366.0 250.3h0M362.9 254.4h0M361.7 253.9h0M381.7 254.1h0M384.6 261.9h0M370.7 247.1h0M360.1 256.5h0M381.1 258.6h0M384.9 258.5h0M381.5 265.3h0M377.4 245.7h0M366.7 246.4h0M373.7 245.2h0M360.8 263.3h0M382.1 257.7h0M380.2 253.4h0M369.1 246.7h0M360.0 264.7h0M382.8 254.6h0M382.2 255.3h0M366.3 246.9h0M383.1 257.3h0M380.9 250.5h0M361.8 254.6h0M362.7 266.4h0M361.2 253.1h0M365.1 253.3h0M372.6 246.9h0M383.4 267.5h0M382.0 251.9h0M371.4 246.4h0M383.6 256.1h0M374.2 244.7h0M362.9 249.2h0M373.3 243.8h0M363.8 249.1h0M362.5 262.7h0M362.6 251.4h0M363.3 250.3h0M396.0 247.5h0M397.2 250.5h0M397.3 250.2h0M388.9 274.5h0M394.8 277.0h0M399.5 256.5h0M397.1 250.6h0M399.9 263.2h0M396.6 248.1h0M398.4 271.3h0M397.6 251.6h0M385.4 273.1h0M395.8 247.1h0M400.1 265.5h0M385.7 273.3h0M391.2 277.5h0M390.1 278.4h0M398.7 253.4h0M387.6 274.5h0M399.8 263.4h0M395.8 274.7h0M399.7 266.8h0M398.9 254.6h0M394.2 244.2h0M385.4 274.7h0M396.6 274.1h0M398.7 253.9h0M399.6 268.1h0M399.6 267.2h0M398.9 255.5h0M397.0 250.0h0M396.9 274.5h0M399.5 265.0h0M396.5 248.7h0M395.5 246.0h0M399.5 257.2h0M396.7 249.0h0M395.8 275.0h0M399.0 256.0h0M399.7 267.4h0M399.7 265.5h0M396.4 274.4h0M388.0 274.7h0M397.8 272.6h0M391.3 276.4h0M400.1 262.0h0M397.2 249.7h0M396.9 249.6h0M398.4 252.4h0M398.8 272.1h0M399.9 264.6h0M398.5 252.9h0M388.8 275.1h0M397.9 272.8h0M399.2 255.1h0M397.6 251.9h0M399.5 257.0h0M395.8 246.9h0M400.4 263.5h0M393.9 243.9h0M399.2 255.7h0M397.8 272.3h0M396.0 273.8h0M399.9 263.5h0M398.7 269.7h0M400.2 262.6h0M398.7 270.1h0M399.9 256.6h0M399.9 267.1h0M400.1 258.7h0M398.4 270.9h0M386.2 271.8h0M387.5 275.0h0M387.9 275.6h0M395.1 245.8h0M396.1 274.2h0M399.6 256.8h0M399.2 257.8h0M388.2 276.6h0M400.1 259.2h0M399.1 269.7h0M398.1 252.4h0M390.0 277.0h0M396.4 276.3h0M399.6 264.8h0M398.9 271.1h0M395.9 277.0h0M399.9 267.0h0M387.7 277.6h0M388.7 277.6h0M397.3 272.6h0M399.9 264.3h0M387.6 273.8h0M399.7 269.1h0M388.3 278.6h0M399.3 266.9h0M390.7 277.9h0M398.6 252.6h0M395.7 246.6h0M397.1 249.9h0M398.5 253.1h0M384.2 271.4h0M398.3 251.9h0M392.7 278.0h0M398.3 253.1h0M399.6 257.1h0M398.0 252.6h0M386.8 274.8h0M397.7 249.8h0M396.6 249.5h0M385.9 272.8h0M398.5 253.5h0M399.5 267.1h0M399.5 265.7h0M398.7 255.1h0M385.3 271.3h0M399.7 265.7h0M395.7 247.1h0M388.4 275.4h0M391.3 276.9h0M388.9 276.0h0M399.2 268.9h0M400.2 260.1h0M399.9 265.0h0M395.1 246.1h0M400.1 262.4h0M395.7 246.9h0M398.3 270.1h0M397.1 272.5h0M395.0 245.7h0M396.8 249.0h0M399.1 267.9h0M398.4 272.4h0M398.3 253.7h0M394.2 243.9h0M395.4 246.5h0M395.7 275.9h0M395.6 247.1h0M399.3 269.0h0M399.4 264.5h0M386.0 273.4h0M399.1 256.3h0M399.3 267.8h0M400.0 268.8h0M384.6 272.3h0M394.2 245.0h0M387.7 273.3h0M393.2 277.9h0M392.8 276.5h0M399.6 256.0h0" stroke="#3450a6" stroke-width="1.3" stroke-linecap="round" fill="none"/><path d="M361.3 233.0h0M366.0 230.7h0M352.8 240.0h0M344.2 253.2h0M347.3 279.6h0M357.4 285.8h0M371.4 279.6h0M369.1 244.6h0M379.9 249.3h0" stroke="#e8303c" stroke-width="1.3" stroke-linecap="round" fill="none"/>
<rect x="337.60" y="226.40" width="66.80" height="64.90" fill="none" stroke="#cfcfcf" stroke-width="1"/>
<path d="M425.8 234.7h0M429.4 239.4h0M420.3 258.7h0M433.4 286.6h0M418.9 230.4h0M442.2 276.9h0M426.8 235.6h0M420.3 279.6h0M430.7 244.2h0M417.5 229.7h0M431.6 247.4h0M428.4 248.2h0M429.4 238.2h0M425.3 284.5h0M422.8 256.5h0M436.3 285.2h0M429.5 238.6h0M420.2 280.1h0M429.9 240.9h0M418.4 279.2h0M415.1 263.4h0M416.6 267.0h0M420.8 259.3h0M435.7 285.5h0M443.4 280.9h0M416.9 270.1h0M418.9 279.3h0M442.5 277.9h0M430.4 243.1h0M427.2 235.4h0M415.8 265.7h0M426.0 285.4h0M437.1 284.2h0M413.4 262.7h0M423.1 280.8h0M422.2 280.2h0M426.8 254.0h0M413.6 265.5h0M427.5 283.4h0M424.1 258.5h0M423.3 284.0h0M421.9 231.8h0M413.7 277.7h0M415.9 275.0h0M417.8 230.3h0M419.4 256.7h0M417.4 264.3h0M429.5 242.1h0M437.0 284.3h0M436.6 291.6h0M426.2 234.5h0M430.1 241.4h0M419.8 261.4h0M423.2 284.1h0M425.1 254.9h0M419.6 230.9h0M424.3 255.6h0M422.9 255.0h0M429.0 252.6h0M427.7 283.3h0M436.4 287.8h0M428.6 237.8h0M420.7 281.7h0M426.5 251.3h0M431.0 245.8h0M430.2 246.8h0M423.4 232.8h0M433.9 285.2h0M426.7 284.4h0M418.2 274.9h0M422.6 232.9h0M442.5 280.9h0M430.0 242.8h0M431.1 240.5h0M430.0 247.9h0M441.1 280.0h0M414.6 266.7h0M415.0 262.0h0M437.9 284.2h0M412.4 275.7h0M428.4 249.9h0M422.2 255.6h0M432.5 286.8h0M429.2 250.9h0M429.0 245.9h0M426.6 251.9h0M443.0 280.5h0M433.8 287.2h0M419.7 230.8h0M435.3 285.3h0M428.6 284.8h0M418.5 277.2h0M426.4 255.7h0M426.8 235.2h0M429.4 246.7h0M414.6 280.1h0M414.3 268.2h0M426.8 249.7h0M439.4 283.2h0M428.3 250.3h0M415.0 274.8h0M431.1 284.8h0M434.0 285.0h0M412.3 268.6h0M435.6 284.9h0M414.3 267.1h0M441.3 279.9h0M425.2 257.1h0M413.2 268.5h0M425.4 233.9h0M421.7 253.6h0M430.4 285.2h0M421.7 232.0h0M415.9 281.4h0M416.5 265.0h0M423.8 256.9h0M421.5 280.0h0M428.5 237.0h0M443.6 277.3h0M417.7 229.7h0M429.5 247.9h0M424.0 233.4h0M417.3 278.5h0M417.7 230.1h0M424.2 252.5h0M440.4 283.8h0M429.0 238.8h0M414.5 270.8h0M418.4 262.5h0M428.7 237.9h0M418.6 230.7h0M428.8 288.1h0M425.1 233.5h0M429.0 237.3h0M422.2 232.4h0M425.4 254.7h0M424.3 284.5h0M422.6 259.3h0M444.4 283.2h0M425.8 252.1h0M429.0 249.2h0M420.7 232.0h0M428.3 249.5h0M434.0 286.7h0M426.2 235.0h0M442.4 278.9h0M429.7 251.6h0M441.3 280.8h0M413.0 272.8h0M414.9 275.0h0M414.7 275.7h0M433.0 285.9h0M414.7 270.7h0M446.6 280.0h0M421.4 231.8h0M416.7 263.7h0M427.9 250.6h0M418.2 264.0h0M441.1 281.8h0M420.4 261.4h0M437.7 286.8h0M443.5 279.7h0M440.2 280.8h0M419.0 257.2h0M439.0 288.2h0M430.3 243.6h0M418.1 279.7h0M428.9 238.1h0M420.8 231.3h0M415.2 276.8h0M440.5 282.2h0M426.9 252.9h0M423.7 258.4h0M429.3 238.9h0M423.2 285.3h0M426.6 282.9h0M429.3 245.6h0M439.6 284.6h0M425.8 286.1h0M442.4 280.1h0M414.9 260.1h0M426.3 252.6h0M423.8 284.7h0M419.4 260.5h0M427.5 283.2h0M419.0 282.6h0M423.3 232.6h0M426.4 285.8h0M414.9 260.2h0M426.4 283.4h0M442.7 282.6h0M418.5 263.3h0M418.3 259.6h0M423.1 282.7h0M427.2 285.3h0M422.5 286.1h0M430.5 245.3h0M428.9 245.2h0M421.4 264.1h0M429.1 286.8h0M431.5 242.2h0M418.9 257.7h0M418.3 275.0h0M429.8 288.8h0M422.6 282.2h0M427.3 284.7h0M435.9 287.3h0M426.5 252.3h0M428.6 237.3h0M413.6 271.7h0M429.3 238.3h0M431.2 246.0h0M430.2 241.5h0M427.9 237.0h0M425.1 254.1h0M419.0 230.3h0M437.0 285.2h0M434.9 284.3h0M424.4 280.0h0M440.5 283.8h0M418.6 229.9h0M434.5 285.9h0M428.8 238.5h0M439.8 284.7h0M428.4 252.1h0M421.7 282.5h0M418.9 260.6h0M420.9 230.9h0M418.8 280.1h0M427.7 250.5h0M422.0 257.8h0M418.9 278.1h0M426.8 282.9h0M429.3 285.5h0M431.1 287.1h0M416.7 275.7h0M415.5 269.7h0M423.7 256.1h0M442.5 278.9h0M431.0 246.1h0M420.8 281.8h0M424.5 253.7h0M439.0 283.8h0M425.3 234.5h0M418.6 276.4h0M428.7 246.8h0M419.9 260.2h0M420.1 258.3h0M413.2 271.2h0M426.0 234.1h0M443.9 278.5h0M431.3 243.9h0M428.2 235.4h0M428.5 285.3h0M423.4 252.5h0M430.5 244.5h0M412.8 275.1h0M416.0 268.1h0M419.1 259.1h0M429.3 237.6h0M423.7 256.0h0M421.1 261.6h0M429.7 244.7h0M423.2 283.9h0M423.6 233.5h0M433.4 284.1h0M424.7 233.7h0M426.6 254.3h0M423.3 255.2h0M424.9 233.7h0M427.3 252.6h0M425.8 281.7h0M418.3 278.1h0M414.6 275.5h0M422.8 254.7h0M425.5 286.1h0M444.3 278.2h0M418.6 229.7h0M417.1 273.1h0M418.4 280.3h0M421.2 281.5h0M415.4 267.7h0M442.3 276.3h0M418.8 230.3h0M427.0 235.9h0M415.8 266.8h0M423.0 283.1h0M415.7 270.3h0M419.5 231.2h0M424.2 233.6h0M414.5 267.8h0M427.2 253.1h0M420.2 276.1h0M419.7 263.2h0M419.2 276.2h0M436.6 284.7h0M413.0 273.7h0M439.4 286.6h0M434.5 285.7h0M419.9 262.5h0M429.1 248.4h0M413.8 267.5h0M428.6 247.9h0M418.4 280.3h0M417.4 260.4h0M424.8 282.6h0M414.2 273.0h0M420.5 279.3h0M415.2 269.6h0M419.8 230.7h0M415.2 263.5h0M417.8 258.1h0M422.6 282.6h0M426.8 235.8h0M427.8 237.5h0M436.9 285.8h0M420.5 259.2h0M417.9 230.3h0M415.1 273.1h0M416.7 228.9h0M418.6 230.0h0M434.7 284.7h0M423.0 232.2h0M415.7 276.9h0M424.1 256.6h0M416.0 272.8h0M439.3 282.6h0M420.2 258.6h0M417.8 229.3h0M441.6 280.7h0M423.1 285.8h0M426.1 233.8h0M430.4 239.5h0M424.9 255.4h0M415.7 274.8h0M429.7 284.1h0M415.7 265.2h0M429.4 244.5h0M422.9 232.0h0M426.3 235.2h0M414.7 270.6h0M427.9 235.6h0M427.7 251.3h0M425.1 254.0h0M431.1 241.0h0M431.7 284.9h0M423.5 286.0h0M438.6 285.7h0M430.8 242.5h0M429.4 286.0h0M438.4 283.4h0M416.7 262.1h0M413.2 271.2h0M421.0 280.7h0M419.9 274.6h0M414.7 269.2h0M421.6 279.8h0M430.2 245.3h0M438.1 285.8h0M418.9 230.3h0M424.3 283.1h0M419.2 281.3h0M414.1 271.5h0M429.5 247.6h0M428.3 282.0h0M417.8 230.1h0M418.8 262.0h0M419.3 230.6h0M429.4 285.6h0M424.2 233.9h0M414.7 278.3h0M424.7 252.2h0M427.1 255.0h0M420.8 230.4h0M427.0 285.0h0M415.4 271.8h0M434.4 284.9h0M412.5 271.7h0M425.5 283.3h0M411.4 271.3h0M426.3 254.8h0M440.6 279.8h0M419.0 277.4h0M424.8 255.5h0M425.6 234.4h0M421.7 232.0h0M415.9 275.7h0M430.2 240.4h0M427.3 283.9h0M425.4 253.8h0M416.8 264.8h0M427.3 285.7h0M426.0 255.0h0M430.8 286.3h0M418.4 263.0h0M416.1 273.1h0M423.4 258.7h0M421.6 231.2h0M425.5 234.1h0M415.4 269.1h0M428.7 237.1h0M414.6 267.6h0M427.9 246.9h0M423.2 254.1h0M428.1 249.4h0M430.4 246.5h0M414.5 270.9h0M422.6 233.1h0M428.3 251.7h0M424.7 233.4h0M427.7 283.4h0M429.5 243.7h0M427.9 283.8h0M420.2 231.1h0M442.9 277.9h0M425.2 288.6h0M428.4 237.9h0M427.6 250.6h0M429.4 243.5h0M413.4 269.2h0M426.1 275.8h0M421.0 267.2h0M431.6 276.7h0M438.0 276.5h0M427.7 272.6h0M433.7 279.9h0M431.1 272.4h0M427.9 267.1h0M423.7 267.3h0M421.1 264.8h0M434.3 280.4h0M421.1 267.2h0M435.4 281.8h0M423.3 273.5h0M431.2 277.4h0M428.8 276.8h0M427.4 272.7h0M424.4 268.2h0M435.2 274.8h0M439.0 275.7h0M420.8 268.1h0M435.1 278.1h0M438.3 274.9h0M438.8 281.2h0M422.9 265.8h0M433.8 274.4h0M430.0 277.9h0M426.4 272.5h0M423.8 275.5h0M426.9 271.6h0M426.4 280.9h0M433.9 281.2h0M433.7 277.7h0M438.2 275.5h0M422.4 270.9h0M424.1 271.5h0M427.8 278.5h0M426.7 280.9h0M441.0 276.1h0M429.4 277.6h0M440.8 275.5h0M427.6 266.5h0M428.3 275.5h0M420.0 266.3h0M423.7 277.8h0M436.5 276.0h0M432.5 277.9h0M425.1 270.0h0M434.5 278.5h0M422.2 270.6h0M435.3 280.7h0M433.4 275.6h0M422.3 267.6h0M438.3 277.6h0M436.0 278.9h0M429.9 280.9h0M422.8 267.0h0M428.1 276.8h0M429.0 279.7h0M422.6 275.8h0M428.2 267.9h0M424.4 272.5h0M421.0 271.8h0M430.1 274.0h0M425.5 275.8h0M438.7 280.6h0M436.9 276.2h0M434.0 282.0h0M425.8 271.7h0M441.3 277.4h0M424.7 266.5h0M421.3 267.6h0M422.3 275.3h0M440.6 277.4h0M432.4 272.8h0M420.8 274.1h0M430.8 274.8h0M425.7 272.7h0M437.9 282.3h0M425.1 265.0h0M448.3 269.9h0M468.4 258.3h0M448.2 265.6h0M450.4 270.8h0M465.3 254.2h0M449.3 264.5h0M450.0 267.9h0M449.2 266.3h0M448.5 248.1h0M449.7 276.8h0M471.5 263.3h0M451.5 276.7h0M451.0 272.4h0M448.8 263.4h0M444.7 254.4h0M451.6 269.6h0M449.5 271.0h0M470.9 262.5h0M445.3 255.7h0M460.9 250.0h0M448.0 277.3h0M460.9 250.4h0M444.1 251.7h0M449.2 275.1h0M445.7 255.6h0M447.4 260.9h0M450.3 268.7h0M468.4 257.7h0M444.2 251.5h0M471.0 262.2h0M446.8 248.6h0M465.0 254.3h0M444.4 250.0h0M461.2 250.6h0M459.9 249.9h0M458.7 249.4h0M452.7 246.4h0M449.9 271.6h0M471.4 263.3h0M443.9 252.2h0M462.6 252.4h0M457.3 248.1h0M445.8 262.5h0M446.8 283.7h0M446.5 248.1h0M449.8 265.5h0M448.8 285.0h0M445.2 248.8h0M449.1 277.8h0M460.8 250.4h0M468.4 258.3h0M450.3 268.1h0M449.8 266.9h0M465.5 254.4h0M466.2 255.5h0M470.0 260.4h0M455.4 247.8h0M457.3 248.6h0M445.0 253.7h0M447.9 261.5h0M463.1 252.5h0M450.5 246.6h0M444.0 255.4h0M460.4 250.0h0M464.2 253.1h0M449.2 263.9h0M452.2 269.4h0M470.6 261.3h0M464.0 253.1h0M445.5 253.0h0M458.2 248.7h0M462.8 252.3h0M466.6 255.5h0M447.8 262.0h0M443.9 249.6h0M469.6 259.9h0M449.9 283.7h0M470.3 260.8h0M447.3 265.7h0M464.0 253.1h0M449.8 261.0h0M450.1 274.7h0M445.1 249.9h0M467.0 256.7h0M447.7 266.1h0M444.8 253.9h0M469.0 258.6h0M446.6 248.0h0M468.8 258.4h0M458.0 248.5h0M459.1 249.6h0M471.3 262.5h0M448.9 261.6h0M448.1 264.6h0M448.0 264.4h0M445.1 252.2h0M448.9 247.1h0M445.8 258.3h0M444.4 250.9h0M446.5 263.1h0M447.9 246.8h0M447.4 260.4h0M445.3 251.1h0M462.9 251.5h0M470.3 261.0h0M445.2 254.2h0M444.3 250.5h0M445.2 257.8h0M469.9 260.4h0M449.7 268.5h0M447.7 282.9h0M460.0 249.7h0M448.2 262.6h0M445.6 256.7h0M448.4 260.7h0M444.3 253.7h0M471.1 262.0h0M463.4 252.4h0M444.7 254.2h0M445.7 258.2h0M451.1 272.0h0M445.1 253.9h0M460.6 250.4h0M467.3 256.9h0M468.0 257.2h0M448.1 263.8h0M445.2 257.1h0M449.0 275.3h0M444.8 249.1h0M449.5 274.9h0M447.5 259.2h0M465.8 254.8h0M446.2 249.4h0M450.3 280.0h0M448.5 263.9h0M445.1 248.8h0M451.0 271.7h0M444.8 249.5h0M447.9 262.5h0M454.3 247.4h0M462.1 251.2h0M465.7 255.1h0M448.3 264.9h0M450.8 275.1h0M449.1 268.1h0M449.8 264.3h0M450.6 272.5h0M450.0 247.6h0M445.2 253.3h0M459.3 249.6h0M470.4 260.9h0M461.3 250.9h0M443.0 251.8h0M446.0 260.9h0M446.9 258.9h0M448.8 265.1h0M449.5 281.2h0M449.6 273.0h0M467.6 256.7h0M448.7 264.7h0M449.9 246.7h0M459.5 249.7h0M464.7 253.6h0M469.6 260.0h0M448.6 263.2h0M464.8 253.9h0M446.4 258.4h0M456.5 247.6h0M449.7 271.7h0M470.8 261.9h0M444.7 249.9h0M467.6 256.7h0M461.3 250.8h0M458.5 248.8h0M444.8 251.7h0M448.3 265.0h0M450.4 266.1h0M448.3 247.1h0M450.3 247.1h0M449.4 281.4h0M467.3 256.6h0M451.0 269.6h0M447.2 283.7h0M445.5 249.1h0M448.1 262.6h0M464.1 253.2h0M453.8 247.3h0M452.0 246.7h0M451.4 268.3h0M451.0 247.0h0M462.6 252.1h0M444.6 254.6h0M448.2 268.2h0M449.8 267.5h0M448.7 247.6h0M469.9 259.8h0M458.8 249.1h0M450.3 276.0h0M449.5 271.8h0M448.6 277.2h0M445.1 251.3h0M449.9 280.1h0M449.4 263.5h0M448.0 281.3h0M444.5 251.6h0M458.8 248.4h0M464.3 253.6h0M459.6 249.4h0M470.1 260.3h0M461.4 251.1h0M444.8 256.1h0M449.9 268.8h0M446.2 256.4h0M461.2 251.2h0M471.7 262.8h0M450.3 279.0h0M450.0 280.8h0M459.5 249.7h0M444.5 260.7h0M451.0 275.8h0M444.1 252.1h0M460.6 250.4h0M470.1 260.9h0M446.7 258.8h0M450.5 272.5h0M468.5 258.1h0M446.3 248.8h0M470.0 260.6h0M444.0 256.5h0M450.5 277.7h0M450.5 281.5h0M447.6 247.5h0M450.2 274.0h0M466.8 256.1h0M470.1 261.0h0M466.7 255.8h0M453.4 247.1h0M447.0 262.2h0M470.6 261.1h0M445.5 251.2h0M448.5 262.2h0M447.4 262.1h0M448.0 247.5h0M450.2 246.9h0M468.9 259.5h0M452.5 246.1h0M457.2 248.5h0M460.3 249.7h0M450.5 272.6h0M444.9 256.8h0M460.3 250.2h0M449.7 282.4h0M466.5 255.8h0M448.4 247.3h0M470.0 260.4h0M465.3 254.7h0M447.3 254.0h0M445.3 253.7h0M449.2 284.4h0M450.9 272.3h0M449.0 278.8h0M463.2 252.3h0M447.7 280.0h0M464.1 253.5h0M444.0 252.8h0M451.3 246.9h0M455.8 247.3h0M447.3 261.4h0M462.5 251.5h0M450.7 279.2h0M446.6 259.8h0M459.0 249.3h0M446.0 257.2h0M450.1 270.2h0M450.3 279.9h0M444.6 251.4h0M449.3 265.9h0M449.3 267.9h0M444.9 254.0h0M450.8 272.8h0M449.4 270.9h0M453.0 247.1h0M448.6 273.0h0M447.4 262.1h0M468.9 258.3h0M449.5 279.6h0M450.3 270.4h0M469.7 260.6h0M445.1 254.4h0M470.4 261.1h0M454.3 247.2h0M448.3 263.6h0M469.3 259.8h0M460.4 250.8h0M447.6 263.8h0M446.0 257.5h0M450.0 269.6h0M446.5 248.5h0M464.5 253.1h0M449.2 283.8h0" stroke="#e8303c" stroke-width="1.3" stroke-linecap="round" fill="none"/>
<rect x="408.30" y="226.40" width="66.20" height="64.90" fill="none" stroke="#cfcfcf" stroke-width="1"/>
<path d="M518.1 270.5h0M488.8 235.8h0M504.9 258.8h0M491.5 237.5h0M501.8 256.2h0M495.0 250.7h0M514.6 268.6h0M513.3 270.8h0M497.8 252.4h0M496.8 248.9h0M488.8 237.1h0M485.3 234.4h0M490.7 244.6h0M501.2 256.3h0M484.4 231.5h0M497.8 247.5h0M512.6 266.4h0M512.9 270.1h0M488.3 235.3h0M506.4 258.0h0M492.5 240.5h0M506.5 262.8h0M487.7 242.5h0M507.1 262.6h0M488.7 242.3h0M494.9 243.5h0M489.7 243.9h0M494.6 244.1h0M490.8 245.5h0M486.4 237.8h0M510.8 266.2h0M493.9 243.1h0M503.7 255.8h0M508.1 260.8h0M495.4 248.5h0M495.5 246.0h0M484.3 233.1h0M482.1 240.3h0M504.3 257.7h0M509.2 261.6h0M505.7 260.5h0M510.4 267.7h0M497.5 253.1h0M486.0 234.5h0M487.8 237.3h0M499.5 245.5h0M513.9 273.1h0M498.9 251.3h0M497.1 245.4h0M484.1 230.2h0M506.8 261.9h0M490.5 240.5h0M488.9 228.5h0M513.5 267.3h0M505.7 255.6h0M491.6 240.7h0M495.4 251.2h0M515.7 272.8h0M506.4 259.1h0M494.1 245.1h0M487.3 240.7h0M515.3 271.9h0M496.0 243.1h0M495.7 245.4h0M494.9 243.7h0M499.0 251.7h0M502.5 263.3h0M497.6 247.6h0M488.8 240.8h0M482.3 229.9h0M513.0 266.6h0M489.7 239.4h0M512.6 268.3h0M483.0 229.7h0M504.6 258.2h0M482.4 230.7h0M493.0 246.7h0M513.6 269.7h0M522.2 266.2h0M528.9 255.2h0M524.7 260.2h0M537.5 239.4h0M518.6 258.6h0M519.2 264.1h0M538.1 246.3h0M538.1 248.8h0M538.9 242.1h0M542.0 236.6h0M540.0 242.1h0M523.3 268.2h0M537.5 237.9h0M530.0 250.5h0M517.2 269.6h0M524.4 261.3h0M529.1 253.2h0M531.2 258.9h0M534.8 245.8h0M518.8 266.5h0M520.1 268.4h0M518.9 270.6h0M515.8 270.1h0M537.7 241.6h0M524.4 262.0h0M536.8 239.6h0M533.3 243.9h0M537.9 234.6h0M534.4 250.3h0M521.9 265.6h0M538.6 246.6h0M526.6 255.5h0M526.6 259.0h0M536.6 238.1h0M520.0 265.5h0M533.0 247.6h0M527.5 263.6h0M530.3 256.4h0M539.3 250.0h0M534.4 242.6h0M531.2 254.1h0M526.6 260.7h0M538.8 242.5h0M531.7 251.9h0M536.8 244.2h0M533.2 251.2h0M530.1 257.5h0M521.4 262.8h0M503.6 288.1h0M516.0 240.8h0M515.3 246.2h0M502.1 269.5h0M513.7 254.7h0" stroke="#3450a6" stroke-width="1.5" stroke-linecap="round" fill="none"/><path d="M502.0 252.7h0M492.7 240.6h0M495.0 247.7h0M496.7 249.1h0M495.7 246.8h0M508.9 262.7h0M498.2 251.0h0M501.7 253.9h0M514.8 268.5h0M487.1 235.7h0M497.2 245.4h0M490.5 243.9h0M490.1 238.8h0M479.3 231.7h0M484.8 237.4h0M507.1 262.3h0M499.2 258.1h0M507.1 263.6h0M501.6 257.4h0M492.8 241.3h0M513.0 267.2h0M487.9 235.5h0M501.7 258.5h0M489.5 240.2h0M485.3 238.3h0M487.2 228.4h0M497.6 249.4h0M492.3 242.2h0M486.0 235.0h0M484.5 228.8h0M489.4 240.1h0M491.1 240.0h0M503.8 260.2h0M511.9 269.7h0M514.3 269.4h0M488.6 239.1h0M499.6 252.1h0M491.8 236.3h0M509.5 264.5h0M506.3 260.4h0M502.7 256.6h0M506.8 263.9h0M487.4 235.4h0M513.8 271.4h0M490.8 244.8h0M484.8 232.5h0M495.1 243.0h0M489.4 238.3h0M489.8 240.4h0M501.0 254.1h0M508.9 264.5h0M513.0 268.8h0M494.3 245.4h0M481.0 231.9h0M488.4 238.4h0M491.5 236.7h0M499.2 255.0h0M493.6 242.9h0M507.8 269.1h0M505.9 266.2h0M515.9 272.3h0M501.4 253.9h0M491.4 240.3h0M491.8 245.1h0M511.4 267.4h0M513.5 273.3h0M493.6 248.1h0M500.8 254.0h0M489.0 237.3h0M484.6 228.0h0M513.6 264.8h0M508.7 259.7h0M535.6 246.9h0M540.0 238.2h0M519.2 268.7h0M517.3 268.7h0M524.4 271.5h0M536.9 236.4h0M535.1 244.4h0M519.5 269.4h0M533.5 255.0h0M523.3 261.0h0M536.8 245.6h0M540.1 240.7h0M523.4 259.0h0M528.0 257.8h0M539.8 238.0h0M536.8 247.4h0M519.6 269.1h0M533.7 249.3h0M539.3 235.8h0M534.0 253.6h0M518.7 268.7h0M536.5 245.5h0M534.4 246.8h0M530.8 259.4h0M537.9 244.7h0M536.1 236.2h0M518.5 268.8h0M537.9 244.5h0M538.9 241.8h0M527.4 255.1h0M538.0 241.3h0M537.5 248.4h0M517.9 269.0h0M528.0 253.0h0M540.7 235.3h0M537.4 247.2h0M540.7 237.8h0M518.0 271.7h0M526.5 262.4h0M530.1 253.3h0M515.0 269.0h0M527.5 255.4h0M531.4 248.6h0M531.9 253.2h0M525.2 258.5h0M531.7 255.1h0M538.3 245.5h0M535.4 244.5h0M542.0 235.9h0M519.1 269.3h0M532.3 252.5h0M524.9 263.2h0M539.5 246.2h0M517.4 266.6h0M537.8 242.6h0M523.2 261.6h0M521.3 266.0h0M523.1 262.4h0M538.2 237.3h0M536.7 247.5h0M542.3 240.9h0M536.3 244.0h0M528.0 262.8h0M517.6 265.5h0M528.4 253.2h0M528.4 250.4h0M538.9 241.8h0M539.0 234.6h0M514.6 266.5h0M535.6 240.0h0M530.3 260.0h0M524.3 261.5h0M535.1 246.8h0M531.5 254.2h0M519.2 267.1h0M530.8 248.2h0M532.3 252.2h0M524.0 264.8h0M519.9 268.5h0M530.1 253.3h0M524.9 256.4h0M525.6 258.6h0M504.4 272.6h0M505.2 278.8h0M509.1 282.7h0M516.0 238.4h0M509.1 276.5h0M518.4 253.2h0" stroke="#e8303c" stroke-width="1.5" stroke-linecap="round" fill="none"/>
<rect x="478.50" y="226.40" width="66.40" height="64.90" fill="none" stroke="#cfcfcf" stroke-width="1"/>
<path d="M560.0 265.0h0M565.0 270.2h0M555.1 255.4h0M554.3 265.9h0M574.7 275.3h0M578.6 282.6h0M553.2 258.9h0M565.2 270.2h0M566.6 268.4h0M556.1 258.8h0M571.9 273.2h0M551.5 263.0h0M566.3 266.9h0M577.6 282.2h0M575.3 282.9h0M557.1 262.8h0M556.1 259.4h0M551.8 257.6h0M564.4 268.7h0M559.1 262.7h0M560.7 266.0h0M553.2 261.2h0M555.8 261.4h0M570.3 273.4h0M552.9 266.6h0M555.2 254.3h0M568.8 273.8h0M559.9 264.2h0M556.2 263.2h0M561.8 268.8h0M562.5 268.4h0M554.1 264.0h0M556.3 258.9h0M553.8 256.7h0M574.0 277.6h0M557.9 262.0h0M571.5 274.3h0M557.4 259.7h0M562.1 267.0h0M564.4 268.7h0M556.3 260.5h0M557.2 257.3h0M563.1 268.7h0M572.8 276.1h0M558.6 264.9h0M554.7 263.7h0M553.3 259.4h0M561.4 266.0h0M557.7 262.4h0M555.4 257.3h0M563.8 266.6h0M556.5 261.9h0M551.0 263.5h0M556.6 255.4h0M577.2 283.4h0M571.7 273.4h0M574.7 281.0h0M558.7 260.1h0M568.8 273.8h0M583.7 277.1h0M591.7 255.0h0M594.7 252.1h0M593.6 259.5h0M586.6 269.3h0M603.3 238.1h0M605.2 242.3h0M607.8 240.4h0M585.2 276.3h0M585.8 273.4h0M605.2 242.0h0M598.3 247.7h0M591.3 263.4h0M600.6 237.0h0M599.6 247.3h0M585.2 264.2h0M605.3 238.6h0M596.0 251.0h0M580.2 276.3h0M587.2 271.3h0M580.7 280.7h0M603.7 238.1h0M593.9 253.4h0M586.1 268.0h0M609.4 233.3h0M601.3 248.2h0M609.1 231.6h0M587.7 265.1h0M581.4 277.6h0M601.8 252.2h0M596.2 249.4h0M587.0 264.0h0M588.3 264.0h0M594.5 259.2h0M585.1 260.9h0M602.2 242.0h0M600.8 243.1h0M579.4 277.7h0M579.3 279.9h0M607.5 238.2h0M589.9 259.5h0M605.9 241.5h0M607.2 234.7h0M582.8 279.1h0M597.9 254.6h0M585.1 281.3h0M592.3 262.7h0M587.6 274.9h0M584.0 274.1h0M580.4 274.9h0M590.7 258.9h0M599.8 245.8h0M592.4 257.1h0M605.9 238.3h0M597.2 250.7h0M577.5 264.0h0M572.8 265.6h0M596.1 260.9h0M596.1 268.7h0M586.0 285.0h0" stroke="#3450a6" stroke-width="1.5" stroke-linecap="round" fill="none"/><path d="M553.1 263.5h0M557.9 260.3h0M571.7 277.4h0M552.8 266.5h0M565.4 271.3h0M564.1 267.3h0M565.2 267.4h0M560.7 264.4h0M556.7 260.8h0M570.9 274.9h0M554.3 261.6h0M557.6 263.0h0M571.2 278.6h0M572.7 278.3h0M557.1 262.7h0M579.9 282.9h0M569.0 273.8h0M576.4 280.1h0M555.6 265.2h0M555.5 260.9h0M555.7 262.6h0M552.5 264.3h0M569.7 275.4h0M555.7 259.3h0M553.0 262.4h0M555.2 262.0h0M556.4 263.9h0M560.0 264.6h0M575.3 275.6h0M564.1 267.7h0M565.8 269.5h0M558.5 267.3h0M559.1 261.7h0M552.2 259.9h0M564.3 272.5h0M554.0 258.7h0M555.0 254.7h0M556.9 263.5h0M555.1 258.1h0M557.6 265.6h0M569.2 274.2h0M554.4 266.1h0M569.2 276.8h0M566.9 271.8h0M577.0 279.7h0M551.7 261.9h0M567.4 272.3h0M570.4 268.8h0M557.3 258.9h0M573.1 278.9h0M555.2 255.1h0M556.9 263.9h0M556.7 263.5h0M558.5 260.2h0M551.8 262.6h0M567.1 267.1h0M560.2 261.8h0M559.7 262.6h0M553.1 262.1h0M554.2 256.7h0M552.9 255.1h0M611.4 232.0h0M582.5 270.0h0M609.8 229.6h0M603.7 236.0h0M603.2 244.4h0M582.1 280.9h0M576.0 277.0h0M597.6 252.3h0M603.4 241.7h0M588.9 260.5h0M585.0 269.7h0M608.5 234.4h0M601.9 249.1h0M583.4 273.7h0M585.8 270.6h0M612.7 233.0h0M599.9 246.6h0M592.1 252.4h0M606.1 240.6h0M589.8 262.2h0M585.4 270.1h0M585.0 275.1h0M593.8 260.9h0M599.1 243.3h0M604.7 245.6h0M608.7 231.6h0M592.2 256.7h0M576.7 276.1h0M597.9 251.8h0M587.0 269.9h0M597.3 250.4h0M578.3 279.0h0M581.8 274.0h0M584.7 268.4h0M608.4 234.4h0M604.9 244.4h0M581.1 271.2h0M594.0 246.6h0M591.1 257.6h0M600.2 245.6h0M579.0 273.1h0M610.9 229.8h0M603.7 244.4h0M580.5 278.9h0M578.7 276.9h0M590.7 269.8h0M597.2 252.9h0M588.8 263.1h0M600.5 248.7h0M584.6 277.5h0M590.2 260.1h0M593.7 259.5h0M602.9 246.7h0M601.9 254.0h0M613.5 230.5h0M589.0 275.7h0M608.2 233.9h0M585.2 265.5h0M602.0 240.9h0M588.7 265.2h0M587.5 262.3h0M590.3 262.3h0M600.1 249.1h0M589.3 262.4h0M597.1 256.0h0M583.0 278.5h0M583.4 268.4h0M587.0 272.2h0M581.8 269.3h0M608.9 239.0h0M602.3 248.7h0M580.4 274.9h0M587.4 270.1h0M589.7 263.2h0M583.6 273.4h0M585.3 233.0h0M585.3 238.4h0M577.5 243.1h0M581.4 248.5h0M571.3 254.7h0M576.7 254.0h0M581.4 256.3h0M586.0 254.7h0M586.0 257.1h0M581.4 266.4h0M585.3 280.3h0" stroke="#e8303c" stroke-width="1.5" stroke-linecap="round" fill="none"/>
<rect x="548.50" y="226.40" width="65.90" height="64.90" fill="none" stroke="#cfcfcf" stroke-width="1"/>
<path d="M650.3 229.0h0M627.5 251.2h0M642.8 235.3h0M627.3 253.7h0M633.9 247.3h0M621.4 264.6h0M623.6 262.7h0M640.7 241.9h0M642.4 235.0h0M629.6 243.7h0M636.8 239.7h0M618.7 263.4h0M624.7 259.0h0M625.6 255.6h0M629.2 249.8h0M639.3 240.1h0M627.9 247.4h0M618.7 262.5h0M638.5 237.6h0M632.7 246.3h0M642.9 232.3h0M626.3 251.2h0M627.1 260.7h0M645.7 237.6h0M635.5 241.7h0M643.9 228.9h0M646.2 232.3h0M626.5 251.3h0M633.7 244.0h0M639.7 241.3h0M649.8 230.1h0M629.5 252.9h0M625.5 255.6h0M622.0 264.3h0M637.6 240.7h0M647.9 228.8h0M650.6 231.8h0M644.0 233.6h0M646.0 236.8h0M632.2 244.3h0M633.7 245.3h0M628.1 253.4h0M647.3 231.6h0M623.8 261.9h0M645.0 233.1h0M634.8 241.5h0M641.6 240.3h0M631.6 246.8h0M626.6 253.2h0M629.4 247.8h0M643.7 233.8h0M636.6 240.2h0M643.2 234.6h0M629.3 253.9h0M648.4 231.8h0M637.8 247.1h0M640.7 236.9h0M634.3 244.9h0M650.8 228.3h0M626.8 256.1h0M633.0 249.8h0M645.1 237.5h0M632.5 246.5h0M630.4 247.2h0M630.4 244.1h0M632.5 244.3h0M638.6 241.0h0M644.4 238.2h0M642.5 235.9h0M623.2 262.6h0M621.8 263.8h0M646.6 241.6h0M645.1 231.8h0M650.7 232.9h0M635.3 242.4h0M626.9 257.4h0M636.4 244.1h0M625.1 256.8h0M642.6 231.3h0M652.0 234.4h0M640.3 239.9h0M624.4 261.9h0M651.0 230.7h0M636.5 239.6h0M623.9 259.7h0M638.6 244.1h0M633.4 242.3h0M623.2 258.6h0M636.9 240.7h0M623.7 263.8h0M642.7 239.2h0M638.1 239.1h0M641.1 235.6h0M623.6 253.3h0M641.6 235.9h0M646.7 229.3h0M633.7 247.4h0M628.5 252.1h0M631.1 250.1h0M632.2 246.1h0M630.5 253.4h0M626.0 260.3h0M625.8 255.5h0M627.6 256.1h0M622.7 257.7h0M649.4 232.2h0M624.4 264.4h0M624.3 256.2h0M634.0 242.8h0M646.0 231.6h0M635.5 238.2h0M641.1 241.0h0M642.0 232.8h0M646.5 233.9h0M632.0 250.1h0M621.8 254.2h0M629.5 250.1h0M648.1 230.3h0M638.2 239.3h0M636.4 241.9h0M640.2 237.3h0M637.6 242.1h0M649.8 229.9h0M620.4 262.3h0M623.8 261.0h0M627.4 259.7h0M639.8 242.0h0M622.7 259.7h0M653.8 233.7h0M629.7 246.5h0M625.8 248.7h0M630.3 251.6h0M646.2 235.3h0M644.3 236.5h0M620.4 261.9h0M628.3 253.9h0M631.1 246.6h0M635.6 245.3h0M623.2 262.9h0M633.1 249.3h0M627.8 256.5h0M624.7 254.0h0M624.3 248.6h0M639.8 235.9h0M633.6 242.5h0M639.6 241.2h0M647.9 233.8h0M637.8 233.6h0M628.5 252.1h0M624.9 261.4h0M635.2 250.1h0M636.4 243.8h0M621.8 262.0h0M624.0 262.8h0M622.4 259.4h0M650.1 232.1h0M640.9 239.0h0M627.7 251.8h0M621.4 258.2h0M644.1 232.1h0M647.7 231.1h0M637.4 239.5h0M647.6 231.8h0M620.6 264.4h0M634.0 240.6h0M623.0 260.1h0M627.4 251.9h0M624.0 255.8h0M622.2 256.0h0M641.7 236.2h0M625.4 261.7h0M624.6 258.9h0M629.8 247.1h0M638.7 238.0h0M631.4 249.6h0M635.9 239.5h0M622.7 260.2h0M634.0 244.3h0M639.2 240.3h0M619.2 259.5h0M629.5 251.9h0M624.3 258.7h0M637.6 237.0h0M636.4 243.5h0M639.7 235.1h0M622.9 258.8h0M627.0 252.4h0M641.1 239.7h0M639.2 238.5h0M624.7 263.6h0M629.3 248.1h0M644.6 237.1h0M648.9 230.6h0M625.8 263.5h0M628.8 254.8h0M650.5 228.1h0M641.4 240.2h0M636.8 244.9h0M621.4 257.0h0M626.4 253.9h0M642.4 233.0h0M623.2 265.2h0M643.7 231.7h0M641.4 234.2h0M623.4 264.6h0M642.0 231.4h0M640.4 238.2h0M639.2 243.4h0M629.9 250.6h0M638.6 235.3h0M629.5 249.1h0M630.1 255.0h0M633.5 246.7h0M641.3 232.4h0M631.6 254.2h0M645.2 234.0h0M647.3 232.0h0M644.5 233.7h0M652.5 235.7h0M625.8 256.4h0M637.1 240.4h0M653.0 234.5h0M628.6 254.6h0M622.5 264.3h0M624.4 260.5h0M637.6 250.3h0M643.3 235.9h0M630.5 249.9h0M640.7 233.7h0M631.4 244.9h0M648.4 231.0h0M631.3 247.0h0M624.1 253.0h0M651.9 233.2h0M621.9 258.7h0M621.9 261.2h0M641.4 237.5h0M643.4 231.2h0M627.0 254.8h0M648.0 234.3h0M650.7 228.4h0M643.9 238.3h0M639.0 239.9h0M632.5 240.2h0M636.5 235.4h0M639.6 236.9h0M618.5 260.9h0M638.1 241.6h0M628.7 246.0h0M628.0 256.5h0M623.5 263.2h0M632.7 244.8h0M623.9 264.8h0M623.4 259.6h0M637.6 242.5h0M628.9 255.4h0M645.6 232.7h0M632.7 245.8h0M635.8 237.2h0M631.1 244.5h0M625.8 258.9h0M625.6 264.5h0M630.3 247.2h0M632.9 247.8h0M622.1 260.0h0M648.3 230.3h0M627.3 257.9h0M627.1 252.7h0M638.6 240.6h0M623.6 264.9h0M647.9 235.0h0M626.9 250.9h0M629.5 247.8h0M646.9 232.9h0M631.9 248.0h0M630.1 248.2h0M628.9 243.8h0M642.3 234.6h0M637.8 242.5h0M620.2 265.1h0M618.2 262.9h0M633.4 239.5h0M636.9 243.0h0M640.9 239.7h0M619.7 262.0h0M631.0 237.6h0M627.9 252.2h0M627.0 252.8h0M630.9 247.5h0M637.9 242.5h0M633.4 242.3h0M631.8 239.8h0M629.3 248.1h0M642.7 234.4h0M643.8 240.0h0M638.7 240.7h0M627.9 264.4h0M642.0 239.7h0M626.9 252.3h0M641.4 233.1h0M634.2 244.8h0M624.9 255.9h0M622.8 264.7h0M652.2 231.0h0M636.5 241.4h0M623.0 259.0h0M639.7 241.2h0M635.7 247.4h0M636.0 243.1h0M628.6 244.5h0M651.4 232.6h0M635.0 243.7h0M650.6 231.2h0M628.5 250.2h0M626.0 258.1h0M635.8 242.3h0M622.0 261.3h0M647.5 229.7h0M648.7 233.2h0M624.4 255.0h0M636.0 241.8h0M644.1 235.4h0M639.5 241.6h0M632.5 244.8h0M645.7 233.2h0M639.3 235.2h0M637.8 238.4h0M621.7 256.9h0M645.4 233.5h0M644.5 232.2h0M653.1 234.2h0M626.0 249.4h0M639.5 238.2h0M649.0 235.0h0M624.8 260.4h0M620.6 261.3h0M625.1 264.9h0M631.4 248.8h0M629.2 251.7h0M644.4 235.4h0M626.0 250.9h0M633.4 242.2h0M625.8 253.8h0M623.7 257.6h0M636.3 241.6h0M630.4 251.2h0M621.7 264.4h0M623.9 256.7h0M626.7 257.7h0M622.7 259.0h0M621.6 256.3h0M644.6 237.2h0M640.9 237.1h0M644.1 232.3h0M646.3 232.1h0M635.7 242.7h0M650.1 226.2h0M628.2 252.7h0M641.2 237.5h0M648.1 231.3h0M628.2 252.7h0M631.5 242.3h0M627.8 253.5h0M635.4 249.5h0M650.6 230.0h0M648.7 233.0h0M626.2 253.8h0M637.7 242.5h0M640.2 236.5h0M646.3 229.3h0M621.6 262.3h0M627.5 249.0h0M639.8 238.3h0M643.1 234.4h0M624.5 263.5h0M637.5 243.2h0M634.8 242.2h0M644.9 234.2h0M633.9 245.3h0M643.1 240.5h0M620.3 263.3h0M645.3 236.5h0M629.0 254.3h0M630.2 247.9h0M632.3 243.4h0M627.6 245.9h0M629.6 246.8h0M627.0 251.7h0M646.8 236.1h0M624.3 257.7h0M635.3 240.1h0M643.7 235.2h0M623.8 263.9h0M650.0 231.9h0M644.0 234.1h0M631.8 247.0h0M640.7 241.7h0M629.2 254.2h0M628.3 251.4h0M641.4 238.4h0M637.3 239.2h0M650.5 230.8h0M624.7 249.8h0M628.3 244.2h0M650.2 231.5h0M648.8 229.4h0M629.4 248.8h0M640.1 237.2h0M630.8 247.1h0M636.2 241.9h0M638.1 237.4h0M625.6 259.8h0M627.3 253.4h0M643.0 236.2h0M645.2 238.8h0M623.7 259.9h0M623.8 263.6h0M635.1 241.7h0M634.2 248.0h0M633.9 245.2h0M626.8 252.7h0M622.0 258.8h0M634.9 241.6h0M647.2 234.1h0M633.6 238.9h0M647.9 235.9h0M625.1 264.8h0M646.8 233.8h0M620.8 259.2h0M621.9 257.4h0M640.1 236.6h0M623.8 260.0h0M635.5 245.4h0M621.4 257.3h0M623.6 262.9h0M629.0 248.6h0M624.5 257.5h0M634.4 244.3h0M648.6 233.8h0M624.7 254.6h0M634.3 249.7h0M626.3 248.6h0M625.6 252.9h0M645.5 238.3h0M639.3 239.4h0M628.0 250.1h0M640.2 234.9h0M642.0 231.4h0M626.3 247.5h0M634.5 245.1h0M626.4 256.1h0M646.6 276.1h0M625.0 260.5h0M661.4 274.0h0M645.9 267.5h0M627.4 276.9h0M634.3 271.1h0M666.5 262.5h0M655.2 272.4h0M633.1 268.1h0M631.6 267.4h0M648.6 268.2h0M638.1 277.8h0M632.9 253.6h0M622.2 260.0h0M630.4 254.2h0M658.3 262.1h0M626.1 269.8h0M638.9 256.8h0M623.5 270.5h0M637.1 250.6h0M651.3 269.2h0M636.1 271.2h0M645.7 266.3h0M651.9 280.3h0M645.5 266.0h0M626.8 256.1h0M659.6 265.3h0M656.4 256.7h0M655.5 255.3h0M640.9 270.1h0M663.9 258.0h0M657.5 281.0h0M629.9 270.1h0M637.1 278.0h0M630.9 260.3h0M639.2 258.5h0M646.8 263.7h0M637.6 257.2h0M656.1 269.4h0M627.1 275.7h0M640.6 276.8h0M638.0 274.2h0M645.7 279.4h0M622.6 260.1h0M641.6 267.1h0M647.7 267.4h0M633.7 253.7h0M631.0 259.6h0M629.6 254.1h0M648.0 267.5h0M655.9 263.9h0M645.3 282.0h0M647.2 268.3h0M630.2 258.6h0M666.4 270.5h0M665.6 271.3h0M640.5 285.0h0M660.6 262.2h0M632.9 251.6h0M656.5 262.1h0M640.0 284.4h0M637.4 253.6h0M659.1 264.6h0M661.2 277.8h0M643.6 272.4h0M648.3 271.7h0M635.8 261.6h0M637.2 267.6h0M651.2 272.0h0M638.6 270.6h0M636.4 262.0h0M637.8 279.2h0M654.2 278.4h0M661.5 270.2h0M632.8 259.6h0M652.7 267.9h0M631.8 283.2h0M634.4 270.4h0M647.9 274.2h0M644.7 273.5h0M627.4 265.3h0M631.4 264.0h0M623.3 258.8h0M655.4 276.6h0M649.6 273.3h0M650.0 261.1h0M655.1 278.9h0M634.9 282.5h0M649.6 267.4h0M645.2 271.4h0M634.9 257.1h0M643.9 276.2h0M620.4 260.0h0M647.4 264.9h0M627.3 256.6h0M643.9 277.9h0M635.5 282.9h0M635.7 262.4h0M623.1 265.4h0M626.1 260.5h0M627.2 265.9h0M643.6 282.3h0M641.6 276.5h0M625.2 255.5h0M641.8 267.4h0M630.3 268.9h0M639.5 277.6h0M632.2 260.4h0M631.1 252.8h0M630.1 262.7h0M658.5 271.5h0M649.7 284.8h0M647.2 276.2h0M635.1 251.0h0M642.3 285.4h0M643.4 279.3h0M661.7 267.5h0M634.5 270.2h0M644.2 283.3h0M627.6 266.4h0M647.3 264.1h0M636.5 283.1h0M642.4 266.7h0M636.0 281.4h0M657.0 255.0h0M627.1 268.3h0M649.1 280.0h0M628.9 269.0h0M636.9 261.3h0M640.8 271.0h0M653.5 261.5h0M642.1 265.4h0M642.8 262.0h0M659.3 259.7h0M652.5 283.2h0M628.4 256.3h0M657.8 279.3h0M642.5 277.0h0M657.6 272.0h0M637.8 253.2h0M633.4 250.9h0M642.6 286.7h0M634.1 256.9h0M640.3 262.2h0M643.3 283.8h0M638.1 273.5h0M638.9 279.1h0M648.0 283.2h0M642.3 275.1h0M662.4 274.5h0M663.7 264.5h0M631.8 249.4h0M654.9 258.9h0M651.3 273.4h0M643.6 277.4h0M634.8 273.8h0M635.7 275.0h0M650.8 277.4h0M634.6 274.9h0M634.7 268.9h0M663.3 265.1h0M665.4 266.9h0M650.5 267.0h0M659.7 257.3h0M650.5 281.2h0M634.3 280.7h0M647.9 286.0h0M633.6 267.1h0M637.2 254.6h0M632.3 260.5h0M630.4 261.4h0M634.1 284.3h0M636.3 268.2h0M639.5 262.3h0M635.5 266.1h0M624.8 263.3h0M642.4 265.7h0M651.6 262.5h0M626.4 252.9h0M631.4 267.4h0M663.2 260.1h0M624.5 272.5h0M630.6 274.4h0M654.7 263.9h0M635.9 282.4h0M654.1 272.8h0M652.5 270.9h0M645.8 279.6h0M639.1 260.8h0M629.4 255.1h0M625.4 268.6h0M632.9 274.1h0M664.7 266.8h0M641.5 282.9h0M645.0 277.6h0M635.7 248.8h0M642.0 272.1h0M644.8 275.4h0M638.8 257.5h0M654.4 262.7h0M644.0 280.5h0M626.9 271.7h0M664.9 269.0h0M632.1 279.6h0M639.5 286.6h0M635.3 271.1h0M660.6 270.8h0M654.6 260.7h0M631.3 258.8h0M654.0 267.0h0M653.0 272.4h0M649.6 279.8h0M656.0 278.5h0M638.0 287.2h0M651.4 282.5h0M662.4 268.7h0M639.6 279.1h0M632.6 266.9h0M631.6 277.6h0M647.8 274.4h0M666.9 262.8h0M633.9 265.0h0M635.6 271.9h0M652.4 267.0h0M636.5 277.2h0M632.4 262.3h0M655.3 276.5h0M662.5 276.7h0M654.3 273.3h0M643.0 269.9h0M630.6 256.3h0M658.1 257.5h0M655.7 280.1h0M638.2 256.6h0M652.0 279.8h0M632.2 278.8h0M646.0 276.2h0M650.8 267.0h0M638.8 286.0h0M641.2 268.9h0M636.7 254.8h0M629.1 256.1h0M665.8 273.5h0M621.5 270.2h0M651.4 269.6h0M639.6 268.4h0M651.2 262.3h0M647.4 279.9h0M655.4 271.5h0M633.7 259.2h0M647.6 271.2h0M622.4 274.3h0M649.1 267.1h0M641.8 284.2h0M635.7 267.1h0M632.1 269.9h0M622.9 254.5h0M654.4 273.4h0M624.2 273.3h0M641.1 279.7h0M632.9 260.3h0M658.6 258.1h0M642.7 284.9h0M655.4 261.4h0M630.7 258.4h0M633.2 249.9h0M629.0 249.9h0M653.9 258.3h0M641.5 286.6h0M624.1 274.8h0M627.0 277.1h0M643.6 286.0h0M666.3 264.7h0M641.2 266.1h0M625.6 252.1h0M641.7 284.9h0M662.1 257.1h0M641.3 273.3h0M642.0 262.7h0M662.7 272.5h0M655.0 276.4h0M655.9 256.0h0M665.4 271.9h0M634.8 266.1h0M651.7 263.1h0M636.4 279.9h0M642.1 267.7h0M658.5 260.0h0M654.8 263.5h0M661.5 275.4h0M646.4 272.4h0M653.3 271.7h0M631.0 265.8h0M631.6 281.9h0M661.0 259.5h0M639.9 286.3h0M640.3 285.0h0M659.4 261.6h0M630.7 279.9h0M648.3 283.6h0M628.2 252.6h0M636.5 281.0h0M629.7 261.3h0M635.7 274.7h0M629.6 279.2h0M650.7 286.5h0M625.6 251.0h0M656.0 275.9h0M644.9 279.7h0M643.9 278.2h0M625.0 264.1h0M658.3 277.9h0M623.1 260.2h0M632.0 280.3h0M628.2 275.4h0M651.6 271.2h0M633.2 279.1h0M657.7 267.1h0M659.1 257.1h0M643.1 277.9h0M658.4 256.7h0M654.2 266.2h0M640.8 266.7h0M646.7 274.2h0M645.1 274.8h0M638.0 274.9h0M636.8 284.0h0M633.9 259.4h0M656.9 265.3h0M657.3 281.2h0M659.4 269.9h0M635.4 279.1h0M648.5 271.5h0M644.1 271.4h0M627.1 279.2h0M644.6 264.1h0M648.9 261.9h0M627.1 257.2h0M641.7 260.1h0M635.6 269.8h0M641.0 284.1h0M636.7 256.4h0M642.0 274.4h0M652.4 270.4h0M630.4 279.2h0M634.4 266.0h0M645.3 276.7h0M636.0 249.9h0M645.4 268.8h0M630.6 257.9h0M649.4 268.5h0M647.2 263.6h0M655.8 275.0h0M629.4 268.1h0M635.0 250.0h0M636.7 278.1h0M664.1 263.9h0M641.2 264.2h0M652.4 276.8h0M660.1 270.2h0M633.1 259.7h0M623.1 253.5h0M634.3 283.9h0M637.7 277.0h0M631.6 268.3h0M638.1 277.8h0M633.8 279.6h0M625.7 263.5h0M645.8 264.3h0M641.3 278.1h0M664.8 258.9h0M634.4 255.2h0M649.7 278.4h0M664.1 260.6h0M640.7 279.2h0M651.6 273.8h0M627.3 268.4h0M625.8 252.9h0M636.3 270.5h0M652.7 276.0h0M623.2 266.0h0M642.8 274.7h0M652.1 282.4h0M639.7 257.2h0M652.0 270.4h0M655.2 262.7h0M623.6 258.4h0M629.4 281.7h0M623.8 272.2h0M626.0 274.3h0M632.5 279.0h0M637.7 286.0h0M657.3 272.5h0M656.4 278.4h0M622.1 259.4h0M637.1 271.1h0M656.8 269.6h0M665.1 270.1h0M638.5 252.4h0M630.2 259.5h0M641.8 262.5h0M636.5 259.5h0M645.6 273.5h0M659.5 257.5h0M644.0 279.5h0M639.2 261.5h0M648.4 266.2h0M661.2 270.0h0M659.1 267.5h0M652.7 261.8h0M655.2 262.8h0M637.0 267.2h0M639.0 251.9h0M664.1 266.7h0M661.9 276.6h0M634.8 256.1h0M629.4 274.3h0M648.9 281.6h0M634.6 279.4h0M633.1 261.3h0M627.2 270.6h0M653.6 266.9h0M633.3 271.0h0M650.0 272.8h0M662.5 274.4h0M647.6 288.1h0M640.6 266.4h0M648.4 286.7h0M635.1 258.2h0M647.8 276.7h0M648.4 264.0h0M654.2 267.4h0M662.1 256.0h0M643.1 278.8h0M624.2 253.6h0M631.1 266.5h0M628.2 251.4h0M623.4 268.5h0M628.1 259.8h0M630.2 248.3h0M641.3 270.5h0M622.4 259.6h0M629.4 273.2h0M632.7 263.9h0M656.9 264.9h0M630.2 278.4h0M657.2 274.3h0M630.2 263.3h0M627.7 279.1h0M643.6 285.6h0M639.0 259.1h0M639.4 282.4h0M648.4 275.1h0M640.9 259.2h0M633.7 271.5h0M642.4 273.3h0M621.6 254.2h0M646.1 280.4h0M631.2 266.2h0M655.0 270.8h0M636.0 266.3h0M621.6 254.6h0M621.0 254.5h0M621.0 269.6h0M632.4 274.7h0M629.5 253.1h0M649.4 272.8h0M640.4 266.8h0M661.0 257.1h0M636.0 282.9h0M633.9 267.4h0M630.8 261.1h0M640.9 282.3h0M651.4 276.7h0M627.8 263.4h0M628.1 251.3h0M622.6 270.9h0M641.6 265.9h0M637.6 285.3h0M654.4 258.4h0M639.0 275.8h0M624.2 268.5h0M650.3 266.7h0M633.3 261.2h0M631.0 259.3h0M642.8 266.8h0M649.7 274.0h0M626.9 262.3h0M631.7 271.5h0M621.0 270.5h0M653.9 275.1h0M637.2 269.4h0M626.5 276.6h0M647.7 268.9h0M638.2 251.0h0M640.8 272.7h0M658.8 262.7h0M624.7 271.2h0M646.9 282.8h0M641.7 277.2h0M637.9 261.6h0M631.2 282.6h0M654.2 268.4h0M631.2 265.6h0M657.9 277.2h0M624.4 277.1h0M630.2 269.4h0M625.6 252.7h0M634.3 264.2h0M638.8 285.7h0M645.6 281.6h0M629.8 251.2h0M626.5 254.6h0M630.9 249.6h0M643.1 284.5h0M643.9 264.6h0M635.8 259.7h0M664.7 264.8h0M647.4 262.9h0M641.7 278.8h0M627.4 258.0h0M662.1 262.2h0M636.7 279.9h0M631.4 279.8h0M653.5 275.6h0M661.2 265.7h0M649.9 265.6h0M640.0 275.8h0M644.4 284.9h0M637.6 253.2h0M641.2 274.2h0M634.9 273.6h0M621.2 258.5h0M645.9 264.3h0M643.0 281.2h0M632.3 255.7h0M664.1 265.6h0M645.6 270.8h0M630.7 265.1h0M662.3 268.3h0M655.4 264.5h0M632.5 281.5h0M641.8 273.4h0M639.9 263.7h0M653.5 281.1h0M630.2 251.3h0M642.1 273.3h0M630.6 278.8h0M623.6 263.3h0M637.9 258.1h0M639.9 251.9h0M625.1 255.4h0M641.8 273.9h0M646.2 278.4h0M625.0 249.0h0M642.3 282.3h0M635.9 273.8h0M630.0 264.0h0M630.8 267.5h0M640.0 276.2h0M635.6 260.4h0M657.2 266.2h0M643.0 274.7h0M656.2 266.6h0M646.8 287.0h0M623.4 266.9h0M663.1 267.6h0M622.8 258.0h0M633.2 276.2h0M625.9 271.7h0M646.9 281.1h0M624.0 258.8h0M659.2 260.9h0M644.1 270.6h0M661.5 273.0h0M639.1 258.5h0M661.6 277.0h0M654.4 269.5h0M631.8 254.2h0M633.3 279.9h0M623.6 263.6h0M648.8 278.5h0M664.5 273.9h0M639.5 256.2h0M638.5 270.5h0M630.8 271.0h0M651.1 268.7h0M646.0 280.5h0M636.6 275.9h0M636.6 281.3h0M637.4 270.2h0M633.5 268.8h0M635.0 251.3h0M655.2 260.6h0M622.9 265.1h0M639.4 281.1h0M629.0 249.8h0M655.6 268.5h0M631.0 255.4h0M630.3 258.5h0M640.5 268.1h0M631.2 253.1h0M624.1 258.5h0M642.7 272.2h0M656.2 259.5h0M638.8 284.8h0M630.5 261.0h0M655.0 259.0h0M654.5 276.1h0M659.3 266.1h0M628.8 270.4h0M640.5 268.9h0M625.9 276.2h0M654.4 266.5h0M627.9 257.3h0M636.5 266.6h0M662.3 264.9h0M642.1 260.7h0M636.7 265.3h0M633.8 253.5h0M659.6 274.9h0M629.4 252.7h0M654.5 261.9h0M629.6 278.4h0M622.1 262.9h0M628.4 261.8h0M662.3 277.6h0M622.5 262.4h0M622.5 269.0h0M654.4 274.0h0M653.1 274.4h0M666.3 265.3h0M631.9 253.4h0M630.9 262.8h0M631.2 260.2h0M632.3 260.9h0M644.6 269.7h0M625.0 272.4h0M644.0 266.3h0M625.3 252.2h0M628.5 264.3h0M651.1 264.4h0M652.5 269.9h0M641.0 285.5h0M642.9 272.2h0M637.9 251.7h0M657.1 256.5h0M645.6 277.9h0M641.5 263.1h0M661.0 273.5h0M667.4 267.9h0M655.5 267.0h0M636.1 274.6h0M657.9 272.5h0M659.5 273.2h0M651.5 282.4h0M621.6 273.6h0M646.7 271.5h0M632.8 258.0h0M641.9 285.5h0M627.7 274.0h0M651.8 269.0h0M622.4 261.0h0M626.6 260.2h0M638.3 261.1h0M639.6 254.1h0M629.2 271.3h0M625.5 263.7h0M655.8 280.7h0M621.4 257.2h0M648.9 274.7h0M646.8 285.9h0M640.3 282.3h0M621.1 269.0h0M628.9 263.6h0M636.4 287.2h0M641.8 273.9h0M660.7 260.0h0M650.9 276.1h0M633.7 277.5h0M637.3 267.7h0M638.5 270.2h0M664.0 263.6h0M625.7 261.4h0M642.7 272.2h0M647.7 267.9h0M635.1 267.1h0M644.2 285.8h0M628.0 268.9h0M635.3 267.4h0M639.6 257.5h0M633.1 273.1h0M665.4 270.6h0M637.6 285.3h0M650.0 272.0h0M662.7 270.2h0M656.8 267.7h0M650.8 284.1h0M623.1 268.5h0M659.3 267.4h0M655.0 277.6h0M638.0 283.4h0M634.2 265.9h0M654.3 273.7h0M656.0 282.4h0M630.2 279.0h0M654.3 260.8h0M641.6 277.1h0M638.2 254.5h0M650.8 260.6h0M665.7 260.7h0M632.5 276.3h0M644.8 282.9h0M639.5 276.0h0M650.1 272.2h0M633.0 249.6h0M628.5 251.2h0M624.6 255.5h0M636.6 268.8h0M620.8 260.5h0M628.9 254.6h0M644.4 280.2h0M628.8 264.9h0M627.0 266.4h0M636.9 285.4h0M629.3 272.5h0M639.2 256.3h0M638.2 281.2h0M631.8 280.4h0M659.0 273.2h0M664.3 263.6h0M657.4 256.8h0M657.1 274.6h0M651.4 265.1h0M646.1 264.6h0M648.0 272.7h0M655.7 264.9h0M627.6 248.7h0M656.8 279.8h0M636.3 248.0h0M630.0 247.5h0M621.6 269.6h0M655.8 275.9h0M654.3 275.0h0M634.0 253.4h0M649.4 276.1h0M633.8 248.1h0M632.8 273.8h0M653.8 260.9h0M635.7 264.1h0M630.6 267.0h0M655.1 274.5h0M635.9 273.7h0M634.3 270.0h0M636.5 281.9h0M636.9 282.7h0M632.2 282.9h0M640.4 286.9h0M648.3 278.7h0M659.7 279.9h0M651.8 284.8h0M637.6 260.2h0M632.6 259.6h0M634.1 254.0h0M645.7 281.8h0M642.5 286.4h0M629.5 261.6h0M646.6 264.9h0M621.4 271.3h0M644.0 279.2h0M639.6 281.3h0M622.9 262.3h0M637.0 269.0h0M631.2 255.3h0M637.7 272.8h0M627.4 260.7h0M640.7 264.7h0M629.8 252.6h0M632.6 268.8h0M637.2 263.9h0M639.8 258.7h0M648.1 267.5h0M634.1 252.9h0M634.4 273.4h0M620.9 256.6h0M635.0 282.2h0M633.3 247.3h0M635.1 269.2h0M653.5 261.4h0M625.1 255.8h0M640.3 275.7h0M626.4 270.7h0M659.7 275.1h0M664.0 262.8h0M653.1 280.1h0M638.4 279.8h0M664.9 266.6h0M641.4 276.2h0M641.7 264.1h0M659.3 268.9h0M643.6 287.2h0M646.0 274.6h0M657.3 256.3h0M634.8 253.6h0M637.5 257.7h0M620.5 255.8h0M637.2 256.9h0M632.9 259.2h0M631.4 279.0h0M635.1 278.6h0M638.0 259.2h0M664.8 271.3h0M641.2 283.7h0M625.1 257.2h0M665.2 270.6h0M642.5 264.1h0M655.0 269.3h0M628.1 251.1h0M639.5 286.7h0M654.2 266.2h0M647.9 277.6h0M650.3 270.7h0M646.5 278.5h0M630.0 254.5h0M630.9 271.8h0M650.7 284.1h0M652.0 272.5h0M628.2 276.8h0M632.6 248.9h0M635.5 270.2h0M642.6 282.8h0M632.9 256.3h0M641.0 282.1h0M654.2 278.4h0M629.2 283.2h0M640.9 266.8h0M662.6 271.1h0M636.0 266.3h0M653.3 261.0h0M625.3 250.7h0M628.8 269.1h0M659.6 255.5h0M652.1 275.2h0M638.2 253.1h0M629.5 263.2h0M636.0 261.4h0M630.3 261.1h0M660.9 272.7h0M641.6 281.7h0M646.4 272.9h0M655.8 265.3h0M633.0 259.5h0M626.9 272.9h0M640.0 285.5h0M655.6 282.8h0M623.3 257.2h0M626.8 272.5h0M649.3 269.8h0M660.6 274.8h0M626.8 272.9h0M652.4 281.9h0M635.5 272.8h0M624.8 273.3h0M645.0 278.8h0M637.9 268.8h0M635.3 275.0h0M646.2 276.9h0M661.1 278.8h0M643.8 267.9h0M658.0 261.3h0M641.6 270.4h0M620.4 262.3h0M647.6 280.2h0M635.7 267.2h0M662.8 260.6h0M648.2 267.5h0M653.3 259.3h0M659.6 267.1h0M624.6 265.9h0M643.5 261.0h0M665.7 271.8h0M655.3 266.4h0M652.7 266.9h0M642.3 264.2h0M647.4 274.8h0M631.6 265.8h0M632.8 248.9h0M663.0 260.2h0M629.5 254.4h0M645.0 271.3h0M651.5 277.1h0M634.0 260.0h0M663.2 257.9h0M627.3 255.6h0M648.7 271.6h0M653.4 264.4h0M637.7 279.0h0M624.0 255.5h0M639.3 282.9h0M626.0 267.8h0M653.2 260.7h0M628.7 249.1h0M633.6 266.4h0M662.9 273.6h0M663.5 264.7h0M623.1 252.8h0M640.8 255.1h0M655.3 282.3h0M655.2 275.1h0M626.1 249.3h0M629.7 260.0h0M663.2 266.3h0M633.2 260.2h0M635.7 254.9h0M632.6 249.2h0M636.0 276.3h0M657.2 270.5h0M664.0 263.5h0M644.2 278.1h0M653.8 281.0h0M632.4 268.2h0M624.1 257.1h0M630.4 281.9h0M645.1 280.6h0M665.6 266.0h0M657.0 265.6h0M636.9 284.0h0M627.3 253.8h0M652.1 260.0h0M626.7 256.2h0M640.4 255.7h0M651.2 282.7h0M629.8 276.8h0M642.5 262.6h0M656.2 261.8h0M638.1 270.4h0M624.1 268.2h0M642.0 260.9h0M635.6 247.5h0M662.8 272.8h0M656.6 260.3h0M655.9 280.4h0M629.6 281.6h0M665.6 269.8h0M633.0 258.8h0M648.5 270.7h0M627.4 265.6h0M636.9 285.3h0M667.2 267.1h0M645.8 283.5h0M656.2 282.9h0M621.1 265.2h0M640.7 256.2h0M632.7 282.5h0M637.8 281.1h0M644.0 277.9h0M644.9 270.5h0M635.3 275.8h0M621.5 255.3h0M632.3 276.9h0M657.9 279.1h0M654.1 271.3h0M634.5 258.2h0M630.4 278.8h0M640.1 274.4h0M649.7 279.6h0M640.4 261.3h0M633.9 276.0h0M656.3 266.6h0M655.6 283.2h0M640.8 276.9h0M665.4 260.0h0M641.3 258.6h0M652.2 269.6h0M644.7 272.8h0M628.5 256.3h0M629.7 279.7h0M635.2 264.4h0M629.8 260.6h0M643.2 266.9h0M629.7 275.0h0M624.5 265.4h0M652.6 270.3h0M658.7 258.2h0M624.2 260.2h0M660.3 270.0h0M629.3 270.8h0M651.3 265.5h0M647.4 263.3h0M639.5 264.5h0M629.8 267.6h0M643.2 266.1h0M627.3 256.3h0M641.0 289.0h0M637.0 257.5h0M628.9 269.4h0M665.0 262.0h0M628.0 263.8h0M655.5 269.3h0M642.2 260.9h0M641.7 273.4h0M651.2 265.1h0M654.4 260.5h0M654.5 264.8h0M647.3 286.1h0M638.8 285.0h0M621.8 267.1h0M625.7 276.4h0M633.0 274.3h0M644.8 266.8h0M646.3 263.6h0M642.0 255.3h0M637.2 285.7h0M660.3 272.5h0M637.1 272.9h0M650.2 267.5h0M636.9 260.5h0M665.1 264.0h0M638.9 249.8h0M663.0 260.9h0M629.6 276.2h0M630.1 267.9h0M636.6 266.6h0M664.2 262.6h0M630.2 264.2h0M626.0 267.1h0M650.2 281.2h0M648.2 265.9h0M639.0 254.5h0M643.5 270.2h0M640.3 256.2h0M638.6 253.6h0M655.4 270.1h0M649.4 270.1h0M637.4 274.8h0M661.1 267.5h0M632.3 249.9h0M629.3 268.5h0M635.1 266.3h0M629.5 273.7h0M641.8 275.1h0M661.4 266.8h0M637.5 286.0h0M631.5 263.9h0M655.0 262.0h0M653.4 263.8h0M633.8 255.8h0M635.8 284.2h0M622.5 258.3h0M633.9 259.9h0M638.0 285.6h0M645.7 264.5h0M649.0 263.3h0M644.6 274.0h0M648.4 282.0h0M634.1 275.8h0M634.3 275.1h0M641.8 273.0h0M629.5 253.0h0M623.0 262.9h0M640.0 276.9h0M635.5 283.7h0M636.1 267.8h0M633.7 271.8h0M663.4 270.9h0M642.7 260.6h0M664.3 266.6h0M632.1 272.3h0M654.5 273.5h0M654.4 280.0h0M660.5 258.0h0M649.5 280.6h0M631.9 273.8h0M631.9 261.9h0M627.3 262.7h0M640.0 280.1h0M627.3 277.4h0M634.5 280.7h0M658.5 259.9h0M633.9 271.2h0M636.0 271.7h0M634.9 276.6h0M652.5 272.1h0M627.9 267.0h0M644.3 266.1h0M662.6 271.1h0M630.2 250.4h0M661.1 273.1h0M633.9 279.1h0M626.4 268.4h0M656.9 275.2h0M636.7 254.2h0M659.5 268.2h0M647.4 280.9h0M649.9 276.0h0M645.6 276.2h0M664.2 269.0h0M647.7 271.7h0M631.2 254.1h0M665.7 262.9h0M655.3 267.1h0M627.0 261.7h0M631.0 258.1h0M637.3 261.1h0M656.7 268.2h0M655.2 268.6h0M648.5 278.6h0M646.2 269.0h0M625.5 272.6h0M626.8 262.9h0M634.9 271.7h0M645.3 268.6h0M650.5 267.3h0M640.0 266.6h0M624.3 258.9h0M635.1 277.8h0M638.7 270.6h0M639.7 276.8h0M642.2 258.0h0M624.7 269.2h0M655.8 278.0h0M657.7 279.1h0M661.5 277.3h0M630.9 252.3h0M637.9 254.7h0M658.6 259.5h0M621.8 262.1h0M660.8 279.4h0M652.0 267.4h0M639.9 277.4h0M626.2 255.7h0M665.9 266.1h0M631.7 254.3h0M645.8 266.2h0M662.4 269.0h0M624.8 258.7h0M627.0 253.3h0M645.8 272.7h0M633.9 258.7h0M651.8 260.4h0M651.5 280.1h0M626.6 253.2h0M625.2 272.3h0M635.5 255.0h0M626.8 275.9h0M625.7 271.7h0M636.2 250.5h0M627.1 265.6h0M622.7 268.9h0M659.6 266.8h0M621.4 270.8h0M645.7 282.6h0M628.0 260.2h0M632.3 257.6h0M641.1 267.6h0M636.9 281.7h0M647.2 267.8h0M626.7 266.0h0M645.7 271.9h0M626.7 259.6h0M657.3 281.1h0M662.9 257.0h0M624.3 269.9h0M628.9 264.7h0M626.4 273.9h0M622.9 254.8h0M648.9 272.5h0M636.3 276.9h0M623.5 273.3h0M639.3 259.5h0M644.6 284.9h0M649.7 283.8h0M635.8 268.2h0M652.2 273.4h0M639.6 272.8h0M632.9 258.0h0M630.4 272.4h0M641.2 272.7h0M641.4 286.8h0M657.4 264.9h0M661.7 265.8h0M639.6 272.5h0M632.8 249.5h0M625.4 273.6h0M656.6 260.8h0M642.7 283.9h0M658.6 255.6h0M647.3 269.6h0M641.0 276.8h0M636.4 253.7h0M642.5 266.7h0M631.9 250.9h0M632.7 271.6h0M623.7 256.3h0M650.8 264.0h0M654.3 260.3h0M648.7 286.5h0M629.2 272.6h0M660.4 269.7h0M656.4 258.9h0M639.5 281.9h0M635.2 251.5h0M633.3 285.0h0M662.4 267.5h0M628.1 275.4h0M667.2 266.1h0M628.7 257.2h0M629.3 271.8h0M642.3 273.3h0M660.1 271.7h0M636.3 276.7h0M660.1 277.1h0M650.9 265.9h0M633.8 274.2h0M631.8 248.4h0M648.4 268.1h0M649.3 280.6h0M658.0 278.1h0M645.2 273.8h0M648.1 265.0h0M639.4 261.7h0M664.6 268.0h0M628.3 279.3h0M629.5 253.4h0M624.6 259.3h0M656.6 262.5h0M634.7 254.8h0M639.0 285.2h0M649.1 266.0h0M650.4 279.1h0M658.9 257.5h0M643.6 274.1h0M642.0 282.8h0M662.5 268.8h0M629.1 266.4h0M636.6 287.5h0M636.5 250.9h0M636.5 277.3h0M655.0 280.4h0M655.0 279.7h0M638.4 256.5h0M627.9 249.8h0M642.3 277.0h0M637.2 254.0h0M654.5 272.1h0M646.9 265.2h0M629.0 264.0h0M636.4 256.1h0M645.2 264.3h0M652.5 284.1h0M644.6 274.5h0M663.7 271.3h0M641.9 286.5h0M633.8 266.6h0M642.3 264.3h0M649.4 274.1h0M639.9 274.6h0M632.2 272.0h0M654.7 266.7h0M637.3 255.7h0M656.0 260.1h0M628.0 262.2h0M646.0 265.7h0M622.7 266.7h0M652.8 263.0h0M646.1 274.1h0M667.0 265.0h0M630.3 248.2h0M665.7 269.3h0M656.7 277.7h0M663.1 268.8h0M654.4 270.9h0M642.2 278.2h0M639.3 282.6h0M661.0 257.5h0M629.8 256.3h0M664.4 274.7h0M629.0 256.9h0M644.4 265.3h0M639.0 273.8h0M624.6 250.9h0M637.7 250.0h0M663.6 267.8h0M626.8 256.7h0M663.0 261.0h0M629.2 266.5h0M637.8 264.4h0M635.1 251.0h0M643.5 278.8h0M637.0 256.3h0M657.2 267.1h0M642.0 278.1h0M632.5 268.0h0M653.2 278.4h0M658.9 266.1h0M663.4 272.4h0M649.6 266.8h0M650.9 266.1h0M641.1 277.8h0M657.9 240.1h0M645.5 247.5h0M647.0 253.0h0M668.5 245.1h0M647.6 244.4h0M645.3 253.3h0M652.0 237.0h0M666.8 246.5h0M668.3 249.4h0M647.3 255.2h0M649.9 243.1h0M647.7 251.0h0M658.0 240.6h0M668.8 250.8h0M651.2 238.3h0M670.7 244.7h0M660.4 238.5h0M668.9 250.2h0M669.1 254.6h0M665.9 248.5h0M649.6 244.2h0M668.9 251.2h0M661.5 243.4h0M646.6 246.2h0M645.6 254.6h0M666.1 244.8h0M673.2 253.3h0M646.5 246.1h0M646.5 250.0h0M663.9 247.4h0M659.8 238.3h0M667.2 248.7h0M660.2 242.2h0M647.4 254.5h0M650.5 235.5h0M646.1 256.7h0M648.0 243.4h0M663.9 242.3h0M645.4 253.2h0M647.5 244.0h0M653.1 237.4h0M646.0 252.0h0M647.3 247.2h0M658.3 240.1h0M649.2 244.6h0M651.8 246.1h0M649.6 249.9h0M660.9 242.4h0M658.3 243.4h0M655.2 241.7h0M648.4 248.7h0M649.7 260.4h0M649.2 256.3h0M646.4 255.5h0M652.9 240.6h0M650.0 240.1h0M649.6 254.1h0M669.8 246.8h0M649.1 246.2h0M646.9 260.0h0M660.1 238.2h0M649.2 246.0h0M646.8 257.2h0M664.5 244.4h0M649.7 243.4h0M673.4 254.7h0M648.7 248.9h0M658.5 237.2h0M669.7 252.5h0M652.5 242.3h0M667.5 248.8h0M647.8 248.0h0M666.3 250.4h0M667.5 253.3h0M647.7 262.1h0M665.3 249.7h0M670.8 249.1h0M645.4 252.7h0M647.0 258.1h0M648.8 244.4h0M650.0 245.8h0M648.0 245.7h0M659.4 243.1h0M645.8 247.3h0M669.7 248.5h0M670.6 249.4h0M648.5 260.7h0M648.5 257.7h0M651.2 243.1h0M643.7 246.0h0M660.0 243.3h0M670.2 252.3h0M664.8 242.8h0M647.5 259.9h0M663.7 245.6h0M646.5 254.1h0M670.1 252.2h0M648.4 258.1h0M667.7 243.2h0M652.1 238.8h0M648.7 259.5h0M667.6 252.3h0M673.1 252.5h0M647.3 256.2h0M647.8 245.2h0M648.2 254.7h0M672.0 251.3h0M665.4 240.7h0M659.6 244.3h0M672.2 250.5h0M648.7 241.0h0M647.4 248.9h0M649.2 258.4h0M670.9 252.1h0M656.5 240.8h0M668.4 245.8h0M647.5 251.5h0M651.1 260.8h0M665.0 244.5h0M650.7 261.3h0M650.4 259.2h0M646.3 245.5h0M647.4 258.2h0M660.2 243.1h0M654.0 239.1h0M666.4 243.9h0M651.5 253.1h0M671.5 250.8h0M656.7 238.4h0M646.8 255.3h0M656.4 243.5h0M646.7 254.1h0M647.2 244.7h0M661.0 241.0h0M669.7 254.5h0M650.4 242.1h0M649.4 259.8h0M656.6 242.9h0M649.1 258.8h0M654.9 239.8h0M648.9 244.7h0M648.2 262.1h0M646.6 258.6h0M647.8 261.3h0M666.9 251.2h0M661.5 240.6h0M657.0 239.0h0M668.3 244.4h0M650.7 259.2h0M651.7 240.8h0M659.3 240.0h0M648.0 242.7h0M651.0 241.5h0M648.3 253.0h0M643.9 252.1h0M645.9 248.4h0M648.8 257.9h0M663.6 243.5h0M667.9 253.9h0M663.0 242.5h0M648.2 242.9h0M646.2 254.6h0M654.7 240.7h0M666.9 250.3h0M648.0 252.5h0M647.8 256.5h0M668.9 247.5h0M646.0 257.0h0M647.2 262.5h0M647.9 254.2h0M654.1 241.8h0M667.9 246.3h0M667.9 252.9h0M664.7 247.0h0M667.4 248.0h0M650.7 241.5h0M649.5 243.1h0M649.2 259.5h0M649.8 260.7h0M666.3 248.1h0M667.0 245.5h0M647.4 253.8h0M655.7 240.1h0M664.6 244.7h0M665.8 243.5h0M648.8 257.2h0M669.2 251.2h0M663.0 242.9h0M651.7 238.7h0M667.7 251.0h0M665.6 250.6h0M648.5 257.1h0M664.1 246.5h0M659.6 241.7h0M668.5 249.5h0M666.3 243.1h0M646.1 254.0h0M649.1 243.5h0M645.1 250.5h0M647.9 242.6h0M646.0 244.2h0M671.9 253.5h0M649.2 247.1h0M669.8 247.2h0M653.3 239.3h0M644.3 251.8h0M656.2 239.7h0M658.2 242.4h0M671.5 251.2h0M671.7 255.0h0M655.0 238.0h0M670.3 248.4h0M669.0 252.5h0M648.4 253.0h0M646.0 247.8h0M653.8 241.4h0M651.1 241.0h0M647.4 253.2h0M643.9 249.0h0M671.7 253.5h0M654.7 238.8h0M652.7 241.3h0M664.8 247.7h0M644.7 246.5h0M657.9 241.2h0M646.8 255.4h0M656.5 242.2h0M668.0 256.0h0M647.0 252.7h0M664.0 245.5h0M657.7 240.3h0M658.8 238.9h0M667.8 250.1h0M647.7 256.1h0M665.6 247.3h0M647.4 249.5h0M649.6 240.8h0M670.6 247.1h0M648.0 247.1h0M653.7 237.8h0M646.9 255.8h0M647.6 249.9h0M649.5 245.4h0M645.6 248.2h0M656.4 240.0h0M667.2 246.6h0M649.6 241.0h0M663.2 244.6h0M649.2 243.0h0M671.5 254.5h0M670.2 251.3h0M652.7 239.7h0M650.0 244.9h0M668.8 250.7h0M645.9 251.6h0M657.3 241.8h0M645.2 251.8h0M646.6 251.3h0M668.5 252.5h0M669.9 254.9h0M653.5 240.8h0M655.6 242.6h0M667.5 252.6h0M647.9 257.1h0M649.5 243.5h0M670.5 254.8h0M648.4 255.6h0M648.0 248.5h0M648.5 240.9h0M666.7 247.0h0M662.5 244.2h0M660.9 239.3h0M646.4 244.4h0M645.4 245.4h0M671.6 253.4h0M661.7 240.1h0M669.4 256.5h0M646.4 250.0h0M657.7 238.2h0M667.6 250.1h0M653.9 256.9h0M656.0 241.2h0M646.3 257.8h0M668.6 251.7h0M668.6 252.7h0M662.2 245.6h0M665.7 246.3h0M654.6 242.1h0M666.2 247.5h0M646.1 258.4h0M666.1 245.0h0M655.2 243.0h0M651.4 244.3h0M661.5 243.0h0M664.7 252.6h0M670.7 247.0h0M650.3 262.0h0M658.0 244.6h0M651.2 239.6h0M648.1 261.9h0M662.1 241.0h0M649.1 243.4h0M656.4 237.9h0M654.2 239.9h0M656.4 242.1h0M668.9 249.5h0M669.5 251.8h0M658.7 240.4h0M671.4 253.9h0M650.0 241.6h0M655.5 238.1h0M649.3 241.0h0M648.6 243.2h0M644.8 252.2h0M649.0 242.3h0M646.4 242.6h0M647.4 248.4h0M667.8 243.4h0M658.9 242.7h0M650.3 257.1h0M653.9 240.4h0M658.2 241.0h0M667.8 250.4h0M665.3 247.7h0M668.8 251.4h0M670.2 252.7h0M644.2 246.5h0M652.5 243.3h0M663.9 244.0h0M669.3 245.1h0M647.7 256.4h0M647.4 247.4h0M647.6 250.3h0M669.0 255.2h0M657.8 238.8h0M649.6 259.9h0M668.5 254.2h0M649.3 245.5h0M666.2 242.2h0M647.6 242.4h0M645.5 249.7h0M647.2 259.8h0M651.6 261.2h0M659.3 241.4h0M645.6 252.2h0M649.3 257.6h0M666.6 249.3h0M650.8 242.6h0M655.0 241.2h0M667.0 247.8h0M665.3 243.4h0M659.3 243.3h0M660.0 241.9h0M663.3 239.3h0M646.4 242.7h0M671.0 253.8h0M646.9 253.1h0M650.8 239.5h0M646.7 253.0h0M654.4 241.5h0M648.9 244.5h0M660.5 242.3h0M671.5 254.7h0M660.7 243.0h0M659.5 242.3h0M649.0 242.0h0M667.2 251.1h0M670.0 254.1h0M662.6 243.3h0M645.7 249.8h0M646.1 250.3h0M651.0 239.1h0M649.9 239.1h0M648.2 256.5h0M667.1 245.4h0M652.7 240.6h0M647.1 249.3h0M656.7 236.9h0M669.1 251.6h0M650.3 238.8h0M649.0 244.8h0M657.8 240.9h0M648.4 247.2h0M667.2 254.2h0M645.8 246.2h0M667.3 245.4h0M648.5 251.2h0M668.7 255.6h0M647.2 251.9h0M668.0 251.7h0M663.9 242.8h0M647.6 247.6h0M648.5 259.6h0M647.3 246.8h0M668.2 252.6h0M666.8 243.4h0M645.9 243.9h0M651.4 259.7h0M664.3 244.9h0M669.1 255.1h0M668.2 254.1h0M650.0 254.6h0M649.2 251.1h0M647.8 260.8h0M662.7 242.4h0M647.2 254.0h0M667.4 249.7h0M647.5 242.7h0M647.3 244.4h0M668.0 255.5h0M670.9 255.4h0M648.1 247.4h0M664.6 245.8h0M645.8 248.3h0M649.7 252.1h0M667.9 247.5h0M665.5 241.4h0M669.0 245.9h0M646.5 252.1h0M669.6 251.4h0M678.9 259.1h0M679.2 258.2h0M674.0 263.8h0M674.6 264.2h0M679.8 254.0h0M675.8 263.8h0M674.5 263.7h0M674.9 263.6h0M680.0 253.4h0M678.7 255.5h0M678.7 260.7h0M677.3 251.0h0M680.3 255.0h0M674.0 264.3h0M678.5 257.0h0M677.5 261.6h0M680.0 257.3h0M679.1 258.9h0M677.6 262.2h0M677.1 252.6h0M679.6 257.5h0M679.5 258.4h0M679.7 255.2h0M678.7 253.5h0M678.2 261.2h0M675.3 262.5h0M679.7 258.2h0M679.4 256.9h0M678.2 263.2h0M679.9 256.4h0M678.1 260.2h0M679.7 254.2h0M673.8 263.3h0M679.5 259.8h0M675.1 262.7h0M677.8 249.6h0M677.3 250.6h0M678.1 249.4h0M675.1 263.5h0M677.9 253.4h0M674.2 262.8h0M679.8 259.0h0M678.0 259.5h0M675.3 263.0h0M678.0 251.1h0M678.9 254.1h0M676.8 261.5h0M678.4 259.9h0M677.1 249.1h0M677.9 261.8h0M679.8 256.7h0M679.2 255.1h0M677.7 260.8h0M679.2 250.7h0M677.6 262.1h0M677.8 262.9h0M676.1 263.2h0M675.0 262.5h0M680.3 257.3h0M677.2 262.1h0M678.2 253.4h0M677.9 250.4h0M677.6 249.2h0M679.5 259.0h0M678.5 250.5h0M678.3 251.9h0M679.0 252.1h0M676.8 251.2h0M678.8 259.8h0M674.2 264.1h0" stroke="#3450a6" stroke-width="1.5" stroke-linecap="round" fill="none"/><path d="M657.7 243.5h0M650.4 249.6h0M677.6 248.5h0" stroke="#e8303c" stroke-width="1.5" stroke-linecap="round" fill="none"/>
<rect x="617.50" y="226.40" width="65.80" height="64.90" fill="none" stroke="#cfcfcf" stroke-width="1"/>
<path d="M382.2 353.3h0M397.8 350.3h0M382.1 364.2h0M349.9 334.6h0M352.8 350.0h0M359.6 366.2h0M397.1 350.6h0M353.9 349.1h0M394.6 351.1h0M378.9 376.5h0M342.5 355.2h0M383.1 359.0h0M379.4 375.1h0M343.4 343.7h0M398.0 339.0h0M379.8 350.3h0M382.1 365.4h0M362.9 376.0h0M360.5 327.5h0M369.9 324.3h0M383.0 360.3h0M380.6 325.6h0M366.3 380.0h0M364.2 373.3h0M356.0 349.2h0M366.8 366.1h0M368.6 324.7h0M359.3 327.8h0M360.3 346.6h0M360.8 327.1h0M397.9 338.9h0M375.0 380.2h0M398.7 348.8h0M386.9 328.9h0M351.0 353.2h0M379.5 372.3h0M382.6 342.4h0M399.8 344.7h0M398.7 348.8h0M365.6 367.9h0M382.9 359.4h0M383.2 360.2h0M361.5 326.9h0M381.0 372.2h0M342.6 346.9h0M391.1 331.3h0M360.5 348.4h0M382.5 366.1h0M351.1 333.1h0M369.9 324.3h0M383.0 360.4h0M374.6 381.0h0M348.2 356.1h0M393.1 351.4h0M396.0 350.9h0M370.9 379.5h0M344.3 342.5h0M348.7 357.1h0M379.1 373.9h0M362.7 375.3h0M346.3 339.2h0M378.0 376.6h0M368.5 382.0h0M348.7 355.8h0M375.0 380.0h0M353.8 351.2h0M397.6 350.0h0M381.0 369.1h0M388.0 347.9h0M362.9 379.2h0M375.0 379.4h0M366.2 377.5h0M365.1 351.7h0M348.6 356.2h0M391.2 331.5h0M351.7 332.8h0M343.8 358.6h0M399.1 341.3h0M362.1 326.8h0M362.0 327.0h0M349.2 354.3h0M383.4 359.0h0M353.8 331.0h0M342.1 352.6h0M378.7 344.6h0M399.4 347.0h0M387.6 347.7h0M397.8 339.2h0M383.2 355.5h0M385.8 344.9h0M399.0 341.3h0M379.1 346.2h0M369.1 324.6h0M380.2 349.3h0M376.6 377.5h0M363.9 378.9h0M364.0 371.8h0M343.5 343.4h0M346.9 338.2h0M387.8 348.0h0M348.8 335.5h0M379.0 343.4h0M363.9 344.6h0M343.5 356.9h0M380.8 371.2h0M386.2 328.7h0M355.8 329.7h0M397.9 349.8h0M382.1 342.3h0M377.0 376.6h0M381.8 326.4h0M380.1 341.6h0M365.2 362.5h0M392.6 351.0h0M362.2 369.5h0M368.0 325.0h0M382.3 355.4h0M393.6 333.6h0M343.1 345.4h0M361.7 367.2h0M366.9 362.0h0M367.1 355.6h0M344.9 341.2h0M342.0 349.9h0M383.3 343.4h0M378.3 378.4h0M387.2 347.3h0M361.4 370.7h0M382.1 364.6h0M369.5 357.8h0M364.4 346.1h0M364.0 376.6h0M377.8 379.6h0M390.8 331.4h0M346.4 338.7h0M382.1 365.9h0M348.1 336.6h0M364.5 370.3h0M388.7 329.8h0M381.8 366.9h0M387.0 329.0h0M369.1 380.2h0M382.8 364.2h0M387.5 347.2h0M364.8 377.8h0M379.3 372.9h0M366.7 355.0h0M382.0 354.2h0M385.2 327.7h0M398.7 341.2h0M364.2 380.2h0M383.6 327.4h0M347.0 338.0h0M385.6 328.5h0M362.3 344.8h0M366.8 377.7h0M350.0 334.7h0M383.2 358.8h0M378.6 343.8h0M384.1 343.9h0M360.7 367.7h0M349.6 358.8h0M366.3 348.8h0M364.0 364.4h0M383.0 362.2h0M384.5 327.5h0M381.0 325.8h0M362.2 369.9h0M368.5 382.1h0M367.1 361.3h0M386.3 345.7h0M362.6 367.0h0M379.2 342.1h0M364.0 326.1h0M399.4 345.5h0M382.2 360.8h0M363.4 373.4h0M379.7 348.0h0M351.0 333.7h0M398.0 349.5h0M344.1 342.7h0M372.6 380.2h0M361.4 326.6h0M341.8 349.7h0M379.8 350.3h0M347.5 336.9h0M380.7 349.3h0M369.4 324.4h0M379.0 372.8h0M378.8 345.1h0M351.8 350.9h0M364.9 365.4h0M348.6 335.7h0M380.1 349.3h0M354.5 346.9h0M387.7 348.1h0M389.5 330.5h0M342.6 347.2h0M362.3 346.0h0M397.7 338.4h0M381.1 351.4h0M367.0 362.6h0M382.8 357.6h0M399.4 342.7h0M347.3 337.7h0M363.1 346.1h0M365.0 350.6h0M357.4 328.8h0M384.0 344.0h0M391.8 332.4h0M368.3 381.6h0M358.4 328.4h0M377.8 377.3h0M399.1 347.5h0M355.8 348.4h0M350.3 334.0h0M348.2 336.2h0M351.5 354.0h0M377.6 377.9h0M351.4 352.8h0M360.3 370.5h0M382.4 355.5h0M359.2 346.7h0M352.0 332.4h0M366.9 377.0h0M399.5 342.7h0M362.1 370.3h0M366.0 362.8h0M365.7 375.4h0M344.2 358.1h0M361.1 371.8h0M341.9 352.3h0M399.5 343.1h0M382.5 354.0h0M381.2 369.9h0M395.7 351.0h0M341.2 350.9h0M394.5 351.5h0M367.0 355.0h0M382.9 356.1h0M368.6 357.7h0M396.7 350.9h0M395.2 334.9h0M380.4 373.9h0M354.5 330.8h0M389.9 349.8h0M366.5 325.0h0M362.9 365.5h0M368.2 376.7h0M391.4 350.6h0M378.2 342.6h0M378.8 346.9h0M389.7 330.3h0M341.8 351.5h0M356.0 350.6h0M355.3 329.9h0M391.0 331.0h0M378.7 375.6h0M392.2 351.1h0M379.4 374.1h0M343.1 344.6h0M382.8 343.0h0M392.3 332.3h0M343.6 356.0h0M342.0 349.0h0M397.2 350.5h0M399.2 343.1h0M365.8 352.0h0M362.8 365.1h0M380.1 371.2h0M355.7 349.0h0M354.9 350.8h0M346.6 338.7h0M356.3 349.8h0M382.7 359.0h0M365.3 325.7h0M366.7 356.3h0M363.3 371.8h0M350.4 354.8h0M379.8 349.8h0M396.5 351.1h0M365.1 345.6h0M352.1 350.9h0M355.2 347.7h0M386.7 328.7h0M397.1 350.6h0M345.7 356.8h0M365.4 362.2h0M377.1 379.3h0M381.5 352.2h0M353.4 353.4h0M378.4 344.9h0M373.9 380.6h0M342.9 348.4h0M380.8 350.1h0M361.9 379.0h0M366.7 362.5h0M364.7 350.8h0M379.3 342.2h0M399.4 342.8h0M366.2 361.5h0M382.3 366.1h0M382.3 353.4h0M367.3 361.0h0M383.0 358.2h0M357.9 328.3h0M395.3 335.1h0M349.8 355.1h0M379.3 342.2h0M395.4 335.6h0M363.4 363.4h0M364.4 369.3h0M382.7 361.3h0M390.0 350.4h0M365.4 348.3h0M343.5 343.8h0M368.5 377.6h0M372.9 381.1h0M348.1 335.9h0M396.5 350.7h0M378.8 346.7h0M392.6 351.5h0M354.3 353.2h0M362.2 370.5h0M376.5 378.1h0M365.0 350.0h0M383.2 359.9h0M345.4 356.5h0M364.2 368.4h0M345.6 340.0h0M398.3 339.6h0M365.2 325.5h0M382.8 358.2h0M366.0 350.6h0M382.5 356.1h0M352.7 332.2h0M355.4 348.1h0M370.7 356.0h0M368.6 353.9h0M393.5 351.4h0M365.9 352.0h0M385.0 344.6h0M363.9 367.7h0M351.1 354.3h0M353.4 350.3h0M351.9 350.6h0M361.2 346.0h0M371.6 381.6h0M363.6 326.3h0M389.4 349.3h0M393.3 333.1h0M348.3 335.8h0M346.5 338.6h0M367.2 350.7h0M367.1 352.0h0M398.9 342.0h0M395.5 351.1h0M343.0 344.2h0M366.8 325.2h0M352.2 332.3h0M384.7 327.7h0M380.0 372.7h0M352.7 348.8h0M363.0 363.7h0M380.2 369.5h0M383.0 356.2h0M341.8 348.4h0M382.6 356.3h0M342.5 355.2h0M373.9 381.1h0M381.2 351.4h0M366.1 353.6h0M354.4 330.6h0M362.6 326.6h0M342.0 354.9h0M359.5 346.9h0M388.0 329.6h0M383.6 363.5h0M379.3 341.9h0M342.7 346.3h0M365.6 361.2h0M365.7 325.7h0M342.4 345.7h0M350.8 333.7h0M380.7 341.9h0M390.7 331.0h0M361.1 371.8h0M346.0 339.4h0M357.8 328.5h0M362.0 374.9h0M345.5 340.0h0M386.2 328.5h0M397.2 350.7h0M346.7 338.0h0M364.0 366.6h0M356.3 329.6h0M377.1 377.2h0M366.7 353.8h0M378.4 343.1h0M368.1 324.6h0M382.4 362.8h0M367.1 355.2h0M380.9 326.0h0M359.5 327.9h0M346.3 358.0h0M381.9 368.0h0M379.6 371.0h0M346.6 355.2h0M386.9 347.0h0M379.3 347.7h0M342.4 348.0h0M384.3 343.9h0M384.3 327.4h0M362.7 326.4h0M362.6 372.7h0M376.7 378.5h0M362.7 369.3h0M392.6 351.2h0M355.3 349.6h0M381.1 368.5h0M366.7 353.4h0M393.3 333.3h0M369.4 356.7h0M383.0 364.6h0M388.0 347.6h0M341.8 351.7h0M382.1 367.0h0M356.5 348.1h0M391.6 331.7h0M365.5 362.3h0M367.9 360.8h0M383.8 343.4h0M396.6 337.1h0M347.8 336.9h0M353.8 349.0h0M379.8 371.7h0M364.2 375.2h0M352.5 351.4h0M381.8 366.9h0M366.0 350.9h0M346.0 338.9h0M380.4 350.4h0M382.0 360.1h0M348.3 335.8h0M381.9 354.3h0M378.6 375.1h0M367.5 380.8h0M367.7 382.2h0M394.8 351.6h0M368.8 324.5h0M378.9 346.5h0M381.0 372.4h0M385.6 328.0h0M376.9 376.6h0M393.3 351.2h0M383.3 358.3h0M379.9 347.8h0M362.7 363.4h0M366.6 362.0h0M383.1 358.9h0M349.0 357.6h0M384.2 344.2h0M362.9 367.3h0M362.3 326.6h0M358.7 347.1h0M345.5 340.6h0M378.4 343.8h0M378.8 342.2h0M392.2 351.0h0M379.6 348.3h0M343.7 344.0h0M352.1 332.4h0M361.4 327.0h0M379.3 347.7h0M356.9 329.1h0M395.3 335.1h0M380.2 349.4h0M368.8 359.0h0M396.5 336.9h0M394.1 333.9h0M382.5 326.7h0M349.6 353.8h0M361.0 345.0h0M345.3 340.8h0M349.3 355.0h0M382.9 361.1h0M370.5 381.4h0M381.9 353.4h0M399.7 346.6h0M392.7 332.8h0M379.1 347.3h0M359.9 327.9h0M364.7 348.7h0M387.5 329.2h0M386.4 346.3h0M371.9 381.1h0M346.1 338.8h0M380.7 351.1h0M379.0 341.8h0M369.6 324.5h0M349.8 353.9h0M377.9 378.5h0M360.6 370.2h0M341.5 352.5h0M357.6 345.3h0M353.1 351.4h0M398.5 340.5h0M365.3 349.9h0M387.8 329.1h0M363.7 347.0h0M384.8 344.3h0M365.0 360.4h0M353.2 331.6h0M387.6 347.2h0M364.6 351.0h0M347.4 336.8h0M346.5 357.6h0M394.4 351.6h0M343.3 356.3h0M364.3 369.1h0M385.5 328.1h0M344.4 341.8h0M362.1 371.4h0M370.3 381.5h0M382.5 355.9h0M365.5 378.6h0M367.7 380.9h0M359.8 346.3h0M395.0 351.3h0M382.0 326.3h0M365.4 365.5h0M345.8 339.7h0M376.4 379.7h0M379.7 371.6h0M382.9 358.7h0M346.8 357.0h0M362.3 326.8h0M382.3 355.2h0M355.2 330.1h0M383.3 357.6h0M342.7 345.7h0M382.6 358.3h0M342.2 352.7h0M363.5 379.0h0M388.0 329.7h0M365.4 373.5h0M354.2 330.6h0M363.5 346.0h0M398.4 340.1h0M353.6 331.4h0M382.4 354.3h0M364.4 362.9h0M379.3 347.0h0M351.2 333.0h0M372.9 381.8h0M362.4 377.8h0M356.2 349.3h0M368.9 382.5h0M351.0 333.5h0M361.4 326.8h0M392.4 351.7h0M398.5 339.6h0M363.2 347.5h0M381.0 325.8h0M399.7 346.2h0M362.7 345.8h0M399.3 344.1h0M382.6 361.9h0M389.9 349.8h0M363.8 326.4h0M348.0 336.7h0M366.4 353.6h0M394.8 351.2h0M387.1 347.3h0M366.4 364.2h0M355.4 349.7h0M380.8 351.9h0M363.2 367.7h0M378.8 376.9h0M343.6 356.3h0M392.2 332.2h0M379.9 348.5h0M380.0 349.7h0M379.5 347.8h0M381.3 367.6h0M392.3 332.3h0M379.2 342.0h0M380.8 350.6h0M398.3 349.1h0M370.1 380.8h0M363.2 378.4h0M343.7 342.2h0M368.2 356.8h0M373.2 379.2h0M361.1 345.2h0M384.7 327.7h0M366.5 325.5h0M342.3 347.3h0M383.0 361.5h0M342.1 348.0h0M383.0 361.6h0M366.6 349.3h0M382.7 357.1h0M364.9 361.5h0M347.4 337.5h0M383.8 343.9h0M389.8 330.5h0M346.4 338.5h0M347.7 358.5h0M346.2 338.8h0M367.4 358.0h0M381.5 325.9h0M376.3 377.7h0M341.6 353.8h0M399.6 343.8h0M367.7 355.8h0M380.2 341.8h0M384.5 344.0h0M352.4 349.8h0M357.2 328.8h0M362.1 344.7h0M366.5 360.1h0M382.5 364.3h0M367.4 361.9h0M381.2 351.7h0M367.7 378.2h0M370.3 380.6h0M382.8 360.4h0M379.6 372.9h0M393.0 332.8h0M382.3 342.3h0M383.1 361.3h0M378.7 342.9h0M350.8 352.5h0M366.2 376.3h0M347.5 357.9h0M354.6 330.6h0M362.4 346.1h0M384.6 344.5h0M382.2 354.4h0M357.3 328.8h0M395.5 351.1h0M380.6 350.6h0M399.3 344.2h0M399.5 345.7h0M388.3 348.4h0M381.8 367.6h0M385.9 328.1h0M347.3 337.2h0M364.9 350.1h0M363.7 326.1h0M342.4 348.0h0M381.7 368.6h0M351.9 350.4h0M349.2 335.2h0M344.0 342.4h0M344.1 342.5h0M399.2 343.1h0M368.1 324.4h0M386.7 328.6h0M398.9 341.4h0M370.0 324.3h0M361.8 370.8h0M381.7 326.3h0M385.3 328.0h0M367.8 348.6h0M378.6 346.7h0M367.7 324.9h0M357.2 328.9h0M364.8 325.8h0M399.8 343.9h0M382.6 364.7h0M363.4 369.0h0M356.8 348.8h0M364.5 348.3h0M365.7 373.8h0M370.3 324.1h0M395.0 351.1h0M342.0 353.8h0M379.3 372.1h0M399.6 343.5h0M394.5 334.4h0M350.0 355.5h0M347.9 357.0h0M378.7 374.9h0M363.6 346.9h0M360.3 327.8h0M385.3 328.5h0M358.1 347.7h0M382.8 360.7h0M388.4 348.7h0M363.7 367.5h0M373.7 380.8h0M365.7 372.1h0M399.2 348.5h0M398.8 347.3h0M345.4 340.4h0M381.4 364.5h0M379.7 341.9h0M379.7 347.1h0M398.1 349.5h0M367.9 325.0h0M394.9 334.5h0M367.5 358.9h0M366.6 325.1h0M342.6 355.4h0M364.4 347.7h0M357.7 328.6h0M354.3 331.1h0M380.2 370.9h0M378.8 343.3h0M381.1 368.7h0M346.2 356.7h0M344.3 341.8h0M369.4 380.7h0M379.3 348.4h0M399.4 347.5h0M380.1 372.5h0M362.5 365.5h0M364.8 362.2h0M379.9 349.4h0M364.5 326.2h0M379.6 348.6h0M381.4 325.9h0M398.6 340.3h0M383.0 360.8h0M368.9 379.2h0M351.3 354.1h0M382.1 354.2h0M351.9 352.9h0M345.7 339.5h0M380.7 342.1h0M379.7 348.5h0M364.8 378.0h0M399.6 346.8h0M394.4 334.1h0M382.7 364.0h0M366.6 355.9h0M354.0 330.6h0M388.2 329.0h0M382.9 363.9h0M379.3 341.5h0M341.6 348.8h0M367.9 350.2h0M377.5 378.9h0M389.0 329.9h0M355.3 349.9h0M362.1 366.0h0M378.8 345.2h0M380.3 341.5h0" stroke="#3450a6" stroke-width="1.3" stroke-linecap="round" fill="none"/><path d="M381.3 326.0h0M389.8 331.1h0M396.8 338.1h0M399.9 344.3h0M394.5 352.1h0M383.6 364.5h0" stroke="#e8303c" stroke-width="1.3" stroke-linecap="round" fill="none"/>
<rect x="337.60" y="321.40" width="66.80" height="64.80" fill="none" stroke="#cfcfcf" stroke-width="1"/>
<path d="M445.7 353.5h0M419.9 331.7h0M446.8 359.6h0M422.2 353.1h0M436.0 379.8h0M415.8 358.5h0M412.4 344.4h0M434.9 360.0h0M465.5 330.7h0M437.8 379.6h0M470.2 342.8h0M426.0 349.4h0M433.5 369.2h0M434.0 371.6h0M433.2 360.4h0M420.0 356.3h0M469.3 350.2h0M461.3 354.6h0M456.2 346.6h0M445.4 367.6h0M461.4 324.9h0M434.4 373.2h0M445.4 364.3h0M412.0 345.2h0M456.5 347.3h0M422.6 354.3h0M446.5 352.0h0M448.5 342.3h0M421.7 354.3h0M426.9 348.6h0M444.8 376.3h0M447.8 343.1h0M446.4 352.8h0M434.0 366.8h0M412.1 353.2h0M446.3 364.1h0M411.8 349.8h0M419.1 357.0h0M411.8 351.3h0M432.3 370.6h0M437.3 379.4h0M416.1 358.6h0M469.7 348.3h0M431.9 353.7h0M422.8 328.9h0M431.7 351.1h0M457.6 349.3h0M434.7 373.2h0M417.6 357.4h0M431.7 357.3h0M434.7 376.8h0M417.0 358.3h0M418.6 333.3h0M447.1 362.7h0M445.0 375.2h0M443.1 378.4h0M466.8 355.3h0M467.1 355.4h0M419.6 331.7h0M470.0 344.0h0M469.9 342.4h0M411.8 350.4h0M468.2 353.4h0M413.6 341.1h0M421.3 330.7h0M445.4 373.6h0M435.4 376.1h0M423.0 350.6h0M445.9 365.1h0M423.1 353.7h0M421.5 329.7h0M417.4 334.4h0M433.7 361.4h0M426.0 349.3h0M424.7 350.2h0M448.3 344.3h0M427.5 325.9h0M432.7 362.5h0M467.2 333.9h0M428.4 348.4h0M463.7 355.9h0M457.2 349.0h0M415.3 337.4h0M411.7 345.3h0M431.8 358.5h0M411.8 346.5h0M412.5 343.6h0M442.6 380.8h0M468.9 353.0h0M468.5 353.3h0M469.1 351.7h0M434.5 375.7h0M464.4 329.2h0M446.4 349.4h0M445.5 374.0h0M448.4 344.2h0M447.0 357.6h0M469.1 350.9h0M446.2 345.4h0M417.2 358.0h0M458.4 350.8h0M443.0 378.9h0M442.9 378.6h0M430.8 351.3h0M421.3 330.2h0M411.4 352.1h0M432.2 358.7h0M426.4 348.2h0M451.4 341.7h0M453.1 343.1h0M422.4 353.7h0M438.2 379.7h0M413.1 356.1h0M461.3 324.2h0M432.1 358.8h0M468.2 335.8h0M412.1 354.9h0M415.5 337.0h0M469.9 342.0h0M417.3 358.4h0M469.7 349.4h0M432.9 365.6h0M428.1 325.3h0M423.8 328.4h0M416.4 336.2h0M433.4 358.2h0M455.2 346.0h0M470.1 348.5h0M466.3 355.5h0M443.4 378.8h0M446.4 349.3h0M432.8 358.8h0M424.0 328.2h0M420.5 355.7h0M446.0 347.7h0M413.5 340.6h0M470.1 347.0h0M436.7 375.6h0M468.0 335.7h0M442.3 379.4h0M466.4 355.6h0M444.5 375.8h0M434.8 369.9h0M445.2 370.0h0M412.0 354.7h0M446.3 351.7h0M463.2 355.9h0M445.9 375.9h0M434.0 361.6h0M434.7 364.8h0M433.1 358.7h0M444.0 379.6h0M459.2 352.1h0M431.1 356.0h0M446.6 364.4h0M422.1 329.5h0M469.2 338.4h0M457.7 349.9h0M412.7 342.2h0M456.9 348.0h0M412.4 355.0h0M429.2 360.1h0M433.4 365.5h0M426.9 349.4h0M413.1 342.2h0M411.6 350.8h0M411.7 353.1h0M454.9 345.4h0M427.0 349.0h0M427.1 326.1h0M461.6 325.5h0M418.6 357.4h0M453.3 343.4h0M432.4 368.5h0M469.9 349.2h0M446.6 348.5h0M470.2 347.1h0M429.8 324.2h0M434.7 371.3h0M419.7 332.1h0M446.4 346.5h0M437.1 379.2h0M420.3 355.8h0M419.7 331.4h0M464.6 329.5h0M418.1 358.0h0M459.7 352.9h0M450.4 341.5h0M458.0 350.4h0M427.3 326.0h0M464.6 329.5h0M450.6 341.3h0M415.6 336.7h0M434.6 373.1h0M466.7 332.5h0M411.6 350.4h0M469.5 338.9h0M447.2 345.5h0M426.6 326.6h0M470.0 346.7h0M421.0 330.4h0M469.7 342.3h0M445.9 353.1h0M431.2 354.1h0M462.0 355.1h0M455.8 346.3h0M419.5 356.8h0M453.8 344.5h0M446.1 350.5h0M433.4 365.6h0M428.0 325.8h0M454.9 345.5h0M426.4 326.7h0M417.4 358.2h0M425.7 349.3h0M445.3 372.5h0M417.4 358.5h0M431.3 360.1h0M445.8 373.0h0M433.4 364.7h0M462.9 327.3h0M458.1 349.6h0M433.1 357.3h0M454.5 345.2h0M437.0 377.3h0M424.6 327.6h0M448.0 343.4h0M430.7 349.0h0M445.9 358.7h0M446.6 350.3h0M412.6 355.6h0M469.9 347.3h0M470.4 347.7h0M456.6 348.5h0M468.1 353.5h0M412.7 356.2h0M456.7 347.7h0M431.1 374.3h0M437.2 379.3h0M433.8 355.1h0M465.0 356.1h0M465.9 355.7h0M444.5 378.1h0M421.9 330.1h0M425.6 348.2h0M466.9 332.6h0M432.1 353.4h0M469.1 351.8h0M470.3 342.6h0M469.2 338.5h0M425.0 349.7h0M434.5 354.7h0M424.7 351.4h0M412.3 354.9h0M430.8 348.8h0M411.6 351.8h0M458.7 351.3h0M412.3 343.7h0M437.2 377.7h0M429.3 324.8h0M414.3 339.9h0M452.6 342.4h0M429.7 324.7h0M463.1 355.6h0M468.2 336.6h0M431.1 353.3h0M464.4 355.9h0M411.9 346.8h0M470.3 344.0h0M435.5 371.6h0M462.1 325.6h0M429.2 351.1h0M422.6 329.4h0M447.1 356.0h0M468.8 337.3h0M452.8 342.5h0M442.5 380.4h0M446.1 366.2h0M452.9 342.6h0M446.8 353.3h0M439.2 379.5h0M462.8 326.9h0M427.7 348.0h0M469.3 338.8h0M462.0 326.0h0M446.8 352.8h0M418.7 332.9h0M418.1 333.8h0M446.6 352.3h0M446.8 354.4h0M423.7 328.1h0M446.8 362.5h0M461.1 324.8h0M414.8 338.6h0M412.0 346.2h0M450.4 341.6h0M433.8 367.5h0M412.8 343.5h0M431.2 349.7h0M447.5 343.4h0M416.2 336.6h0M446.8 366.3h0M417.7 334.3h0M411.6 351.3h0M423.4 350.8h0M469.0 338.9h0M424.1 328.2h0M461.6 325.5h0M428.5 349.4h0M462.2 355.1h0M432.3 354.4h0M428.8 349.0h0M446.8 353.7h0M415.9 358.9h0M418.3 333.5h0M423.9 351.2h0M414.3 358.6h0M411.8 347.1h0M463.3 327.6h0M447.0 355.0h0M414.4 339.9h0M418.4 333.1h0M426.2 326.8h0M437.8 383.7h0M462.1 354.7h0M470.2 345.9h0M418.0 357.9h0M442.1 381.2h0M424.2 327.7h0M433.2 372.2h0M427.7 325.8h0M469.8 341.6h0M446.3 365.3h0M451.6 342.2h0M469.4 340.2h0M411.8 353.4h0M445.7 364.0h0M435.9 376.0h0M469.8 342.8h0M457.9 350.7h0M423.3 351.7h0M434.2 361.8h0M414.3 358.5h0M445.8 361.6h0M413.3 341.3h0M422.6 329.2h0M457.7 349.0h0M446.6 357.6h0M433.1 369.0h0M442.3 379.2h0M432.0 353.5h0M446.1 355.9h0M412.0 352.7h0M465.4 330.6h0M445.2 361.0h0M428.3 348.1h0M447.0 345.2h0M447.1 352.7h0M414.0 358.3h0M468.7 353.2h0M411.7 351.4h0M424.3 351.7h0M411.6 347.8h0M433.7 372.1h0M412.4 344.3h0M446.9 348.9h0M418.3 357.4h0M435.1 375.3h0M429.1 349.8h0M428.4 349.4h0M443.1 380.5h0M469.6 349.1h0M469.2 352.0h0M461.2 324.8h0M464.5 329.1h0M412.0 346.3h0M468.1 335.2h0M446.2 350.8h0M430.4 324.1h0M412.2 354.6h0M424.7 350.8h0M433.4 354.9h0M445.8 361.6h0M445.4 355.5h0M433.6 360.1h0M418.6 357.3h0M445.6 369.9h0M460.0 353.0h0M428.5 348.9h0M465.9 331.5h0M419.0 332.7h0M428.2 325.9h0M413.3 341.5h0M423.7 350.3h0M436.5 378.7h0M426.9 350.5h0M469.8 340.7h0M432.7 353.8h0M448.4 343.0h0M455.4 346.1h0M435.8 360.9h0M446.1 365.4h0M446.9 349.9h0M412.3 355.2h0M446.6 366.0h0M425.2 348.9h0M447.2 359.6h0M434.2 369.8h0M427.2 349.5h0M419.3 332.2h0M445.6 347.7h0M417.9 357.5h0M454.1 344.0h0M428.3 325.5h0M411.6 350.7h0M434.5 356.3h0M444.0 375.1h0M437.4 377.1h0M433.7 362.8h0M436.0 375.2h0M455.5 346.0h0M464.8 329.4h0M424.4 349.5h0M434.4 365.3h0M446.5 371.0h0M432.5 354.1h0M470.3 342.9h0M445.8 371.5h0M451.0 341.3h0M465.9 331.3h0M422.0 329.7h0M468.4 337.0h0M467.4 333.7h0M419.0 356.8h0M465.4 330.1h0M432.4 367.1h0M431.9 362.0h0M411.6 348.5h0M432.8 376.5h0M448.3 343.0h0M446.0 354.0h0M447.1 365.7h0M432.1 369.3h0M446.5 348.9h0M466.7 332.2h0M413.1 356.8h0M424.7 327.4h0M469.9 341.7h0M432.8 373.5h0M420.2 356.5h0M418.8 356.7h0M422.0 329.6h0M442.8 376.8h0M413.6 357.3h0M414.5 338.8h0M446.2 353.0h0M448.6 342.3h0M419.1 332.5h0M416.7 358.8h0M469.8 341.7h0M469.7 350.1h0M433.8 378.7h0M427.3 348.0h0M445.6 371.8h0M466.3 332.4h0M421.5 330.2h0M447.1 356.0h0M469.3 339.7h0M469.6 349.5h0M426.8 326.7h0M447.4 343.6h0M429.0 346.8h0M453.2 343.3h0M464.0 328.5h0M448.1 343.2h0M412.7 342.4h0M433.7 359.8h0M432.5 372.3h0M455.8 346.4h0M412.4 344.0h0M457.7 349.6h0M415.2 358.9h0M411.5 347.9h0M418.7 358.0h0M428.2 325.7h0M450.7 341.6h0M421.2 330.4h0M411.6 347.7h0M421.3 355.8h0M416.1 335.9h0M461.1 354.3h0M446.8 351.0h0M435.0 372.9h0M446.8 357.9h0M434.1 363.7h0M439.4 377.4h0M422.5 351.7h0M427.5 325.7h0M433.5 367.2h0M445.2 374.9h0M430.4 351.3h0M427.2 326.0h0M463.7 356.1h0M412.9 356.7h0M443.1 377.6h0M454.0 344.2h0M427.3 347.0h0M446.0 375.1h0M434.8 378.5h0M468.0 354.0h0M467.7 334.9h0M412.1 343.9h0M445.7 361.7h0M446.0 350.4h0M466.3 331.9h0M429.8 324.4h0M458.6 351.5h0M428.1 347.8h0M438.8 381.5h0M436.2 379.1h0M447.7 359.0h0M456.2 347.8h0M411.9 345.6h0M414.4 358.4h0M469.7 350.2h0M420.3 355.6h0M469.9 341.6h0M469.8 350.2h0M431.6 349.0h0M446.0 372.0h0M432.8 367.8h0M431.0 359.1h0M432.0 353.2h0M446.8 354.0h0M442.3 378.9h0M414.5 339.1h0M416.0 336.5h0M434.7 367.1h0M442.3 377.8h0M469.6 340.1h0M458.1 350.1h0M427.7 325.8h0M432.2 354.3h0M447.1 349.1h0M432.7 357.2h0M418.9 357.7h0M434.3 355.5h0M432.0 352.4h0M429.9 350.9h0M460.7 353.8h0M463.3 355.7h0M445.6 370.1h0M454.6 344.9h0M448.8 342.3h0M465.4 330.3h0M414.3 358.2h0M447.1 345.2h0M412.1 346.0h0M459.8 353.0h0M445.2 367.3h0M459.8 352.6h0M447.0 345.0h0M412.0 347.2h0M468.9 337.8h0M416.7 358.8h0M433.1 364.1h0M462.2 325.9h0M413.3 341.6h0M447.6 361.3h0M438.9 379.8h0M447.0 372.0h0M446.5 375.5h0M443.6 378.5h0M416.0 336.8h0M411.7 346.4h0M423.9 353.1h0M444.7 376.6h0M413.1 341.4h0M432.8 352.7h0M459.3 352.5h0M436.5 378.6h0M445.9 360.5h0M454.8 345.3h0M446.0 358.4h0M469.0 338.1h0M432.9 361.8h0M469.7 340.7h0M468.3 353.5h0M428.4 348.5h0M446.7 345.6h0M432.2 362.0h0M434.0 369.8h0M458.0 350.2h0M425.1 327.6h0M433.0 367.6h0M469.5 349.8h0M461.1 324.7h0M446.3 348.2h0M467.2 355.1h0M470.2 345.9h0M469.1 338.2h0M415.5 358.6h0M469.5 339.7h0M413.5 340.9h0M413.7 341.0h0M413.6 340.5h0M417.0 335.4h0M433.1 367.8h0M413.2 340.9h0M425.0 350.4h0M432.4 356.2h0M447.0 349.6h0M416.8 358.6h0M429.1 325.0h0M427.5 326.0h0M432.8 361.3h0M466.4 331.9h0M469.6 340.6h0M412.9 356.4h0M422.8 353.8h0M455.7 345.8h0M429.7 349.2h0M436.1 379.0h0M415.5 337.3h0M451.3 341.4h0M453.4 343.1h0M470.1 342.9h0M444.1 378.5h0M445.4 373.6h0M468.9 339.0h0M426.0 348.3h0M445.9 366.8h0M427.6 347.4h0M455.7 346.1h0M465.7 331.3h0M412.8 356.5h0M436.9 374.1h0M421.9 330.1h0M422.1 329.5h0M460.5 353.8h0M421.1 330.5h0M446.1 349.6h0M432.3 368.4h0M412.9 343.0h0M446.3 344.9h0M441.7 378.8h0M440.9 380.3h0M433.4 365.6h0M425.0 327.6h0M446.5 356.7h0M434.2 363.0h0M413.9 340.3h0M421.4 354.0h0M411.9 345.6h0M419.8 331.9h0M469.7 341.3h0M468.7 352.5h0M417.6 334.2h0M437.9 379.2h0M432.5 361.7h0M422.6 329.5h0M467.4 355.2h0M427.8 326.0h0M424.8 327.6h0M426.6 350.2h0M470.2 342.9h0M460.4 353.2h0M447.9 356.1h0M429.0 348.4h0M411.7 352.2h0M469.4 340.7h0M433.1 351.7h0M470.1 343.5h0M414.8 338.4h0M450.8 341.4h0M464.4 329.4h0M435.0 377.8h0M446.6 353.3h0M466.7 355.0h0M470.3 344.5h0M464.5 329.4h0M427.1 349.1h0M455.9 347.4h0M447.1 344.1h0M437.3 375.4h0M468.0 335.6h0M469.4 339.4h0M432.3 351.1h0M440.7 381.5h0M446.0 369.8h0M446.7 357.0h0M452.4 342.1h0M425.6 327.5h0M432.4 356.8h0M445.0 371.2h0M445.9 367.3h0M436.4 380.5h0M432.7 376.0h0M464.1 328.7h0M417.9 358.2h0" stroke="#e8303c" stroke-width="1.3" stroke-linecap="round" fill="none"/>
<rect x="408.30" y="321.40" width="66.20" height="64.80" fill="none" stroke="#cfcfcf" stroke-width="1"/>
<path d="M486.6 334.4h0M491.5 342.4h0M487.5 336.6h0M501.3 362.5h0M482.0 328.7h0M490.9 343.8h0M493.9 348.6h0M492.2 346.2h0M486.3 332.9h0M502.9 368.6h0M489.0 341.5h0M483.8 333.3h0M487.0 335.1h0M492.0 346.7h0M481.9 326.0h0M482.0 324.4h0M489.2 343.2h0M503.0 365.5h0M494.5 349.2h0M500.3 362.4h0M500.8 360.6h0M503.9 367.9h0M486.8 334.6h0M489.8 341.6h0M485.6 334.9h0M492.8 345.6h0M483.8 331.1h0M501.7 362.9h0M493.6 349.5h0M485.4 331.4h0M484.4 332.3h0M487.2 334.1h0M492.7 346.8h0M492.7 341.3h0M481.7 328.3h0M503.5 364.8h0M498.2 359.7h0M481.6 328.5h0M482.4 326.3h0M486.9 338.1h0M485.1 330.9h0M487.9 339.4h0M488.3 337.6h0M500.7 363.8h0M493.8 349.8h0M487.4 337.4h0M493.0 347.0h0M501.3 364.6h0M490.3 341.0h0M482.8 328.0h0M480.3 326.3h0M492.7 344.6h0M480.0 327.0h0M493.2 347.2h0M497.6 354.9h0M496.4 356.1h0M503.4 369.7h0M489.2 340.7h0M488.5 337.0h0M503.5 369.4h0M482.7 329.2h0M497.6 354.4h0M492.3 347.0h0M489.6 341.5h0M484.7 328.7h0M500.7 361.5h0M488.0 339.9h0M484.3 333.1h0M498.8 360.9h0M482.3 326.3h0M487.4 336.8h0M502.7 367.2h0M503.0 368.8h0M486.4 335.6h0M492.5 350.7h0M498.5 358.4h0M483.8 329.6h0M505.6 370.1h0M492.6 347.8h0M482.3 324.7h0M487.5 337.2h0M502.4 365.5h0M495.9 356.1h0M499.9 360.3h0M484.2 330.5h0M493.7 349.7h0M483.1 329.2h0M505.7 368.7h0M493.9 352.6h0M499.7 364.0h0M488.8 336.4h0M497.2 356.4h0M506.6 377.3h0M511.6 378.3h0M512.5 375.6h0M506.4 370.2h0M506.6 375.0h0M507.6 374.9h0M510.2 373.4h0M512.4 378.2h0M505.0 370.6h0M509.7 374.4h0M508.3 374.1h0M509.1 374.6h0M505.8 371.1h0M513.8 378.3h0M507.6 375.4h0M511.7 379.9h0M505.9 373.2h0M512.2 377.0h0M505.1 371.5h0M508.6 375.7h0M504.0 371.3h0M514.0 380.5h0M513.4 378.5h0M504.9 373.3h0M510.6 377.6h0M506.3 372.0h0M509.8 376.0h0M538.8 341.1h0M533.3 348.7h0M524.9 363.1h0M516.2 377.6h0M529.7 353.6h0M534.6 346.5h0M531.9 347.3h0M531.6 351.8h0M526.8 353.4h0M519.9 371.3h0M531.3 351.9h0M525.0 364.8h0M517.3 374.6h0M519.7 369.5h0M522.0 369.9h0M528.5 350.6h0M523.8 366.7h0M536.6 337.1h0M527.3 360.4h0M504.4 378.5h0M508.3 376.9h0" stroke="#3450a6" stroke-width="1.3" stroke-linecap="round" fill="none"/><path d="M481.1 324.8h0M496.7 352.5h0M482.8 329.3h0M498.0 358.1h0M499.3 362.6h0M504.8 369.6h0M485.3 329.1h0M488.4 342.6h0M488.7 341.6h0M493.5 351.1h0M482.1 325.9h0M483.5 330.5h0M501.1 363.3h0M501.2 363.8h0M492.5 347.8h0M497.1 357.9h0M491.2 340.9h0M488.0 336.9h0M508.2 379.4h0M507.5 372.6h0M506.7 374.3h0M509.0 378.7h0M509.1 377.3h0M502.7 374.1h0M511.3 373.9h0M508.3 376.2h0M507.9 374.7h0M512.7 378.9h0M510.8 380.0h0M504.9 371.2h0M510.3 379.0h0M506.1 370.4h0M506.2 375.7h0M515.5 380.2h0M506.5 372.2h0M506.1 376.4h0M507.5 372.4h0M512.1 378.7h0M507.0 370.4h0M505.3 372.2h0M511.6 376.8h0M511.8 378.0h0M510.1 377.0h0M512.7 377.8h0M510.9 378.5h0M510.7 378.1h0M508.5 377.9h0M506.2 371.6h0M507.4 379.2h0M512.6 380.8h0M509.6 376.5h0M517.9 372.9h0M532.3 349.9h0M527.4 357.2h0M518.2 373.2h0M528.7 354.6h0M537.9 338.1h0M513.2 377.4h0M519.5 371.4h0M535.6 342.9h0M530.4 352.0h0M536.5 338.7h0M517.3 374.8h0M526.0 359.5h0M524.8 363.9h0M532.1 347.0h0M516.8 374.1h0M532.2 350.8h0M534.0 345.2h0M534.4 347.4h0M517.2 373.2h0M537.8 335.3h0M527.3 360.1h0M517.2 376.7h0M529.7 353.5h0M532.4 349.4h0M526.4 360.8h0M534.5 345.2h0M527.8 358.4h0M524.7 363.7h0M517.4 375.0h0M536.1 343.9h0M535.7 345.5h0M534.9 344.8h0M525.1 360.5h0M538.3 335.5h0M514.8 377.6h0M527.9 355.1h0M537.7 340.2h0M522.0 367.8h0M532.6 345.5h0M524.5 364.2h0M524.3 364.9h0M517.1 373.9h0M517.9 371.4h0M531.4 352.5h0M523.3 363.0h0M524.5 364.8h0M529.3 354.6h0M538.4 340.1h0M514.4 376.5h0M535.8 339.7h0M529.1 355.0h0M529.9 351.9h0M531.1 354.4h0M528.2 359.1h0M528.7 355.8h0M534.5 344.0h0M515.8 376.4h0M538.2 339.0h0M535.4 341.4h0M535.8 340.1h0M524.3 362.1h0M536.9 339.6h0M527.3 362.1h0M522.7 367.5h0M525.2 365.8h0M532.8 349.1h0M531.8 350.3h0M525.3 363.1h0M535.0 345.5h0M519.2 372.6h0M525.1 364.2h0M524.1 361.0h0M517.6 374.5h0M539.8 336.1h0M539.7 335.7h0M534.8 343.7h0M515.8 376.8h0M537.2 339.8h0M537.7 343.1h0M527.3 357.1h0M526.1 361.9h0M519.3 373.3h0M521.0 368.4h0M538.3 340.3h0M519.1 371.9h0M531.9 349.3h0M537.0 338.8h0M518.7 372.1h0M533.8 347.1h0M518.1 371.8h0" stroke="#e8303c" stroke-width="1.3" stroke-linecap="round" fill="none"/>
<rect x="478.50" y="321.40" width="66.40" height="64.80" fill="none" stroke="#cfcfcf" stroke-width="1"/>
<path d="M556.7 341.6h0M553.4 335.1h0M552.9 329.0h0M555.3 341.4h0M552.6 328.7h0M556.4 341.7h0M557.9 347.9h0M553.5 329.2h0M562.7 358.1h0M563.3 356.0h0M553.4 332.9h0M554.3 335.8h0M565.1 361.3h0M555.8 341.0h0M559.1 347.2h0M558.2 347.9h0M555.6 342.4h0M565.4 359.7h0M555.1 334.6h0M561.7 354.1h0M553.3 329.7h0M560.1 352.0h0M552.3 331.6h0M563.4 358.5h0M561.9 354.5h0M565.0 360.0h0M555.0 336.9h0M552.8 331.1h0M556.9 339.9h0M554.8 336.2h0M561.2 352.9h0M552.2 330.1h0M562.1 354.2h0M560.6 349.4h0M550.3 325.5h0M554.8 333.6h0M563.2 359.9h0M558.1 346.8h0M560.3 352.0h0M558.3 345.4h0M550.2 324.9h0M553.0 331.1h0M559.7 346.7h0M552.6 330.9h0M564.0 359.4h0M560.9 352.1h0M557.0 338.4h0M556.8 342.7h0M559.2 348.9h0M550.7 325.8h0M551.2 323.9h0M563.7 357.7h0M558.7 345.5h0M555.3 338.0h0M551.5 328.9h0M560.9 352.3h0M555.2 341.0h0M553.8 335.6h0M558.6 344.5h0M551.0 327.3h0M551.2 325.3h0M555.2 335.2h0M557.5 341.8h0M561.7 352.7h0M550.9 326.0h0M551.7 327.0h0M554.3 335.6h0M556.1 339.3h0M556.6 340.2h0M553.6 330.4h0M559.7 350.6h0M558.3 346.2h0M560.7 353.0h0M551.9 328.1h0M553.3 334.7h0M560.9 353.7h0M555.6 336.3h0M557.9 343.1h0M556.8 342.5h0M557.1 342.3h0M552.9 331.7h0M550.6 325.5h0M553.1 330.7h0M558.1 344.6h0M554.8 335.4h0M560.1 349.7h0M562.8 356.7h0M559.3 348.8h0M555.8 339.1h0M562.7 355.0h0M551.8 330.5h0M551.3 327.8h0M551.9 326.3h0M550.7 325.4h0M556.8 342.0h0M561.9 354.4h0M557.1 343.7h0M579.2 376.2h0M569.3 367.3h0M569.4 366.7h0M573.1 372.0h0M581.8 377.2h0M572.6 373.1h0M586.5 374.7h0M567.3 364.9h0M565.4 363.1h0M585.1 374.1h0M573.4 371.1h0M584.6 375.0h0M567.3 365.5h0M567.4 366.9h0M588.1 370.3h0M577.6 376.2h0M579.1 375.3h0M567.4 367.6h0M567.3 364.2h0M572.4 371.1h0M572.7 372.0h0M581.8 375.8h0M577.5 376.9h0M583.2 374.2h0M581.3 376.7h0M578.8 376.0h0M584.6 373.9h0M572.6 373.2h0M577.6 376.7h0M583.5 376.2h0M573.8 372.7h0M565.4 363.7h0M565.9 363.0h0M572.2 372.7h0M570.5 371.1h0M579.9 375.5h0M567.5 365.5h0M586.5 373.9h0M587.6 372.3h0M570.5 369.3h0M593.9 365.3h0M606.2 335.0h0M605.1 336.1h0M591.0 366.8h0M589.7 369.8h0M608.1 328.9h0M591.2 367.0h0M598.0 355.8h0M599.9 349.5h0M577.9 377.2h0M583.2 378.4h0M578.6 379.8h0M577.5 379.6h0M576.8 376.7h0M582.6 379.3h0M580.9 378.5h0M583.2 376.2h0M578.0 377.0h0M577.6 379.7h0M578.3 378.7h0M576.3 378.3h0M582.8 379.1h0M581.6 376.1h0" stroke="#3450a6" stroke-width="1.3" stroke-linecap="round" fill="none"/><path d="M560.8 351.7h0M562.3 357.4h0M562.0 352.4h0M571.7 370.0h0M576.3 375.8h0M582.1 374.8h0M569.6 370.0h0M567.7 366.2h0M578.4 376.0h0M583.6 376.3h0M579.3 377.9h0M576.5 377.3h0M581.3 377.1h0M574.7 373.1h0M570.4 369.0h0M565.2 362.5h0M580.9 376.0h0M573.7 373.4h0M569.4 369.9h0M564.1 363.4h0M575.0 376.0h0M575.4 374.7h0M588.6 370.7h0M583.6 376.5h0M577.3 378.2h0M572.0 372.0h0M586.9 373.4h0M582.8 376.9h0M577.1 378.7h0M577.5 376.5h0M586.6 372.1h0M589.0 371.9h0M577.5 376.8h0M583.8 374.4h0M579.2 377.2h0M571.9 370.5h0M571.7 369.6h0M587.5 373.0h0M582.1 377.0h0M572.1 372.7h0M580.9 376.7h0M583.9 376.1h0M579.2 376.8h0M599.5 351.9h0M593.5 365.3h0M607.4 332.6h0M603.1 343.4h0M590.6 365.9h0M590.6 368.6h0M599.6 352.0h0M597.9 355.0h0M604.0 337.9h0M596.7 359.9h0M591.2 367.5h0M607.1 331.2h0M589.2 370.5h0M599.7 352.9h0M600.2 349.2h0M601.4 347.8h0M587.8 369.9h0M598.9 355.7h0M606.9 331.2h0M594.0 362.9h0M604.5 341.5h0M607.8 328.1h0M605.8 332.5h0M598.1 356.1h0M605.6 334.2h0M603.5 338.6h0M607.5 326.7h0M591.9 365.3h0M597.1 357.2h0M597.7 356.2h0M603.4 341.3h0M598.1 355.7h0M602.1 345.5h0M604.0 338.3h0M608.2 326.8h0M590.7 367.8h0M592.8 364.9h0M603.3 343.6h0M606.3 334.0h0M589.7 370.8h0M588.1 368.9h0M601.2 347.8h0M599.9 350.7h0M609.0 325.6h0M591.9 365.4h0M608.7 329.0h0M606.5 330.3h0M589.7 371.1h0M590.6 368.3h0M597.5 358.7h0M595.7 357.8h0M602.4 343.2h0M597.6 358.9h0M590.6 368.0h0M598.9 355.4h0M605.3 334.0h0M604.0 339.4h0M602.0 345.1h0M602.7 343.0h0M592.8 363.4h0M593.7 366.4h0M600.6 348.5h0M593.3 363.9h0M606.7 332.6h0M608.7 328.5h0M596.9 358.9h0M595.3 360.7h0M599.4 351.8h0M595.6 361.4h0M601.3 348.4h0M598.2 354.7h0M604.0 342.3h0M592.5 365.5h0M606.5 334.2h0M606.3 331.8h0M590.6 368.9h0M597.4 357.7h0M602.3 344.6h0M601.1 346.2h0M589.9 368.1h0M598.5 353.8h0M600.3 347.3h0M600.9 347.9h0M606.1 333.4h0M600.5 349.8h0M596.5 360.6h0M607.1 330.2h0M589.6 370.2h0M599.1 352.3h0M597.7 356.2h0M606.1 334.8h0M602.2 345.4h0M603.0 345.2h0M607.0 334.1h0M595.5 357.8h0M599.6 354.1h0M605.0 336.5h0M607.9 329.8h0M598.5 355.4h0M591.2 370.1h0M604.6 340.0h0M604.6 340.3h0M595.1 361.3h0M588.1 369.8h0M590.7 369.9h0M593.1 363.2h0M589.1 370.5h0M590.2 367.8h0M596.2 361.0h0M595.7 362.9h0M603.0 346.9h0M591.7 367.4h0M598.6 352.3h0M597.8 358.2h0M597.1 359.4h0M606.2 335.0h0M591.2 367.1h0M600.2 351.0h0M596.5 360.2h0M599.9 351.5h0M597.9 353.2h0M604.7 337.5h0M593.7 362.8h0M607.8 326.0h0M601.4 345.4h0M601.3 347.4h0M595.5 358.4h0M601.4 349.6h0M607.1 329.2h0M595.9 361.0h0M605.9 333.7h0M606.2 332.2h0M603.9 342.4h0M603.4 342.0h0M604.2 338.4h0M601.7 347.4h0M591.1 368.4h0M603.2 340.7h0M594.5 362.9h0M600.7 348.8h0M589.3 370.4h0M601.2 352.2h0M596.6 357.9h0M600.1 348.9h0M608.3 327.6h0M598.9 353.8h0M589.4 370.5h0M595.3 360.5h0M603.1 344.8h0M596.8 357.6h0M595.3 361.9h0M605.3 334.6h0M605.6 335.1h0M592.6 364.1h0M597.2 359.3h0M596.2 357.8h0M591.1 365.9h0M604.6 335.9h0M601.9 344.8h0M604.3 339.8h0M592.0 366.9h0M578.3 376.4h0M576.6 376.7h0M578.8 375.5h0M580.9 375.4h0M582.8 375.9h0M578.7 379.5h0M580.3 377.5h0M581.7 376.3h0M583.6 376.8h0M583.0 377.9h0M579.0 375.9h0" stroke="#e8303c" stroke-width="1.3" stroke-linecap="round" fill="none"/>
<rect x="548.50" y="321.40" width="65.90" height="64.80" fill="none" stroke="#cfcfcf" stroke-width="1"/>
<path d="M631.4 342.9h0M635.7 361.7h0M643.2 342.1h0M641.2 344.1h0M628.4 366.7h0M628.9 334.9h0M633.7 350.5h0M623.2 362.9h0M628.7 366.9h0M626.3 357.0h0M631.1 332.5h0M640.8 355.1h0M637.0 347.6h0M633.8 364.4h0M629.3 334.6h0M633.0 351.4h0M641.7 325.5h0M627.2 357.1h0M643.5 340.3h0M626.0 348.1h0M639.8 326.4h0M624.7 358.8h0M630.8 332.8h0M625.3 358.8h0M629.5 366.8h0M636.3 338.1h0M633.5 339.8h0M621.1 347.9h0M621.0 347.9h0M636.6 360.5h0M625.1 358.9h0M627.4 336.0h0M632.5 351.4h0M641.8 343.3h0M622.3 342.2h0M641.3 353.0h0M643.6 342.2h0M634.3 363.8h0M639.7 345.0h0M644.1 337.1h0M627.0 356.7h0M644.0 336.7h0M630.9 352.4h0M624.7 349.2h0M637.6 346.6h0M621.5 348.0h0M624.2 364.3h0M643.2 335.7h0M625.9 337.8h0M642.4 335.8h0M638.3 327.4h0M628.5 354.8h0M624.7 338.8h0M630.3 344.3h0M622.5 341.3h0M629.1 334.9h0M641.2 325.8h0M641.7 325.7h0M631.9 342.6h0M640.3 345.1h0M641.9 343.4h0M626.3 337.9h0M624.3 365.0h0M628.1 355.4h0M636.9 327.9h0M632.4 351.7h0M623.8 364.2h0M628.7 345.7h0M627.6 335.5h0M625.4 348.7h0M628.2 367.0h0M640.4 355.9h0M634.9 364.0h0M620.9 347.7h0M628.5 346.1h0M639.7 335.0h0M641.4 335.1h0M644.1 339.7h0M635.3 362.7h0M625.0 359.2h0M632.7 351.4h0M630.1 366.4h0M629.2 366.9h0M633.1 340.6h0M643.0 325.1h0M636.8 360.0h0M637.5 337.0h0M624.1 339.7h0M626.7 337.0h0M641.6 343.0h0M636.4 347.4h0M635.6 348.8h0M634.4 364.1h0M630.5 353.1h0M640.1 355.9h0M638.2 358.4h0M635.8 338.5h0M637.1 347.5h0M637.0 361.3h0M644.0 340.3h0M630.7 344.3h0M634.5 363.1h0M630.7 353.3h0M640.9 354.4h0M642.3 335.6h0M627.8 335.7h0M624.5 364.9h0M624.2 364.8h0M641.0 354.5h0M643.4 324.8h0M642.5 341.9h0M633.8 349.5h0M630.0 344.5h0M623.4 349.6h0M625.7 338.3h0M620.9 344.8h0M644.0 336.7h0M640.8 335.1h0M624.2 360.3h0M637.3 337.1h0M631.0 366.5h0M636.6 361.2h0M632.4 331.9h0M621.7 343.7h0M643.8 337.5h0M625.4 358.7h0M636.6 360.7h0M621.9 342.2h0M633.9 340.9h0M642.3 325.5h0M633.8 340.9h0M632.7 341.4h0M622.5 348.9h0M628.2 366.7h0M625.8 338.0h0M640.5 326.6h0M633.4 341.3h0M643.9 340.7h0M637.7 359.4h0M637.2 337.3h0M641.0 335.2h0M628.7 334.5h0M624.4 364.5h0M640.8 326.4h0M627.4 346.8h0M622.0 341.9h0M641.6 326.0h0M625.1 365.5h0M643.7 324.7h0M635.0 348.8h0M632.5 341.6h0M636.0 347.9h0M637.7 346.9h0M628.0 354.9h0M623.9 360.4h0M626.3 337.2h0M642.4 325.4h0M638.9 358.1h0M631.9 365.3h0M631.1 332.6h0M621.7 343.0h0M640.3 326.9h0M641.4 353.1h0M620.2 345.9h0M629.5 354.4h0M630.6 353.6h0M632.2 365.9h0M625.8 338.3h0M638.5 357.9h0M636.7 328.4h0M631.5 352.4h0M634.7 349.6h0M627.8 367.2h0M624.8 358.9h0M635.2 348.9h0M623.8 361.4h0M634.5 340.1h0M631.4 352.2h0M643.1 341.0h0M637.6 346.9h0M640.1 344.8h0M641.2 353.8h0M626.4 357.5h0M633.5 364.4h0M641.4 353.4h0M624.7 365.4h0M628.0 366.9h0M624.7 359.2h0M622.9 340.6h0M635.3 362.1h0M638.4 346.4h0M626.4 366.4h0M626.7 357.0h0M628.9 355.2h0M644.2 324.7h0M643.1 342.3h0M633.2 331.3h0M630.1 333.1h0M635.2 362.2h0M623.7 340.3h0M632.9 331.6h0M621.4 348.3h0M634.4 363.3h0M629.2 334.4h0M629.7 354.7h0M640.2 345.1h0M630.3 344.5h0M627.4 366.5h0M624.1 360.3h0M639.9 326.5h0M638.7 335.9h0M621.1 347.7h0M627.6 366.5h0M632.1 341.9h0M635.0 339.2h0M625.3 358.2h0M628.5 345.6h0M622.3 341.6h0M633.8 363.6h0M640.8 344.7h0M624.2 364.9h0M625.2 366.0h0M629.1 354.2h0M638.5 358.1h0M634.0 340.3h0M632.7 351.2h0M641.9 325.8h0M631.8 365.6h0M624.7 348.6h0M633.9 340.1h0M642.5 325.1h0M624.1 339.5h0M635.7 348.3h0M626.2 337.2h0M624.8 365.3h0M631.2 343.2h0M623.6 362.4h0M640.9 326.3h0M626.2 357.6h0M628.5 335.7h0M631.1 332.6h0M637.2 360.6h0M621.0 347.7h0M639.0 346.0h0M644.5 337.3h0M636.0 329.3h0M637.7 346.7h0M623.4 339.9h0M640.2 344.8h0M621.9 348.9h0M642.3 342.6h0M627.5 347.3h0M638.5 358.3h0M644.5 338.8h0M640.8 335.0h0M620.5 344.4h0M623.7 340.5h0M628.7 345.1h0M621.2 347.0h0M638.3 359.5h0M634.9 330.0h0M643.3 341.2h0M642.3 326.1h0M644.4 339.6h0M624.0 363.8h0M623.9 339.7h0M639.0 357.4h0M639.4 336.2h0M622.7 349.0h0M638.1 327.8h0M633.1 364.8h0M635.6 329.7h0M624.3 339.7h0M637.2 337.6h0M627.8 346.6h0M632.1 342.3h0M638.2 358.6h0M639.6 326.9h0M638.4 359.0h0M643.2 336.1h0M639.5 357.4h0M627.5 346.7h0M622.3 342.3h0M643.4 340.3h0M637.5 359.9h0M639.6 326.9h0M633.3 350.4h0M644.6 339.1h0M629.5 354.3h0M634.3 339.8h0M622.7 341.5h0M635.4 338.5h0M630.3 353.5h0M627.4 335.9h0M639.2 335.6h0M636.0 348.6h0M642.7 341.7h0M636.0 362.0h0M637.4 347.2h0M644.3 337.2h0M636.9 338.3h0M639.9 325.9h0M632.6 351.4h0M627.0 346.8h0M626.8 356.1h0M632.4 341.8h0M624.2 340.1h0M640.6 355.3h0M635.2 338.9h0M620.5 344.7h0M633.0 331.2h0M625.1 366.1h0M623.4 349.0h0M641.2 354.2h0M638.8 346.2h0M626.4 366.3h0M624.0 348.9h0M626.3 366.4h0M623.7 363.9h0M623.7 360.0h0M635.9 338.3h0M636.8 337.1h0M639.3 345.6h0M620.9 345.9h0M628.4 335.5h0M638.1 346.5h0M625.3 359.0h0M629.4 334.6h0M640.1 335.5h0M625.6 365.7h0M621.2 344.6h0M636.2 337.7h0M630.3 366.8h0M632.2 342.4h0M632.2 365.2h0M644.5 339.8h0M635.5 362.6h0M627.4 356.8h0M628.6 366.8h0M620.4 344.7h0M639.1 336.2h0M625.0 348.9h0M623.0 349.4h0M627.5 346.6h0M629.2 366.5h0M631.6 352.1h0M644.1 339.9h0M631.6 365.6h0M631.6 332.5h0M643.9 339.4h0M637.4 337.2h0M630.0 334.2h0M638.1 358.9h0M640.6 354.3h0M630.5 353.1h0M632.6 365.7h0M627.1 336.5h0M634.2 363.5h0M643.6 324.8h0M621.1 343.6h0M629.6 333.8h0M623.8 362.0h0M631.9 365.4h0M635.3 363.1h0M629.8 344.1h0M624.1 339.2h0M626.0 338.1h0M636.2 361.6h0M639.4 335.8h0M636.3 361.1h0M636.6 347.8h0M636.6 360.8h0M633.4 340.6h0M624.0 348.7h0M634.1 363.9h0M620.9 345.6h0M626.0 366.0h0M642.1 325.5h0M644.1 338.2h0M635.3 349.1h0M633.2 365.2h0M627.8 346.4h0M638.4 336.8h0M640.9 335.1h0M633.3 350.7h0M627.7 346.3h0M640.0 356.3h0M642.0 325.2h0M633.2 364.6h0M633.6 340.3h0M641.2 354.0h0M636.0 338.6h0M637.5 336.7h0M640.6 335.4h0M628.0 346.7h0M625.6 365.7h0M628.0 346.7h0M623.1 340.8h0M624.1 363.9h0M640.7 344.5h0M641.3 353.1h0M633.5 330.9h0M642.3 325.2h0M634.6 330.3h0M624.4 338.8h0M634.1 350.4h0M634.5 349.7h0M622.8 341.7h0M625.5 365.7h0M633.3 341.1h0M641.3 335.1h0M621.1 345.3h0M634.5 340.2h0M628.0 367.1h0M637.3 346.8h0M621.0 345.5h0M626.0 337.8h0M626.5 366.7h0M623.1 349.3h0M631.4 332.7h0M627.3 356.8h0M629.0 345.6h0M629.0 334.8h0M643.6 341.0h0M636.6 348.3h0M643.1 342.1h0M642.5 335.9h0M632.9 364.8h0M635.3 329.6h0M631.9 365.7h0M631.2 352.7h0M640.5 335.4h0M621.7 343.5h0M630.8 332.9h0M627.5 336.2h0M630.9 343.7h0M625.7 366.3h0M639.6 335.6h0M639.3 356.6h0M622.6 341.5h0M635.5 338.5h0M629.9 354.1h0M642.5 325.1h0M623.4 363.8h0M625.3 358.9h0M628.5 345.9h0M634.5 339.4h0M643.1 336.1h0M621.1 348.0h0M640.3 355.2h0M633.6 340.5h0M640.9 344.9h0M642.6 342.2h0M639.2 336.3h0M640.2 356.1h0M630.6 353.3h0M627.0 366.7h0M622.4 348.7h0M632.6 331.9h0M620.9 346.7h0M629.6 334.2h0M633.8 339.6h0M640.9 335.3h0M630.3 344.2h0M642.2 325.1h0M632.8 351.7h0M630.2 366.7h0M623.2 348.9h0M638.1 336.8h0M633.1 341.2h0M640.8 344.5h0M627.5 346.5h0M643.9 340.5h0M621.7 348.6h0M627.1 366.2h0M643.6 340.9h0M631.2 343.0h0M638.6 327.6h0M634.9 339.5h0M623.7 348.8h0M632.4 342.3h0M635.2 329.7h0M628.5 334.5h0M633.9 330.6h0M628.6 366.9h0M636.0 361.5h0M637.3 328.3h0M642.7 335.4h0M624.1 364.0h0M627.9 346.6h0M627.1 366.1h0M621.5 343.2h0M630.0 353.6h0M635.2 362.5h0M624.0 363.8h0M621.3 343.6h0M643.3 341.5h0M639.7 356.2h0M641.0 354.2h0M630.6 333.3h0M642.4 325.1h0M621.5 343.9h0M632.5 332.2h0M626.8 337.6h0M634.5 349.4h0M634.1 331.2h0M631.9 332.0h0M635.3 329.5h0M637.2 347.0h0M635.5 348.7h0M635.5 349.2h0M626.7 347.3h0M637.1 336.7h0M630.2 366.3h0M637.9 336.8h0M635.1 349.0h0M644.1 336.6h0M638.2 336.5h0M627.2 336.2h0M622.0 349.0h0M651.7 349.1h0M656.7 330.5h0M659.6 347.8h0M658.7 359.6h0M669.4 359.6h0M658.3 334.0h0M660.9 348.3h0M657.9 344.4h0M667.9 351.2h0M668.9 362.3h0M657.7 331.4h0M668.0 355.1h0M657.6 331.0h0M667.5 365.2h0M653.3 328.4h0M657.5 335.7h0M649.0 339.1h0M656.4 329.4h0M668.5 363.8h0M648.6 335.9h0M666.1 341.6h0M652.3 349.9h0M651.7 348.5h0M660.3 348.6h0M668.6 347.6h0M657.9 332.7h0M660.4 348.2h0M657.9 337.4h0M649.3 332.9h0M648.9 341.2h0M664.1 371.0h0M662.1 341.2h0M667.6 342.9h0M651.0 329.0h0M667.7 350.2h0M659.4 360.1h0M658.5 374.4h0M668.0 347.6h0M661.8 344.1h0M668.7 356.8h0M669.4 359.3h0M662.9 371.8h0M654.3 328.1h0M657.1 341.1h0M652.2 349.3h0M657.2 358.1h0M654.1 353.6h0M663.1 341.1h0M668.6 347.3h0M668.5 348.6h0M649.6 336.0h0M668.1 356.4h0M668.4 350.4h0M658.4 335.0h0M656.6 329.2h0M657.5 339.6h0M668.5 360.1h0M668.0 349.0h0M662.1 342.4h0M667.1 366.4h0M656.4 356.9h0M667.8 344.6h0M662.8 371.8h0M657.5 340.4h0M650.1 331.3h0M668.3 349.3h0M655.6 355.8h0M668.5 348.7h0M662.2 341.5h0M655.2 328.5h0M661.4 346.4h0M667.0 367.2h0M658.7 359.7h0M656.9 341.0h0M648.4 337.7h0M667.4 365.7h0M652.5 348.9h0M649.5 339.0h0M649.9 344.7h0M668.5 362.0h0M667.6 364.7h0M658.6 374.5h0M657.5 358.3h0M656.0 329.0h0M650.9 330.2h0M662.4 372.2h0M663.2 340.5h0M668.6 354.9h0M668.2 350.1h0M657.6 357.9h0M649.5 342.9h0M667.9 350.1h0M652.5 349.6h0M656.8 358.0h0M650.5 330.0h0M667.8 353.1h0M668.2 361.3h0M661.1 346.3h0M657.5 336.0h0M664.5 368.9h0M648.9 336.5h0M658.4 334.5h0M668.3 362.9h0M668.7 362.3h0M658.0 332.3h0M668.5 361.6h0M668.5 361.6h0M658.0 335.9h0M657.7 359.3h0M650.0 330.2h0M657.8 339.5h0M663.6 371.3h0M660.4 373.3h0M654.1 352.5h0M649.7 335.5h0M656.4 357.0h0M656.4 357.5h0M654.8 328.6h0M658.3 360.1h0M658.6 359.0h0M669.2 359.3h0M652.7 350.0h0M661.7 346.2h0M666.8 342.3h0M658.5 335.9h0M649.0 340.3h0M661.7 343.4h0M658.9 360.5h0M653.4 351.1h0M661.4 345.5h0M658.2 346.6h0M667.9 346.8h0M650.1 343.8h0M651.0 345.7h0M656.6 328.7h0M665.6 341.5h0M661.7 341.6h0M669.0 363.0h0M657.4 345.7h0M661.9 346.9h0M650.2 331.2h0M662.4 371.2h0M656.9 329.8h0M664.9 369.9h0M661.9 343.9h0M650.0 345.2h0M667.5 342.6h0M656.8 329.1h0M668.6 349.3h0M662.6 343.6h0M667.6 344.0h0M657.2 341.6h0M666.8 367.3h0M661.6 372.7h0M667.9 349.5h0M668.7 356.8h0M669.1 359.0h0M662.7 341.8h0M665.0 340.8h0M650.1 345.9h0M658.1 333.5h0M665.2 369.8h0M654.9 355.0h0M662.4 372.0h0M657.8 343.6h0M649.3 338.9h0M649.8 333.0h0M668.0 345.9h0M668.5 349.9h0M652.1 348.4h0M666.3 366.0h0M662.5 342.3h0M657.8 344.9h0M669.1 360.5h0M656.9 340.1h0M653.1 350.6h0M662.9 372.0h0M668.0 353.6h0M666.1 367.5h0M652.7 328.6h0M667.1 342.5h0M669.5 359.4h0M657.9 346.7h0M649.5 334.9h0M654.6 353.5h0M657.9 342.8h0M660.1 347.7h0M657.4 330.1h0M668.1 345.0h0M659.6 360.1h0M668.1 352.0h0M659.0 348.2h0M658.0 333.0h0M668.0 362.4h0M664.7 340.7h0M654.4 328.0h0M668.2 348.4h0M657.9 341.2h0M658.0 341.8h0M649.9 344.6h0M668.1 344.2h0M657.8 331.9h0M652.5 349.5h0M666.2 341.7h0M658.5 374.5h0M658.0 334.3h0M658.8 374.2h0M668.7 352.3h0M658.4 337.8h0M650.9 330.6h0M657.6 338.0h0M662.3 371.9h0M655.5 355.3h0M657.3 340.9h0M659.6 348.2h0M655.6 356.4h0M661.5 346.4h0M668.5 355.4h0M655.6 328.7h0M667.7 363.6h0M650.3 344.4h0M657.2 341.3h0M650.2 345.4h0M649.1 343.2h0M659.1 360.3h0M657.7 358.6h0M661.7 345.0h0M658.7 359.9h0M650.3 346.5h0M668.5 347.8h0M649.1 342.5h0M657.6 344.4h0M657.5 357.0h0M667.7 354.8h0M658.6 347.9h0M658.3 359.8h0M658.4 347.0h0M656.0 355.7h0M657.8 358.9h0M665.0 340.9h0M662.4 342.5h0M657.9 358.9h0M666.9 366.2h0M652.0 328.8h0M668.5 350.2h0M658.8 347.1h0M667.9 347.2h0M656.8 356.7h0M655.5 355.9h0M650.2 345.4h0M665.6 369.0h0M657.4 358.4h0M657.6 339.7h0M668.3 349.2h0M657.5 345.2h0M667.6 342.6h0M651.9 349.4h0M660.8 372.6h0M667.9 352.6h0M659.3 373.7h0M669.2 362.2h0M667.4 343.7h0M664.7 340.5h0M657.6 344.3h0M658.4 334.1h0M662.0 372.5h0M668.1 348.6h0M663.5 371.6h0M668.4 351.7h0M658.8 347.1h0M667.8 346.6h0M649.1 341.5h0M658.5 334.0h0M657.6 337.0h0M657.6 332.8h0M666.4 368.0h0M668.1 352.8h0M662.1 372.8h0M655.3 327.8h0M665.3 340.4h0M648.5 338.5h0M668.4 345.4h0M650.5 346.4h0M653.1 350.7h0M667.0 341.5h0M653.2 351.0h0M652.8 328.4h0M664.0 340.5h0M658.1 333.8h0M658.1 345.2h0M654.6 353.2h0M651.5 348.8h0M666.5 341.8h0M658.4 333.7h0M661.9 343.5h0M660.8 347.4h0M662.3 372.6h0M652.3 328.4h0M667.3 365.0h0M666.2 341.0h0M668.8 357.8h0M658.2 345.6h0M668.3 355.8h0M658.3 374.9h0M658.2 344.4h0M648.9 338.9h0M653.6 327.8h0M652.9 350.2h0M649.0 332.5h0M669.1 361.5h0M662.0 372.8h0M655.3 354.0h0M666.7 342.9h0M668.2 363.8h0M649.1 340.3h0M668.2 363.7h0M667.2 342.7h0M648.9 340.0h0M650.5 346.3h0M668.9 356.4h0M667.8 355.5h0M656.9 341.0h0M668.6 351.1h0M668.1 354.2h0M657.3 358.1h0M658.7 374.6h0M667.9 353.4h0M658.1 374.7h0M662.2 345.9h0M668.3 348.2h0M668.0 356.4h0M661.7 344.4h0M649.3 343.1h0M649.3 339.6h0M665.0 341.1h0M668.0 350.7h0M657.6 336.9h0M649.1 339.6h0M660.8 348.4h0M662.1 344.0h0M661.4 346.5h0M664.4 370.1h0M649.4 344.7h0M659.5 373.1h0M664.6 369.3h0M649.4 334.8h0M666.0 368.5h0M668.0 345.1h0M668.3 346.6h0M668.4 355.5h0M655.1 355.0h0M668.3 346.1h0M653.5 352.3h0M649.8 344.6h0M661.6 343.1h0M660.7 373.3h0M661.6 372.2h0M667.7 353.7h0M658.1 375.3h0M667.8 354.5h0M662.0 344.5h0M664.3 370.2h0M657.5 337.2h0M657.8 345.1h0M668.5 353.0h0M662.1 344.1h0M657.4 341.3h0M659.8 348.5h0M658.0 359.2h0M649.3 339.3h0M656.4 329.2h0M665.5 369.2h0M668.3 348.9h0M656.6 329.7h0M666.7 341.4h0M668.0 346.3h0M667.9 364.5h0M657.8 338.6h0M659.7 373.9h0M658.1 342.9h0M654.3 328.0h0M668.3 363.7h0M649.0 333.6h0M668.6 351.2h0M650.8 330.1h0M659.6 347.3h0M656.2 328.8h0M669.0 358.1h0M654.4 352.3h0M657.3 358.3h0M651.5 347.8h0M664.5 340.3h0M667.9 346.7h0M668.5 350.4h0M668.9 360.7h0M668.2 349.5h0M668.5 348.6h0M668.6 357.6h0M657.1 338.1h0M649.1 332.7h0M653.6 350.3h0M668.7 359.0h0M661.1 372.7h0M657.7 343.0h0M655.5 328.6h0M657.6 342.2h0M665.5 340.9h0M661.6 345.0h0M667.8 356.9h0M668.1 364.2h0M662.1 344.9h0M667.9 353.0h0M657.8 345.2h0M663.4 371.3h0M664.2 340.9h0M649.3 343.7h0M668.9 360.0h0M658.6 335.3h0M651.5 329.4h0M657.5 338.6h0M650.1 344.2h0M669.2 359.0h0M648.7 335.2h0M659.8 374.2h0M667.9 355.8h0M661.9 343.9h0M664.8 341.1h0M652.4 349.9h0M658.3 334.6h0M658.1 335.8h0M650.2 346.4h0M658.2 338.0h0M649.8 338.0h0M669.2 358.5h0M656.2 355.9h0M665.8 340.8h0M657.9 338.1h0M657.7 339.9h0M662.3 372.6h0M649.4 342.1h0M669.2 361.6h0M651.8 349.5h0M649.8 330.5h0M652.8 349.9h0M659.3 347.2h0M654.6 353.2h0M668.6 348.3h0M648.7 336.8h0M669.0 362.1h0M659.0 360.5h0M668.2 345.8h0M668.2 346.2h0M654.8 328.2h0M661.3 347.7h0M658.6 360.2h0M657.9 344.0h0M648.8 337.1h0M661.6 346.1h0M657.6 343.2h0M650.8 347.2h0M657.5 342.4h0M667.2 364.8h0M659.2 360.1h0M649.3 341.3h0M649.0 333.4h0M658.0 334.7h0M649.1 341.9h0M656.6 356.4h0M661.1 346.1h0M659.1 360.6h0M657.6 342.2h0M658.8 359.9h0M651.8 328.9h0M653.6 352.4h0M650.7 346.0h0M658.2 345.2h0M649.2 333.3h0M669.0 360.9h0M655.5 329.4h0M661.0 345.8h0M653.1 331.7h0M655.5 338.2h0M653.0 345.9h0M650.7 337.0h0M654.2 347.0h0M653.9 333.5h0M654.7 344.5h0M656.0 343.2h0M652.3 337.1h0M655.1 336.0h0M654.3 333.7h0M652.7 332.6h0M655.2 344.0h0M656.1 347.0h0M652.7 335.7h0M653.0 334.7h0M655.2 334.1h0M650.8 334.4h0M654.6 330.5h0M652.6 332.5h0M651.9 329.6h0M652.2 343.4h0M651.1 343.8h0M654.6 347.0h0M652.4 339.6h0M665.9 351.9h0M679.0 361.5h0M672.5 361.3h0M675.9 354.8h0M670.1 337.4h0M670.5 337.8h0M663.8 346.0h0M671.6 338.7h0M677.2 356.8h0M673.2 362.0h0M665.1 349.6h0M679.6 359.6h0M670.6 360.1h0M665.4 350.6h0M677.3 348.6h0M668.3 355.9h0M669.8 358.7h0M676.6 355.3h0M677.5 348.7h0M678.0 357.8h0M676.8 356.0h0M668.5 335.8h0M679.1 358.4h0M666.3 352.4h0M674.5 362.8h0M670.1 337.1h0M677.0 363.1h0M677.3 356.6h0M668.3 356.0h0M671.1 338.9h0M675.9 363.0h0M677.2 344.3h0M679.2 359.4h0M675.3 352.0h0M679.4 361.0h0M672.4 339.6h0M668.0 356.1h0M671.1 360.6h0M671.6 339.3h0M676.0 363.1h0M677.5 356.0h0M676.9 363.0h0M670.2 359.0h0M668.9 356.8h0M677.9 347.6h0M676.8 362.9h0M669.9 337.4h0M665.4 350.7h0M676.9 344.1h0M670.4 337.6h0M669.7 359.1h0M673.1 340.2h0M678.0 347.7h0M675.6 354.9h0M669.9 337.1h0M670.7 337.8h0M669.6 336.7h0M677.7 344.8h0M667.8 354.7h0M669.4 336.8h0M677.0 349.5h0M678.1 345.9h0M673.4 340.8h0M665.7 351.0h0M668.9 335.9h0M675.6 342.9h0M668.9 336.0h0M667.5 354.9h0M678.1 347.2h0M673.5 362.1h0M664.9 348.9h0M677.7 347.0h0M664.2 347.5h0M677.8 345.9h0M675.3 352.9h0M664.1 346.7h0M677.2 356.5h0M666.1 351.5h0M666.9 353.7h0M670.6 359.3h0M679.4 359.9h0M664.6 347.7h0M673.4 341.0h0M678.0 357.2h0M665.7 350.8h0M664.4 347.3h0M676.0 351.3h0M670.2 359.1h0M677.6 357.0h0M676.7 343.8h0M675.7 354.3h0M673.0 340.6h0M668.0 355.9h0M665.7 350.2h0M665.3 350.0h0M678.7 361.8h0M669.8 336.7h0M676.8 349.8h0M669.9 359.0h0M679.7 360.1h0M676.0 351.1h0M679.3 360.3h0M671.0 338.2h0M678.0 362.7h0M678.9 358.1h0M670.0 358.9h0M674.3 362.0h0M678.9 358.4h0M673.5 341.2h0M674.2 341.8h0M670.1 337.5h0M678.9 362.1h0M678.0 347.5h0M671.1 359.2h0M670.6 359.8h0M675.9 351.2h0M672.1 361.0h0M678.0 347.6h0M676.9 344.3h0M669.8 337.1h0M674.2 341.5h0M668.0 356.6h0M677.3 348.4h0M677.9 362.8h0M675.0 342.4h0M672.7 340.0h0M675.8 351.3h0M670.3 337.3h0M674.5 362.7h0M671.2 360.2h0M665.8 351.9h0M669.5 336.9h0M675.2 352.7h0M674.8 342.4h0M663.3 346.1h0M672.8 361.7h0M676.5 350.1h0M668.6 356.6h0M670.7 338.3h0M668.3 355.8h0M670.3 359.3h0M676.9 349.2h0M675.5 352.1h0M676.8 355.9h0M663.7 346.6h0M663.9 346.7h0M677.1 356.4h0M673.9 341.5h0M665.6 351.3h0M679.3 359.9h0M676.3 349.9h0M676.3 343.5h0M675.3 354.0h0M675.7 355.0h0M676.6 363.0h0M679.0 358.6h0M679.6 359.8h0M677.6 345.8h0M678.0 347.2h0M674.7 342.4h0M679.3 359.1h0M672.3 340.0h0M678.3 346.7h0M676.4 355.6h0M671.5 338.9h0M675.6 352.1h0M668.3 356.2h0M669.7 358.2h0M677.8 347.7h0M670.6 360.5h0M669.4 335.9h0M666.8 354.0h0M679.3 359.2h0M678.5 347.3h0M676.0 351.2h0M677.2 362.9h0M675.8 354.5h0M676.4 350.7h0M667.5 355.5h0M670.0 359.1h0M667.8 355.7h0M678.9 362.0h0M676.9 349.6h0M678.4 346.6h0M676.2 343.6h0M669.1 336.4h0M677.8 357.0h0M669.3 336.3h0M666.6 353.1h0M666.6 352.7h0M666.3 353.0h0M666.7 354.1h0M679.2 361.4h0M666.4 353.3h0M670.2 359.5h0M676.0 363.0h0M676.7 362.9h0M670.5 359.3h0M676.3 350.5h0M671.1 360.3h0M664.4 347.3h0M671.2 360.2h0M678.3 346.2h0M679.5 361.3h0M677.3 362.8h0M673.6 340.7h0M676.7 343.7h0M667.2 353.9h0M675.9 351.5h0M667.4 355.2h0M670.8 338.3h0M671.9 339.3h0M678.6 358.1h0M679.5 358.8h0M679.4 359.7h0M672.2 361.1h0M664.9 348.6h0M675.1 352.6h0M663.9 345.7h0M671.5 360.6h0M677.5 349.0h0M678.0 347.2h0M675.1 352.4h0M665.0 348.3h0M664.3 346.6h0M670.3 337.7h0M666.1 351.4h0M678.1 348.2h0M672.7 340.4h0M676.5 362.6h0M638.2 371.4h0M647.2 383.5h0M647.4 351.1h0M641.4 362.2h0M649.2 363.7h0M647.4 375.9h0M649.6 354.0h0M644.1 382.1h0M642.3 380.5h0M650.2 356.6h0M639.0 375.4h0M642.5 356.5h0M646.6 382.9h0M640.6 365.5h0M648.3 379.0h0M650.6 356.2h0M640.8 378.4h0M650.1 357.8h0M642.1 359.3h0M638.2 371.1h0M646.6 377.9h0M645.9 369.1h0M649.4 362.8h0M642.7 349.4h0M641.2 362.6h0M650.3 380.8h0M641.9 380.7h0M642.3 380.6h0M639.4 367.6h0M640.0 376.3h0M637.9 370.0h0M647.3 367.7h0M637.4 370.6h0M642.9 356.0h0M649.7 361.8h0M642.4 350.0h0M641.3 379.5h0M650.7 381.0h0M639.1 375.0h0M639.3 366.8h0M641.5 360.4h0M649.4 362.4h0M647.6 350.4h0M646.9 382.8h0M639.9 365.4h0M640.4 365.2h0M638.6 367.7h0M641.5 361.6h0M641.5 357.1h0M646.0 349.7h0M650.2 357.5h0M650.1 361.9h0M642.6 356.9h0M650.8 360.4h0M639.5 364.7h0M644.5 372.5h0M639.6 366.0h0M646.7 382.2h0M642.4 355.1h0M638.9 368.3h0M642.4 380.7h0M648.9 379.5h0M644.9 371.9h0M638.3 369.7h0M641.8 380.5h0M647.1 377.5h0M648.3 379.9h0M645.2 368.6h0M642.7 381.6h0M639.8 377.4h0M649.7 362.7h0M650.2 379.7h0M639.9 365.4h0M647.8 351.7h0M642.6 349.9h0M642.1 349.6h0M649.8 358.4h0M650.2 382.6h0M641.4 350.3h0M644.4 349.8h0M650.3 355.1h0M642.2 360.9h0M642.3 350.3h0M650.1 357.4h0M647.1 365.1h0M640.8 364.1h0M645.3 383.3h0M650.3 357.2h0M643.6 359.1h0M649.5 381.8h0M644.9 349.7h0M640.5 364.3h0M642.5 361.0h0M639.7 365.3h0M649.8 360.3h0M649.3 354.3h0M650.0 382.3h0M643.0 349.7h0M642.4 357.4h0M650.2 361.8h0M642.9 349.5h0M640.2 379.4h0M638.4 372.7h0M642.0 355.6h0M650.0 382.2h0M646.1 375.7h0M642.5 359.1h0M650.7 379.9h0M648.2 378.0h0M650.3 354.5h0M640.0 378.2h0M647.9 378.6h0M638.5 373.4h0M645.8 375.3h0M644.8 370.9h0M650.0 355.0h0M650.6 380.1h0M638.5 374.8h0M646.7 367.2h0M647.7 367.2h0M645.9 350.4h0M648.7 352.7h0M650.4 361.2h0M639.8 364.9h0M644.2 349.9h0M641.1 364.1h0M649.7 362.6h0M646.1 349.6h0M649.3 379.5h0M645.4 370.2h0M646.7 368.6h0M646.1 349.9h0M646.6 366.1h0M650.0 361.8h0M638.9 374.1h0M639.8 377.9h0M650.5 360.0h0M640.7 378.9h0M647.7 364.6h0M650.9 380.5h0M650.7 358.2h0M638.5 374.2h0M644.2 350.0h0M645.8 350.3h0M650.1 380.3h0M640.8 363.2h0M648.2 363.6h0M649.7 379.1h0M641.6 354.4h0M638.3 373.2h0M643.1 381.2h0M644.2 349.7h0M644.4 373.0h0M649.6 380.2h0M640.2 379.1h0M642.7 380.7h0M638.4 375.3h0M646.6 367.8h0M644.2 350.2h0M639.4 366.2h0M649.0 382.6h0M650.4 355.4h0M642.3 355.3h0M646.4 382.5h0M642.8 381.1h0M649.6 361.3h0M645.2 374.8h0M649.6 382.7h0M641.0 378.9h0M648.5 351.5h0M644.3 371.7h0M648.2 364.4h0M648.5 364.2h0M649.6 379.2h0M642.0 381.0h0M649.7 360.7h0M639.6 366.0h0M646.8 365.8h0M648.2 382.9h0M649.0 379.0h0M638.6 376.1h0M641.4 351.0h0M638.5 369.1h0M645.6 370.6h0M650.9 381.6h0M645.2 373.7h0M649.7 354.1h0M641.0 362.9h0M645.0 372.2h0M646.8 377.4h0M645.9 350.4h0M638.1 371.2h0M639.2 366.5h0M638.8 372.1h0M642.9 381.4h0M645.8 349.5h0M640.6 364.5h0M638.6 368.0h0M640.4 379.1h0M650.6 382.3h0M642.2 360.1h0M639.2 375.0h0M650.3 360.7h0M642.4 354.9h0M649.8 361.5h0M649.7 379.3h0M649.9 355.3h0M647.2 377.3h0M641.2 379.7h0M645.5 371.6h0M639.1 369.5h0M647.6 350.3h0M643.6 349.4h0M638.8 373.2h0M641.7 361.7h0M645.8 375.3h0M645.8 350.6h0M649.9 379.4h0M645.1 376.1h0M648.1 350.9h0M648.4 382.9h0M646.3 368.1h0M645.5 349.9h0M641.7 362.8h0M638.7 373.9h0M650.0 379.9h0M638.2 371.1h0M638.4 372.0h0M645.6 371.2h0M650.7 356.8h0M646.5 350.1h0M644.8 371.5h0M641.1 379.4h0M638.8 367.7h0M642.5 362.2h0M651.5 381.2h0M638.7 367.9h0M638.5 370.0h0M640.7 365.8h0M641.5 350.5h0M649.8 356.2h0M647.7 377.7h0M640.9 380.1h0M643.5 349.8h0M650.4 359.2h0M644.3 372.4h0M646.8 366.5h0M649.5 356.0h0M646.1 349.6h0M648.5 379.5h0M638.9 368.3h0M644.4 349.5h0M639.9 366.7h0M646.0 368.3h0M645.6 369.5h0M637.6 372.5h0M642.0 353.3h0M649.3 354.9h0M646.8 350.8h0M642.7 354.0h0M638.2 371.2h0M641.9 354.3h0M641.8 355.6h0M649.5 379.7h0M641.5 349.9h0M650.2 358.2h0M649.2 380.2h0M638.6 372.4h0M642.7 358.7h0M642.0 359.6h0M637.8 371.2h0M648.3 379.0h0M645.4 370.0h0M642.4 359.0h0M645.9 373.6h0M641.0 363.1h0M648.4 352.0h0M650.2 356.0h0M639.0 376.0h0M645.1 369.7h0M650.0 353.1h0M639.6 378.5h0M649.3 353.0h0M640.8 379.5h0M648.7 363.9h0M642.1 361.8h0M651.1 357.9h0M641.6 351.7h0M638.2 372.9h0M644.7 370.3h0M638.1 369.7h0M648.7 363.8h0M649.8 357.7h0M639.0 377.1h0M647.0 377.1h0M650.6 358.7h0M648.4 379.1h0M650.7 360.2h0M647.2 383.1h0M646.5 366.3h0M639.0 377.8h0M647.0 377.3h0M647.8 377.5h0M648.4 364.5h0M642.1 381.5h0M645.7 368.8h0M641.8 361.3h0M642.7 381.3h0M642.1 359.8h0M650.2 357.2h0M643.9 381.6h0M649.7 362.2h0M641.3 352.0h0M648.6 353.0h0M637.9 374.6h0M640.1 366.7h0M641.3 350.9h0M647.5 366.9h0M649.7 355.3h0M641.0 364.5h0M641.2 354.5h0M642.0 358.3h0M650.3 382.1h0M642.5 360.1h0M644.0 381.4h0M641.4 349.8h0M639.1 375.7h0M648.8 378.7h0M641.2 353.1h0M648.5 378.9h0M645.1 372.6h0M650.3 379.9h0M641.3 350.2h0M647.0 377.4h0M650.6 360.6h0M645.8 381.9h0M641.4 379.6h0M648.7 377.8h0M642.5 357.1h0M638.2 368.8h0M644.8 372.5h0M640.2 363.3h0M642.9 358.3h0M650.1 359.4h0M645.8 349.7h0M642.8 349.4h0M645.3 370.2h0M640.8 364.0h0M645.8 371.2h0M641.4 354.5h0M642.8 358.2h0M642.7 357.9h0M645.6 371.0h0M641.3 361.4h0M650.3 357.3h0M638.4 368.2h0M649.7 378.8h0M648.2 377.8h0M650.2 382.4h0M644.5 373.4h0M645.9 369.7h0M649.1 352.8h0M647.1 377.7h0M646.7 369.0h0M648.2 364.0h0M642.3 358.5h0M650.4 357.6h0M640.5 364.0h0M650.0 355.0h0M647.6 382.6h0M650.5 382.4h0M650.6 354.7h0M645.6 375.5h0M650.6 359.3h0M639.6 365.9h0M644.0 349.6h0M643.1 350.3h0M645.2 376.0h0M648.3 382.8h0M639.2 377.6h0M642.6 373.4h0M645.4 381.8h0M648.8 382.2h0M647.3 352.0h0M642.3 365.1h0M646.9 366.4h0M639.3 372.8h0M643.0 368.7h0M643.4 351.4h0M642.2 353.7h0M641.1 365.7h0M646.2 377.2h0M640.7 369.9h0M642.0 364.2h0M646.8 360.4h0M641.0 376.6h0M641.7 380.1h0M648.8 383.1h0M643.5 375.4h0M639.6 373.3h0M643.5 376.2h0M647.0 358.6h0M645.8 362.9h0M648.1 362.3h0M645.5 360.8h0M645.2 364.8h0M646.7 359.6h0M640.9 377.0h0M645.0 354.5h0M646.5 380.3h0M643.2 373.1h0M639.3 375.6h0M644.7 370.7h0M646.9 357.8h0M643.0 355.8h0M642.6 357.7h0M639.5 365.5h0M643.5 368.2h0M644.7 368.5h0M644.7 381.9h0M645.0 359.0h0M643.9 374.6h0M642.5 366.1h0M647.4 354.2h0M649.1 353.6h0M642.5 361.8h0M647.8 383.9h0M645.0 351.5h0M644.0 377.7h0M641.9 368.5h0M641.2 370.8h0M647.2 360.7h0M646.9 378.4h0M641.8 375.5h0M640.4 370.4h0M645.7 353.8h0M648.1 380.9h0M639.8 365.7h0M641.3 374.3h0M640.9 375.7h0M638.7 371.8h0M644.7 350.1h0M640.8 379.1h0M643.5 376.1h0M642.6 371.7h0M639.6 369.4h0M643.8 359.3h0M648.0 364.9h0M650.3 357.7h0M646.6 366.5h0M646.2 366.3h0M645.3 378.9h0M647.7 364.1h0M643.1 366.1h0M644.2 359.2h0M642.9 379.5h0M647.5 358.2h0M643.1 377.9h0M646.9 361.2h0M643.5 370.2h0M645.0 370.8h0M650.0 360.2h0M642.9 358.9h0M651.4 358.4h0M646.6 380.7h0M644.2 366.4h0M649.4 361.7h0M640.0 369.5h0M640.3 374.5h0M648.7 357.9h0M641.7 365.4h0M644.4 351.4h0M642.3 350.9h0M643.1 360.7h0M647.3 352.3h0M645.6 362.4h0M646.7 351.0h0M639.8 366.0h0M642.2 366.1h0M643.2 378.5h0M642.9 362.9h0M649.6 358.0h0M645.1 364.0h0M649.9 380.9h0M642.0 351.4h0M646.0 350.8h0M647.0 353.4h0M648.4 358.8h0M649.9 362.5h0M643.8 357.2h0M644.7 364.5h0M644.5 379.2h0M649.5 358.0h0M640.4 376.5h0M647.0 376.5h0M643.4 370.2h0M642.3 357.0h0M641.9 370.6h0M638.9 367.4h0M647.5 361.1h0M645.0 351.8h0M651.1 381.1h0M639.8 370.6h0M639.7 378.0h0M644.3 375.2h0M641.7 378.4h0M643.8 371.8h0M643.7 350.4h0M642.9 377.3h0M650.6 381.7h0M645.4 366.5h0M647.8 352.8h0M649.8 380.3h0M641.6 361.0h0M644.1 364.3h0M645.0 350.3h0M642.6 364.6h0M649.5 360.0h0M643.6 371.7h0M643.1 380.9h0M642.4 368.2h0M642.9 375.6h0M641.3 375.0h0M646.1 381.6h0M643.4 355.3h0M649.5 359.2h0M646.2 370.4h0M648.3 353.8h0M645.0 358.7h0M645.9 379.3h0M646.7 362.1h0M647.1 361.6h0M640.4 369.9h0M649.2 354.0h0M640.6 369.2h0M649.4 359.6h0M647.6 364.3h0M644.5 378.6h0M648.6 355.6h0M641.4 362.4h0M649.4 370.4h0M664.2 373.0h0M666.6 365.9h0M648.6 371.0h0M652.2 369.7h0M657.3 359.3h0M653.9 367.3h0M649.5 374.9h0M660.9 357.0h0M658.5 361.9h0M662.0 357.7h0M666.6 364.5h0M663.6 359.2h0M666.4 366.4h0M662.7 374.0h0M653.5 376.3h0M665.4 371.4h0M658.9 364.7h0M662.0 374.2h0M666.4 362.6h0M658.0 358.4h0M657.6 376.0h0M662.3 357.8h0M661.3 374.4h0M663.2 357.1h0M658.0 361.6h0M665.2 372.0h0M651.8 368.0h0M666.6 369.0h0M658.4 375.5h0M657.5 358.1h0M653.1 368.1h0M651.0 376.2h0M649.1 371.2h0M660.8 375.0h0M665.4 371.4h0M667.1 368.4h0M662.0 358.0h0M665.6 361.2h0M664.7 360.0h0M665.9 370.0h0M663.8 359.5h0M664.2 359.7h0M659.2 375.8h0M654.2 368.4h0M662.3 374.4h0M666.5 366.7h0M666.6 365.5h0M660.3 375.9h0M662.8 358.9h0M650.5 375.5h0M657.4 364.9h0M654.4 376.0h0M649.3 374.6h0M657.8 359.3h0M651.4 368.9h0M658.8 362.0h0M660.9 356.7h0M666.5 363.0h0M666.7 363.9h0M664.3 359.1h0M664.7 371.4h0M655.1 367.6h0M658.7 362.5h0M662.7 373.7h0M653.0 368.3h0M667.2 365.2h0M661.2 374.8h0M665.2 371.5h0M659.7 375.8h0M657.5 359.9h0M655.5 366.6h0M664.7 360.9h0M666.6 368.9h0M657.4 376.0h0M649.7 370.8h0M657.1 359.9h0M652.7 368.8h0M666.4 368.5h0M663.1 357.3h0M650.7 368.5h0M666.4 365.9h0M657.5 365.3h0M656.4 376.5h0M655.8 367.1h0M664.7 372.1h0M666.2 362.4h0M662.1 357.0h0M663.4 373.4h0M658.2 376.7h0M666.8 365.2h0M657.0 359.8h0M659.9 356.6h0M665.5 361.0h0M667.1 367.1h0M666.8 363.5h0M649.1 374.6h0M659.8 376.1h0M657.8 357.7h0M658.3 362.1h0M665.8 364.1h0M661.8 374.6h0M657.0 376.5h0M657.5 359.0h0M665.9 362.5h0M657.4 360.6h0M662.2 374.1h0M662.4 357.3h0M664.9 360.3h0M658.4 375.2h0M653.2 376.4h0M657.5 360.3h0M657.8 364.9h0M658.4 362.7h0M660.9 375.5h0M649.3 373.0h0M658.7 363.8h0M667.0 366.4h0M664.5 359.3h0M657.2 359.1h0M655.9 376.5h0M663.4 357.6h0M658.2 375.9h0M650.2 375.9h0M662.7 357.6h0M649.5 370.2h0M658.9 363.2h0M648.6 372.0h0M658.5 363.6h0M665.1 371.7h0M648.7 372.3h0M660.4 356.9h0M665.9 361.8h0M649.3 374.5h0M655.2 367.2h0M655.3 377.0h0M653.2 368.5h0M650.3 370.3h0M650.6 374.5h0M652.1 376.7h0M662.3 374.9h0M651.0 375.6h0M664.5 371.5h0M655.1 376.4h0M661.4 357.2h0M657.2 376.3h0M649.0 372.0h0M666.4 362.8h0M649.1 372.0h0M663.9 357.9h0M665.9 370.2h0M650.7 369.5h0M666.0 361.3h0M656.2 377.4h0M660.5 375.3h0M652.8 368.0h0M657.8 360.7h0M662.4 357.8h0M655.8 367.3h0M664.9 371.3h0M663.0 374.0h0M655.4 367.5h0M666.6 363.2h0M658.7 376.4h0M657.9 364.8h0M666.4 369.6h0M664.5 359.2h0M653.9 367.0h0M664.3 358.7h0M666.5 364.3h0M663.9 372.2h0M665.8 368.1h0M657.4 358.1h0M653.0 368.4h0M666.4 363.6h0M663.9 359.7h0M649.8 370.3h0M665.0 359.5h0M656.9 376.6h0M665.5 361.0h0M658.5 360.4h0M651.4 368.5h0M659.1 375.2h0M665.0 369.9h0M655.1 366.9h0M665.5 361.0h0M666.9 367.1h0M657.8 356.4h0M659.1 361.4h0M658.1 361.7h0M654.4 376.5h0M658.7 364.1h0M661.5 357.6h0M664.8 360.1h0M657.8 360.3h0M666.4 362.8h0M658.7 361.5h0M649.8 369.6h0M661.7 374.8h0M657.6 361.0h0M651.7 369.1h0M651.1 369.4h0M666.5 360.9h0M666.9 364.8h0M656.0 367.2h0M659.8 356.8h0M658.0 359.2h0M659.5 363.0h0M658.1 361.9h0M662.8 357.3h0M654.1 376.6h0M656.2 376.9h0M657.3 358.0h0M663.2 358.9h0M665.1 372.2h0M660.9 375.3h0M654.9 377.1h0M657.3 360.1h0M662.0 357.5h0M657.1 365.3h0M664.5 371.6h0M657.8 358.1h0M649.7 375.0h0M653.1 376.3h0M659.0 376.1h0M655.8 367.3h0M657.2 358.7h0M666.4 361.6h0M658.4 364.7h0M651.7 369.3h0M664.1 372.4h0M666.8 365.6h0M666.1 366.9h0M653.7 376.9h0M661.1 374.4h0M648.7 372.0h0M666.7 367.9h0M657.1 358.7h0M665.4 369.9h0M666.0 362.9h0M658.5 362.6h0M662.7 373.5h0M657.6 360.1h0M653.0 368.3h0M650.0 375.4h0M654.9 376.4h0M658.4 357.7h0M658.8 362.6h0M657.4 358.9h0M661.6 374.3h0M658.6 376.2h0M664.8 360.3h0M651.5 369.6h0M657.9 365.6h0M657.7 360.4h0M650.4 369.9h0M649.4 373.5h0M666.3 364.7h0M656.0 376.4h0M658.9 376.5h0M660.6 363.0h0M661.9 360.7h0M663.2 362.8h0M658.7 372.6h0M666.4 363.9h0M663.7 370.5h0M653.4 367.6h0M655.3 374.5h0M659.6 370.5h0M667.4 366.4h0M657.8 370.0h0M653.9 367.0h0M656.2 367.6h0M656.5 375.6h0M656.5 370.5h0M657.7 374.9h0M664.4 367.3h0M662.8 369.3h0M663.3 368.8h0M661.7 367.5h0M659.6 365.1h0M658.7 375.5h0M665.4 369.0h0M655.5 371.6h0M651.5 370.2h0M662.1 361.0h0M665.8 363.1h0M664.1 368.7h0M663.0 364.0h0M657.8 365.6h0M657.7 371.1h0M659.6 361.7h0M666.0 367.0h0M661.0 366.3h0M665.5 361.7h0M661.8 360.4h0M663.4 359.0h0M663.7 360.0h0M662.1 367.6h0M648.9 372.5h0M662.1 361.4h0M660.8 367.0h0M663.7 370.6h0M658.5 358.8h0M654.4 372.0h0M652.0 374.4h0M663.9 361.8h0M653.7 371.2h0M664.5 366.8h0M654.5 370.4h0M658.0 375.3h0M664.7 365.2h0M660.5 359.0h0M663.1 357.0h0M662.2 359.6h0M652.6 373.8h0M654.9 374.1h0M652.5 372.7h0M660.7 363.4h0M663.6 358.9h0M665.2 370.0h0M662.8 368.9h0M655.9 376.9h0M657.1 371.6h0M659.2 373.1h0M662.7 360.0h0M661.5 361.9h0M662.9 373.1h0M661.6 371.8h0M665.7 369.8h0M667.1 365.7h0M665.4 362.8h0M660.1 361.9h0M653.5 374.8h0M656.2 370.1h0M663.0 364.2h0M666.0 365.2h0M653.7 375.8h0M664.9 367.6h0M662.8 371.6h0M652.2 371.0h0M657.4 370.1h0M661.3 365.0h0M652.9 370.8h0M664.2 363.3h0M654.3 373.2h0M664.5 368.7h0M661.9 364.8h0M654.5 372.8h0M666.0 367.6h0" stroke="#3450a6" stroke-width="1.25" stroke-linecap="round" fill="none"/><path d="M667.8 335.0h0M666.2 334.1h0M665.6 333.3h0M666.5 334.1h0M665.9 333.7h0M666.6 334.5h0M667.3 334.3h0M666.3 334.2h0M665.5 333.2h0M666.8 334.5h0M665.3 333.3h0M667.2 334.8h0M668.1 335.5h0M666.6 334.3h0" stroke="#e8303c" stroke-width="1.25" stroke-linecap="round" fill="none"/>
<rect x="617.50" y="321.40" width="65.80" height="64.80" fill="none" stroke="#cfcfcf" stroke-width="1"/>
<text x="456.00" y="103.80" font-size="8.1" fill="#222" text-anchor="start" >1. Original data distribution</text>
<text x="416.90" y="204.40" font-size="8.2" fill="#222" text-anchor="start" >2.No-AL (Role of Auxiliary Learning Architecture)</text>
<text x="459.20" y="306.80" font-size="8.3" fill="#222" text-anchor="start" >3. No-SAT (Role of SAT)</text>
<text x="489.70" y="399.90" font-size="8.1" fill="#222" text-anchor="start" >4. HSL</text>
<rect x="451.6" y="408.1" width="101.8" height="15.1" rx="2" ry="2" fill="#fff" stroke="#d4d4d4" stroke-width="1"/>
<circle cx="459.4" cy="415.7" r="2.8" fill="#2f4aa8"/>
<circle cx="505.4" cy="415.7" r="2.8" fill="#e8202a"/>
<text x="468.60" y="418.30" font-size="8.3" fill="#222" text-anchor="start" >Normal</text>
<text x="516.00" y="418.30" font-size="8.2" fill="#222" text-anchor="start" >Abnormal</text>
</svg></body></html>
